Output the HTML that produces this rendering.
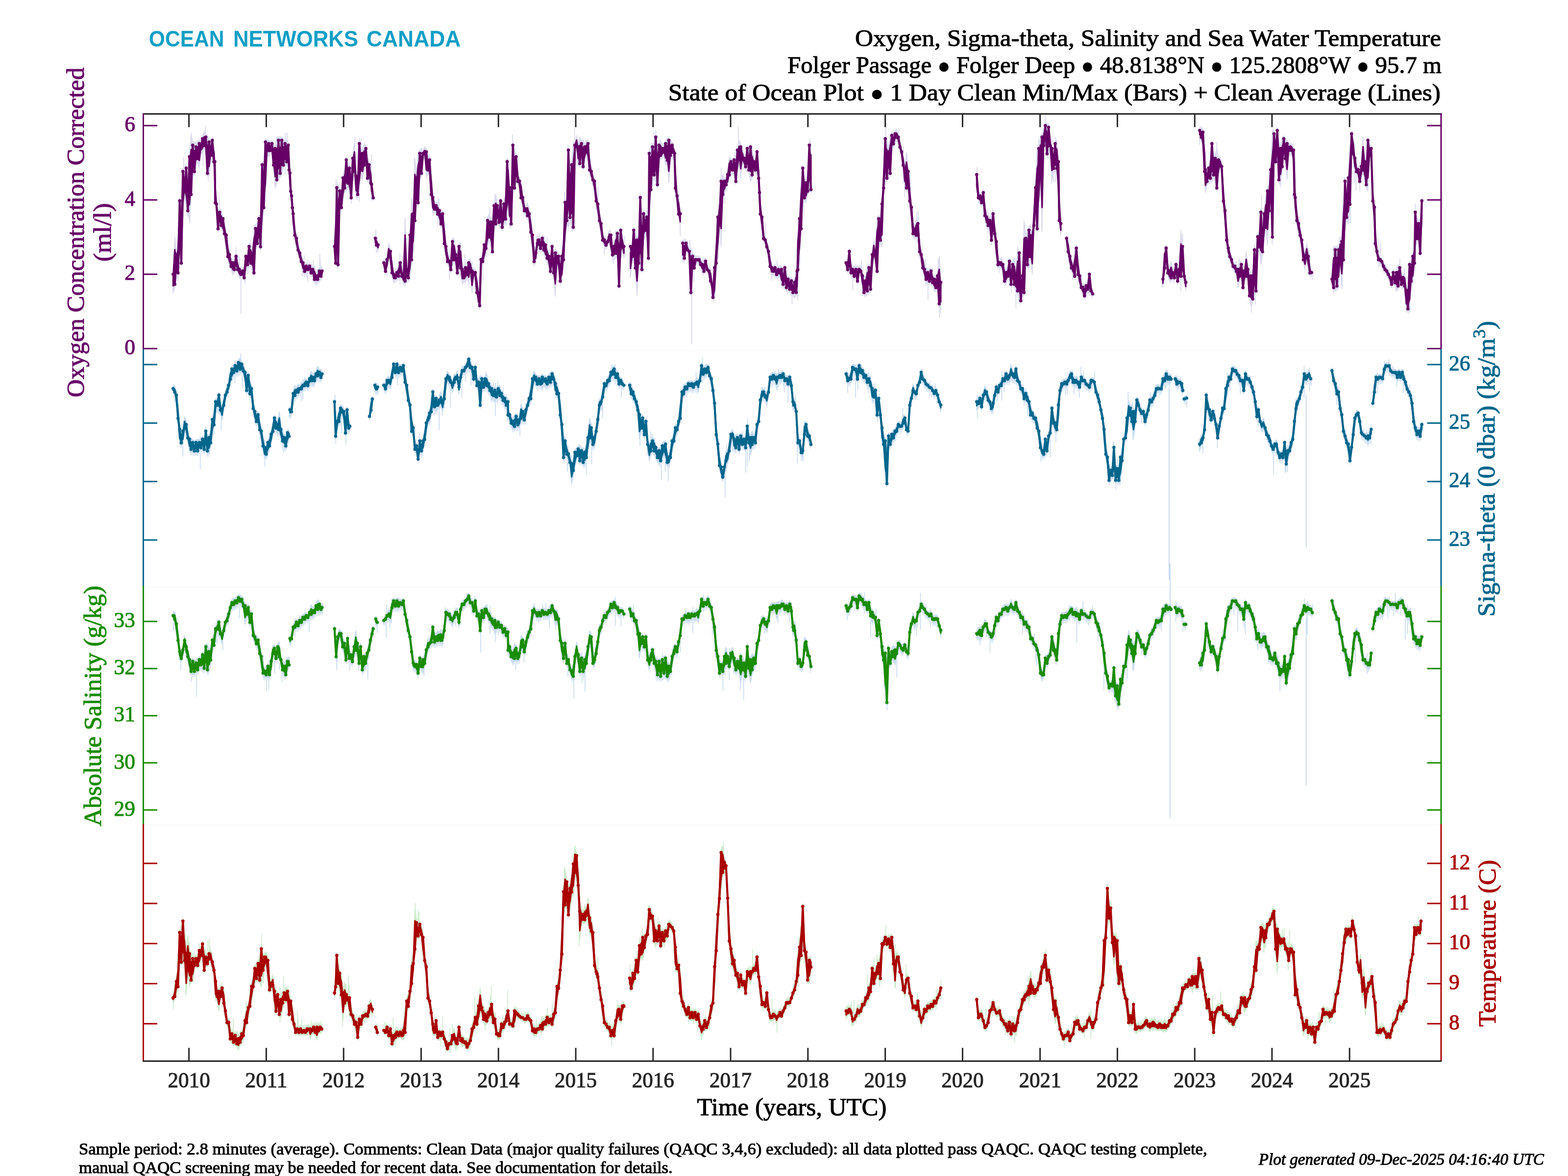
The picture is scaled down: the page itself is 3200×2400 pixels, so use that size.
<!DOCTYPE html>
<html><head><meta charset="utf-8"><title>Ocean Networks Canada - State of Ocean Plot</title><style>html,body{margin:0;padding:0;background:#fff;}svg{display:block;}</style></head><body>
<svg width="3200" height="2400" viewBox="0 0 3200 2400">
<rect width="3200" height="2400" fill="#fff"/>
<rect x="295" y="714.2" width="2644" height="3" fill="#fafafa"/>
<rect x="295" y="1196.2" width="2644" height="3" fill="#fafafa"/>
<rect x="295" y="1682.2" width="2644" height="3" fill="#fafafa"/>
<line x1="2386" y1="790" x2="2386" y2="1183" stroke="#c8dcef" stroke-width="2"/>
<line x1="2388" y1="1150" x2="2388" y2="1670" stroke="#c8dcef" stroke-width="2"/>
<line x1="2665.7" y1="807" x2="2665.7" y2="1117" stroke="#c8dcef" stroke-width="2"/>
<line x1="2665.7" y1="1267" x2="2665.7" y2="1603" stroke="#c8dcef" stroke-width="2"/>
<line x1="1411.7" y1="600" x2="1411.7" y2="703" stroke="#dcdcee" stroke-width="2"/>
<line x1="491.7" y1="567" x2="491.7" y2="640" stroke="#dcdcee" stroke-width="2"/>
<defs><clipPath id="pc"><rect x="294" y="234" width="2645" height="1930"/></clipPath></defs><g clip-path="url(#pc)">
<path d="M353.5 536V599M363.4 485.4V574.2M366.1 405.9V548.3M374.8 319.9V442.9M378.5 334V417.2M382.6 386.4V438.9M387.7 310.8V455.9M390.5 271.8V402.9M405.9 287.3V340.7M414.4 276.1V338.5M419.1 257.4V315.7M425.4 278.7V370.2M428.8 290.1V349.9M435.9 302.5V333.9M439.5 368.6V418.6M445.4 432.3V474.9M447.6 401.7V468M452.8 431.4V467.8M463.1 474.7V509.4M467.7 516.1V540.8M475.3 529.6V562.1M481.9 503.9V548.5M486.2 519.7V555.9M489.1 524.1V565.3M500.5 519.7V579.6M505.6 524.3V559M510.7 489.8V540.6M515.2 501.4V558.6M519.6 464.8V560.2M521.5 462.8V505.1M525.2 455.5V504M543.6 289.9V331.7M555.4 284.7V318.5M559.8 296V347.1M582.2 271.5V355.1M585.9 270.7V341M590.2 309.2V350.8M599 426.4V465.2M605.8 483.1V511.6M607.5 490.4V519.5M616.9 530.5V563.5M620.7 521.1V566.4M626.2 536.8V566.5M628.1 530.2V575.4M635.2 540.3V561.3M639.3 531.6V567.8M644 555.2V579.6M648.1 548.8V579.5M652.7 518V575.4M653.6 530.2V567M685.9 439.8V541.3M685.9 365.8V522.4M688.6 372.1V548.7M709.9 331.8V376.8M714 338.4V396.2M717.3 354.1V415.2M724.2 277.7V350.8M733.2 282.1V411.7M736.9 283.1V364.3M743.8 294.8V351.5M757.9 315.2V410.8M767.2 467.8V503.9M768.2 480.3V516.5M770.3 483.4V510.6M786.2 527.6V558M790 516.4V563.2M801.3 532.6V562.3M807.4 548.5V576.7M816.3 518.4V580.8M821.1 522.4V573.4M826.8 444.4V585M831.4 540.9V574.6M840.6 406.1V540.3M844.7 412.8V512.8M845.5 322.1V468.6M852.8 311.6V425.3M860.8 306.5V358.6M863.9 306.9V327.3M870.7 305.6V366.4M872.4 314V355.2M876.4 317.3V361.6M880.4 348.5V406.8M894.1 403.4V461M896.1 406.2V452.2M905.9 449.6V502.7M911 495.6V537.4M913 507.4V536.8M917.2 510.6V571.1M920 518.6V559.6M925.4 489.1V533.7M939.1 498.2V566.5M948.7 519.1V578.9M956.6 527.5V581.7M963.9 535.1V595.1M967.4 545.8V565.3M970 553.2V586.8M985.3 514.4V572.7M992.9 482.4V523.5M999.5 423V497.3M1009 416.1V470.4M1010.2 396.5V469.2M1019.7 417.9V460.4M1033.2 391.8V460.9M1040.3 369.3V462.7M1042 398.3V464.2M1045.9 274.4V393.9M1070.3 405.3V433.7M1076.6 415.2V449.5M1084.7 445.6V483.4M1089.4 498.2V544.1M1094 510.5V533.5M1095.3 482V512.6M1101.2 475.6V507.1M1111.2 482.2V519.2M1116.7 484.5V541.5M1121.4 506.4V548.3M1123.7 525.1V558.7M1126.8 498.9V555.3M1132.6 506.4V604.9M1152.2 392.1V507.1M1159.3 294.1V467.5M1172.6 262.1V332.3M1178.7 294.1V338.3M1186.8 289.4V320.8M1199.9 288.1V330.5M1208.9 346.7V378.8M1216.4 390.9V428.3M1220.5 381.3V436.9M1232.9 485.9V518.7M1235.4 483.4V509.3M1244.2 472.7V488.8M1249.4 496.3V534M1252.3 496.5V538.3M1255.5 470.1V527.6M1270.9 480.4V510.1M1274.6 482V525.9M1286.3 496.4V567.9M1289.1 506.7V541M1304.1 473V543M1306.7 393.7V547.5M1320.1 427.6V477.5M1324 425V530.8M1329.1 291.6V392.5M1332.5 290.8V379.7M1334.5 269.1V370M1338.4 266.5V377.8M1346 284.5V350.6M1374.8 298.7V325.5M1377.3 338.2V391.6M1383.1 396.2V410M1385.4 394.7V441.8M1388.2 426.3V481.6M1392.2 491.7V532.2M1397.3 486.1V532.3M1399.3 491.8V519.4M1403.5 489.7V519.2M1407.8 490.3V523.8M1415.8 522.9V576.5M1423.4 520.9V536.2M1431.9 531.5V557.5M1445.6 546.9V562.7M1461.8 492V553.2M1466 425V528.9M1467.6 403.2V460.9M1471.6 341.8V504.6M1479.2 362.4V415.7M1482.6 364.8V387.1M1489.3 320.3V363.3M1491.1 321.6V364.6M1495.6 329.1V354.5M1499.7 309.2V362.9M1501.3 316.8V375.8M1506.9 258V337.8M1512 293.9V364.2M1517.8 316V346.6M1520.8 316.1V346.9M1536 305.9V361.4M1538.9 316.8V348.5M1542.7 322.8V350.8M1544 305.6V358M1549.6 345.5V373.1M1557.8 472.4V490.1M1562.3 454.7V507.4M1571.2 523.3V556.1M1574.6 537.6V574M1585.8 531.3V570.5M1588.3 545.4V574.6M1606.3 552.1V592M1607.6 559.8V600.7M1613 566.4V598.9M1616.4 568.8V621.1M1627.9 518V612M1632.6 440.6V540.5M1635.2 359.1V471.8M1640.3 365.1V442.7M1652.2 282.6V384.3M1729.1 528.3V554.7M1733.5 508.5V556.6M1736.9 536.8V569.2M1740.5 545.4V592.2M1746.4 538.8V570.5M1758.2 532.1V574M1759.8 553.3V604.5M1771.2 540.2V597.2M1790.3 446.1V557.9M1793.3 439.3V500.5M1802.8 346V389.1M1807.9 252.8V376.5M1814.2 304.7V365.7M1824.2 275.6V303.6M1829.2 263.8V286.9M1834.5 263.1V294.6M1836.9 289.6V303.6M1843.3 298.3V374.1M1845.8 340.5V403M1854.3 343.2V392.4M1857.8 351.3V415.4M1864.5 452.9V481M1871.2 433.7V494.6M1873.9 431.1V482M1875.8 490.4V527.8M1879 514.5V536.5M1887.2 529.4V571.4M1889.4 529.1V583.2M1893.8 552.6V612.7M1896.8 547.3V577.1M1902.6 547V580.8M1907.4 564.4V592.9M1914.5 528V583.6M1917.4 522.8V647.2M1919 566.8V639.3M1993.8 341.1V396.5M2014.2 438.6V468.4M2016.5 428.1V477.2M2023.3 441.3V501.1M2025.3 426.1V491.3M2035.6 526.5V549.5M2039.8 530.9V557.8M2044.6 523.3V550.4M2048.9 543.7V577.1M2053.7 547.4V579.4M2061 528.5V569.3M2063.9 532.4V597.2M2066.4 533V578.9M2073.3 551.9V629.3M2076.5 502.4V597M2081.2 512.1V617.8M2083.1 572.7V617M2095.9 466.9V545.8M2101.3 463V547M2109.7 421.6V463.9M2113.9 364V444.7M2119.7 285.2V434.3M2126.2 275V473.8M2129.1 264.7V305.7M2133.2 221.3V293.6M2139.6 256.1V323.9M2142.7 289.9V301.8M2146.3 279.4V374.6M2149.6 328.7V371.5M2154.1 279.7V371.4M2156.1 286.1V347.4M2162.5 394.1V453.8M2164.2 453V478.1M2179.4 488.9V523.7M2184 517.6V551.6M2189.1 540.7V571.2M2193 503.9V569M2196.2 501.4V527M2200.4 523.3V578.2M2207.2 559.9V592.2M2223.7 555.9V601.7M2225.3 579.5V600.2M2229.3 595.3V608M2372.3 557.9V585.8M2376.2 502.3V551.5M2393 549.7V567.3M2395.3 547.9V577.9M2399.5 534.3V553.5M2404.5 540V579.4M2409.9 469V594.5M2413.6 477.2V576.6M2448.1 260.7V295.9M2456.2 266.4V301.3M2459.6 313.2V391.5M2462.5 344.2V375.7M2466.8 336V372.5M2470.5 320.3V375.5M2482.9 289.3V390.1M2503.7 461.3V500.8M2506 492.3V526.9M2509.2 510.2V528.4M2515.4 536.1V547.6M2523.2 531.5V562.6M2527.8 530.4V583.8M2530 527.3V571.1M2537.3 540.2V593.7M2554 552.2V639.3M2559.6 497.8V602.4M2561.9 503V622.1M2570.6 475.7V515.7M2574.6 398V537.1M2578.6 430.6V495.2M2586.2 386.5V500.4M2589.6 377V447.8M2596.3 262.3V499.7M2603.9 277V347.8M2605.7 262.4V331.1M2610 292.3V373.5M2613.5 298.8V382.2M2615.8 281.4V347.4M2618.7 279.5V330.1M2622.1 285.1V332.6M2631.1 291.4V314.8M2635.3 290.3V319.6M2643 320.7V436M2644.3 389.7V431.7M2645.7 429V454M2650.8 450.4V479.8M2652.5 441.1V483.4M2670.9 505.9V559.8M2678 549.2V571M2719.6 566.5V587.7M2721.3 503V599.6M2728.7 503.2V589.6M2733.8 483.4V545.5M2739.1 483.7V590.3M2740.5 412.1V537.2M2743.5 361.1V478M2748.4 382.3V448.7M2755.8 302.4V456M2759.7 268V304.7M2764.3 311V373.2M2767.4 336.5V389.3M2772.1 339.5V369.3M2775.3 329.2V390.8M2789.3 317.3V385.4M2794.7 294.6V328.3M2805.4 415.3V468.1M2813.2 488V545.4M2817.4 494.7V541.3M2824.8 534.6V552.4M2851.1 543.4V592.6M2856.8 527.3V575.3M2860.4 562.7V590.6M2865.9 547.1V604M2882.9 519.2V577M2887.8 485.6V541.1M2888 414.9V508.6M2896.5 451.5V502.3" stroke="#d6d6ec" stroke-width="1.6" fill="none"/>
<path d="M353.3 550.7 L356.7 480.7 L360 510.7 L363.3 487.3 L366.7 400.7 L370 410.7 L373.3 340.7 L376.7 354 L380 334 L383.3 380.7 L386.7 310.7 L390 270.7 L393.3 287.3 L396.7 287.3 L400 290.7 L403.3 284 L406.7 284 L410 284 L413.3 274 L416.7 265.7 L420 270.7 L423.3 274 L426.7 280.7 L430 287.3 L433.3 277.3 L436.7 297.3 L438.3 320.7 L439.3 367.3 L441.7 407.3 L445 427.3 L448.3 424 L451.7 427.3 L455 437.3 L458.3 454 L461.7 470.7 L465 494 L468.3 510.7 L471.7 524 L475 527.3 L478.3 530.7 L481.7 514 L485 527.3 L488.3 540.7 L491.7 544 L495 544 L498.3 544 L501.7 514 L505 520.7 L508.3 494 L511.7 494 L515 510.7 L518.3 460.7 L521.7 457.3 L525 450.7 L528.3 437.3 L531.7 437.3 L535 327.3 L538.3 327.3 L541.7 280.7 L545 284 L548.3 284 L551.7 287.3 L555 284 L558.3 290.7 L561.7 294 L565 277.3 L568.3 277.3 L571.7 277.3 L575 277.3 L578.3 280.7 L581.7 284 L585 280.7 L588.3 287.3 L590 310.7 L591.7 344 L593.3 377.3 L595 390.7 L596.7 407.3 L598.3 427.3 L601.7 460.7 L605 477.3 L608.3 494 L611.7 507.3 L615 517.3 L618.3 527.3 L621.7 534 L625 534 L628.3 537.3 L631.7 534 L635 537.3 L638.3 540.7 L641.7 540.7 L645 554 L648.3 550.7 L651.7 544 L655 540.7 L657.3 544 L657.3 570.3 L655 573.7 L651.7 577 L648.3 580.3 L645 583.7 L641.7 580.3 L638.3 563.7 L635 567 L631.7 560.3 L628.3 560.3 L625 563.7 L621.7 563.7 L618.3 560.3 L615 543.7 L611.7 537 L608.3 520.3 L605 510.3 L601.7 490.3 L598.3 467 L596.7 433.7 L595 420.3 L593.3 400.3 L591.7 390.3 L590 357 L588.3 343.7 L585 340.3 L581.7 343.7 L578.3 347 L575 360.3 L571.7 363.7 L568.3 367 L565 377 L561.7 387 L558.3 347 L555 313.7 L551.7 317 L548.3 323.7 L545 317 L541.7 407 L538.3 433.7 L535 473.7 L531.7 513.7 L528.3 500.3 L525 507 L521.7 510.3 L518.3 567 L515 557 L511.7 547 L508.3 550.3 L505 550.3 L501.7 557 L498.3 577 L495 567 L491.7 570.3 L488.3 570.3 L485 560.3 L481.7 553.7 L478.3 560.3 L475 563.7 L471.7 553.7 L468.3 547 L465 533.7 L461.7 513.7 L458.3 487 L455 480.3 L451.7 470.3 L448.3 460.3 L445 477 L441.7 430.3 L439.3 423.7 L438.3 380.3 L436.7 340.3 L433.3 333.7 L430 327 L426.7 363.7 L423.3 363.7 L420 317 L416.7 307 L413.3 317 L410 313.7 L406.7 347 L403.3 333.7 L400 340.3 L396.7 360.3 L393.3 360.3 L390 407 L386.7 453.7 L383.3 440.3 L380 423.7 L376.7 400.3 L373.3 440.3 L370 547 L366.7 540.3 L363.3 567 L360 573.7 L356.7 590.3 L353.3 600.3 Z M682.7 494 L685 434 L687.3 374 L690 374 L693.3 380.7 L696.7 387.3 L700 354 L703.3 344 L706.7 317.3 L710 327.3 L713.3 334 L716.7 354 L720 314 L723.3 290.7 L726.7 350.7 L730 360.7 L733.3 284 L736.7 294 L740 304 L743.3 290.7 L746.7 294 L750 314 L753.3 327.3 L756.7 340.7 L758.3 367.3 L761.7 394 L761.7 413.7 L758.3 403.7 L756.7 383.7 L753.3 373.7 L750 373.7 L746.7 337 L743.3 347 L740 370.3 L736.7 357 L733.3 397 L730 407 L726.7 407 L723.3 357 L720 373.7 L716.7 413.7 L713.3 400.3 L710 383.7 L706.7 393.7 L703.3 393.7 L700 413.7 L696.7 433.7 L693.3 420.3 L690 550.3 L687.3 527 L685 547 L682.7 523.7 Z M766 477.3 L768.3 480.7 L771.7 490.7 L771.7 517 L768.3 510.3 L766 507 Z M783.3 527.3 L786.7 534 L790 520.7 L793.3 494 L796.7 504 L800 527.3 L803.3 550.7 L806.7 550.7 L810 547.3 L813.3 537.3 L816.7 527.3 L820 544 L823.3 554 L826.7 444 L830 540.7 L833.3 544 L836.7 470.7 L840 400.7 L843.3 427.3 L846.7 320.7 L850 354 L853.3 307.3 L856.7 304 L860 300.7 L863.3 304 L866.7 297.3 L870 300.7 L873.3 314 L876.7 317.3 L880 350.7 L883.3 394 L886.7 407.3 L890 410.7 L893.3 410.7 L896.7 420.7 L900 427.3 L903.3 427.3 L906.7 454 L910 494 L913.3 510.7 L916.7 524 L920 524 L923.3 484 L926.7 484 L930 510.7 L933.3 514 L936.7 494 L940 494 L943.3 540.7 L946.7 540.7 L950 537.3 L953.3 534 L956.7 527.3 L960 527.3 L963.3 544 L966.7 544 L970 547.3 L973.3 560.7 L976.7 594 L979 577.3 L981.7 520.7 L985 514 L988.3 490.7 L991.7 487.3 L995 440.7 L998.3 434 L1001.7 444 L1005 437.3 L1008.3 410.7 L1011.7 394 L1015 410.7 L1018.3 420.7 L1021.7 400.7 L1025 427.3 L1028.3 407.3 L1031.7 394 L1035 320.7 L1036.7 320.7 L1040 374 L1043.3 394 L1046.7 287.3 L1050 300.7 L1053.3 310.7 L1056.7 347.3 L1060 360.7 L1063.3 364 L1066.7 394 L1070 410.7 L1073.3 417.3 L1076.7 410.7 L1080 427.3 L1083.3 444 L1086.7 470.7 L1090 500.7 L1093.3 507.3 L1096.7 477.3 L1100 480.7 L1103.3 484 L1106.7 477.3 L1110 480.7 L1113.3 490.7 L1116.7 500.7 L1120 514 L1123.3 524 L1126.7 494 L1130 524 L1133.3 507.3 L1136.7 510.7 L1140 514 L1143.3 527.3 L1146.7 514 L1150 480.7 L1153.3 404 L1156.7 410.7 L1160 297.3 L1163.3 327.3 L1166.7 327.3 L1170 287.3 L1173.3 287.3 L1176.7 274 L1180 290.7 L1183.3 277.3 L1186.7 284 L1190 284 L1193.3 290.7 L1196.7 284 L1200 284 L1203.3 317.3 L1206.7 340.7 L1210 354 L1213.3 360.7 L1216.7 387.3 L1220 407.3 L1223.3 427.3 L1226.7 447.3 L1230 470.7 L1233.3 480.7 L1236.7 484 L1240 484 L1243.3 467.3 L1246.7 470.7 L1250 500.7 L1253.3 494 L1256.7 474 L1260 467.3 L1263.3 480.7 L1266.7 460.7 L1270 477.3 L1273.3 494 L1273.3 530.3 L1270 513.7 L1266.7 533.7 L1263.3 593.7 L1260 527 L1256.7 527 L1253.3 533.7 L1250 530.3 L1246.7 520.3 L1243.3 493.7 L1240 507 L1236.7 510.3 L1233.3 507 L1230 500.3 L1226.7 483.7 L1223.3 460.3 L1220 440.3 L1216.7 420.3 L1213.3 397 L1210 377 L1206.7 370.3 L1203.3 357 L1200 333.7 L1196.7 320.3 L1193.3 333.7 L1190 350.3 L1186.7 327 L1183.3 343.7 L1180 340.3 L1176.7 307 L1173.3 317 L1170 473.7 L1166.7 473.7 L1163.3 453.7 L1160 467 L1156.7 460.3 L1153.3 500.3 L1150 540.3 L1146.7 580.3 L1143.3 583.7 L1140 557 L1136.7 540.3 L1133.3 607 L1130 567 L1126.7 557 L1123.3 563.7 L1120 547 L1116.7 537 L1113.3 533.7 L1110 520.3 L1106.7 513.7 L1103.3 517 L1100 513.7 L1096.7 507 L1093.3 540.3 L1090 543.7 L1086.7 513.7 L1083.3 483.7 L1080 453.7 L1076.7 450.3 L1073.3 443.7 L1070 440.3 L1066.7 427 L1063.3 413.7 L1060 387 L1056.7 380.3 L1053.3 373.7 L1050 393.7 L1046.7 393.7 L1043.3 467 L1040 467 L1036.7 413.7 L1035 453.7 L1031.7 457 L1028.3 467 L1025 473.7 L1021.7 470.3 L1018.3 463.7 L1015 457 L1011.7 467 L1008.3 473.7 L1005 523.7 L1001.7 507 L998.3 493.7 L995 507 L991.7 517 L988.3 537 L985 543.7 L981.7 547 L979 633.7 L976.7 630.3 L973.3 607 L970 573.7 L966.7 570.3 L963.3 600.3 L960 557 L956.7 583.7 L953.3 570.3 L950 580.3 L946.7 577 L943.3 583.7 L940 557 L936.7 560.3 L933.3 567 L930 543.7 L926.7 540.3 L923.3 543.7 L920 560.3 L916.7 547 L913.3 543.7 L910 530.3 L906.7 507 L903.3 470.3 L900 467 L896.7 457 L893.3 447 L890 440.3 L886.7 437 L883.3 440.3 L880 407 L876.7 367 L873.3 357 L870 367 L866.7 320.3 L863.3 330.3 L860 363.7 L856.7 373.7 L853.3 423.7 L850 423.7 L846.7 460.3 L843.3 517 L840 540.3 L836.7 573.7 L833.3 577 L830 577 L826.7 583.7 L823.3 583.7 L820 573.7 L816.7 567 L813.3 573.7 L810 573.7 L806.7 577 L803.3 580.3 L800 567 L796.7 543.7 L793.3 533.7 L790 553.7 L786.7 563.7 L783.3 550.3 Z M1286.7 494 L1290 507.3 L1293.3 460.7 L1296.7 470.7 L1300 480.7 L1303.3 484 L1306.7 394 L1310 447.3 L1313.3 427.3 L1316.7 434 L1320 434 L1323.3 437.3 L1325 304 L1328.3 294 L1331.7 290.7 L1335 290.7 L1338.3 270.7 L1341.7 297.3 L1345 287.3 L1348.3 284 L1351.7 294 L1355 290.7 L1358.3 284 L1361.7 280.7 L1365 277.3 L1368.3 284 L1371.7 287.3 L1375 294 L1376.7 304 L1378.3 334 L1381.7 390.7 L1385 400.7 L1388.3 427.3 L1388.3 467 L1385 447 L1381.7 413.7 L1378.3 393.7 L1376.7 347 L1375 320.3 L1371.7 327 L1368.3 327 L1365 377 L1361.7 337 L1358.3 340.3 L1355 320.3 L1351.7 327 L1348.3 327 L1345 340.3 L1341.7 387 L1338.3 373.7 L1335 367 L1331.7 373.7 L1328.3 397 L1325 460.3 L1323.3 537 L1320 483.7 L1316.7 480.3 L1313.3 500.3 L1310 560.3 L1306.7 547 L1303.3 547 L1300 607 L1296.7 557 L1293.3 540.3 L1290 533.7 L1286.7 570.3 Z M1393.3 487.3 L1396.7 487.3 L1400 487.3 L1403.3 497.3 L1406.7 504 L1410 504 L1413.3 514 L1416.7 517.3 L1420 520.7 L1423.3 520.7 L1426.7 520.7 L1430 524 L1433.3 530.7 L1436.7 527.3 L1440 524 L1443.3 537.3 L1446.7 544 L1450 544 L1453.3 570.7 L1455 594 L1458.3 537.3 L1461.7 487.3 L1465 434 L1468.3 407.3 L1471.7 360.7 L1475 354 L1478.3 360.7 L1481.7 360.7 L1485 347.3 L1488.3 317.3 L1491.7 320.7 L1495 324 L1498.3 317.3 L1501.7 320.7 L1505 297.3 L1508.3 284 L1511.7 290.7 L1515 300.7 L1518.3 314 L1521.7 320.7 L1525 294 L1528.3 304 L1531.7 290.7 L1535 300.7 L1538.3 320.7 L1541.7 324 L1545 300.7 L1548.3 344 L1550 384 L1551.7 407.3 L1555 434 L1558.3 470.7 L1561.7 480.7 L1565 487.3 L1568.3 504 L1571.7 520.7 L1575 537.3 L1578.3 540.7 L1581.7 537.3 L1585 544 L1588.3 540.7 L1591.7 540.7 L1595 540.7 L1598.3 550.7 L1601.7 537.3 L1605 554 L1608.3 560.7 L1611.7 564 L1615 564 L1618.3 570.7 L1621.7 567.3 L1625 547.3 L1626.7 544 L1628.3 467.3 L1631.7 437.3 L1635 367.3 L1638.3 334 L1641.7 360.7 L1645 364 L1648.3 354 L1651.7 287.3 L1655 287.3 L1655 397 L1651.7 387 L1648.3 400.3 L1645 417 L1641.7 413.7 L1638.3 420.3 L1635 477 L1631.7 527 L1628.3 560.3 L1626.7 603.7 L1625 607 L1621.7 610.3 L1618.3 607 L1615 607 L1611.7 600.3 L1608.3 597 L1605 597 L1601.7 590.3 L1598.3 590.3 L1595 587 L1591.7 567 L1588.3 570.3 L1585 570.3 L1581.7 567 L1578.3 563.7 L1575 567 L1571.7 553.7 L1568.3 530.3 L1565 513.7 L1561.7 500.3 L1558.3 497 L1555 473.7 L1551.7 447 L1550 420.3 L1548.3 373.7 L1545 360.3 L1541.7 357 L1538.3 353.7 L1535 367 L1531.7 373.7 L1528.3 357 L1525 350.3 L1521.7 350.3 L1518.3 343.7 L1515 333.7 L1511.7 367 L1508.3 330.3 L1505 360.3 L1501.7 380.3 L1498.3 360.3 L1495 357 L1491.7 360.3 L1488.3 367 L1485 383.7 L1481.7 387 L1478.3 400.3 L1475 407 L1471.7 503.7 L1468.3 467 L1465 520.3 L1461.7 547 L1458.3 613.7 L1455 617 L1453.3 600.3 L1450 583.7 L1446.7 567 L1443.3 560.3 L1440 550.3 L1436.7 563.7 L1433.3 560.3 L1430 550.3 L1426.7 543.7 L1423.3 540.3 L1420 540.3 L1416.7 557 L1413.3 537 L1410 607 L1406.7 527 L1403.3 520.3 L1400 513.7 L1396.7 537 L1393.3 537 Z M1726.7 527.3 L1730 527.3 L1733.3 504 L1736.7 534 L1740 540.7 L1743.3 540.7 L1746.7 540.7 L1750 540.7 L1753.3 540.7 L1756.7 540.7 L1760 554 L1763.3 560.7 L1766.7 564 L1770 537.3 L1773.3 537.3 L1776.7 540.7 L1780 510.7 L1783.3 487.3 L1786.7 514 L1790 440.7 L1793.3 437.3 L1796.7 440.7 L1800 407.3 L1803.3 344 L1806.7 274 L1810 280.7 L1813.3 300.7 L1816.7 274 L1820 267.3 L1823.3 270.7 L1826.7 264 L1830 260.7 L1833.3 270.7 L1836.7 284 L1840 300.7 L1843.3 314 L1846.7 337.3 L1850 307.3 L1853.3 340.7 L1856.7 377.3 L1860 414 L1863.3 447.3 L1866.7 460.7 L1870 444 L1873.3 447.3 L1876.7 487.3 L1880 510.7 L1883.3 517.3 L1886.7 540.7 L1890 544 L1893.3 547.3 L1896.7 547.3 L1900 544 L1903.3 554 L1906.7 560.7 L1910 564 L1913.3 554 L1916.7 520.7 L1920 567.3 L1920 637 L1916.7 630.3 L1913.3 590.3 L1910 597 L1906.7 597 L1903.3 587 L1900 583.7 L1896.7 583.7 L1893.3 583.7 L1890 580.3 L1886.7 570.3 L1883.3 557 L1880 533.7 L1876.7 523.7 L1873.3 483.7 L1870 490.3 L1866.7 490.3 L1863.3 487 L1860 453.7 L1856.7 420.3 L1853.3 393.7 L1850 393.7 L1846.7 387 L1843.3 347 L1840 323.7 L1836.7 310.3 L1833.3 297 L1830 290.3 L1826.7 293.7 L1823.3 303.7 L1820 303.7 L1816.7 363.7 L1813.3 360.3 L1810 373.7 L1806.7 373.7 L1803.3 393.7 L1800 507 L1796.7 500.3 L1793.3 507 L1790 563.7 L1786.7 540.3 L1783.3 527 L1780 557 L1776.7 600.3 L1773.3 600.3 L1770 603.7 L1766.7 607 L1763.3 607 L1760 590.3 L1756.7 563.7 L1753.3 567 L1750 583.7 L1746.7 567 L1743.3 573.7 L1740 570.3 L1736.7 567 L1733.3 557 L1730 560.3 L1726.7 550.3 Z M1993.3 347.3 L1996.7 387.3 L2000 390.7 L2003.3 394 L2006.7 384 L2010 410.7 L2013.3 434 L2016.7 434 L2020 440.7 L2023.3 437.3 L2026.7 427.3 L2030 454 L2033.3 484 L2036.7 520.7 L2040 527.3 L2043.3 524 L2046.7 530.7 L2050 540.7 L2053.3 547.3 L2056.7 540.7 L2060 524 L2063.3 540.7 L2066.7 530.7 L2070 524 L2073.3 557.3 L2076.7 507.3 L2080 507.3 L2083.3 567.3 L2086.7 554 L2090 447.3 L2093.3 477.3 L2096.7 467.3 L2100 460.7 L2103.3 457.3 L2106.7 474 L2110 424 L2113.3 374 L2116.7 300.7 L2120 294 L2123.3 274 L2126.7 270.7 L2130 260.7 L2133.3 247.3 L2136.7 250.7 L2140 250.7 L2143.3 284 L2146.7 294 L2150 324 L2153.3 284 L2156.7 284 L2160 320.7 L2161.7 394 L2165 447.3 L2165 483.7 L2161.7 460.3 L2160 407 L2156.7 353.7 L2153.3 357 L2150 353.7 L2146.7 370.3 L2143.3 307 L2140 320.3 L2136.7 323.7 L2133.3 290.3 L2130 307 L2126.7 473.7 L2123.3 353.7 L2120 437 L2116.7 477 L2113.3 443.7 L2110 470.3 L2106.7 563.7 L2103.3 533.7 L2100 550.3 L2096.7 550.3 L2093.3 527 L2090 607 L2086.7 607 L2083.3 623.7 L2080 620.3 L2076.7 603.7 L2073.3 600.3 L2070 590.3 L2066.7 583.7 L2063.3 590.3 L2060 573.7 L2056.7 573.7 L2053.3 583.7 L2050 583.7 L2046.7 560.3 L2043.3 550.3 L2040 550.3 L2036.7 550.3 L2033.3 530.3 L2030 487 L2026.7 487 L2023.3 500.3 L2020 473.7 L2016.7 470.3 L2013.3 467 L2010 450.3 L2006.7 420.3 L2003.3 423.7 L2000 420.3 L1996.7 413.7 L1993.3 397 Z M2176.7 477.3 L2180 487.3 L2183.3 514 L2186.7 524 L2190 537.3 L2193.3 514 L2196.7 497.3 L2200 524 L2203.3 554 L2206.7 574 L2210 577.3 L2213.3 577.3 L2216.7 574 L2220 570.7 L2223.3 550.7 L2226.7 577.3 L2230 590.7 L2230 610.3 L2226.7 603.7 L2223.3 603.7 L2220 600.3 L2216.7 607 L2213.3 613.7 L2210 607 L2206.7 597 L2203.3 587 L2200 570.3 L2196.7 533.7 L2193.3 573.7 L2190 567 L2186.7 557 L2183.3 547 L2180 523.7 L2176.7 500.3 Z M2373.3 560.7 L2376.7 500.7 L2380 497.3 L2383.3 534 L2386.7 544 L2390 530.7 L2393.3 547.3 L2396.7 547.3 L2400 530.7 L2403.3 540.7 L2406.7 540.7 L2410 470.7 L2413.3 494 L2416.7 554 L2420 567.3 L2420 597 L2416.7 573.7 L2413.3 570.3 L2410 573.7 L2406.7 573.7 L2403.3 583.7 L2400 560.3 L2396.7 577 L2393.3 573.7 L2390 577 L2386.7 577 L2383.3 567 L2380 543.7 L2376.7 557 L2373.3 590.3 Z M2448.3 257.3 L2451.7 257.3 L2455 260.7 L2458.3 294 L2460 337.3 L2463.3 347.3 L2466.7 334 L2470 320.7 L2473.3 284 L2476.7 310.7 L2480 314 L2483.3 300.7 L2486.7 317.3 L2490 317.3 L2493.3 330.7 L2496.7 377.3 L2500 420.7 L2503.3 460.7 L2506.7 497.3 L2510 507.3 L2513.3 520.7 L2516.7 530.7 L2520 534 L2523.3 537.3 L2526.7 540.7 L2530 534 L2533.3 530.7 L2536.7 537.3 L2540 544 L2543.3 510.7 L2546.7 540.7 L2550 550.7 L2553.3 554 L2556.7 547.3 L2560 500.7 L2563.3 504 L2566.7 474 L2570 474 L2573.3 424 L2576.7 460.7 L2580 427.3 L2583.3 397.3 L2586.7 380.7 L2590 374 L2593.3 337.3 L2596.7 264 L2600 264 L2603.3 277.3 L2606.7 257.3 L2610 287.3 L2613.3 294 L2616.7 280.7 L2620 274 L2623.3 280.7 L2626.7 284 L2630 290.7 L2633.3 290.7 L2636.7 290.7 L2640 297.3 L2641.7 330.7 L2643.3 394 L2646.7 424 L2650 447.3 L2653.3 460.7 L2656.7 480.7 L2660 500.7 L2663.3 514 L2666.7 494 L2670 514 L2673.3 540.7 L2676.7 547.3 L2676.7 567 L2673.3 567 L2670 553.7 L2666.7 533.7 L2663.3 553.7 L2660 540.3 L2656.7 513.7 L2653.3 490.3 L2650 480.3 L2646.7 460.3 L2643.3 437 L2641.7 407 L2640 343.7 L2636.7 317 L2633.3 320.3 L2630 317 L2626.7 370.3 L2623.3 333.7 L2620 317 L2616.7 350.3 L2613.3 380.3 L2610 377 L2606.7 313.7 L2603.3 340.3 L2600 327 L2596.7 493.7 L2593.3 393.7 L2590 440.3 L2586.7 500.3 L2583.3 473.7 L2580 490.3 L2576.7 523.7 L2573.3 543.7 L2570 513.7 L2566.7 520.3 L2563.3 603.7 L2560 607 L2556.7 620.3 L2553.3 630.3 L2550 613.7 L2546.7 573.7 L2543.3 573.7 L2540 580.3 L2536.7 597 L2533.3 567 L2530 573.7 L2526.7 590.3 L2523.3 563.7 L2520 560.3 L2516.7 553.7 L2513.3 547 L2510 533.7 L2506.7 527 L2503.3 500.3 L2500 460.3 L2496.7 420.3 L2493.3 357 L2490 347 L2486.7 363.7 L2483.3 393.7 L2480 373.7 L2476.7 367 L2473.3 373.7 L2470 373.7 L2466.7 377 L2463.3 380.3 L2460 397 L2458.3 360.3 L2455 307 L2451.7 290.3 L2448.3 287 Z M2718.3 560.7 L2721.7 500.7 L2725 500.7 L2728.3 500.7 L2731.7 500.7 L2735 480.7 L2738.3 484 L2741.7 407.3 L2745 360.7 L2748.3 400.7 L2751.7 354 L2755 297.3 L2758.3 264 L2761.7 277.3 L2765 314 L2768.3 334 L2771.7 337.3 L2775 340.7 L2778.3 330.7 L2781.7 277.3 L2785 320.7 L2788.3 320.7 L2791.7 277.3 L2795 290.7 L2798.3 294 L2801.7 384 L2805 414 L2806.7 460.7 L2810 504 L2813.3 514 L2816.7 520.7 L2820 524 L2823.3 534 L2826.7 537.3 L2830 544 L2833.3 547.3 L2836.7 557.3 L2840 567.3 L2843.3 547.3 L2846.7 554 L2850 547.3 L2853.3 537.3 L2856.7 537.3 L2860 557.3 L2863.3 557.3 L2866.7 554 L2870 584 L2873.3 584 L2876.7 530.7 L2880 530.7 L2883.3 514 L2886.7 494 L2888.3 424 L2891.7 444 L2895 447.3 L2898.3 450.7 L2901.7 400.7 L2901.7 463.7 L2898.3 527 L2895 500.3 L2891.7 497 L2888.3 507 L2886.7 547 L2883.3 583.7 L2880 583.7 L2876.7 640.3 L2873.3 640.3 L2870 637 L2866.7 593.7 L2863.3 590.3 L2860 590.3 L2856.7 580.3 L2853.3 593.7 L2850 597 L2846.7 587 L2843.3 577 L2840 590.3 L2836.7 580.3 L2833.3 570.3 L2830 567 L2826.7 560.3 L2823.3 557 L2820 543.7 L2816.7 543.7 L2813.3 540.3 L2810 527 L2806.7 507 L2805 467 L2801.7 420.3 L2798.3 333.7 L2795 327 L2791.7 393.7 L2788.3 387 L2785 373.7 L2781.7 357 L2778.3 367 L2775 380.3 L2771.7 367 L2768.3 360.3 L2765 353.7 L2761.7 323.7 L2758.3 307 L2755 427 L2751.7 460.3 L2748.3 453.7 L2745 480.3 L2741.7 540.3 L2738.3 587 L2735 540.3 L2731.7 590.3 L2728.3 593.7 L2725 597 L2721.7 597 L2718.3 587 Z" fill="#ebebf5" stroke="none"/>
<path d="M353.3 554.2 L356.7 484.2 L360 514.2 L363.3 490.8 L366.7 404.2 L370 414.2 L373.3 344.2 L376.7 357.5 L380 337.5 L383.3 384.2 L386.7 314.2 L390 274.2 L393.3 290.8 L396.7 290.8 L400 294.2 L403.3 287.5 L406.7 287.5 L410 287.5 L413.3 277.5 L416.7 269.2 L420 274.2 L423.3 277.5 L426.7 284.2 L430 290.8 L433.3 280.8 L436.7 300.8 L438.3 324.2 L439.3 370.8 L441.7 410.8 L445 430.8 L448.3 427.5 L451.7 430.8 L455 440.8 L458.3 457.5 L461.7 474.2 L465 497.5 L468.3 514.2 L471.7 527.5 L475 530.8 L478.3 534.2 L481.7 517.5 L485 530.8 L488.3 544.2 L491.7 547.5 L495 547.5 L498.3 547.5 L501.7 517.5 L505 524.2 L508.3 497.5 L511.7 497.5 L515 514.2 L518.3 464.2 L521.7 460.8 L525 454.2 L528.3 440.8 L531.7 440.8 L535 330.8 L538.3 330.8 L541.7 284.2 L545 287.5 L548.3 287.5 L551.7 290.8 L555 287.5 L558.3 294.2 L561.7 297.5 L565 280.8 L568.3 280.8 L571.7 280.8 L575 280.8 L578.3 284.2 L581.7 287.5 L585 284.2 L588.3 290.8 L590 314.2 L591.7 347.5 L593.3 380.8 L595 394.2 L596.7 410.8 L598.3 430.8 L601.7 464.2 L605 480.8 L608.3 497.5 L611.7 510.8 L615 520.8 L618.3 530.8 L621.7 537.5 L625 537.5 L628.3 540.8 L631.7 537.5 L635 540.8 L638.3 544.2 L641.7 544.2 L645 557.5 L648.3 554.2 L651.7 547.5 L655 544.2 L657.3 547.5 L657.3 565.8 L655 569.2 L651.7 572.5 L648.3 575.8 L645 579.2 L641.7 575.8 L638.3 559.2 L635 562.5 L631.7 555.8 L628.3 555.8 L625 559.2 L621.7 559.2 L618.3 555.8 L615 539.2 L611.7 532.5 L608.3 515.8 L605 505.8 L601.7 485.8 L598.3 462.5 L596.7 429.2 L595 415.8 L593.3 395.8 L591.7 385.8 L590 352.5 L588.3 339.2 L585 335.8 L581.7 339.2 L578.3 342.5 L575 355.8 L571.7 359.2 L568.3 362.5 L565 372.5 L561.7 382.5 L558.3 342.5 L555 309.2 L551.7 312.5 L548.3 319.2 L545 312.5 L541.7 402.5 L538.3 429.2 L535 469.2 L531.7 509.2 L528.3 495.8 L525 502.5 L521.7 505.8 L518.3 562.5 L515 552.5 L511.7 542.5 L508.3 545.8 L505 545.8 L501.7 552.5 L498.3 572.5 L495 562.5 L491.7 565.8 L488.3 565.8 L485 555.8 L481.7 549.2 L478.3 555.8 L475 559.2 L471.7 549.2 L468.3 542.5 L465 529.2 L461.7 509.2 L458.3 482.5 L455 475.8 L451.7 465.8 L448.3 455.8 L445 472.5 L441.7 425.8 L439.3 419.2 L438.3 375.8 L436.7 335.8 L433.3 329.2 L430 322.5 L426.7 359.2 L423.3 359.2 L420 312.5 L416.7 302.5 L413.3 312.5 L410 309.2 L406.7 342.5 L403.3 329.2 L400 335.8 L396.7 355.8 L393.3 355.8 L390 402.5 L386.7 449.2 L383.3 435.8 L380 419.2 L376.7 395.8 L373.3 435.8 L370 542.5 L366.7 535.8 L363.3 562.5 L360 569.2 L356.7 585.8 L353.3 595.8 Z M682.7 497.5 L685 437.5 L687.3 377.5 L690 377.5 L693.3 384.2 L696.7 390.8 L700 357.5 L703.3 347.5 L706.7 320.8 L710 330.8 L713.3 337.5 L716.7 357.5 L720 317.5 L723.3 294.2 L726.7 354.2 L730 364.2 L733.3 287.5 L736.7 297.5 L740 307.5 L743.3 294.2 L746.7 297.5 L750 317.5 L753.3 330.8 L756.7 344.2 L758.3 370.8 L761.7 397.5 L761.7 409.2 L758.3 399.2 L756.7 379.2 L753.3 369.2 L750 369.2 L746.7 332.5 L743.3 342.5 L740 365.8 L736.7 352.5 L733.3 392.5 L730 402.5 L726.7 402.5 L723.3 352.5 L720 369.2 L716.7 409.2 L713.3 395.8 L710 379.2 L706.7 389.2 L703.3 389.2 L700 409.2 L696.7 429.2 L693.3 415.8 L690 545.8 L687.3 522.5 L685 542.5 L682.7 519.2 Z M766 480.8 L768.3 484.2 L771.7 494.2 L771.7 512.5 L768.3 505.8 L766 502.5 Z M783.3 530.8 L786.7 537.5 L790 524.2 L793.3 497.5 L796.7 507.5 L800 530.8 L803.3 554.2 L806.7 554.2 L810 550.8 L813.3 540.8 L816.7 530.8 L820 547.5 L823.3 557.5 L826.7 447.5 L830 544.2 L833.3 547.5 L836.7 474.2 L840 404.2 L843.3 430.8 L846.7 324.2 L850 357.5 L853.3 310.8 L856.7 307.5 L860 304.2 L863.3 307.5 L866.7 300.8 L870 304.2 L873.3 317.5 L876.7 320.8 L880 354.2 L883.3 397.5 L886.7 410.8 L890 414.2 L893.3 414.2 L896.7 424.2 L900 430.8 L903.3 430.8 L906.7 457.5 L910 497.5 L913.3 514.2 L916.7 527.5 L920 527.5 L923.3 487.5 L926.7 487.5 L930 514.2 L933.3 517.5 L936.7 497.5 L940 497.5 L943.3 544.2 L946.7 544.2 L950 540.8 L953.3 537.5 L956.7 530.8 L960 530.8 L963.3 547.5 L966.7 547.5 L970 550.8 L973.3 564.2 L976.7 597.5 L979 580.8 L981.7 524.2 L985 517.5 L988.3 494.2 L991.7 490.8 L995 444.2 L998.3 437.5 L1001.7 447.5 L1005 440.8 L1008.3 414.2 L1011.7 397.5 L1015 414.2 L1018.3 424.2 L1021.7 404.2 L1025 430.8 L1028.3 410.8 L1031.7 397.5 L1035 324.2 L1036.7 324.2 L1040 377.5 L1043.3 397.5 L1046.7 290.8 L1050 304.2 L1053.3 314.2 L1056.7 350.8 L1060 364.2 L1063.3 367.5 L1066.7 397.5 L1070 414.2 L1073.3 420.8 L1076.7 414.2 L1080 430.8 L1083.3 447.5 L1086.7 474.2 L1090 504.2 L1093.3 510.8 L1096.7 480.8 L1100 484.2 L1103.3 487.5 L1106.7 480.8 L1110 484.2 L1113.3 494.2 L1116.7 504.2 L1120 517.5 L1123.3 527.5 L1126.7 497.5 L1130 527.5 L1133.3 510.8 L1136.7 514.2 L1140 517.5 L1143.3 530.8 L1146.7 517.5 L1150 484.2 L1153.3 407.5 L1156.7 414.2 L1160 300.8 L1163.3 330.8 L1166.7 330.8 L1170 290.8 L1173.3 290.8 L1176.7 277.5 L1180 294.2 L1183.3 280.8 L1186.7 287.5 L1190 287.5 L1193.3 294.2 L1196.7 287.5 L1200 287.5 L1203.3 320.8 L1206.7 344.2 L1210 357.5 L1213.3 364.2 L1216.7 390.8 L1220 410.8 L1223.3 430.8 L1226.7 450.8 L1230 474.2 L1233.3 484.2 L1236.7 487.5 L1240 487.5 L1243.3 470.8 L1246.7 474.2 L1250 504.2 L1253.3 497.5 L1256.7 477.5 L1260 470.8 L1263.3 484.2 L1266.7 464.2 L1270 480.8 L1273.3 497.5 L1273.3 525.8 L1270 509.2 L1266.7 529.2 L1263.3 589.2 L1260 522.5 L1256.7 522.5 L1253.3 529.2 L1250 525.8 L1246.7 515.8 L1243.3 489.2 L1240 502.5 L1236.7 505.8 L1233.3 502.5 L1230 495.8 L1226.7 479.2 L1223.3 455.8 L1220 435.8 L1216.7 415.8 L1213.3 392.5 L1210 372.5 L1206.7 365.8 L1203.3 352.5 L1200 329.2 L1196.7 315.8 L1193.3 329.2 L1190 345.8 L1186.7 322.5 L1183.3 339.2 L1180 335.8 L1176.7 302.5 L1173.3 312.5 L1170 469.2 L1166.7 469.2 L1163.3 449.2 L1160 462.5 L1156.7 455.8 L1153.3 495.8 L1150 535.8 L1146.7 575.8 L1143.3 579.2 L1140 552.5 L1136.7 535.8 L1133.3 602.5 L1130 562.5 L1126.7 552.5 L1123.3 559.2 L1120 542.5 L1116.7 532.5 L1113.3 529.2 L1110 515.8 L1106.7 509.2 L1103.3 512.5 L1100 509.2 L1096.7 502.5 L1093.3 535.8 L1090 539.2 L1086.7 509.2 L1083.3 479.2 L1080 449.2 L1076.7 445.8 L1073.3 439.2 L1070 435.8 L1066.7 422.5 L1063.3 409.2 L1060 382.5 L1056.7 375.8 L1053.3 369.2 L1050 389.2 L1046.7 389.2 L1043.3 462.5 L1040 462.5 L1036.7 409.2 L1035 449.2 L1031.7 452.5 L1028.3 462.5 L1025 469.2 L1021.7 465.8 L1018.3 459.2 L1015 452.5 L1011.7 462.5 L1008.3 469.2 L1005 519.2 L1001.7 502.5 L998.3 489.2 L995 502.5 L991.7 512.5 L988.3 532.5 L985 539.2 L981.7 542.5 L979 629.2 L976.7 625.8 L973.3 602.5 L970 569.2 L966.7 565.8 L963.3 595.8 L960 552.5 L956.7 579.2 L953.3 565.8 L950 575.8 L946.7 572.5 L943.3 579.2 L940 552.5 L936.7 555.8 L933.3 562.5 L930 539.2 L926.7 535.8 L923.3 539.2 L920 555.8 L916.7 542.5 L913.3 539.2 L910 525.8 L906.7 502.5 L903.3 465.8 L900 462.5 L896.7 452.5 L893.3 442.5 L890 435.8 L886.7 432.5 L883.3 435.8 L880 402.5 L876.7 362.5 L873.3 352.5 L870 362.5 L866.7 315.8 L863.3 325.8 L860 359.2 L856.7 369.2 L853.3 419.2 L850 419.2 L846.7 455.8 L843.3 512.5 L840 535.8 L836.7 569.2 L833.3 572.5 L830 572.5 L826.7 579.2 L823.3 579.2 L820 569.2 L816.7 562.5 L813.3 569.2 L810 569.2 L806.7 572.5 L803.3 575.8 L800 562.5 L796.7 539.2 L793.3 529.2 L790 549.2 L786.7 559.2 L783.3 545.8 Z M1286.7 497.5 L1290 510.8 L1293.3 464.2 L1296.7 474.2 L1300 484.2 L1303.3 487.5 L1306.7 397.5 L1310 450.8 L1313.3 430.8 L1316.7 437.5 L1320 437.5 L1323.3 440.8 L1325 307.5 L1328.3 297.5 L1331.7 294.2 L1335 294.2 L1338.3 274.2 L1341.7 300.8 L1345 290.8 L1348.3 287.5 L1351.7 297.5 L1355 294.2 L1358.3 287.5 L1361.7 284.2 L1365 280.8 L1368.3 287.5 L1371.7 290.8 L1375 297.5 L1376.7 307.5 L1378.3 337.5 L1381.7 394.2 L1385 404.2 L1388.3 430.8 L1388.3 462.5 L1385 442.5 L1381.7 409.2 L1378.3 389.2 L1376.7 342.5 L1375 315.8 L1371.7 322.5 L1368.3 322.5 L1365 372.5 L1361.7 332.5 L1358.3 335.8 L1355 315.8 L1351.7 322.5 L1348.3 322.5 L1345 335.8 L1341.7 382.5 L1338.3 369.2 L1335 362.5 L1331.7 369.2 L1328.3 392.5 L1325 455.8 L1323.3 532.5 L1320 479.2 L1316.7 475.8 L1313.3 495.8 L1310 555.8 L1306.7 542.5 L1303.3 542.5 L1300 602.5 L1296.7 552.5 L1293.3 535.8 L1290 529.2 L1286.7 565.8 Z M1393.3 490.8 L1396.7 490.8 L1400 490.8 L1403.3 500.8 L1406.7 507.5 L1410 507.5 L1413.3 517.5 L1416.7 520.8 L1420 524.2 L1423.3 524.2 L1426.7 524.2 L1430 527.5 L1433.3 534.2 L1436.7 530.8 L1440 527.5 L1443.3 540.8 L1446.7 547.5 L1450 547.5 L1453.3 574.2 L1455 597.5 L1458.3 540.8 L1461.7 490.8 L1465 437.5 L1468.3 410.8 L1471.7 364.2 L1475 357.5 L1478.3 364.2 L1481.7 364.2 L1485 350.8 L1488.3 320.8 L1491.7 324.2 L1495 327.5 L1498.3 320.8 L1501.7 324.2 L1505 300.8 L1508.3 287.5 L1511.7 294.2 L1515 304.2 L1518.3 317.5 L1521.7 324.2 L1525 297.5 L1528.3 307.5 L1531.7 294.2 L1535 304.2 L1538.3 324.2 L1541.7 327.5 L1545 304.2 L1548.3 347.5 L1550 387.5 L1551.7 410.8 L1555 437.5 L1558.3 474.2 L1561.7 484.2 L1565 490.8 L1568.3 507.5 L1571.7 524.2 L1575 540.8 L1578.3 544.2 L1581.7 540.8 L1585 547.5 L1588.3 544.2 L1591.7 544.2 L1595 544.2 L1598.3 554.2 L1601.7 540.8 L1605 557.5 L1608.3 564.2 L1611.7 567.5 L1615 567.5 L1618.3 574.2 L1621.7 570.8 L1625 550.8 L1626.7 547.5 L1628.3 470.8 L1631.7 440.8 L1635 370.8 L1638.3 337.5 L1641.7 364.2 L1645 367.5 L1648.3 357.5 L1651.7 290.8 L1655 290.8 L1655 392.5 L1651.7 382.5 L1648.3 395.8 L1645 412.5 L1641.7 409.2 L1638.3 415.8 L1635 472.5 L1631.7 522.5 L1628.3 555.8 L1626.7 599.2 L1625 602.5 L1621.7 605.8 L1618.3 602.5 L1615 602.5 L1611.7 595.8 L1608.3 592.5 L1605 592.5 L1601.7 585.8 L1598.3 585.8 L1595 582.5 L1591.7 562.5 L1588.3 565.8 L1585 565.8 L1581.7 562.5 L1578.3 559.2 L1575 562.5 L1571.7 549.2 L1568.3 525.8 L1565 509.2 L1561.7 495.8 L1558.3 492.5 L1555 469.2 L1551.7 442.5 L1550 415.8 L1548.3 369.2 L1545 355.8 L1541.7 352.5 L1538.3 349.2 L1535 362.5 L1531.7 369.2 L1528.3 352.5 L1525 345.8 L1521.7 345.8 L1518.3 339.2 L1515 329.2 L1511.7 362.5 L1508.3 325.8 L1505 355.8 L1501.7 375.8 L1498.3 355.8 L1495 352.5 L1491.7 355.8 L1488.3 362.5 L1485 379.2 L1481.7 382.5 L1478.3 395.8 L1475 402.5 L1471.7 499.2 L1468.3 462.5 L1465 515.8 L1461.7 542.5 L1458.3 609.2 L1455 612.5 L1453.3 595.8 L1450 579.2 L1446.7 562.5 L1443.3 555.8 L1440 545.8 L1436.7 559.2 L1433.3 555.8 L1430 545.8 L1426.7 539.2 L1423.3 535.8 L1420 535.8 L1416.7 552.5 L1413.3 532.5 L1410 602.5 L1406.7 522.5 L1403.3 515.8 L1400 509.2 L1396.7 532.5 L1393.3 532.5 Z M1726.7 530.8 L1730 530.8 L1733.3 507.5 L1736.7 537.5 L1740 544.2 L1743.3 544.2 L1746.7 544.2 L1750 544.2 L1753.3 544.2 L1756.7 544.2 L1760 557.5 L1763.3 564.2 L1766.7 567.5 L1770 540.8 L1773.3 540.8 L1776.7 544.2 L1780 514.2 L1783.3 490.8 L1786.7 517.5 L1790 444.2 L1793.3 440.8 L1796.7 444.2 L1800 410.8 L1803.3 347.5 L1806.7 277.5 L1810 284.2 L1813.3 304.2 L1816.7 277.5 L1820 270.8 L1823.3 274.2 L1826.7 267.5 L1830 264.2 L1833.3 274.2 L1836.7 287.5 L1840 304.2 L1843.3 317.5 L1846.7 340.8 L1850 310.8 L1853.3 344.2 L1856.7 380.8 L1860 417.5 L1863.3 450.8 L1866.7 464.2 L1870 447.5 L1873.3 450.8 L1876.7 490.8 L1880 514.2 L1883.3 520.8 L1886.7 544.2 L1890 547.5 L1893.3 550.8 L1896.7 550.8 L1900 547.5 L1903.3 557.5 L1906.7 564.2 L1910 567.5 L1913.3 557.5 L1916.7 524.2 L1920 570.8 L1920 632.5 L1916.7 625.8 L1913.3 585.8 L1910 592.5 L1906.7 592.5 L1903.3 582.5 L1900 579.2 L1896.7 579.2 L1893.3 579.2 L1890 575.8 L1886.7 565.8 L1883.3 552.5 L1880 529.2 L1876.7 519.2 L1873.3 479.2 L1870 485.8 L1866.7 485.8 L1863.3 482.5 L1860 449.2 L1856.7 415.8 L1853.3 389.2 L1850 389.2 L1846.7 382.5 L1843.3 342.5 L1840 319.2 L1836.7 305.8 L1833.3 292.5 L1830 285.8 L1826.7 289.2 L1823.3 299.2 L1820 299.2 L1816.7 359.2 L1813.3 355.8 L1810 369.2 L1806.7 369.2 L1803.3 389.2 L1800 502.5 L1796.7 495.8 L1793.3 502.5 L1790 559.2 L1786.7 535.8 L1783.3 522.5 L1780 552.5 L1776.7 595.8 L1773.3 595.8 L1770 599.2 L1766.7 602.5 L1763.3 602.5 L1760 585.8 L1756.7 559.2 L1753.3 562.5 L1750 579.2 L1746.7 562.5 L1743.3 569.2 L1740 565.8 L1736.7 562.5 L1733.3 552.5 L1730 555.8 L1726.7 545.8 Z M1993.3 350.8 L1996.7 390.8 L2000 394.2 L2003.3 397.5 L2006.7 387.5 L2010 414.2 L2013.3 437.5 L2016.7 437.5 L2020 444.2 L2023.3 440.8 L2026.7 430.8 L2030 457.5 L2033.3 487.5 L2036.7 524.2 L2040 530.8 L2043.3 527.5 L2046.7 534.2 L2050 544.2 L2053.3 550.8 L2056.7 544.2 L2060 527.5 L2063.3 544.2 L2066.7 534.2 L2070 527.5 L2073.3 560.8 L2076.7 510.8 L2080 510.8 L2083.3 570.8 L2086.7 557.5 L2090 450.8 L2093.3 480.8 L2096.7 470.8 L2100 464.2 L2103.3 460.8 L2106.7 477.5 L2110 427.5 L2113.3 377.5 L2116.7 304.2 L2120 297.5 L2123.3 277.5 L2126.7 274.2 L2130 264.2 L2133.3 250.8 L2136.7 254.2 L2140 254.2 L2143.3 287.5 L2146.7 297.5 L2150 327.5 L2153.3 287.5 L2156.7 287.5 L2160 324.2 L2161.7 397.5 L2165 450.8 L2165 479.2 L2161.7 455.8 L2160 402.5 L2156.7 349.2 L2153.3 352.5 L2150 349.2 L2146.7 365.8 L2143.3 302.5 L2140 315.8 L2136.7 319.2 L2133.3 285.8 L2130 302.5 L2126.7 469.2 L2123.3 349.2 L2120 432.5 L2116.7 472.5 L2113.3 439.2 L2110 465.8 L2106.7 559.2 L2103.3 529.2 L2100 545.8 L2096.7 545.8 L2093.3 522.5 L2090 602.5 L2086.7 602.5 L2083.3 619.2 L2080 615.8 L2076.7 599.2 L2073.3 595.8 L2070 585.8 L2066.7 579.2 L2063.3 585.8 L2060 569.2 L2056.7 569.2 L2053.3 579.2 L2050 579.2 L2046.7 555.8 L2043.3 545.8 L2040 545.8 L2036.7 545.8 L2033.3 525.8 L2030 482.5 L2026.7 482.5 L2023.3 495.8 L2020 469.2 L2016.7 465.8 L2013.3 462.5 L2010 445.8 L2006.7 415.8 L2003.3 419.2 L2000 415.8 L1996.7 409.2 L1993.3 392.5 Z M2176.7 480.8 L2180 490.8 L2183.3 517.5 L2186.7 527.5 L2190 540.8 L2193.3 517.5 L2196.7 500.8 L2200 527.5 L2203.3 557.5 L2206.7 577.5 L2210 580.8 L2213.3 580.8 L2216.7 577.5 L2220 574.2 L2223.3 554.2 L2226.7 580.8 L2230 594.2 L2230 605.8 L2226.7 599.2 L2223.3 599.2 L2220 595.8 L2216.7 602.5 L2213.3 609.2 L2210 602.5 L2206.7 592.5 L2203.3 582.5 L2200 565.8 L2196.7 529.2 L2193.3 569.2 L2190 562.5 L2186.7 552.5 L2183.3 542.5 L2180 519.2 L2176.7 495.8 Z M2373.3 564.2 L2376.7 504.2 L2380 500.8 L2383.3 537.5 L2386.7 547.5 L2390 534.2 L2393.3 550.8 L2396.7 550.8 L2400 534.2 L2403.3 544.2 L2406.7 544.2 L2410 474.2 L2413.3 497.5 L2416.7 557.5 L2420 570.8 L2420 592.5 L2416.7 569.2 L2413.3 565.8 L2410 569.2 L2406.7 569.2 L2403.3 579.2 L2400 555.8 L2396.7 572.5 L2393.3 569.2 L2390 572.5 L2386.7 572.5 L2383.3 562.5 L2380 539.2 L2376.7 552.5 L2373.3 585.8 Z M2448.3 260.8 L2451.7 260.8 L2455 264.2 L2458.3 297.5 L2460 340.8 L2463.3 350.8 L2466.7 337.5 L2470 324.2 L2473.3 287.5 L2476.7 314.2 L2480 317.5 L2483.3 304.2 L2486.7 320.8 L2490 320.8 L2493.3 334.2 L2496.7 380.8 L2500 424.2 L2503.3 464.2 L2506.7 500.8 L2510 510.8 L2513.3 524.2 L2516.7 534.2 L2520 537.5 L2523.3 540.8 L2526.7 544.2 L2530 537.5 L2533.3 534.2 L2536.7 540.8 L2540 547.5 L2543.3 514.2 L2546.7 544.2 L2550 554.2 L2553.3 557.5 L2556.7 550.8 L2560 504.2 L2563.3 507.5 L2566.7 477.5 L2570 477.5 L2573.3 427.5 L2576.7 464.2 L2580 430.8 L2583.3 400.8 L2586.7 384.2 L2590 377.5 L2593.3 340.8 L2596.7 267.5 L2600 267.5 L2603.3 280.8 L2606.7 260.8 L2610 290.8 L2613.3 297.5 L2616.7 284.2 L2620 277.5 L2623.3 284.2 L2626.7 287.5 L2630 294.2 L2633.3 294.2 L2636.7 294.2 L2640 300.8 L2641.7 334.2 L2643.3 397.5 L2646.7 427.5 L2650 450.8 L2653.3 464.2 L2656.7 484.2 L2660 504.2 L2663.3 517.5 L2666.7 497.5 L2670 517.5 L2673.3 544.2 L2676.7 550.8 L2676.7 562.5 L2673.3 562.5 L2670 549.2 L2666.7 529.2 L2663.3 549.2 L2660 535.8 L2656.7 509.2 L2653.3 485.8 L2650 475.8 L2646.7 455.8 L2643.3 432.5 L2641.7 402.5 L2640 339.2 L2636.7 312.5 L2633.3 315.8 L2630 312.5 L2626.7 365.8 L2623.3 329.2 L2620 312.5 L2616.7 345.8 L2613.3 375.8 L2610 372.5 L2606.7 309.2 L2603.3 335.8 L2600 322.5 L2596.7 489.2 L2593.3 389.2 L2590 435.8 L2586.7 495.8 L2583.3 469.2 L2580 485.8 L2576.7 519.2 L2573.3 539.2 L2570 509.2 L2566.7 515.8 L2563.3 599.2 L2560 602.5 L2556.7 615.8 L2553.3 625.8 L2550 609.2 L2546.7 569.2 L2543.3 569.2 L2540 575.8 L2536.7 592.5 L2533.3 562.5 L2530 569.2 L2526.7 585.8 L2523.3 559.2 L2520 555.8 L2516.7 549.2 L2513.3 542.5 L2510 529.2 L2506.7 522.5 L2503.3 495.8 L2500 455.8 L2496.7 415.8 L2493.3 352.5 L2490 342.5 L2486.7 359.2 L2483.3 389.2 L2480 369.2 L2476.7 362.5 L2473.3 369.2 L2470 369.2 L2466.7 372.5 L2463.3 375.8 L2460 392.5 L2458.3 355.8 L2455 302.5 L2451.7 285.8 L2448.3 282.5 Z M2718.3 564.2 L2721.7 504.2 L2725 504.2 L2728.3 504.2 L2731.7 504.2 L2735 484.2 L2738.3 487.5 L2741.7 410.8 L2745 364.2 L2748.3 404.2 L2751.7 357.5 L2755 300.8 L2758.3 267.5 L2761.7 280.8 L2765 317.5 L2768.3 337.5 L2771.7 340.8 L2775 344.2 L2778.3 334.2 L2781.7 280.8 L2785 324.2 L2788.3 324.2 L2791.7 280.8 L2795 294.2 L2798.3 297.5 L2801.7 387.5 L2805 417.5 L2806.7 464.2 L2810 507.5 L2813.3 517.5 L2816.7 524.2 L2820 527.5 L2823.3 537.5 L2826.7 540.8 L2830 547.5 L2833.3 550.8 L2836.7 560.8 L2840 570.8 L2843.3 550.8 L2846.7 557.5 L2850 550.8 L2853.3 540.8 L2856.7 540.8 L2860 560.8 L2863.3 560.8 L2866.7 557.5 L2870 587.5 L2873.3 587.5 L2876.7 534.2 L2880 534.2 L2883.3 517.5 L2886.7 497.5 L2888.3 427.5 L2891.7 447.5 L2895 450.8 L2898.3 454.2 L2901.7 404.2 L2901.7 459.2 L2898.3 522.5 L2895 495.8 L2891.7 492.5 L2888.3 502.5 L2886.7 542.5 L2883.3 579.2 L2880 579.2 L2876.7 635.8 L2873.3 635.8 L2870 632.5 L2866.7 589.2 L2863.3 585.8 L2860 585.8 L2856.7 575.8 L2853.3 589.2 L2850 592.5 L2846.7 582.5 L2843.3 572.5 L2840 585.8 L2836.7 575.8 L2833.3 565.8 L2830 562.5 L2826.7 555.8 L2823.3 552.5 L2820 539.2 L2816.7 539.2 L2813.3 535.8 L2810 522.5 L2806.7 502.5 L2805 462.5 L2801.7 415.8 L2798.3 329.2 L2795 322.5 L2791.7 389.2 L2788.3 382.5 L2785 369.2 L2781.7 352.5 L2778.3 362.5 L2775 375.8 L2771.7 362.5 L2768.3 355.8 L2765 349.2 L2761.7 319.2 L2758.3 302.5 L2755 422.5 L2751.7 455.8 L2748.3 449.2 L2745 475.8 L2741.7 535.8 L2738.3 582.5 L2735 535.8 L2731.7 585.8 L2728.3 589.2 L2725 592.5 L2721.7 592.5 L2718.3 582.5 Z" fill="#dcdcee" stroke="#dcdcee" stroke-width="2" stroke-linejoin="round"/>
<path d="M353.3 566.2 L356.7 509.4 L360 529.2 L363.3 509.5 L366.7 436 L370 445.3 L373.3 367.2 L376.7 368.8 L380 358.4 L383.3 398.4 L386.7 346.8 L390 305.3 L393.3 308 L396.7 308 L400 306.2 L403.3 299.6 L406.7 302.5 L410 295.2 L413.3 288.1 L416.7 279.4 L420 285.5 L423.3 298.4 L426.7 303.6 L430 300.7 L433.3 294.4 L436.7 311.4 L438.3 338.4 L439.3 384.4 L441.7 417 L445 442.9 L448.3 436.6 L451.7 441.4 L455 451.4 L458.3 465.9 L461.7 484.8 L465 507.4 L468.3 523.3 L471.7 535.2 L475 540 L478.3 541.8 L481.7 527.4 L485 539.2 L488.3 551.8 L491.7 554.4 L495 553.7 L498.3 555.9 L501.7 528.1 L505 531.8 L508.3 511 L511.7 510.3 L515 525.5 L518.3 488.7 L521.7 473.6 L525 467.7 L528.3 455.8 L531.7 458.8 L535 364.2 L538.3 355.4 L541.7 313.1 L545 295.9 L548.3 297.4 L551.7 298.5 L555 295.2 L558.3 307.7 L561.7 319.1 L565 303.9 L568.3 301.7 L571.7 301 L575 300.2 L578.3 299.9 L581.7 301.8 L585 298.4 L588.3 304.4 L590 325.5 L591.7 358.8 L593.3 387 L595 401.8 L596.7 417.8 L598.3 440.7 L601.7 471.8 L605 489.2 L608.3 504.4 L611.7 518.5 L615 527.8 L618.3 539.2 L621.7 545.2 L625 545.2 L628.3 547 L631.7 544.4 L635 548.5 L638.3 550.4 L641.7 554 L645 565.2 L648.3 561.8 L651.7 555.9 L655 552.6 L657.3 554.4 L657.3 558.9 L655 560.8 L651.7 564.1 L648.3 568.2 L645 571.5 L641.7 566 L638.3 553 L635 554.8 L631.7 548.9 L628.3 549.6 L625 551.5 L621.7 551.5 L618.3 547.4 L615 532.2 L611.7 524.8 L608.3 508.9 L605 497.4 L601.7 478.2 L598.3 452.6 L596.7 422.2 L595 408.2 L593.3 389.6 L591.7 374.5 L590 341.2 L588.3 325.6 L585 321.6 L581.7 324.9 L578.3 326.8 L575 336.4 L571.7 339 L568.3 341.6 L565 349.4 L561.7 360.9 L558.3 329 L555 301.5 L551.7 304.8 L548.3 309.3 L545 304.1 L541.7 373.6 L538.3 404.6 L535 435.8 L531.7 491.2 L528.3 480.8 L525 489 L521.7 493 L518.3 538 L515 541.2 L511.7 529.7 L508.3 532.3 L505 538.2 L501.7 541.9 L498.3 564.1 L495 556.3 L491.7 558.9 L488.3 558.2 L485 547.4 L481.7 539.3 L478.3 548.2 L475 550 L471.7 541.5 L468.3 533.4 L465 519.3 L461.7 498.6 L458.3 474.1 L455 465.2 L451.7 455.2 L448.3 446.7 L445 460.4 L441.7 419.6 L439.3 405.6 L438.3 361.6 L436.7 325.2 L433.3 315.6 L430 312.6 L426.7 339.8 L423.3 338.3 L420 301.2 L416.7 292.3 L413.3 301.9 L410 301.5 L406.7 327.5 L403.3 317.1 L400 323.8 L396.7 338.6 L393.3 338.6 L390 371.4 L386.7 416.6 L383.3 421.6 L380 398.3 L376.7 384.5 L373.3 412.8 L370 511.4 L366.7 504 L363.3 543.8 L360 554.2 L356.7 560.6 L353.3 583.8 Z M682.7 505.2 L685 463.5 L687.3 412.3 L690 417.4 L693.3 394 L696.7 402.2 L700 371.8 L703.3 359.6 L706.7 338.8 L710 344.4 L713.3 353.2 L716.7 371.8 L720 331.8 L723.3 309.9 L726.7 367.7 L730 375.5 L733.3 313.5 L736.7 312.5 L740 323.2 L743.3 307.7 L746.7 308.1 L750 331.8 L753.3 342.2 L756.7 354.8 L758.3 380 L761.7 403 L761.7 403.7 L758.3 390 L756.7 368.6 L753.3 357.8 L750 354.9 L746.7 321.9 L743.3 329 L740 350.1 L736.7 337.5 L733.3 366.5 L730 391.2 L726.7 389 L723.3 336.8 L720 354.9 L716.7 394.9 L713.3 380.1 L710 365.6 L706.7 371.2 L703.3 377.1 L700 394.9 L696.7 417.8 L693.3 406 L690 505.9 L687.3 487.7 L685 516.5 L682.7 511.5 Z M766 488.5 L768.3 491.8 L771.7 501.1 L771.7 505.6 L768.3 498.2 L766 494.8 Z M783.3 537 L786.7 545.2 L790 532.6 L793.3 507.4 L796.7 517.4 L800 540.7 L803.3 561.8 L806.7 561.1 L810 557.8 L813.3 550 L816.7 540.7 L820 555.2 L823.3 565.2 L826.7 479.4 L830 553.3 L833.3 555.9 L836.7 498 L840 436 L843.3 451.7 L846.7 356 L850 374 L853.3 337.6 L856.7 324 L860 319.2 L863.3 314.4 L866.7 307 L870 319.9 L873.3 328.1 L876.7 332.9 L880 367.7 L883.3 408.8 L886.7 418.5 L890 421.8 L893.3 423.3 L896.7 433.3 L900 440.7 L903.3 441.4 L906.7 470.3 L910 506.6 L913.3 522.6 L916.7 533.7 L920 536.6 L923.3 501.8 L926.7 501 L930 522.6 L933.3 530.3 L936.7 513.2 L940 512.5 L943.3 554.8 L946.7 553.3 L950 551.4 L953.3 546.6 L956.7 544.4 L960 538.5 L963.3 561 L966.7 554.4 L970 557.8 L973.3 575.5 L976.7 606.6 L979 594.4 L981.7 531.1 L985 525.2 L988.3 505.5 L991.7 498.5 L995 459.9 L998.3 451.8 L1001.7 462.5 L1005 461 L1008.3 429.2 L1011.7 414.7 L1015 425.5 L1018.3 434.8 L1021.7 420.6 L1025 442.2 L1028.3 425.1 L1031.7 412.5 L1035 354.6 L1036.7 345.8 L1040 399.1 L1043.3 414.7 L1046.7 315.4 L1050 325.8 L1053.3 329.2 L1056.7 359.2 L1060 371.1 L1063.3 379.6 L1066.7 405.9 L1070 421.8 L1073.3 427.8 L1076.7 424 L1080 437.8 L1083.3 457.4 L1086.7 484.8 L1090 514.8 L1093.3 519.2 L1096.7 488.5 L1100 492.6 L1103.3 495.9 L1106.7 490 L1110 494 L1113.3 504.8 L1116.7 513.3 L1120 525.9 L1123.3 537.4 L1126.7 512.5 L1130 538.1 L1133.3 533.9 L1136.7 521.8 L1140 528.1 L1143.3 544.4 L1146.7 533.2 L1150 498.4 L1153.3 429.8 L1156.7 426.2 L1160 339.3 L1163.3 359.8 L1166.7 364.2 L1170 333 L1173.3 298.5 L1176.7 285.9 L1180 306.2 L1183.3 296.6 L1186.7 298.1 L1190 303.2 L1193.3 304.8 L1196.7 296.6 L1200 299.6 L1203.3 330.7 L1206.7 351.8 L1210 363.7 L1213.3 373.3 L1216.7 399.2 L1220 419.2 L1223.3 439.2 L1226.7 460 L1230 481.8 L1233.3 491.1 L1236.7 494.4 L1240 493.7 L1243.3 477.8 L1246.7 486.2 L1250 511.8 L1253.3 507.4 L1256.7 490.3 L1260 485.1 L1263.3 510.2 L1266.7 481.4 L1270 490 L1273.3 506.6 L1273.3 516.7 L1270 500 L1266.7 512 L1263.3 563.2 L1260 508.2 L1256.7 509.7 L1253.3 519.3 L1250 518.2 L1246.7 503.8 L1243.3 482.2 L1240 496.3 L1236.7 498.9 L1233.3 495.6 L1230 488.2 L1226.7 470 L1223.3 447.4 L1220 427.4 L1216.7 407.4 L1213.3 383.4 L1210 366.3 L1206.7 358.2 L1203.3 342.6 L1200 317.1 L1196.7 306.7 L1193.3 318.6 L1190 330.1 L1186.7 311.9 L1183.3 323.4 L1180 323.8 L1176.7 294.1 L1173.3 304.8 L1170 427 L1166.7 435.8 L1163.3 420.2 L1160 424 L1156.7 443.8 L1153.3 473.5 L1150 521.6 L1146.7 560.1 L1143.3 565.6 L1140 541.9 L1136.7 528.2 L1133.3 579.4 L1130 551.9 L1126.7 537.5 L1123.3 549.3 L1120 534.1 L1116.7 523.4 L1113.3 518.6 L1110 506 L1106.7 500 L1103.3 504.1 L1100 500.8 L1096.7 494.8 L1093.3 527.4 L1090 528.6 L1086.7 498.6 L1083.3 469.3 L1080 442.2 L1076.7 436 L1073.3 432.2 L1070 428.2 L1066.7 414.1 L1063.3 397.1 L1060 375.6 L1056.7 367.4 L1053.3 354.2 L1050 367.6 L1046.7 364.6 L1043.3 445.3 L1040 440.9 L1036.7 387.6 L1035 418.8 L1031.7 437.5 L1028.3 448.2 L1025 457.8 L1021.7 449.4 L1018.3 448.6 L1015 441.2 L1011.7 445.3 L1008.3 454.2 L1005 499 L1001.7 487.5 L998.3 474.9 L995 486.8 L991.7 504.8 L988.3 521.2 L985 531.5 L981.7 535.6 L979 615.6 L976.7 616.7 L973.3 591.2 L970 562.2 L966.7 558.9 L963.3 582.3 L960 544.8 L956.7 565.6 L953.3 556.7 L950 565.2 L946.7 563.4 L943.3 568.6 L940 537.5 L936.7 540.1 L933.3 549.7 L930 530.8 L926.7 522.3 L923.3 524.9 L920 546.7 L916.7 536.3 L913.3 530.8 L910 516.7 L906.7 489.7 L903.3 455.2 L900 452.6 L896.7 443.4 L893.3 433.4 L890 428.2 L886.7 424.8 L883.3 424.5 L880 389 L876.7 350.4 L873.3 341.9 L870 346.8 L866.7 309.6 L863.3 318.9 L860 344.2 L856.7 352.7 L853.3 392.4 L850 402.7 L846.7 424 L843.3 491.6 L840 504 L836.7 545.4 L833.3 564.1 L830 563.4 L826.7 547.3 L823.3 571.5 L820 561.5 L816.7 552.6 L813.3 560 L810 562.2 L806.7 565.6 L803.3 568.2 L800 552.6 L796.7 529.3 L793.3 519.3 L790 540.8 L786.7 551.5 L783.3 539.6 Z M1286.7 515.4 L1290 517.8 L1293.3 482.8 L1296.7 494.3 L1300 513.1 L1303.3 502.5 L1306.7 432.3 L1310 476.8 L1313.3 448 L1316.7 448.8 L1320 449.6 L1323.3 463.9 L1325 343 L1328.3 321.3 L1331.7 313.6 L1335 312.1 L1338.3 298 L1341.7 321.7 L1345 303.6 L1348.3 298.1 L1351.7 305.9 L1355 301.8 L1358.3 301 L1361.7 297.7 L1365 303.9 L1368.3 298.1 L1371.7 300.7 L1375 304.4 L1376.7 318.1 L1378.3 351.8 L1381.7 400.4 L1385 415.5 L1388.3 440.7 L1388.3 452.6 L1385 431.2 L1381.7 403 L1378.3 374.9 L1376.7 331.9 L1375 308.9 L1371.7 312.6 L1368.3 311.9 L1365 349.4 L1361.7 319 L1358.3 322.3 L1355 308.2 L1351.7 314.1 L1348.3 311.9 L1345 323 L1341.7 361.6 L1338.3 345.4 L1335 344.6 L1331.7 349.8 L1328.3 368.7 L1325 420.3 L1323.3 509.4 L1320 467.1 L1316.7 464.5 L1313.3 478.6 L1310 529.8 L1306.7 507.7 L1303.3 527.5 L1300 573.6 L1296.7 532.4 L1293.3 517.2 L1290 522.2 L1286.7 547.9 Z M1393.3 502.9 L1396.7 502.9 L1400 497.8 L1403.3 507 L1406.7 513.7 L1410 531.3 L1413.3 523.7 L1416.7 530.7 L1420 529.6 L1423.3 529.6 L1426.7 530.4 L1430 534.4 L1433.3 541.8 L1436.7 540 L1440 534.4 L1443.3 547 L1446.7 553.7 L1450 557.4 L1453.3 581.8 L1455 603.7 L1458.3 558.8 L1461.7 505.1 L1465 457.6 L1468.3 425.1 L1471.7 396.8 L1475 370.3 L1478.3 374 L1481.7 371.1 L1485 360 L1488.3 332.9 L1491.7 334 L1495 335.9 L1498.3 331.4 L1501.7 338.4 L1505 315.8 L1508.3 298.8 L1511.7 312.1 L1515 312.6 L1518.3 325.2 L1521.7 331.8 L1525 311 L1528.3 320.3 L1531.7 313.6 L1535 319.9 L1538.3 332.6 L1541.7 335.9 L1545 318.4 L1548.3 355.2 L1550 396.6 L1551.7 420.7 L1555 447.4 L1558.3 481.1 L1561.7 489.6 L1565 497.8 L1568.3 514.4 L1571.7 532.6 L1575 548.5 L1578.3 550.4 L1581.7 548.5 L1585 554.4 L1588.3 551.8 L1591.7 551.1 L1595 555.5 L1598.3 564 L1601.7 553.6 L1605 568.1 L1608.3 573.3 L1611.7 576.6 L1615 578.1 L1618.3 583.3 L1621.7 581.4 L1625 565.1 L1626.7 561.8 L1628.3 492.4 L1631.7 461.7 L1635 396.1 L1638.3 357.6 L1641.7 377 L1645 380.3 L1648.3 368.8 L1651.7 313.9 L1655 316.1 L1655 367.2 L1651.7 359.4 L1648.3 384.5 L1645 399.7 L1641.7 396.4 L1638.3 395.7 L1635 447.2 L1631.7 501.6 L1628.3 534.2 L1626.7 584.9 L1625 588.2 L1621.7 595.2 L1618.3 593.4 L1615 591.9 L1611.7 586.7 L1608.3 583.4 L1605 581.9 L1601.7 573 L1598.3 576 L1595 571.2 L1591.7 555.6 L1588.3 558.2 L1585 558.9 L1581.7 554.8 L1578.3 553 L1575 554.8 L1571.7 540.8 L1568.3 518.9 L1565 502.2 L1561.7 490.4 L1558.3 485.6 L1555 459.3 L1551.7 432.6 L1550 406.7 L1548.3 361.5 L1545 341.6 L1541.7 344.1 L1538.3 340.8 L1535 346.8 L1531.7 349.8 L1528.3 339.7 L1525 332.3 L1521.7 338.2 L1518.3 331.5 L1515 320.8 L1511.7 344.6 L1508.3 314.5 L1505 340.8 L1501.7 361.6 L1498.3 345.2 L1495 344.1 L1491.7 346 L1488.3 350.4 L1485 370 L1481.7 375.6 L1478.3 386 L1475 389.7 L1471.7 466.6 L1468.3 448.2 L1465 495.7 L1461.7 528.2 L1458.3 591.2 L1455 606.3 L1453.3 588.2 L1450 569.3 L1446.7 556.3 L1443.3 549.6 L1440 538.9 L1436.7 550 L1433.3 548.2 L1430 538.9 L1426.7 533 L1423.3 530.4 L1420 530.4 L1416.7 542.6 L1413.3 526.3 L1410 578.7 L1406.7 516.3 L1403.3 509.6 L1400 502.2 L1396.7 520.4 L1393.3 520.4 Z M1726.7 537 L1730 539.2 L1733.3 520.3 L1736.7 545.9 L1740 551.8 L1743.3 552.6 L1746.7 551.1 L1750 554.8 L1753.3 551.1 L1756.7 550.4 L1760 566.6 L1763.3 575.5 L1766.7 578.1 L1770 556.6 L1773.3 555.8 L1776.7 558.4 L1780 525.5 L1783.3 500.7 L1786.7 524.4 L1790 472.4 L1793.3 457.3 L1796.7 458.4 L1800 433.9 L1803.3 359.6 L1806.7 300.6 L1810 305.8 L1813.3 318.4 L1816.7 298.4 L1820 280 L1823.3 282.6 L1826.7 275.2 L1830 271.8 L1833.3 281.1 L1836.7 294.4 L1840 310.4 L1843.3 325.9 L1846.7 352.9 L1850 331 L1853.3 357 L1856.7 391.4 L1860 427.4 L1863.3 460.7 L1866.7 471.8 L1870 458.8 L1873.3 460 L1876.7 500 L1880 520.4 L1883.3 530.7 L1886.7 551.8 L1890 556.6 L1893.3 560 L1896.7 560 L1900 557.4 L1903.3 565.9 L1906.7 573.3 L1910 575.9 L1913.3 566.6 L1916.7 549.4 L1920 587.3 L1920 616 L1916.7 600.6 L1913.3 576.7 L1910 584.1 L1906.7 583.4 L1903.3 574.1 L1900 569.3 L1896.7 570 L1893.3 570 L1890 566.7 L1886.7 558.2 L1883.3 542.6 L1880 523 L1876.7 510 L1873.3 470 L1870 474.5 L1866.7 478.2 L1863.3 472.6 L1860 439.3 L1856.7 405.2 L1853.3 376.4 L1850 369 L1846.7 370.4 L1843.3 334.1 L1840 313 L1836.7 298.9 L1833.3 285.6 L1830 278.2 L1826.7 281.5 L1823.3 290.8 L1820 290 L1816.7 338.3 L1813.3 341.6 L1810 347.6 L1806.7 346.1 L1803.3 377.1 L1800 479.4 L1796.7 481.6 L1793.3 486 L1790 531 L1786.7 528.9 L1783.3 512.6 L1780 541.2 L1776.7 581.6 L1773.3 580.8 L1770 583.4 L1766.7 591.9 L1763.3 591.2 L1760 576.7 L1756.7 553 L1753.3 555.6 L1750 568.6 L1746.7 555.6 L1743.3 560.8 L1740 558.2 L1736.7 554.1 L1733.3 539.7 L1730 547.4 L1726.7 539.6 Z M1993.3 362.9 L1996.7 397.8 L2000 401.8 L2003.3 405.2 L2006.7 396.6 L2010 424 L2013.3 445.9 L2016.7 446.6 L2020 452.6 L2023.3 455.8 L2026.7 445.1 L2030 465.9 L2033.3 498.8 L2036.7 531.8 L2040 537 L2043.3 534.4 L2046.7 541.8 L2050 554.8 L2053.3 560 L2056.7 552.6 L2060 539.6 L2063.3 556.2 L2066.7 547 L2070 543.2 L2073.3 571.4 L2076.7 533.2 L2080 536.8 L2083.3 584.4 L2086.7 570.3 L2090 487.1 L2093.3 492.9 L2096.7 490.2 L2100 485 L2103.3 478.8 L2106.7 498.4 L2110 438.8 L2113.3 394 L2116.7 344.1 L2120 330.1 L2123.3 296.2 L2126.7 320 L2130 275.5 L2133.3 261.4 L2136.7 271.4 L2140 270.6 L2143.3 293.7 L2146.7 315.4 L2150 335.2 L2153.3 304.7 L2156.7 304 L2160 344.3 L2161.7 413.2 L2165 460 L2165 470 L2161.7 440.1 L2160 382.4 L2156.7 332.7 L2153.3 335.3 L2150 341.5 L2146.7 347.9 L2143.3 296.3 L2140 299.4 L2136.7 302 L2133.3 275.2 L2130 291.2 L2126.7 423.4 L2123.3 330.5 L2120 399.9 L2116.7 432.6 L2113.3 422.7 L2110 454.5 L2106.7 538.3 L2103.3 511.2 L2100 525 L2096.7 526.4 L2093.3 510.4 L2090 566.2 L2086.7 589.7 L2083.3 605.6 L2080 589.8 L2076.7 576.8 L2073.3 585.2 L2070 570.1 L2066.7 566.4 L2063.3 573.8 L2060 557.1 L2056.7 560.8 L2053.3 570 L2050 568.6 L2046.7 548.2 L2043.3 538.9 L2040 539.6 L2036.7 538.2 L2033.3 514.5 L2030 474.1 L2026.7 468.2 L2023.3 480.8 L2020 460.8 L2016.7 456.7 L2013.3 454.1 L2010 436 L2006.7 406.7 L2003.3 411.5 L2000 408.2 L1996.7 402.2 L1993.3 380.4 Z M2176.7 487 L2180 500 L2183.3 525.9 L2186.7 535.9 L2190 548.5 L2193.3 531.8 L2196.7 510 L2200 538.8 L2203.3 565.9 L2206.7 583.7 L2210 588.5 L2213.3 590 L2216.7 585.9 L2220 581.8 L2223.3 567 L2226.7 587.8 L2230 599.6 L2230 600.4 L2226.7 592.2 L2223.3 586.4 L2220 588.2 L2216.7 594.1 L2213.3 600 L2210 594.8 L2206.7 586.3 L2203.3 574.1 L2200 554.5 L2196.7 520 L2193.3 554.9 L2190 554.8 L2186.7 544.1 L2183.3 534.1 L2180 510 L2176.7 489.6 Z M2373.3 571.8 L2376.7 517.7 L2380 512.2 L2383.3 545.9 L2386.7 555.9 L2390 545.5 L2393.3 557.8 L2396.7 558.5 L2400 541.8 L2403.3 554.8 L2406.7 552.6 L2410 498 L2413.3 515.4 L2416.7 563 L2420 578.5 L2420 584.8 L2416.7 563.7 L2413.3 547.9 L2410 545.4 L2406.7 560.8 L2403.3 568.6 L2400 548.2 L2396.7 564.8 L2393.3 562.2 L2390 561.2 L2386.7 564.1 L2383.3 554.1 L2380 527.8 L2376.7 539 L2373.3 578.2 Z M2448.3 268.5 L2451.7 269.2 L2455 275.5 L2458.3 313.2 L2460 355.1 L2463.3 359.2 L2466.7 348.1 L2470 337 L2473.3 308.4 L2476.7 327.7 L2480 331.8 L2483.3 325.8 L2486.7 332.2 L2490 328.5 L2493.3 341.1 L2496.7 391.4 L2500 434 L2503.3 474 L2506.7 508.5 L2510 517.8 L2513.3 531.1 L2516.7 540.4 L2520 544.4 L2523.3 547.8 L2526.7 556.2 L2530 547.4 L2533.3 543.3 L2536.7 555.1 L2540 556.6 L2543.3 529.2 L2546.7 552.6 L2550 569.2 L2553.3 575.4 L2556.7 568 L2560 528.7 L2563.3 530.6 L2566.7 488.8 L2570 487.4 L2573.3 455 L2576.7 479.2 L2580 445.8 L2583.3 418.8 L2586.7 411.6 L2590 393.2 L2593.3 354.4 L2596.7 319.2 L2600 282.5 L2603.3 295.8 L2606.7 274.4 L2610 311.7 L2613.3 317.6 L2616.7 300.6 L2620 288.1 L2623.3 297 L2626.7 307.6 L2630 301.1 L2633.3 301.8 L2636.7 301.1 L2640 312.2 L2641.7 352.1 L2643.3 408.1 L2646.7 436.6 L2650 459.2 L2653.3 471.8 L2656.7 492.6 L2660 514 L2663.3 527.4 L2666.7 507.4 L2670 527.4 L2673.3 551.1 L2676.7 556.3 L2676.7 557 L2673.3 555.6 L2670 539.3 L2666.7 519.3 L2663.3 539.3 L2660 526 L2656.7 500.8 L2653.3 478.2 L2650 467.4 L2646.7 446.7 L2643.3 421.9 L2641.7 384.6 L2640 327.8 L2636.7 305.6 L2633.3 308.2 L2630 305.6 L2626.7 345.7 L2623.3 316.4 L2620 301.9 L2616.7 329.4 L2613.3 355.7 L2610 351.6 L2606.7 295.6 L2603.3 320.8 L2600 307.5 L2596.7 437.5 L2593.3 375.6 L2590 420.1 L2586.7 468.4 L2583.3 451.2 L2580 470.8 L2576.7 504.2 L2573.3 511.7 L2570 499.3 L2566.7 504.5 L2563.3 576.1 L2560 578 L2556.7 598.6 L2553.3 607.9 L2550 594.2 L2546.7 560.8 L2543.3 554.2 L2540 566.7 L2536.7 578.2 L2533.3 553.4 L2530 559.3 L2526.7 573.8 L2523.3 552.2 L2520 548.9 L2516.7 543 L2513.3 535.6 L2510 522.2 L2506.7 514.8 L2503.3 486 L2500 446 L2496.7 405.2 L2493.3 345.6 L2490 334.8 L2486.7 347.8 L2483.3 367.6 L2480 354.9 L2476.7 349 L2473.3 348.3 L2470 356.4 L2466.7 361.9 L2463.3 367.4 L2460 378.2 L2458.3 340.1 L2455 291.2 L2451.7 277.4 L2448.3 274.8 Z M2718.3 571.1 L2721.7 526.5 L2725 526.5 L2728.3 525.8 L2731.7 525 L2735 498.4 L2738.3 511.3 L2741.7 441.2 L2745 391.6 L2748.3 417 L2751.7 382 L2755 330.5 L2758.3 278.1 L2761.7 292.2 L2765 327.4 L2768.3 344.4 L2771.7 348.5 L2775 354 L2778.3 343.3 L2781.7 299.5 L2785 337 L2788.3 339.9 L2791.7 307.6 L2795 303.3 L2798.3 307.4 L2801.7 396.6 L2805 430.3 L2806.7 475.5 L2810 513.7 L2813.3 524.4 L2816.7 530.4 L2820 533 L2823.3 543.7 L2826.7 547 L2830 553.7 L2833.3 557 L2836.7 567 L2840 577 L2843.3 558.5 L2846.7 565.9 L2850 562.9 L2853.3 554.4 L2856.7 551.4 L2860 569.2 L2863.3 569.2 L2866.7 567.4 L2870 600.3 L2873.3 601 L2876.7 559.4 L2880 547 L2883.3 534 L2886.7 510.3 L2888.3 446.9 L2891.7 460.3 L2895 463.6 L2898.3 472.1 L2901.7 419.2 L2901.7 444.2 L2898.3 504.6 L2895 483 L2891.7 479.7 L2888.3 483.1 L2886.7 529.7 L2883.3 562.7 L2880 566.4 L2876.7 610.6 L2873.3 622.3 L2870 619.7 L2866.7 579.3 L2863.3 577.4 L2860 577.4 L2856.7 565.2 L2853.3 575.6 L2850 580.4 L2846.7 574.1 L2843.3 564.8 L2840 579.6 L2836.7 569.6 L2833.3 559.6 L2830 556.3 L2826.7 549.6 L2823.3 546.3 L2820 533.7 L2816.7 533 L2813.3 528.9 L2810 516.3 L2806.7 491.2 L2805 449.7 L2801.7 406.7 L2798.3 319.3 L2795 313.4 L2791.7 362.4 L2788.3 366.8 L2785 356.4 L2781.7 333.8 L2778.3 353.4 L2775 366 L2771.7 354.8 L2768.3 348.9 L2765 339.3 L2761.7 307.8 L2758.3 291.9 L2755 392.8 L2751.7 431.3 L2748.3 436.4 L2745 448.4 L2741.7 505.4 L2738.3 558.7 L2735 521.6 L2731.7 565 L2728.3 567.6 L2725 570.2 L2721.7 570.2 L2718.3 575.6 Z" fill="#660066" stroke="#660066" stroke-width="3" stroke-linejoin="round"/>
<marker id="m660066" markerUnits="userSpaceOnUse" markerWidth="6.6" markerHeight="6.6" refX="3.3" refY="3.3" overflow="visible"><circle cx="3.3" cy="3.3" r="3.3" fill="#660066"/></marker>
<path d="M353.3 559.7 L356.7 580.3 L360 519.7 L363.3 557 L366.7 409.7 L370 537 L373.3 349.7 L376.7 390.3 L380 343 L383.3 430.3 L386.7 319.7 L390 397 L393.3 296.3 L396.7 350.3 L400 299.7 L403.3 323.7 L406.7 293 L410 303.7 L413.3 283 L416.7 297 L420 279.7 L423.3 353.7 L426.7 289.7 L430 317 L433.3 286.3 L436.7 330.3 L438.3 329.7 L439.3 413.7 L441.7 416.3 L445 467 L448.3 433 L451.7 460.3 L455 446.3 L458.3 477 L461.7 479.7 L465 523.7 L468.3 519.7 L471.7 543.7 L475 536.3 L478.3 550.3 L481.7 523 L485 550.3 L488.3 549.7 L491.7 560.3 L495 553 L498.3 567 L501.7 523 L505 540.3 L508.3 503 L511.7 537 L515 519.7 L518.3 557 L521.7 466.3 L525 497 L528.3 446.3 L531.7 503.7 L535 336.3 L538.3 423.7 L541.7 289.7 L545 307 L548.3 293 L551.7 307 L555 293 L558.3 337 L561.7 303 L565 367 L568.3 286.3 L571.7 353.7 L575 286.3 L578.3 337 L581.7 293 L585 330.3 L588.3 296.3 L590 347 L591.7 353 L593.3 390.3 L595 399.7 L596.7 423.7 L598.3 436.3 L601.7 480.3 L605 486.3 L608.3 510.3 L611.7 516.3 L615 533.7 L618.3 536.3 L621.7 553.7 L625 543 L628.3 550.3 L631.7 543 L635 557 L638.3 549.7 L641.7 570.3 L645 563 L648.3 570.3 L651.7 553 L655 563.7 L657.3 553 M682.7 503 L685 537 L687.3 383 L690 540.3 L693.3 389.7 L696.7 423.7 L700 363 L703.3 383.7 L706.7 326.3 L710 373.7 L713.3 343 L716.7 403.7 L720 323 L723.3 347 L726.7 359.7 L730 397 L733.3 293 L736.7 347 L740 313 L743.3 337 L746.7 303 L750 363.7 L753.3 336.3 L756.7 373.7 L758.3 376.3 L761.7 403.7 M766 486.3 L768.3 500.3 L771.7 499.7 M783.3 536.3 L786.7 553.7 L790 529.7 L793.3 523.7 L796.7 513 L800 557 L803.3 559.7 L806.7 567 L810 556.3 L813.3 563.7 L816.7 536.3 L820 563.7 L823.3 563 L826.7 573.7 L830 549.7 L833.3 567 L836.7 479.7 L840 530.3 L843.3 436.3 L846.7 450.3 L850 363 L853.3 413.7 L856.7 313 L860 353.7 L863.3 313 L866.7 310.3 L870 309.7 L873.3 347 L876.7 326.3 L880 397 L883.3 403 L886.7 427 L890 419.7 L893.3 437 L896.7 429.7 L900 457 L903.3 436.3 L906.7 497 L910 503 L913.3 533.7 L916.7 533 L920 550.3 L923.3 493 L926.7 530.3 L930 519.7 L933.3 557 L936.7 503 L940 547 L943.3 549.7 L946.7 567 L950 546.3 L953.3 560.3 L956.7 536.3 L960 547 L963.3 553 L966.7 560.3 L970 556.3 L973.3 597 L976.7 603 L979 623.7 L981.7 529.7 L985 533.7 L988.3 499.7 L991.7 507 L995 449.7 L998.3 483.7 L1001.7 453 L1005 513.7 L1008.3 419.7 L1011.7 457 L1015 419.7 L1018.3 453.7 L1021.7 409.7 L1025 463.7 L1028.3 416.3 L1031.7 447 L1035 329.7 L1036.7 403.7 L1040 383 L1043.3 457 L1046.7 296.3 L1050 383.7 L1053.3 319.7 L1056.7 370.3 L1060 369.7 L1063.3 403.7 L1066.7 403 L1070 430.3 L1073.3 426.3 L1076.7 440.3 L1080 436.3 L1083.3 473.7 L1086.7 479.7 L1090 533.7 L1093.3 516.3 L1096.7 497 L1100 489.7 L1103.3 507 L1106.7 486.3 L1110 510.3 L1113.3 499.7 L1116.7 527 L1120 523 L1123.3 553.7 L1126.7 503 L1130 557 L1133.3 516.3 L1136.7 530.3 L1140 523 L1143.3 573.7 L1146.7 523 L1150 530.3 L1153.3 413 L1156.7 450.3 L1160 306.3 L1163.3 443.7 L1166.7 336.3 L1170 463.7 L1173.3 296.3 L1176.7 297 L1180 299.7 L1183.3 333.7 L1186.7 293 L1190 340.3 L1193.3 299.7 L1196.7 310.3 L1200 293 L1203.3 347 L1206.7 349.7 L1210 367 L1213.3 369.7 L1216.7 410.3 L1220 416.3 L1223.3 450.3 L1226.7 456.3 L1230 490.3 L1233.3 489.7 L1236.7 500.3 L1240 493 L1243.3 483.7 L1246.7 479.7 L1250 520.3 L1253.3 503 L1256.7 517 L1260 476.3 L1263.3 583.7 L1266.7 469.7 L1270 503.7 L1273.3 503 M1286.7 503 L1290 523.7 L1293.3 469.7 L1296.7 547 L1300 489.7 L1303.3 537 L1306.7 403 L1310 550.3 L1313.3 436.3 L1316.7 470.3 L1320 443 L1323.3 527 L1325 313 L1328.3 387 L1331.7 299.7 L1335 357 L1338.3 279.7 L1341.7 377 L1345 296.3 L1348.3 317 L1351.7 303 L1355 310.3 L1358.3 293 L1361.7 327 L1365 286.3 L1368.3 317 L1371.7 296.3 L1375 310.3 L1376.7 313 L1378.3 383.7 L1381.7 399.7 L1385 437 L1388.3 436.3 M1393.3 496.3 L1396.7 527 L1400 496.3 L1403.3 510.3 L1406.7 513 L1410 597 L1413.3 523 L1416.7 547 L1420 529.7 L1423.3 530.3 L1426.7 529.7 L1430 540.3 L1433.3 539.7 L1436.7 553.7 L1440 533 L1443.3 550.3 L1446.7 553 L1450 573.7 L1453.3 579.7 L1455 607 L1458.3 546.3 L1461.7 537 L1465 443 L1468.3 457 L1471.7 369.7 L1475 397 L1478.3 369.7 L1481.7 377 L1485 356.3 L1488.3 357 L1491.7 329.7 L1495 347 L1498.3 326.3 L1501.7 370.3 L1505 306.3 L1508.3 320.3 L1511.7 299.7 L1515 323.7 L1518.3 323 L1521.7 340.3 L1525 303 L1528.3 347 L1531.7 299.7 L1535 357 L1538.3 329.7 L1541.7 347 L1545 309.7 L1548.3 363.7 L1550 393 L1551.7 437 L1555 443 L1558.3 487 L1561.7 489.7 L1565 503.7 L1568.3 513 L1571.7 543.7 L1575 546.3 L1578.3 553.7 L1581.7 546.3 L1585 560.3 L1588.3 549.7 L1591.7 557 L1595 549.7 L1598.3 580.3 L1601.7 546.3 L1605 587 L1608.3 569.7 L1611.7 590.3 L1615 573 L1618.3 597 L1621.7 576.3 L1625 597 L1626.7 553 L1628.3 550.3 L1631.7 446.3 L1635 467 L1638.3 343 L1641.7 403.7 L1645 373 L1648.3 390.3 L1651.7 296.3 L1655 387 M1726.7 536.3 L1730 550.3 L1733.3 513 L1736.7 557 L1740 549.7 L1743.3 563.7 L1746.7 549.7 L1750 573.7 L1753.3 549.7 L1756.7 553.7 L1760 563 L1763.3 597 L1766.7 573 L1770 593.7 L1773.3 546.3 L1776.7 590.3 L1780 519.7 L1783.3 517 L1786.7 523 L1790 553.7 L1793.3 446.3 L1796.7 490.3 L1800 416.3 L1803.3 383.7 L1806.7 283 L1810 363.7 L1813.3 309.7 L1816.7 353.7 L1820 276.3 L1823.3 293.7 L1826.7 273 L1830 280.3 L1833.3 279.7 L1836.7 300.3 L1840 309.7 L1843.3 337 L1846.7 346.3 L1850 383.7 L1853.3 349.7 L1856.7 410.3 L1860 423 L1863.3 477 L1866.7 469.7 L1870 480.3 L1873.3 456.3 L1876.7 513.7 L1880 519.7 L1883.3 547 L1886.7 549.7 L1890 570.3 L1893.3 556.3 L1896.7 573.7 L1900 553 L1903.3 577 L1906.7 569.7 L1910 587 L1913.3 563 L1916.7 620.3 L1920 576.3 M1993.3 356.3 L1996.7 403.7 L2000 399.7 L2003.3 413.7 L2006.7 393 L2010 440.3 L2013.3 443 L2016.7 460.3 L2020 449.7 L2023.3 490.3 L2026.7 436.3 L2030 477 L2033.3 493 L2036.7 540.3 L2040 536.3 L2043.3 540.3 L2046.7 539.7 L2050 573.7 L2053.3 556.3 L2056.7 563.7 L2060 533 L2063.3 580.3 L2066.7 539.7 L2070 580.3 L2073.3 566.3 L2076.7 593.7 L2080 516.3 L2083.3 613.7 L2086.7 563 L2090 597 L2093.3 486.3 L2096.7 540.3 L2100 469.7 L2103.3 523.7 L2106.7 483 L2110 460.3 L2113.3 383 L2116.7 467 L2120 303 L2123.3 343.7 L2126.7 279.7 L2130 297 L2133.3 256.3 L2136.7 313.7 L2140 259.7 L2143.3 297 L2146.7 303 L2150 343.7 L2153.3 293 L2156.7 343.7 L2160 329.7 L2161.7 450.3 L2165 456.3 M2176.7 486.3 L2180 513.7 L2183.3 523 L2186.7 547 L2190 546.3 L2193.3 563.7 L2196.7 506.3 L2200 560.3 L2203.3 563 L2206.7 587 L2210 586.3 L2213.3 603.7 L2216.7 583 L2220 590.3 L2223.3 559.7 L2226.7 593.7 L2230 599.7 M2373.3 569.7 L2376.7 547 L2380 506.3 L2383.3 557 L2386.7 553 L2390 567 L2393.3 556.3 L2396.7 567 L2400 539.7 L2403.3 573.7 L2406.7 549.7 L2410 563.7 L2413.3 503 L2416.7 563.7 L2420 576.3 M2448.3 266.3 L2451.7 280.3 L2455 269.7 L2458.3 350.3 L2460 346.3 L2463.3 370.3 L2466.7 343 L2470 363.7 L2473.3 293 L2476.7 357 L2480 323 L2483.3 383.7 L2486.7 326.3 L2490 337 L2493.3 339.7 L2496.7 410.3 L2500 429.7 L2503.3 490.3 L2506.7 506.3 L2510 523.7 L2513.3 529.7 L2516.7 543.7 L2520 543 L2523.3 553.7 L2526.7 549.7 L2530 563.7 L2533.3 539.7 L2536.7 587 L2540 553 L2543.3 563.7 L2546.7 549.7 L2550 603.7 L2553.3 563 L2556.7 610.3 L2560 509.7 L2563.3 593.7 L2566.7 483 L2570 503.7 L2573.3 433 L2576.7 513.7 L2580 436.3 L2583.3 463.7 L2586.7 389.7 L2590 430.3 L2593.3 346.3 L2596.7 483.7 L2600 273 L2603.3 330.3 L2606.7 266.3 L2610 367 L2613.3 303 L2616.7 340.3 L2620 283 L2623.3 323.7 L2626.7 293 L2630 307 L2633.3 299.7 L2636.7 307 L2640 306.3 L2641.7 397 L2643.3 403 L2646.7 450.3 L2650 456.3 L2653.3 480.3 L2656.7 489.7 L2660 530.3 L2663.3 523 L2666.7 523.7 L2670 523 L2673.3 557 L2676.7 556.3 M2718.3 569.7 L2721.7 587 L2725 509.7 L2728.3 583.7 L2731.7 509.7 L2735 530.3 L2738.3 493 L2741.7 530.3 L2745 369.7 L2748.3 443.7 L2751.7 363 L2755 417 L2758.3 273 L2761.7 313.7 L2765 323 L2768.3 350.3 L2771.7 346.3 L2775 370.3 L2778.3 339.7 L2781.7 347 L2785 329.7 L2788.3 377 L2791.7 286.3 L2795 317 L2798.3 303 L2801.7 410.3 L2805 423 L2806.7 497 L2810 513 L2813.3 530.3 L2816.7 529.7 L2820 533.7 L2823.3 543 L2826.7 550.3 L2830 553 L2833.3 560.3 L2836.7 566.3 L2840 580.3 L2843.3 556.3 L2846.7 577 L2850 556.3 L2853.3 583.7 L2856.7 546.3 L2860 580.3 L2863.3 566.3 L2866.7 583.7 L2870 593 L2873.3 630.3 L2876.7 539.7 L2880 573.7 L2883.3 523 L2886.7 537 L2888.3 433 L2891.7 487 L2895 456.3 L2898.3 517 L2901.7 409.7" fill="none" stroke="#660066" stroke-width="4.2" stroke-linejoin="round" stroke-linecap="round" marker-start="url(#m660066)" marker-mid="url(#m660066)" marker-end="url(#m660066)"/>
<path d="M353.8 784.5V801.8M356.3 788.4V823.3M373.2 875.8V931.7M377.6 852.9V890.6M379.7 854.1V883.6M384.6 879.8V897.8M393.1 899.3V924.5M400.6 899.7V922.3M406.4 895.5V924.4M408.6 890.2V957.8M419.6 870.8V923.4M422.5 887.7V931.9M434.3 850.5V892.1M436.4 840.9V887.7M440.1 815.7V851M442.7 814.6V842.2M446.5 802.2V840.6M451.4 820.1V877.5M454.6 831.1V855.9M462.6 782.6V808.4M465.2 783.1V808.2M479.5 735.6V781.4M486.7 733.4V768.5M491.3 722.1V758.8M494.5 738.4V791.2M506 761.9V803.8M514.5 787.3V813.3M518.1 815.9V848.4M530.3 848.4V898.7M536.3 886.7V923.3M540.6 898.3V952.5M555.5 864.5V887.8M573.4 867.3V899.3M576.4 881.4V917.2M578.8 888.1V924.3M590.3 830V853.7M595.5 827.9V846.6M599.7 800V822M600.8 787.2V813M614.9 778.7V818.9M618.2 773.7V814.7M621.8 769.5V796M642.4 761.4V788.3M644.4 759.3V776.4M650.3 748.5V774M683.8 805.3V834.6M685.4 840.8V904.6M692 835.1V869.6M694.7 827.4V869.8M697.4 828.5V885.8M706 836.3V907.3M709 831.5V878.4M755.1 846.5V857.8M756.3 815.8V855.1M759.1 810.6V821.2M771.2 782.8V805.5M800.4 750.9V779.8M811.3 736.6V786.5M823.1 738.7V773.5M828.7 782.8V804.4M831.9 801.9V821.4M855.9 883.6V931.1M860.8 903.9V932.7M862.6 896.2V931.2M879.4 810.5V854.3M885.9 813.4V849.1M896.3 803.4V878M899.1 798.4V832.5M902.5 817.6V848M906.8 778.1V833.1M909.8 769.5V806M916.8 762.1V793.7M919.4 767.8V831.3M923.3 780.3V798.9M925.8 764.7V788.8M931.3 764.9V784.8M936.7 781.5V800.9M942.6 745V811.3M949.8 745V778.7M952.4 731.6V762.2M961.4 736.9V786.5M963.2 744.4V775.1M970.1 740.2V771.7M982.8 769.9V816.5M991.4 758.4V792M996.1 778.5V803.1M998.7 782.7V804.4M1002.2 781.1V819.1M1007 779.8V811.9M1011.1 781.3V848.9M1015.7 777.9V824.1M1026.8 791.5V821.4M1034.3 804.2V842.4M1035.2 813.3V842M1035.4 820.7V858.9M1061.2 853.2V889.1M1073.1 825.3V866.5M1092.7 766.2V784.9M1098.1 769.2V797.7M1101.4 766.2V785.7M1113 764.6V790.7M1134.1 777.2V805.6M1137 781.1V807.9M1139.7 798V820M1157.8 908.1V963.2M1159.5 909.9V949.7M1165.5 927.3V984.2M1169.8 934.8V977M1181.2 911.4V930.6M1192.4 918.8V947.5M1196.6 895.3V969M1207.5 863.9V948M1219.9 850.4V872M1223.1 815.7V841.7M1228.1 810.9V838.7M1229.7 795.5V852.9M1243.5 765.8V784.7M1249.2 743.4V774.6M1255.4 742.7V784.6M1268.1 769.9V812.1M1269.3 772.7V790.1M1283.7 782.4V800.5M1297 807.8V831.6M1301.5 813.4V842.4M1306.2 843.3V909.2M1307.7 848.8V883.6M1320.7 894.9V929M1327.8 880.6V925.3M1331 885.7V920.3M1338.8 909.1V940.8M1349.8 914.1V979.2M1357.7 897.4V962.7M1362.5 920.1V946.7M1363.5 928.7V982.4M1378.9 864.7V904.1M1382.8 869.1V887.1M1394.4 783.5V807.2M1401.3 781.5V811.7M1403.9 779.7V795M1414.9 777.8V797.8M1417.2 777.2V793.7M1420.6 760.2V801.9M1433.8 730V780.5M1442.5 742.8V764.4M1446.4 741.8V761.1M1449.1 754.5V777.8M1450.7 766.6V790M1454 787.1V801.4M1458.3 819.7V855.9M1471.4 947.3V970.9M1479.8 944.4V1014.7M1482.8 906.7V961.4M1492.7 879V912.8M1495.4 875.6V923.8M1502.3 888.7V924.5M1510.6 885.7V918.3M1515.2 879.3V916.7M1518.6 890.7V916.9M1522.2 894.6V964.7M1525.5 853.7V951.3M1529.6 886.1V942.3M1535.6 879.2V917.2M1542.1 877.4V906.7M1560.8 788.7V814.1M1568 791.8V803.7M1572.6 764.2V779M1576.3 762.8V790M1581.8 757.5V779.5M1586.3 765.5V798M1589.2 753.6V790.6M1598.6 757.2V786.9M1600.5 764.2V801.3M1605.5 769.7V783M1608.3 769.4V821.6M1610.2 765.3V785M1623.1 807V838.7M1627.3 889.9V945.7M1635.3 906.8V940.7M1639.1 915.7V940.7M1652.6 884.3V909.9M1729.9 761.4V802.5M1734.6 762.1V786.5M1742.7 745.9V778.1M1746.1 743.7V811.3M1750.6 752V795.5M1764.4 756.1V783.7M1769.9 761V795.8M1773.1 758.7V801.8M1777.2 763.8V801M1782.7 783.3V816.9M1785.6 782.6V830.8M1790.7 815.6V861.7M1793.6 803.1V845.1M1799.9 862.3V905.6M1817.6 888.2V916.7M1823.6 878V904.1M1827.8 871.9V901.4M1832.4 858.1V880.4M1836.7 862.6V885.9M1842.3 832.8V878.3M1845.4 845.7V866.3M1856.4 816.2V833.1M1868.1 795.2V808M1872.7 780.4V801.4M1875.5 768.8V796.2M1884.4 763.9V786M1890 777.2V798.9M1892.6 782V799.8M1897.9 776.4V808.9M1901 785.7V811.6M1907.5 788.3V812.9M1908.6 782V802.8M1912.1 799.7V823.8M1994.6 806.4V853.1M2011.5 790V813.3M2020 814.8V839.7M2022.9 821.4V844M2026.5 806.9V845.5M2034.8 782.9V820M2044.6 756.7V817.4M2049.5 755.5V801M2060.2 763V785.6M2063.7 745.8V771.4M2074.8 749.9V783.1M2090 798.6V827.6M2093.7 791.9V821.7M2096.8 802.4V849.3M2100 807.5V851.5M2114.2 845.2V863.5M2124.3 889.9V942.7M2127.2 912.5V935M2128.8 907.6V933.9M2132.6 889.3V931.5M2139.5 877.6V918.9M2143.2 856.7V933.3M2147.4 828V860.8M2154.8 857V903M2157.9 856.5V882.3M2159 818.7V858.1M2163 789.7V804.4M2170.9 775.2V792.1M2174.4 776.4V806.7M2178.1 769.3V803.3M2189.1 754.7V786.3M2192 767.1V805.3M2197.8 769.4V791.6M2202.8 776.6V811.7M2205.9 747.9V780.4M2211.3 757V782.9M2219.5 783.3V791.7M2227.8 770.4V790.5M2228.9 770.1V794.1M2233.6 756.7V797.6M2237.1 789.4V804.7M2254.3 869.7V920.9M2260.9 927.8V961.5M2272.3 901.1V967.7M2276.9 950.6V999.5M2280 937.7V982.3M2283 956V985.2M2286.8 929.3V988.7M2289.4 913.8V959.6M2292.6 889.8V915.9M2302.3 800V859.5M2310.9 821.2V867.8M2312.1 834.8V898.6M2315.2 839.5V866.6M2329.6 828.7V863.6M2347.4 800V829.7M2350.8 805.3V824M2355.5 796.4V817.4M2359.1 783.8V802.5M2368.6 786.3V805.9M2374.2 767.4V790.2M2378.1 759.4V793.7M2379.8 752.9V789.2M2382.9 755V777.3M2409.1 770.3V799.4M2412.2 777.6V798.3M2416.6 809.8V818.1M2422 804.9V831.5M2447.7 894.5V922.3M2454.8 889.8V925.4M2465.4 811V840.6M2469.5 831.8V864.7M2470.2 846.4V864.4M2480.6 859.3V878.3M2484.5 868.5V915M2494.7 829.4V850.7M2505.4 761.2V810M2510.3 763V797.3M2525.2 756.6V767.1M2531.4 767.8V804.5M2534.1 767.6V785.3M2550.8 767.1V790.3M2558.5 783.7V807.4M2565.5 833.1V856.7M2567.4 829.6V870M2579.6 853.9V883.2M2584.3 873.8V895M2599.2 902.7V968M2603 900.8V926.4M2604.3 897.3V919.9M2608.5 917.2V933M2613.6 922V943.2M2622.8 899.6V965.1M2624.4 921.3V963.4M2627.5 908V963.4M2630.5 907.9V928.7M2644.2 816.3V837.5M2654.2 786.7V809.8M2659.5 783.2V798.6M2661.5 746.3V811.5M2672.4 750.1V798.2M2676 768.9V787.2M2728 785.9V826.3M2731.8 789.8V827.3M2733.8 821.1V839.2M2746.3 874.4V899.3M2749.7 893.2V908.8M2752.7 903V932.4M2762.1 863.8V897.9M2765.4 841.8V864.6M2770.7 838V850.9M2782.8 874.5V896M2785.3 885.3V904.5M2789.2 877.1V899.1M2793.9 879.2V899.9M2797.9 866.2V907.9M2804.3 774.4V809.5M2808.3 765.3V792M2810.7 759.7V803.3M2814.1 763.2V778.8M2820.4 768.9V779.6M2825.3 736.1V762.7M2834.6 733.1V766.9M2839.3 751.9V761.3M2841.2 747V766.8M2843.8 748.6V771.7M2850.6 759V790.1M2863.8 753.9V802.3M2876.9 784.3V817.6M2882.8 808.2V843.6M2902.3 862.2V884.7" stroke="#c6daee" stroke-width="1.6" fill="none"/>
<path d="M353.3 786 L356.7 786 L360 799.3 L363.3 826 L366.7 869.3 L370 879.3 L373.3 872.7 L376.7 849.3 L380 859.3 L383.3 879.3 L386.7 889.3 L390 892.7 L393.3 896 L396.7 899.3 L400 896 L403.3 896 L406.7 896 L410 892.7 L413.3 889.3 L416.7 896 L420 872.7 L423.3 886 L426.7 886 L430 876 L433.3 849.3 L436.7 839.3 L440 812.7 L443.3 812.7 L446.7 799.3 L450 819.3 L453.3 829.3 L456.7 809.3 L460 799.3 L463.3 786 L466.7 779.3 L470 752.7 L473.3 746 L476.7 742.7 L480 739.3 L483.3 739.3 L486.7 732.7 L490 729.3 L493.3 736 L496.7 742.7 L500 752.7 L503.3 759.3 L506.7 759.3 L510 772.7 L513.3 786 L516.7 816 L520 832.7 L523.3 839.3 L526.7 839.3 L530 856 L533.3 872.7 L536.7 889.3 L540 906 L543.3 909.3 L546.7 896 L550 889.3 L553.3 879.3 L556.7 862.7 L560 846 L563.3 849.3 L566.7 859.3 L570 839.3 L573.3 869.3 L576.7 879.3 L580 886 L583.3 886 L586.7 876 L590 876 L590 902.3 L586.7 912.3 L583.3 922.3 L580 919 L576.7 912.3 L573.3 902.3 L570 889 L566.7 892.3 L563.3 885.7 L560 885.7 L556.7 892.3 L553.3 912.3 L550 922.3 L546.7 932.3 L543.3 939 L540 942.3 L536.7 922.3 L533.3 902.3 L530 889 L526.7 872.3 L523.3 872.3 L520 865.7 L516.7 845.7 L513.3 819 L510 815.7 L506.7 799 L503.3 809 L500 785.7 L496.7 769 L493.3 765.7 L490 765.7 L486.7 765.7 L483.3 769 L480 769 L476.7 772.3 L473.3 782.3 L470 785.7 L466.7 805.7 L463.3 812.3 L460 822.3 L456.7 839 L453.3 862.3 L450 849 L446.7 845.7 L443.3 839 L440 845.7 L436.7 879 L433.3 892.3 L430 915.7 L426.7 932.3 L423.3 932.3 L420 919 L416.7 929 L413.3 922.3 L410 925.7 L406.7 925.7 L403.3 932.3 L400 929 L396.7 932.3 L393.3 929 L390 929 L386.7 925.7 L383.3 905.7 L380 892.3 L376.7 885.7 L373.3 912.3 L370 915.7 L366.7 912.3 L363.3 865.7 L360 832.3 L356.7 812.3 L353.3 809 Z M591.7 829.3 L595 826 L598.3 796 L601.7 786 L605 789.3 L608.3 782.7 L611.7 786 L615 779.3 L618.3 779.3 L621.7 772.7 L625 772.7 L628.3 776 L631.7 766 L635 756 L638.3 762.7 L641.7 759.3 L645 756 L648.3 746 L651.7 752.7 L655 752.7 L657.3 756 L657.3 779 L655 782.3 L651.7 779 L648.3 779 L645 782.3 L641.7 789 L638.3 792.3 L635 789 L631.7 792.3 L628.3 799 L625 795.7 L621.7 799 L618.3 802.3 L615 805.7 L611.7 809 L608.3 812.3 L605 815.7 L601.7 819 L598.3 825.7 L595 852.3 L591.7 855.7 Z M682.7 812.7 L685 846 L688.3 852.7 L691.7 832.7 L695 826 L698.3 826 L701.7 832.7 L705 842.7 L708.3 829.3 L711.7 856 L714 862.7 L714 885.7 L711.7 885.7 L708.3 885.7 L705 895.7 L701.7 865.7 L698.3 852.3 L695 859 L691.7 872.3 L688.3 879 L685 902.3 L682.7 839 Z M754 842.7 L757.3 812.7 L760 807.7 L760 825.7 L757.3 849 L754 862.3 Z M765 779.3 L768.3 781 L770.7 782.7 L770.7 807.3 L768.3 805.7 L765 805.7 Z M783.3 779.3 L786.7 779.3 L790 769.3 L793.3 766 L796.7 769.3 L800 749.3 L803.3 736 L806.7 746 L810 736 L813.3 742.7 L816.7 742.7 L820 742.7 L823.3 739.3 L826.7 756 L830 779.3 L833.3 799.3 L836.7 819.3 L840 846 L843.3 866 L846.7 899.3 L850 902.7 L853.3 916 L856.7 892.7 L860 902.7 L863.3 892.7 L866.7 876 L870 856 L873.3 842.7 L876.7 836 L880 819.3 L883.3 792.7 L886.7 812.7 L890 806 L893.3 812.7 L896.7 809.3 L900 799.3 L903.3 816 L906.7 789.3 L910 766 L913.3 756 L916.7 762.7 L920 766 L923.3 779.3 L926.7 762.7 L930 762.7 L933.3 756 L936.7 782.7 L940 756 L943.3 749.3 L946.7 746 L950 742.7 L953.3 732.7 L956.7 726 L960 736 L963.3 742.7 L966.7 749.3 L970 742.7 L973.3 769.3 L976.7 772.7 L980 766 L983.3 766 L986.7 772.7 L990 766 L993.3 762.7 L996.7 776 L1000 779.3 L1003.3 786 L1006.7 789.3 L1010 789.3 L1013.3 796 L1016.7 786 L1020 786 L1023.3 796 L1026.7 799.3 L1030 806 L1033.3 809.3 L1036.7 812.7 L1036.7 829.3 L1040 839.3 L1043.3 846 L1046.7 852.7 L1050 846 L1053.3 842.7 L1056.7 846 L1060 849.3 L1063.3 822.7 L1066.7 832.7 L1070 836 L1073.3 829.3 L1076.7 816 L1080 806 L1083.3 786 L1086.7 766 L1090 756 L1093.3 762.7 L1096.7 766 L1100 766 L1103.3 766 L1106.7 762.7 L1110 766 L1113.3 766 L1116.7 769.3 L1120 762.7 L1123.3 759.3 L1126.7 756 L1130 759.3 L1133.3 776 L1136.7 779.3 L1140 796 L1143.3 816 L1146.7 859.3 L1150 886 L1153.3 892.7 L1156.7 906 L1160 919.3 L1163.3 929.3 L1166.7 939.3 L1170 939.3 L1173.3 916 L1176.7 912.7 L1180 909.3 L1183.3 906 L1186.7 912.7 L1190 912.7 L1193.3 916 L1196.7 902.7 L1200 886 L1203.3 852.7 L1206.7 866 L1210 889.3 L1213.3 886 L1216.7 866 L1220 849.3 L1223.3 812.7 L1226.7 812.7 L1230 792.7 L1233.3 776 L1236.7 779.3 L1240 769.3 L1243.3 762.7 L1246.7 752.7 L1250 746 L1253.3 746 L1256.7 752.7 L1260 756 L1263.3 762.7 L1266.7 769.3 L1270 772.7 L1273.3 779.3 L1273.3 799 L1270 795.7 L1266.7 792.3 L1263.3 795.7 L1260 785.7 L1256.7 782.3 L1253.3 779 L1250 775.7 L1246.7 782.3 L1243.3 789 L1240 795.7 L1236.7 799 L1233.3 805.7 L1230 822.3 L1226.7 839 L1223.3 839 L1220 879 L1216.7 892.3 L1213.3 919 L1210 919 L1206.7 909 L1203.3 905.7 L1200 925.7 L1196.7 945.7 L1193.3 955.7 L1190 955.7 L1186.7 945.7 L1183.3 952.3 L1180 939 L1176.7 942.3 L1173.3 959 L1170 972.3 L1166.7 992.3 L1163.3 955.7 L1160 945.7 L1156.7 939 L1153.3 939 L1150 945.7 L1146.7 899 L1143.3 859 L1140 819 L1136.7 815.7 L1133.3 812.3 L1130 785.7 L1126.7 789 L1123.3 792.3 L1120 792.3 L1116.7 795.7 L1113.3 795.7 L1110 789 L1106.7 799 L1103.3 795.7 L1100 792.3 L1096.7 795.7 L1093.3 792.3 L1090 785.7 L1086.7 805.7 L1083.3 825.7 L1080 832.3 L1076.7 839 L1073.3 859 L1070 869 L1066.7 865.7 L1063.3 865.7 L1060 879 L1056.7 879 L1053.3 879 L1050 882.3 L1046.7 882.3 L1043.3 875.7 L1040 865.7 L1036.7 859 L1036.7 845.7 L1033.3 839 L1030 835.7 L1026.7 829 L1023.3 825.7 L1020 819 L1016.7 815.7 L1013.3 822.3 L1010 825.7 L1006.7 819 L1003.3 822.3 L1000 809 L996.7 805.7 L993.3 799 L990 799 L986.7 802.3 L983.3 799 L980 839 L976.7 799 L973.3 799 L970 772.3 L966.7 785.7 L963.3 769 L960 762.3 L956.7 759 L953.3 759 L950 765.7 L946.7 769 L943.3 772.3 L940 782.3 L936.7 809 L933.3 782.3 L930 789 L926.7 792.3 L923.3 805.7 L920 792.3 L916.7 792.3 L913.3 782.3 L910 799 L906.7 825.7 L903.3 845.7 L900 832.3 L896.7 839 L893.3 839 L890 845.7 L886.7 842.3 L883.3 842.3 L880 852.3 L876.7 869 L873.3 869 L870 889 L866.7 909 L863.3 929 L860 932.3 L856.7 932.3 L853.3 949 L850 932.3 L846.7 929 L843.3 892.3 L840 892.3 L836.7 845.7 L833.3 829 L830 812.3 L826.7 792.3 L823.3 765.7 L820 769 L816.7 769 L813.3 772.3 L810 772.3 L806.7 772.3 L803.3 765.7 L800 782.3 L796.7 799 L793.3 792.3 L790 799 L786.7 805.7 L783.3 799 Z M1285 779.3 L1288.3 782.7 L1291.7 792.7 L1295 799.3 L1298.3 812.7 L1301.7 819.3 L1305 839.3 L1308.3 846 L1311.7 846 L1315 859.3 L1318.3 852.7 L1321.7 892.7 L1325 906 L1328.3 892.7 L1331.7 892.7 L1335 892.7 L1338.3 906 L1341.7 912.7 L1345 912.7 L1348.3 912.7 L1351.7 902.7 L1355 899.3 L1358.3 899.3 L1361.7 919.3 L1365 926 L1368.3 912.7 L1371.7 892.7 L1375 882.7 L1378.3 866 L1381.7 866 L1385 852.7 L1388.3 819.3 L1391.7 792.7 L1395 786 L1398.3 782.7 L1401.7 779.3 L1405 776 L1408.3 776 L1411.7 776 L1415 776 L1418.3 776 L1421.7 769.3 L1425 772.7 L1428.3 766 L1431.7 739.3 L1435 746 L1438.3 746 L1441.7 742.7 L1445 742.7 L1448.3 752.7 L1451.7 766 L1455 786 L1458.3 816 L1461.7 866 L1465 899.3 L1468.3 926 L1471.7 946 L1475 962.7 L1478.3 946 L1481.7 919.3 L1485 919.3 L1488.3 899.3 L1491.7 879.3 L1495 876 L1498.3 889.3 L1501.7 886 L1505 886 L1508.3 886 L1511.7 882.7 L1515 886 L1518.3 889.3 L1521.7 892.7 L1525 862.7 L1528.3 882.7 L1531.7 886 L1535 879.3 L1538.3 886 L1541.7 879.3 L1545 859.3 L1548.3 846 L1551.7 809.3 L1555 789.3 L1558.3 792.7 L1561.7 796 L1565 802.7 L1568.3 792.7 L1571.7 762.7 L1575 759.3 L1578.3 759.3 L1581.7 759.3 L1585 762.7 L1588.3 759.3 L1591.7 759.3 L1595 756 L1598.3 756 L1601.7 762.7 L1605 766 L1608.3 766 L1611.7 762.7 L1615 772.7 L1618.3 812.7 L1621.7 812.7 L1625 832.7 L1628.3 886 L1631.7 892.7 L1635 906 L1638.3 912.7 L1641.7 859.3 L1645 859.3 L1648.3 872.7 L1651.7 882.7 L1655 892.7 L1655 919 L1651.7 909 L1648.3 902.3 L1645 885.7 L1641.7 899 L1638.3 939 L1635 935.7 L1631.7 919 L1628.3 915.7 L1625 852.3 L1621.7 839 L1618.3 842.3 L1615 799 L1611.7 785.7 L1608.3 795.7 L1605 789 L1601.7 789 L1598.3 779 L1595 782.3 L1591.7 785.7 L1588.3 782.3 L1585 799 L1581.7 785.7 L1578.3 785.7 L1575 785.7 L1571.7 785.7 L1568.3 812.3 L1565 832.3 L1561.7 822.3 L1558.3 819 L1555 819 L1551.7 839 L1548.3 872.3 L1545 885.7 L1541.7 915.7 L1538.3 915.7 L1535 919 L1531.7 932.3 L1528.3 915.7 L1525 912.3 L1521.7 925.7 L1518.3 919 L1515 919 L1511.7 915.7 L1508.3 929 L1505 915.7 L1501.7 925.7 L1498.3 925.7 L1495 899 L1491.7 912.3 L1488.3 932.3 L1485 952.3 L1481.7 952.3 L1478.3 975.7 L1475 985.7 L1471.7 979 L1468.3 962.3 L1465 932.3 L1461.7 899 L1458.3 849 L1455 809 L1451.7 792.3 L1448.3 779 L1445 769 L1441.7 772.3 L1438.3 775.7 L1435 775.7 L1431.7 775.7 L1428.3 789 L1425 805.7 L1421.7 795.7 L1418.3 799 L1415 802.3 L1411.7 802.3 L1408.3 799 L1405 802.3 L1401.7 805.7 L1398.3 809 L1395 815.7 L1391.7 825.7 L1388.3 865.7 L1385 879 L1381.7 889 L1378.3 899 L1375 912.3 L1371.7 925.7 L1368.3 945.7 L1365 959 L1361.7 955.7 L1358.3 945.7 L1355 932.3 L1351.7 945.7 L1348.3 952.3 L1345 952.3 L1341.7 945.7 L1338.3 939 L1335 932.3 L1331.7 925.7 L1328.3 932.3 L1325 945.7 L1321.7 919 L1318.3 892.3 L1315 899 L1311.7 889 L1308.3 885.7 L1305 902.3 L1301.7 849 L1298.3 839 L1295 825.7 L1291.7 822.3 L1288.3 815.7 L1285 805.7 Z M1726.7 756 L1730 759.3 L1733.3 766 L1736.7 752.7 L1740 742.7 L1743.3 742.7 L1746.7 746 L1750 749.3 L1753.3 739.3 L1756.7 742.7 L1760 749.3 L1763.3 752.7 L1766.7 759.3 L1770 762.7 L1773.3 766 L1776.7 769.3 L1780 786 L1783.3 789.3 L1786.7 789.3 L1790 812.7 L1793.3 806 L1796.7 829.3 L1800 866 L1803.3 886 L1806.7 892.7 L1810 919.3 L1813.3 882.7 L1816.7 892.7 L1820 879.3 L1823.3 876 L1826.7 872.7 L1830 866 L1833.3 859.3 L1836.7 859.3 L1840 862.7 L1843.3 846 L1846.7 846 L1850 866 L1853.3 872.7 L1856.7 812.7 L1860 806 L1863.3 782.7 L1866.7 792.7 L1870 796 L1873.3 779.3 L1876.7 769.3 L1880 752.7 L1883.3 762.7 L1886.7 769.3 L1890 776 L1893.3 779.3 L1896.7 782.7 L1900 786 L1903.3 786 L1906.7 796 L1910 789.3 L1913.3 799.3 L1916.7 809.3 L1920 819.3 L1920 845.7 L1916.7 832.3 L1913.3 819 L1910 809 L1906.7 815.7 L1903.3 809 L1900 802.3 L1896.7 802.3 L1893.3 799 L1890 795.7 L1886.7 792.3 L1883.3 785.7 L1880 779 L1876.7 792.3 L1873.3 799 L1870 815.7 L1866.7 815.7 L1863.3 809 L1860 825.7 L1856.7 839 L1853.3 892.3 L1850 889 L1846.7 872.3 L1843.3 875.7 L1840 882.3 L1836.7 882.3 L1833.3 882.3 L1830 892.3 L1826.7 899 L1823.3 905.7 L1820 912.3 L1816.7 919 L1813.3 912.3 L1810 999 L1806.7 982.3 L1803.3 919 L1800 909 L1796.7 859 L1793.3 845.7 L1790 859 L1786.7 819 L1783.3 822.3 L1780 825.7 L1776.7 799 L1773.3 795.7 L1770 792.3 L1766.7 785.7 L1763.3 782.3 L1760 779 L1756.7 772.3 L1753.3 765.7 L1750 785.7 L1746.7 772.3 L1743.3 765.7 L1740 769 L1736.7 785.7 L1733.3 789 L1730 789 L1726.7 779 Z M1993.3 812.7 L1996.7 809.3 L2000 806 L2003.3 812.7 L2006.7 799.3 L2010 786 L2013.3 792.7 L2016.7 802.7 L2020 812.7 L2023.3 822.7 L2026.7 816 L2030 799.3 L2033.3 782.7 L2036.7 792.7 L2040 779.3 L2043.3 772.7 L2046.7 766 L2050 762.7 L2053.3 756 L2056.7 762.7 L2060 759.3 L2063.3 742.7 L2066.7 756 L2070 756 L2073.3 746 L2076.7 762.7 L2080 772.7 L2083.3 782.7 L2086.7 786 L2090 796 L2093.3 796 L2096.7 799.3 L2100 812.7 L2103.3 826 L2106.7 836 L2110 842.7 L2113.3 846 L2116.7 852.7 L2120 872.7 L2123.3 892.7 L2126.7 912.7 L2130 912.7 L2133.3 889.3 L2136.7 899.3 L2140 882.7 L2143.3 872.7 L2146.7 826 L2150 846 L2153.3 856 L2156.7 859.3 L2160 819.3 L2163.3 786 L2166.7 776 L2170 772.7 L2173.3 772.7 L2176.7 769.3 L2180 769.3 L2183.3 756 L2186.7 756 L2190 762.7 L2193.3 769.3 L2196.7 766 L2200 772.7 L2203.3 776 L2206.7 762.7 L2210 766 L2213.3 769.3 L2216.7 776 L2220 779.3 L2223.3 779.3 L2226.7 769.3 L2230 769.3 L2233.3 772.7 L2236.7 786 L2240 799.3 L2243.3 806 L2246.7 829.3 L2250 839.3 L2253.3 869.3 L2256.7 906 L2260 926 L2263.3 946 L2266.7 952.7 L2270 949.3 L2273.3 906 L2276.7 949.3 L2280 949.3 L2283.3 952.7 L2286.7 926 L2290 919.3 L2293.3 889.3 L2296.7 882.7 L2300 846 L2303.3 816 L2306.7 826 L2310 826 L2313.3 832.7 L2316.7 836 L2320 809.3 L2323.3 812.7 L2326.7 829.3 L2330 836 L2333.3 832.7 L2336.7 842.7 L2340 839.3 L2343.3 822.7 L2346.7 809.3 L2350 809.3 L2353.3 806 L2356.7 792.7 L2360 786 L2363.3 782.7 L2366.7 786 L2370 782.7 L2373.3 766 L2376.7 762.7 L2380 756 L2383.3 759.3 L2386.7 762.7 L2390 762.7 L2390 785.7 L2386.7 789 L2383.3 785.7 L2380 785.7 L2376.7 789 L2373.3 795.7 L2370 805.7 L2366.7 805.7 L2363.3 805.7 L2360 809 L2356.7 819 L2353.3 829 L2350 832.3 L2346.7 835.7 L2343.3 849 L2340 865.7 L2336.7 872.3 L2333.3 855.7 L2330 855.7 L2326.7 852.3 L2323.3 839 L2320 832.3 L2316.7 872.3 L2313.3 899 L2310 872.3 L2306.7 865.7 L2303.3 859 L2300 899 L2296.7 905.7 L2293.3 912.3 L2290 952.3 L2286.7 985.7 L2283.3 992.3 L2280 989 L2276.7 992.3 L2273.3 972.3 L2270 982.3 L2266.7 985.7 L2263.3 992.3 L2260 959 L2256.7 939 L2253.3 909 L2250 865.7 L2246.7 852.3 L2243.3 832.3 L2240 825.7 L2236.7 812.3 L2233.3 792.3 L2230 789 L2226.7 795.7 L2223.3 802.3 L2220 799 L2216.7 795.7 L2213.3 792.3 L2210 789 L2206.7 785.7 L2203.3 802.3 L2200 799 L2196.7 792.3 L2193.3 795.7 L2190 792.3 L2186.7 785.7 L2183.3 782.3 L2180 792.3 L2176.7 795.7 L2173.3 795.7 L2170 795.7 L2166.7 805.7 L2163.3 809 L2160 865.7 L2156.7 889 L2153.3 889 L2150 875.7 L2146.7 869 L2143.3 895.7 L2140 909 L2136.7 932.3 L2133.3 932.3 L2130 939 L2126.7 939 L2123.3 925.7 L2120 902.3 L2116.7 885.7 L2113.3 872.3 L2110 865.7 L2106.7 862.3 L2103.3 859 L2100 839 L2096.7 829 L2093.3 822.3 L2090 825.7 L2086.7 812.3 L2083.3 805.7 L2080 795.7 L2076.7 789 L2073.3 785.7 L2070 782.3 L2066.7 782.3 L2063.3 775.7 L2060 785.7 L2056.7 785.7 L2053.3 785.7 L2050 789 L2046.7 792.3 L2043.3 799 L2040 802.3 L2036.7 812.3 L2033.3 809 L2030 819 L2026.7 845.7 L2023.3 845.7 L2020 835.7 L2016.7 829 L2013.3 819 L2010 815.7 L2006.7 825.7 L2003.3 842.3 L2000 832.3 L1996.7 835.7 L1993.3 842.3 Z M2398.3 766 L2401.7 766 L2405 772.7 L2408.3 772.7 L2411.7 776 L2414 789.3 L2414 809 L2411.7 805.7 L2408.3 792.3 L2405 795.7 L2401.7 795.7 L2398.3 789 Z M2416.7 807.7 L2421.7 806 L2421.7 824 L2416.7 825.7 Z M2448.3 899.3 L2451.7 886 L2455 886 L2458.3 859.3 L2461.7 799.3 L2465 812.7 L2468.3 829.3 L2471.7 842.7 L2475 832.7 L2478.3 836 L2481.7 859.3 L2485 866 L2488.3 862.7 L2491.7 846 L2495 826 L2498.3 819.3 L2501.7 786 L2505 769.3 L2508.3 762.7 L2511.7 759.3 L2515 746 L2518.3 746 L2521.7 749.3 L2525 752.7 L2528.3 759.3 L2531.7 766 L2535 769.3 L2538.3 772.7 L2541.7 756 L2545 762.7 L2548.3 766 L2551.7 769.3 L2555 782.7 L2558.3 789.3 L2561.7 812.7 L2565 829.3 L2568.3 829.3 L2571.7 849.3 L2575 859.3 L2578.3 852.7 L2581.7 866 L2585 872.7 L2588.3 882.7 L2591.7 886 L2595 902.7 L2598.3 906 L2601.7 899.3 L2605 896 L2608.3 916 L2611.7 922.7 L2615 919.3 L2618.3 919.3 L2621.7 896 L2625 919.3 L2628.3 912.7 L2631.7 906 L2635 896 L2638.3 882.7 L2641.7 852.7 L2645 812.7 L2648.3 812.7 L2651.7 802.7 L2655 792.7 L2658.3 779.3 L2661.7 756 L2665 759.3 L2668.3 759.3 L2671.7 752.7 L2675 766 L2675 785.7 L2671.7 779 L2668.3 785.7 L2665 785.7 L2661.7 782.3 L2658.3 802.3 L2655 815.7 L2651.7 825.7 L2648.3 839 L2645 845.7 L2641.7 885.7 L2638.3 909 L2635 925.7 L2631.7 932.3 L2628.3 942.3 L2625 959 L2621.7 939 L2618.3 945.7 L2615 945.7 L2611.7 945.7 L2608.3 939 L2605 919 L2601.7 925.7 L2598.3 929 L2595 925.7 L2591.7 912.3 L2588.3 909 L2585 899 L2581.7 889 L2578.3 879 L2575 885.7 L2571.7 872.3 L2568.3 859 L2565 862.3 L2561.7 839 L2558.3 812.3 L2555 805.7 L2551.7 792.3 L2548.3 789 L2545 785.7 L2541.7 782.3 L2538.3 809 L2535 792.3 L2531.7 789 L2528.3 785.7 L2525 775.7 L2521.7 772.3 L2518.3 769 L2515 765.7 L2511.7 785.7 L2508.3 792.3 L2505 799 L2501.7 825.7 L2498.3 845.7 L2495 855.7 L2491.7 865.7 L2488.3 889 L2485 905.7 L2481.7 885.7 L2478.3 865.7 L2475 859 L2471.7 869 L2468.3 862.3 L2465 845.7 L2461.7 845.7 L2458.3 889 L2455 912.3 L2451.7 915.7 L2448.3 922.3 Z M2718.3 749.3 L2721.7 762.7 L2725 776 L2728.3 786 L2731.7 792.7 L2735 819.3 L2738.3 839.3 L2741.7 866 L2745 882.7 L2748.3 889.3 L2751.7 899.3 L2755 912.7 L2758.3 906 L2761.7 866 L2765 846 L2768.3 836 L2771.7 836 L2775 846 L2778.3 876 L2781.7 879.3 L2785 882.7 L2788.3 882.7 L2791.7 882.7 L2795 879.3 L2798.3 869.3 L2798.3 899 L2795 905.7 L2791.7 912.3 L2788.3 905.7 L2785 902.3 L2781.7 899 L2778.3 899 L2775 872.3 L2771.7 859 L2768.3 859 L2765 872.3 L2761.7 899 L2758.3 932.3 L2755 952.3 L2751.7 932.3 L2748.3 915.7 L2745 905.7 L2741.7 892.3 L2738.3 865.7 L2735 845.7 L2731.7 822.3 L2728.3 815.7 L2725 802.3 L2721.7 789 L2718.3 772.3 Z M2801.7 816 L2805 779.3 L2808.3 762.7 L2811.7 762.7 L2815 762.7 L2818.3 762.7 L2821.7 766 L2825 742.7 L2828.3 739.3 L2831.7 739.3 L2835 739.3 L2838.3 749.3 L2841.7 752.7 L2845 752.7 L2848.3 752.7 L2851.7 756 L2855 752.7 L2858.3 756 L2861.7 752.7 L2865 759.3 L2868.3 772.7 L2871.7 782.7 L2875 792.7 L2878.3 796 L2881.7 816 L2885 842.7 L2888.3 866 L2891.7 869.3 L2895 872.7 L2898.3 869.3 L2901.7 859.3 L2901.7 889 L2898.3 902.3 L2895 899 L2891.7 899 L2888.3 892.3 L2885 872.3 L2881.7 845.7 L2878.3 819 L2875 812.3 L2871.7 805.7 L2868.3 799 L2865 785.7 L2861.7 775.7 L2858.3 782.3 L2855 775.7 L2851.7 782.3 L2848.3 775.7 L2845 772.3 L2841.7 772.3 L2838.3 769 L2835 762.3 L2831.7 759 L2828.3 762.3 L2825 765.7 L2821.7 785.7 L2818.3 782.3 L2815 785.7 L2811.7 785.7 L2808.3 789 L2805 812.3 L2801.7 835.7 Z" fill="#e2ecf7" stroke="none"/>
<path d="M353.3 787.5 L356.7 787.5 L360 800.8 L363.3 827.5 L366.7 870.8 L370 880.8 L373.3 874.2 L376.7 850.8 L380 860.8 L383.3 880.8 L386.7 890.8 L390 894.2 L393.3 897.5 L396.7 900.8 L400 897.5 L403.3 897.5 L406.7 897.5 L410 894.2 L413.3 890.8 L416.7 897.5 L420 874.2 L423.3 887.5 L426.7 887.5 L430 877.5 L433.3 850.8 L436.7 840.8 L440 814.2 L443.3 814.2 L446.7 800.8 L450 820.8 L453.3 830.8 L456.7 810.8 L460 800.8 L463.3 787.5 L466.7 780.8 L470 754.2 L473.3 747.5 L476.7 744.2 L480 740.8 L483.3 740.8 L486.7 734.2 L490 730.8 L493.3 737.5 L496.7 744.2 L500 754.2 L503.3 760.8 L506.7 760.8 L510 774.2 L513.3 787.5 L516.7 817.5 L520 834.2 L523.3 840.8 L526.7 840.8 L530 857.5 L533.3 874.2 L536.7 890.8 L540 907.5 L543.3 910.8 L546.7 897.5 L550 890.8 L553.3 880.8 L556.7 864.2 L560 847.5 L563.3 850.8 L566.7 860.8 L570 840.8 L573.3 870.8 L576.7 880.8 L580 887.5 L583.3 887.5 L586.7 877.5 L590 877.5 L590 895.8 L586.7 905.8 L583.3 915.8 L580 912.5 L576.7 905.8 L573.3 895.8 L570 882.5 L566.7 885.8 L563.3 879.2 L560 879.2 L556.7 885.8 L553.3 905.8 L550 915.8 L546.7 925.8 L543.3 932.5 L540 935.8 L536.7 915.8 L533.3 895.8 L530 882.5 L526.7 865.8 L523.3 865.8 L520 859.2 L516.7 839.2 L513.3 812.5 L510 809.2 L506.7 792.5 L503.3 802.5 L500 779.2 L496.7 762.5 L493.3 759.2 L490 759.2 L486.7 759.2 L483.3 762.5 L480 762.5 L476.7 765.8 L473.3 775.8 L470 779.2 L466.7 799.2 L463.3 805.8 L460 815.8 L456.7 832.5 L453.3 855.8 L450 842.5 L446.7 839.2 L443.3 832.5 L440 839.2 L436.7 872.5 L433.3 885.8 L430 909.2 L426.7 925.8 L423.3 925.8 L420 912.5 L416.7 922.5 L413.3 915.8 L410 919.2 L406.7 919.2 L403.3 925.8 L400 922.5 L396.7 925.8 L393.3 922.5 L390 922.5 L386.7 919.2 L383.3 899.2 L380 885.8 L376.7 879.2 L373.3 905.8 L370 909.2 L366.7 905.8 L363.3 859.2 L360 825.8 L356.7 805.8 L353.3 802.5 Z M591.7 830.8 L595 827.5 L598.3 797.5 L601.7 787.5 L605 790.8 L608.3 784.2 L611.7 787.5 L615 780.8 L618.3 780.8 L621.7 774.2 L625 774.2 L628.3 777.5 L631.7 767.5 L635 757.5 L638.3 764.2 L641.7 760.8 L645 757.5 L648.3 747.5 L651.7 754.2 L655 754.2 L657.3 757.5 L657.3 772.5 L655 775.8 L651.7 772.5 L648.3 772.5 L645 775.8 L641.7 782.5 L638.3 785.8 L635 782.5 L631.7 785.8 L628.3 792.5 L625 789.2 L621.7 792.5 L618.3 795.8 L615 799.2 L611.7 802.5 L608.3 805.8 L605 809.2 L601.7 812.5 L598.3 819.2 L595 845.8 L591.7 849.2 Z M682.7 814.2 L685 847.5 L688.3 854.2 L691.7 834.2 L695 827.5 L698.3 827.5 L701.7 834.2 L705 844.2 L708.3 830.8 L711.7 857.5 L714 864.2 L714 879.2 L711.7 879.2 L708.3 879.2 L705 889.2 L701.7 859.2 L698.3 845.8 L695 852.5 L691.7 865.8 L688.3 872.5 L685 895.8 L682.7 832.5 Z M754 844.2 L757.3 814.2 L760 809.2 L760 819.2 L757.3 842.5 L754 855.8 Z M765 780.8 L768.3 782.5 L770.7 784.2 L770.7 800.8 L768.3 799.2 L765 799.2 Z M783.3 780.8 L786.7 780.8 L790 770.8 L793.3 767.5 L796.7 770.8 L800 750.8 L803.3 737.5 L806.7 747.5 L810 737.5 L813.3 744.2 L816.7 744.2 L820 744.2 L823.3 740.8 L826.7 757.5 L830 780.8 L833.3 800.8 L836.7 820.8 L840 847.5 L843.3 867.5 L846.7 900.8 L850 904.2 L853.3 917.5 L856.7 894.2 L860 904.2 L863.3 894.2 L866.7 877.5 L870 857.5 L873.3 844.2 L876.7 837.5 L880 820.8 L883.3 794.2 L886.7 814.2 L890 807.5 L893.3 814.2 L896.7 810.8 L900 800.8 L903.3 817.5 L906.7 790.8 L910 767.5 L913.3 757.5 L916.7 764.2 L920 767.5 L923.3 780.8 L926.7 764.2 L930 764.2 L933.3 757.5 L936.7 784.2 L940 757.5 L943.3 750.8 L946.7 747.5 L950 744.2 L953.3 734.2 L956.7 727.5 L960 737.5 L963.3 744.2 L966.7 750.8 L970 744.2 L973.3 770.8 L976.7 774.2 L980 767.5 L983.3 767.5 L986.7 774.2 L990 767.5 L993.3 764.2 L996.7 777.5 L1000 780.8 L1003.3 787.5 L1006.7 790.8 L1010 790.8 L1013.3 797.5 L1016.7 787.5 L1020 787.5 L1023.3 797.5 L1026.7 800.8 L1030 807.5 L1033.3 810.8 L1036.7 814.2 L1036.7 830.8 L1040 840.8 L1043.3 847.5 L1046.7 854.2 L1050 847.5 L1053.3 844.2 L1056.7 847.5 L1060 850.8 L1063.3 824.2 L1066.7 834.2 L1070 837.5 L1073.3 830.8 L1076.7 817.5 L1080 807.5 L1083.3 787.5 L1086.7 767.5 L1090 757.5 L1093.3 764.2 L1096.7 767.5 L1100 767.5 L1103.3 767.5 L1106.7 764.2 L1110 767.5 L1113.3 767.5 L1116.7 770.8 L1120 764.2 L1123.3 760.8 L1126.7 757.5 L1130 760.8 L1133.3 777.5 L1136.7 780.8 L1140 797.5 L1143.3 817.5 L1146.7 860.8 L1150 887.5 L1153.3 894.2 L1156.7 907.5 L1160 920.8 L1163.3 930.8 L1166.7 940.8 L1170 940.8 L1173.3 917.5 L1176.7 914.2 L1180 910.8 L1183.3 907.5 L1186.7 914.2 L1190 914.2 L1193.3 917.5 L1196.7 904.2 L1200 887.5 L1203.3 854.2 L1206.7 867.5 L1210 890.8 L1213.3 887.5 L1216.7 867.5 L1220 850.8 L1223.3 814.2 L1226.7 814.2 L1230 794.2 L1233.3 777.5 L1236.7 780.8 L1240 770.8 L1243.3 764.2 L1246.7 754.2 L1250 747.5 L1253.3 747.5 L1256.7 754.2 L1260 757.5 L1263.3 764.2 L1266.7 770.8 L1270 774.2 L1273.3 780.8 L1273.3 792.5 L1270 789.2 L1266.7 785.8 L1263.3 789.2 L1260 779.2 L1256.7 775.8 L1253.3 772.5 L1250 769.2 L1246.7 775.8 L1243.3 782.5 L1240 789.2 L1236.7 792.5 L1233.3 799.2 L1230 815.8 L1226.7 832.5 L1223.3 832.5 L1220 872.5 L1216.7 885.8 L1213.3 912.5 L1210 912.5 L1206.7 902.5 L1203.3 899.2 L1200 919.2 L1196.7 939.2 L1193.3 949.2 L1190 949.2 L1186.7 939.2 L1183.3 945.8 L1180 932.5 L1176.7 935.8 L1173.3 952.5 L1170 965.8 L1166.7 985.8 L1163.3 949.2 L1160 939.2 L1156.7 932.5 L1153.3 932.5 L1150 939.2 L1146.7 892.5 L1143.3 852.5 L1140 812.5 L1136.7 809.2 L1133.3 805.8 L1130 779.2 L1126.7 782.5 L1123.3 785.8 L1120 785.8 L1116.7 789.2 L1113.3 789.2 L1110 782.5 L1106.7 792.5 L1103.3 789.2 L1100 785.8 L1096.7 789.2 L1093.3 785.8 L1090 779.2 L1086.7 799.2 L1083.3 819.2 L1080 825.8 L1076.7 832.5 L1073.3 852.5 L1070 862.5 L1066.7 859.2 L1063.3 859.2 L1060 872.5 L1056.7 872.5 L1053.3 872.5 L1050 875.8 L1046.7 875.8 L1043.3 869.2 L1040 859.2 L1036.7 852.5 L1036.7 839.2 L1033.3 832.5 L1030 829.2 L1026.7 822.5 L1023.3 819.2 L1020 812.5 L1016.7 809.2 L1013.3 815.8 L1010 819.2 L1006.7 812.5 L1003.3 815.8 L1000 802.5 L996.7 799.2 L993.3 792.5 L990 792.5 L986.7 795.8 L983.3 792.5 L980 832.5 L976.7 792.5 L973.3 792.5 L970 765.8 L966.7 779.2 L963.3 762.5 L960 755.8 L956.7 752.5 L953.3 752.5 L950 759.2 L946.7 762.5 L943.3 765.8 L940 775.8 L936.7 802.5 L933.3 775.8 L930 782.5 L926.7 785.8 L923.3 799.2 L920 785.8 L916.7 785.8 L913.3 775.8 L910 792.5 L906.7 819.2 L903.3 839.2 L900 825.8 L896.7 832.5 L893.3 832.5 L890 839.2 L886.7 835.8 L883.3 835.8 L880 845.8 L876.7 862.5 L873.3 862.5 L870 882.5 L866.7 902.5 L863.3 922.5 L860 925.8 L856.7 925.8 L853.3 942.5 L850 925.8 L846.7 922.5 L843.3 885.8 L840 885.8 L836.7 839.2 L833.3 822.5 L830 805.8 L826.7 785.8 L823.3 759.2 L820 762.5 L816.7 762.5 L813.3 765.8 L810 765.8 L806.7 765.8 L803.3 759.2 L800 775.8 L796.7 792.5 L793.3 785.8 L790 792.5 L786.7 799.2 L783.3 792.5 Z M1285 780.8 L1288.3 784.2 L1291.7 794.2 L1295 800.8 L1298.3 814.2 L1301.7 820.8 L1305 840.8 L1308.3 847.5 L1311.7 847.5 L1315 860.8 L1318.3 854.2 L1321.7 894.2 L1325 907.5 L1328.3 894.2 L1331.7 894.2 L1335 894.2 L1338.3 907.5 L1341.7 914.2 L1345 914.2 L1348.3 914.2 L1351.7 904.2 L1355 900.8 L1358.3 900.8 L1361.7 920.8 L1365 927.5 L1368.3 914.2 L1371.7 894.2 L1375 884.2 L1378.3 867.5 L1381.7 867.5 L1385 854.2 L1388.3 820.8 L1391.7 794.2 L1395 787.5 L1398.3 784.2 L1401.7 780.8 L1405 777.5 L1408.3 777.5 L1411.7 777.5 L1415 777.5 L1418.3 777.5 L1421.7 770.8 L1425 774.2 L1428.3 767.5 L1431.7 740.8 L1435 747.5 L1438.3 747.5 L1441.7 744.2 L1445 744.2 L1448.3 754.2 L1451.7 767.5 L1455 787.5 L1458.3 817.5 L1461.7 867.5 L1465 900.8 L1468.3 927.5 L1471.7 947.5 L1475 964.2 L1478.3 947.5 L1481.7 920.8 L1485 920.8 L1488.3 900.8 L1491.7 880.8 L1495 877.5 L1498.3 890.8 L1501.7 887.5 L1505 887.5 L1508.3 887.5 L1511.7 884.2 L1515 887.5 L1518.3 890.8 L1521.7 894.2 L1525 864.2 L1528.3 884.2 L1531.7 887.5 L1535 880.8 L1538.3 887.5 L1541.7 880.8 L1545 860.8 L1548.3 847.5 L1551.7 810.8 L1555 790.8 L1558.3 794.2 L1561.7 797.5 L1565 804.2 L1568.3 794.2 L1571.7 764.2 L1575 760.8 L1578.3 760.8 L1581.7 760.8 L1585 764.2 L1588.3 760.8 L1591.7 760.8 L1595 757.5 L1598.3 757.5 L1601.7 764.2 L1605 767.5 L1608.3 767.5 L1611.7 764.2 L1615 774.2 L1618.3 814.2 L1621.7 814.2 L1625 834.2 L1628.3 887.5 L1631.7 894.2 L1635 907.5 L1638.3 914.2 L1641.7 860.8 L1645 860.8 L1648.3 874.2 L1651.7 884.2 L1655 894.2 L1655 912.5 L1651.7 902.5 L1648.3 895.8 L1645 879.2 L1641.7 892.5 L1638.3 932.5 L1635 929.2 L1631.7 912.5 L1628.3 909.2 L1625 845.8 L1621.7 832.5 L1618.3 835.8 L1615 792.5 L1611.7 779.2 L1608.3 789.2 L1605 782.5 L1601.7 782.5 L1598.3 772.5 L1595 775.8 L1591.7 779.2 L1588.3 775.8 L1585 792.5 L1581.7 779.2 L1578.3 779.2 L1575 779.2 L1571.7 779.2 L1568.3 805.8 L1565 825.8 L1561.7 815.8 L1558.3 812.5 L1555 812.5 L1551.7 832.5 L1548.3 865.8 L1545 879.2 L1541.7 909.2 L1538.3 909.2 L1535 912.5 L1531.7 925.8 L1528.3 909.2 L1525 905.8 L1521.7 919.2 L1518.3 912.5 L1515 912.5 L1511.7 909.2 L1508.3 922.5 L1505 909.2 L1501.7 919.2 L1498.3 919.2 L1495 892.5 L1491.7 905.8 L1488.3 925.8 L1485 945.8 L1481.7 945.8 L1478.3 969.2 L1475 979.2 L1471.7 972.5 L1468.3 955.8 L1465 925.8 L1461.7 892.5 L1458.3 842.5 L1455 802.5 L1451.7 785.8 L1448.3 772.5 L1445 762.5 L1441.7 765.8 L1438.3 769.2 L1435 769.2 L1431.7 769.2 L1428.3 782.5 L1425 799.2 L1421.7 789.2 L1418.3 792.5 L1415 795.8 L1411.7 795.8 L1408.3 792.5 L1405 795.8 L1401.7 799.2 L1398.3 802.5 L1395 809.2 L1391.7 819.2 L1388.3 859.2 L1385 872.5 L1381.7 882.5 L1378.3 892.5 L1375 905.8 L1371.7 919.2 L1368.3 939.2 L1365 952.5 L1361.7 949.2 L1358.3 939.2 L1355 925.8 L1351.7 939.2 L1348.3 945.8 L1345 945.8 L1341.7 939.2 L1338.3 932.5 L1335 925.8 L1331.7 919.2 L1328.3 925.8 L1325 939.2 L1321.7 912.5 L1318.3 885.8 L1315 892.5 L1311.7 882.5 L1308.3 879.2 L1305 895.8 L1301.7 842.5 L1298.3 832.5 L1295 819.2 L1291.7 815.8 L1288.3 809.2 L1285 799.2 Z M1726.7 757.5 L1730 760.8 L1733.3 767.5 L1736.7 754.2 L1740 744.2 L1743.3 744.2 L1746.7 747.5 L1750 750.8 L1753.3 740.8 L1756.7 744.2 L1760 750.8 L1763.3 754.2 L1766.7 760.8 L1770 764.2 L1773.3 767.5 L1776.7 770.8 L1780 787.5 L1783.3 790.8 L1786.7 790.8 L1790 814.2 L1793.3 807.5 L1796.7 830.8 L1800 867.5 L1803.3 887.5 L1806.7 894.2 L1810 920.8 L1813.3 884.2 L1816.7 894.2 L1820 880.8 L1823.3 877.5 L1826.7 874.2 L1830 867.5 L1833.3 860.8 L1836.7 860.8 L1840 864.2 L1843.3 847.5 L1846.7 847.5 L1850 867.5 L1853.3 874.2 L1856.7 814.2 L1860 807.5 L1863.3 784.2 L1866.7 794.2 L1870 797.5 L1873.3 780.8 L1876.7 770.8 L1880 754.2 L1883.3 764.2 L1886.7 770.8 L1890 777.5 L1893.3 780.8 L1896.7 784.2 L1900 787.5 L1903.3 787.5 L1906.7 797.5 L1910 790.8 L1913.3 800.8 L1916.7 810.8 L1920 820.8 L1920 839.2 L1916.7 825.8 L1913.3 812.5 L1910 802.5 L1906.7 809.2 L1903.3 802.5 L1900 795.8 L1896.7 795.8 L1893.3 792.5 L1890 789.2 L1886.7 785.8 L1883.3 779.2 L1880 772.5 L1876.7 785.8 L1873.3 792.5 L1870 809.2 L1866.7 809.2 L1863.3 802.5 L1860 819.2 L1856.7 832.5 L1853.3 885.8 L1850 882.5 L1846.7 865.8 L1843.3 869.2 L1840 875.8 L1836.7 875.8 L1833.3 875.8 L1830 885.8 L1826.7 892.5 L1823.3 899.2 L1820 905.8 L1816.7 912.5 L1813.3 905.8 L1810 992.5 L1806.7 975.8 L1803.3 912.5 L1800 902.5 L1796.7 852.5 L1793.3 839.2 L1790 852.5 L1786.7 812.5 L1783.3 815.8 L1780 819.2 L1776.7 792.5 L1773.3 789.2 L1770 785.8 L1766.7 779.2 L1763.3 775.8 L1760 772.5 L1756.7 765.8 L1753.3 759.2 L1750 779.2 L1746.7 765.8 L1743.3 759.2 L1740 762.5 L1736.7 779.2 L1733.3 782.5 L1730 782.5 L1726.7 772.5 Z M1993.3 814.2 L1996.7 810.8 L2000 807.5 L2003.3 814.2 L2006.7 800.8 L2010 787.5 L2013.3 794.2 L2016.7 804.2 L2020 814.2 L2023.3 824.2 L2026.7 817.5 L2030 800.8 L2033.3 784.2 L2036.7 794.2 L2040 780.8 L2043.3 774.2 L2046.7 767.5 L2050 764.2 L2053.3 757.5 L2056.7 764.2 L2060 760.8 L2063.3 744.2 L2066.7 757.5 L2070 757.5 L2073.3 747.5 L2076.7 764.2 L2080 774.2 L2083.3 784.2 L2086.7 787.5 L2090 797.5 L2093.3 797.5 L2096.7 800.8 L2100 814.2 L2103.3 827.5 L2106.7 837.5 L2110 844.2 L2113.3 847.5 L2116.7 854.2 L2120 874.2 L2123.3 894.2 L2126.7 914.2 L2130 914.2 L2133.3 890.8 L2136.7 900.8 L2140 884.2 L2143.3 874.2 L2146.7 827.5 L2150 847.5 L2153.3 857.5 L2156.7 860.8 L2160 820.8 L2163.3 787.5 L2166.7 777.5 L2170 774.2 L2173.3 774.2 L2176.7 770.8 L2180 770.8 L2183.3 757.5 L2186.7 757.5 L2190 764.2 L2193.3 770.8 L2196.7 767.5 L2200 774.2 L2203.3 777.5 L2206.7 764.2 L2210 767.5 L2213.3 770.8 L2216.7 777.5 L2220 780.8 L2223.3 780.8 L2226.7 770.8 L2230 770.8 L2233.3 774.2 L2236.7 787.5 L2240 800.8 L2243.3 807.5 L2246.7 830.8 L2250 840.8 L2253.3 870.8 L2256.7 907.5 L2260 927.5 L2263.3 947.5 L2266.7 954.2 L2270 950.8 L2273.3 907.5 L2276.7 950.8 L2280 950.8 L2283.3 954.2 L2286.7 927.5 L2290 920.8 L2293.3 890.8 L2296.7 884.2 L2300 847.5 L2303.3 817.5 L2306.7 827.5 L2310 827.5 L2313.3 834.2 L2316.7 837.5 L2320 810.8 L2323.3 814.2 L2326.7 830.8 L2330 837.5 L2333.3 834.2 L2336.7 844.2 L2340 840.8 L2343.3 824.2 L2346.7 810.8 L2350 810.8 L2353.3 807.5 L2356.7 794.2 L2360 787.5 L2363.3 784.2 L2366.7 787.5 L2370 784.2 L2373.3 767.5 L2376.7 764.2 L2380 757.5 L2383.3 760.8 L2386.7 764.2 L2390 764.2 L2390 779.2 L2386.7 782.5 L2383.3 779.2 L2380 779.2 L2376.7 782.5 L2373.3 789.2 L2370 799.2 L2366.7 799.2 L2363.3 799.2 L2360 802.5 L2356.7 812.5 L2353.3 822.5 L2350 825.8 L2346.7 829.2 L2343.3 842.5 L2340 859.2 L2336.7 865.8 L2333.3 849.2 L2330 849.2 L2326.7 845.8 L2323.3 832.5 L2320 825.8 L2316.7 865.8 L2313.3 892.5 L2310 865.8 L2306.7 859.2 L2303.3 852.5 L2300 892.5 L2296.7 899.2 L2293.3 905.8 L2290 945.8 L2286.7 979.2 L2283.3 985.8 L2280 982.5 L2276.7 985.8 L2273.3 965.8 L2270 975.8 L2266.7 979.2 L2263.3 985.8 L2260 952.5 L2256.7 932.5 L2253.3 902.5 L2250 859.2 L2246.7 845.8 L2243.3 825.8 L2240 819.2 L2236.7 805.8 L2233.3 785.8 L2230 782.5 L2226.7 789.2 L2223.3 795.8 L2220 792.5 L2216.7 789.2 L2213.3 785.8 L2210 782.5 L2206.7 779.2 L2203.3 795.8 L2200 792.5 L2196.7 785.8 L2193.3 789.2 L2190 785.8 L2186.7 779.2 L2183.3 775.8 L2180 785.8 L2176.7 789.2 L2173.3 789.2 L2170 789.2 L2166.7 799.2 L2163.3 802.5 L2160 859.2 L2156.7 882.5 L2153.3 882.5 L2150 869.2 L2146.7 862.5 L2143.3 889.2 L2140 902.5 L2136.7 925.8 L2133.3 925.8 L2130 932.5 L2126.7 932.5 L2123.3 919.2 L2120 895.8 L2116.7 879.2 L2113.3 865.8 L2110 859.2 L2106.7 855.8 L2103.3 852.5 L2100 832.5 L2096.7 822.5 L2093.3 815.8 L2090 819.2 L2086.7 805.8 L2083.3 799.2 L2080 789.2 L2076.7 782.5 L2073.3 779.2 L2070 775.8 L2066.7 775.8 L2063.3 769.2 L2060 779.2 L2056.7 779.2 L2053.3 779.2 L2050 782.5 L2046.7 785.8 L2043.3 792.5 L2040 795.8 L2036.7 805.8 L2033.3 802.5 L2030 812.5 L2026.7 839.2 L2023.3 839.2 L2020 829.2 L2016.7 822.5 L2013.3 812.5 L2010 809.2 L2006.7 819.2 L2003.3 835.8 L2000 825.8 L1996.7 829.2 L1993.3 835.8 Z M2398.3 767.5 L2401.7 767.5 L2405 774.2 L2408.3 774.2 L2411.7 777.5 L2414 790.8 L2414 802.5 L2411.7 799.2 L2408.3 785.8 L2405 789.2 L2401.7 789.2 L2398.3 782.5 Z M2416.7 809.2 L2421.7 807.5 L2421.7 817.5 L2416.7 819.2 Z M2448.3 900.8 L2451.7 887.5 L2455 887.5 L2458.3 860.8 L2461.7 800.8 L2465 814.2 L2468.3 830.8 L2471.7 844.2 L2475 834.2 L2478.3 837.5 L2481.7 860.8 L2485 867.5 L2488.3 864.2 L2491.7 847.5 L2495 827.5 L2498.3 820.8 L2501.7 787.5 L2505 770.8 L2508.3 764.2 L2511.7 760.8 L2515 747.5 L2518.3 747.5 L2521.7 750.8 L2525 754.2 L2528.3 760.8 L2531.7 767.5 L2535 770.8 L2538.3 774.2 L2541.7 757.5 L2545 764.2 L2548.3 767.5 L2551.7 770.8 L2555 784.2 L2558.3 790.8 L2561.7 814.2 L2565 830.8 L2568.3 830.8 L2571.7 850.8 L2575 860.8 L2578.3 854.2 L2581.7 867.5 L2585 874.2 L2588.3 884.2 L2591.7 887.5 L2595 904.2 L2598.3 907.5 L2601.7 900.8 L2605 897.5 L2608.3 917.5 L2611.7 924.2 L2615 920.8 L2618.3 920.8 L2621.7 897.5 L2625 920.8 L2628.3 914.2 L2631.7 907.5 L2635 897.5 L2638.3 884.2 L2641.7 854.2 L2645 814.2 L2648.3 814.2 L2651.7 804.2 L2655 794.2 L2658.3 780.8 L2661.7 757.5 L2665 760.8 L2668.3 760.8 L2671.7 754.2 L2675 767.5 L2675 779.2 L2671.7 772.5 L2668.3 779.2 L2665 779.2 L2661.7 775.8 L2658.3 795.8 L2655 809.2 L2651.7 819.2 L2648.3 832.5 L2645 839.2 L2641.7 879.2 L2638.3 902.5 L2635 919.2 L2631.7 925.8 L2628.3 935.8 L2625 952.5 L2621.7 932.5 L2618.3 939.2 L2615 939.2 L2611.7 939.2 L2608.3 932.5 L2605 912.5 L2601.7 919.2 L2598.3 922.5 L2595 919.2 L2591.7 905.8 L2588.3 902.5 L2585 892.5 L2581.7 882.5 L2578.3 872.5 L2575 879.2 L2571.7 865.8 L2568.3 852.5 L2565 855.8 L2561.7 832.5 L2558.3 805.8 L2555 799.2 L2551.7 785.8 L2548.3 782.5 L2545 779.2 L2541.7 775.8 L2538.3 802.5 L2535 785.8 L2531.7 782.5 L2528.3 779.2 L2525 769.2 L2521.7 765.8 L2518.3 762.5 L2515 759.2 L2511.7 779.2 L2508.3 785.8 L2505 792.5 L2501.7 819.2 L2498.3 839.2 L2495 849.2 L2491.7 859.2 L2488.3 882.5 L2485 899.2 L2481.7 879.2 L2478.3 859.2 L2475 852.5 L2471.7 862.5 L2468.3 855.8 L2465 839.2 L2461.7 839.2 L2458.3 882.5 L2455 905.8 L2451.7 909.2 L2448.3 915.8 Z M2718.3 750.8 L2721.7 764.2 L2725 777.5 L2728.3 787.5 L2731.7 794.2 L2735 820.8 L2738.3 840.8 L2741.7 867.5 L2745 884.2 L2748.3 890.8 L2751.7 900.8 L2755 914.2 L2758.3 907.5 L2761.7 867.5 L2765 847.5 L2768.3 837.5 L2771.7 837.5 L2775 847.5 L2778.3 877.5 L2781.7 880.8 L2785 884.2 L2788.3 884.2 L2791.7 884.2 L2795 880.8 L2798.3 870.8 L2798.3 892.5 L2795 899.2 L2791.7 905.8 L2788.3 899.2 L2785 895.8 L2781.7 892.5 L2778.3 892.5 L2775 865.8 L2771.7 852.5 L2768.3 852.5 L2765 865.8 L2761.7 892.5 L2758.3 925.8 L2755 945.8 L2751.7 925.8 L2748.3 909.2 L2745 899.2 L2741.7 885.8 L2738.3 859.2 L2735 839.2 L2731.7 815.8 L2728.3 809.2 L2725 795.8 L2721.7 782.5 L2718.3 765.8 Z M2801.7 817.5 L2805 780.8 L2808.3 764.2 L2811.7 764.2 L2815 764.2 L2818.3 764.2 L2821.7 767.5 L2825 744.2 L2828.3 740.8 L2831.7 740.8 L2835 740.8 L2838.3 750.8 L2841.7 754.2 L2845 754.2 L2848.3 754.2 L2851.7 757.5 L2855 754.2 L2858.3 757.5 L2861.7 754.2 L2865 760.8 L2868.3 774.2 L2871.7 784.2 L2875 794.2 L2878.3 797.5 L2881.7 817.5 L2885 844.2 L2888.3 867.5 L2891.7 870.8 L2895 874.2 L2898.3 870.8 L2901.7 860.8 L2901.7 882.5 L2898.3 895.8 L2895 892.5 L2891.7 892.5 L2888.3 885.8 L2885 865.8 L2881.7 839.2 L2878.3 812.5 L2875 805.8 L2871.7 799.2 L2868.3 792.5 L2865 779.2 L2861.7 769.2 L2858.3 775.8 L2855 769.2 L2851.7 775.8 L2848.3 769.2 L2845 765.8 L2841.7 765.8 L2838.3 762.5 L2835 755.8 L2831.7 752.5 L2828.3 755.8 L2825 759.2 L2821.7 779.2 L2818.3 775.8 L2815 779.2 L2811.7 779.2 L2808.3 782.5 L2805 805.8 L2801.7 829.2 Z" fill="#cadcf0" stroke="#cadcf0" stroke-width="2" stroke-linejoin="round"/>
<path d="M353.3 793.7 L356.7 794.4 L360 809.2 L363.3 837.4 L366.7 881.4 L370 890 L373.3 884 L376.7 860 L380 869.2 L383.3 887.8 L386.7 900 L390 903.3 L393.3 905.9 L396.7 909.2 L400 905.9 L403.3 906.6 L406.7 905.2 L410 902.6 L413.3 899.2 L416.7 905.9 L420 885.5 L423.3 898.8 L426.7 898.8 L430 887.4 L433.3 861.4 L436.7 850.7 L440 822.6 L443.3 821.1 L446.7 812.2 L450 828.5 L453.3 839.2 L456.7 818.5 L460 807 L463.3 794.4 L466.7 787.8 L470 762.6 L473.3 756.6 L476.7 751.8 L480 748.5 L483.3 748.5 L486.7 742.6 L490 740 L493.3 745.2 L496.7 751.1 L500 762.6 L503.3 772.9 L506.7 770.7 L510 784.8 L513.3 795.9 L516.7 825.2 L520 842.6 L523.3 849.2 L526.7 849.2 L530 865.9 L533.3 881.8 L536.7 899.2 L540 916.6 L543.3 918.5 L546.7 906.6 L550 899.2 L553.3 889.2 L556.7 871.8 L560 857.4 L563.3 860 L566.7 869.2 L570 852.9 L573.3 879.2 L576.7 889.2 L580 895.9 L583.3 896.6 L586.7 886.6 L590 884.4 L590 888.9 L586.7 896.7 L583.3 906.7 L580 904.1 L576.7 897.4 L573.3 887.4 L570 870.4 L566.7 877.4 L563.3 870 L560 869.3 L556.7 878.2 L553.3 897.4 L550 907.4 L546.7 916.7 L543.3 924.8 L540 926.7 L536.7 907.4 L533.3 888.2 L530 874.1 L526.7 857.4 L523.3 857.4 L520 850.8 L516.7 831.5 L513.3 804.1 L510 798.6 L506.7 782.6 L503.3 790.4 L500 770.8 L496.7 755.6 L493.3 751.5 L490 750 L486.7 750.8 L483.3 754.8 L480 754.8 L476.7 758.2 L473.3 766.7 L470 770.8 L466.7 792.2 L463.3 798.9 L460 809.6 L456.7 824.8 L453.3 847.4 L450 834.8 L446.7 827.8 L443.3 825.6 L440 830.8 L436.7 862.6 L433.3 875.2 L430 899.3 L426.7 914.5 L423.3 914.5 L420 901.2 L416.7 914.1 L413.3 907.4 L410 910.8 L406.7 911.5 L403.3 916.7 L400 914.1 L396.7 917.4 L393.3 914.1 L390 913.4 L386.7 910 L383.3 892.2 L380 877.4 L376.7 870 L373.3 896 L370 900 L366.7 895.2 L363.3 849.3 L360 817.4 L356.7 798.9 L353.3 796.3 Z M591.7 837.8 L595 834.4 L598.3 805.2 L601.7 795.9 L605 797.8 L608.3 791.8 L611.7 793.7 L615 787.8 L618.3 787 L621.7 781.1 L625 780.4 L628.3 783.7 L631.7 774.4 L635 765.9 L638.3 771.8 L641.7 768.5 L645 764.4 L648.3 755.9 L651.7 761.1 L655 761.8 L657.3 763.7 L657.3 766.3 L655 768.2 L651.7 765.6 L648.3 764.1 L645 768.9 L641.7 774.8 L638.3 778.2 L635 774.1 L631.7 778.9 L628.3 786.3 L625 783 L621.7 785.6 L618.3 789.6 L615 792.2 L611.7 796.3 L608.3 798.2 L605 802.2 L601.7 804.1 L598.3 811.5 L595 838.9 L591.7 842.2 Z M682.7 821.1 L685 861 L688.3 861.1 L691.7 844 L695 835.9 L698.3 834.4 L701.7 842.6 L705 857 L708.3 844.4 L711.7 865.2 L714 870.4 L714 873 L711.7 871.5 L708.3 865.6 L705 876.4 L701.7 850.8 L698.3 838.9 L695 844.1 L691.7 856 L688.3 865.6 L685 882.3 L682.7 825.6 Z M754 849.6 L757.3 823.3 L760 814.2 L760 814.2 L757.3 833.4 L754 850.4 Z M765 787.8 L768.3 789.1 L770.7 790.7 L770.7 794.3 L768.3 792.6 L765 792.2 Z M783.3 786.3 L786.7 787.8 L790 778.5 L793.3 774.4 L796.7 778.5 L800 759.2 L803.3 745.2 L806.7 754.4 L810 746.6 L813.3 751.8 L816.7 751.1 L820 751.1 L823.3 747.8 L826.7 766.6 L830 789.2 L833.3 808.5 L836.7 827.8 L840 858.8 L843.3 874.4 L846.7 908.5 L850 911.8 L853.3 925.9 L856.7 904 L860 911.8 L863.3 903.3 L866.7 885.9 L870 865.9 L873.3 851.1 L876.7 845.9 L880 829.2 L883.3 806.2 L886.7 821.8 L890 817.4 L893.3 821.1 L896.7 818.5 L900 809.2 L903.3 825.2 L906.7 800 L910 775.9 L913.3 764.4 L916.7 771.8 L920 774.4 L923.3 787.8 L926.7 771.8 L930 771.1 L933.3 764.4 L936.7 791.1 L940 764.4 L943.3 757 L946.7 753.7 L950 750.4 L953.3 741.1 L956.7 735.9 L960 744.4 L963.3 751.1 L966.7 760 L970 751.8 L973.3 778.5 L976.7 781.1 L980 784.7 L983.3 775.9 L986.7 781.8 L990 775.9 L993.3 773.3 L996.7 785.2 L1000 788.5 L1003.3 796.6 L1006.7 798.5 L1010 800 L1013.3 804.4 L1016.7 795.2 L1020 795.9 L1023.3 805.2 L1026.7 808.5 L1030 815.2 L1033.3 818.5 L1036.7 822.6 L1036.7 838.5 L1040 847.8 L1043.3 855.2 L1046.7 861.8 L1050 856.6 L1053.3 853.3 L1056.7 855.9 L1060 858.5 L1063.3 834.8 L1066.7 842.6 L1070 845.9 L1073.3 838.5 L1076.7 823.7 L1080 814.4 L1083.3 797.4 L1086.7 777.4 L1090 765.2 L1093.3 771.8 L1096.7 775.2 L1100 774.4 L1103.3 775.2 L1106.7 773.3 L1110 773.7 L1113.3 775.2 L1116.7 777.8 L1120 771.8 L1123.3 769.2 L1126.7 765.9 L1130 767.8 L1133.3 786.6 L1136.7 790 L1140 803.7 L1143.3 828.1 L1146.7 870.7 L1150 901.8 L1153.3 905.5 L1156.7 915.9 L1160 927.8 L1163.3 937.8 L1166.7 953.6 L1170 949.2 L1173.3 928.1 L1176.7 921.8 L1180 918.5 L1183.3 918.8 L1186.7 922.6 L1190 924.8 L1193.3 927.4 L1196.7 914.8 L1200 897.4 L1203.3 867 L1206.7 878.1 L1210 898.5 L1213.3 895.9 L1216.7 874.4 L1220 858.5 L1223.3 821.1 L1226.7 821.1 L1230 801.8 L1233.3 785.2 L1236.7 786.3 L1240 777.8 L1243.3 771.1 L1246.7 761.8 L1250 755.2 L1253.3 755.9 L1256.7 761.8 L1260 765.2 L1263.3 772.6 L1266.7 777 L1270 780.4 L1273.3 786.3 L1273.3 787 L1270 783 L1266.7 779.6 L1263.3 780.8 L1260 771.5 L1256.7 768.2 L1253.3 764.1 L1250 761.5 L1246.7 768.2 L1243.3 775.6 L1240 782.2 L1236.7 787 L1233.3 791.5 L1230 808.2 L1226.7 825.6 L1223.3 825.6 L1220 864.8 L1216.7 878.9 L1213.3 904.1 L1210 904.8 L1206.7 891.9 L1203.3 886.4 L1200 909.3 L1196.7 928.6 L1193.3 939.3 L1190 938.6 L1186.7 930.8 L1183.3 934.5 L1180 924.8 L1176.7 928.2 L1173.3 941.9 L1170 957.4 L1166.7 973 L1163.3 942.2 L1160 932.2 L1156.7 924.1 L1153.3 921.2 L1150 924.9 L1146.7 882.6 L1143.3 841.9 L1140 806.3 L1136.7 800 L1133.3 796.7 L1130 772.2 L1126.7 774.1 L1123.3 777.4 L1120 778.2 L1116.7 782.2 L1113.3 781.5 L1110 776.3 L1106.7 783.4 L1103.3 781.5 L1100 778.9 L1096.7 781.5 L1093.3 778.2 L1090 771.5 L1086.7 789.3 L1083.3 809.3 L1080 818.9 L1076.7 826.3 L1073.3 844.8 L1070 854.1 L1066.7 850.8 L1063.3 848.6 L1060 864.8 L1056.7 864.1 L1053.3 863.4 L1050 866.7 L1046.7 868.2 L1043.3 861.5 L1040 852.2 L1036.7 844.8 L1036.7 830.8 L1033.3 824.8 L1030 821.5 L1026.7 814.8 L1023.3 811.5 L1020 804.1 L1016.7 801.5 L1013.3 808.9 L1010 810 L1006.7 804.8 L1003.3 806.7 L1000 794.8 L996.7 791.5 L993.3 783.4 L990 784.1 L986.7 788.2 L983.3 784.1 L980 815.3 L976.7 785.6 L973.3 784.8 L970 758.2 L966.7 770 L963.3 755.6 L960 748.9 L956.7 744.1 L953.3 745.6 L950 753 L946.7 756.3 L943.3 759.6 L940 768.9 L936.7 795.6 L933.3 768.9 L930 775.6 L926.7 778.2 L923.3 792.2 L920 778.9 L916.7 778.2 L913.3 768.9 L910 784.1 L906.7 810 L903.3 831.5 L900 817.4 L896.7 824.8 L893.3 825.6 L890 829.3 L886.7 828.2 L883.3 823.8 L880 837.4 L876.7 854.1 L873.3 855.6 L870 874.1 L866.7 894.1 L863.3 913.4 L860 918.2 L856.7 916 L853.3 934.1 L850 918.2 L846.7 914.8 L843.3 878.9 L840 874.5 L836.7 832.2 L833.3 814.8 L830 797.4 L826.7 776.7 L823.3 752.2 L820 755.6 L816.7 755.6 L813.3 758.2 L810 756.7 L806.7 758.9 L803.3 751.5 L800 767.4 L796.7 784.8 L793.3 778.9 L790 784.8 L786.7 792.2 L783.3 787 Z M1285 787.8 L1288.3 792.6 L1291.7 801.8 L1295 807.8 L1298.3 821.1 L1301.7 828.5 L1305 855.8 L1308.3 857.4 L1311.7 858.1 L1315 870.7 L1318.3 864 L1321.7 901.1 L1325 917.4 L1328.3 904 L1331.7 902.6 L1335 904 L1338.3 915.9 L1341.7 922.6 L1345 924 L1348.3 924 L1351.7 914.8 L1355 909.2 L1358.3 912.2 L1361.7 930 L1365 935.9 L1368.3 922.6 L1371.7 902.6 L1375 891.8 L1378.3 875.9 L1381.7 873.7 L1385 861.1 L1388.3 832.2 L1391.7 802.6 L1395 795.2 L1398.3 791.1 L1401.7 787.8 L1405 784.4 L1408.3 783.7 L1411.7 784.4 L1415 784.4 L1418.3 783.7 L1421.7 777.8 L1425 782.6 L1428.3 773.7 L1431.7 750 L1435 755.2 L1438.3 755.2 L1441.7 751.8 L1445 751.1 L1448.3 761.1 L1451.7 774.4 L1455 793.7 L1458.3 825.9 L1461.7 875.9 L1465 909.2 L1468.3 936.6 L1471.7 955.9 L1475 970.4 L1478.3 955.2 L1481.7 929.2 L1485 929.2 L1488.3 909.2 L1491.7 889.2 L1495 883.7 L1498.3 900 L1501.7 897.4 L1505 895.2 L1508.3 898.1 L1511.7 892.6 L1515 895.9 L1518.3 898.5 L1521.7 902.6 L1525 876.2 L1528.3 892.6 L1531.7 898.8 L1535 890.7 L1538.3 895.2 L1541.7 890 L1545 867.8 L1548.3 854.4 L1551.7 818.5 L1555 798.5 L1558.3 801.1 L1561.7 804.4 L1565 811.8 L1568.3 799.6 L1571.7 770.4 L1575 767.8 L1578.3 767.8 L1581.7 767.8 L1585 773.3 L1588.3 767 L1591.7 767.8 L1595 764.4 L1598.3 763.7 L1601.7 771.1 L1605 773.7 L1608.3 775.2 L1611.7 770.4 L1615 781.1 L1618.3 821.8 L1621.7 821.1 L1625 839.6 L1628.3 895.2 L1631.7 901.1 L1635 915.2 L1638.3 921.1 L1641.7 870.7 L1645 867.8 L1648.3 881.8 L1651.7 891.1 L1655 901.1 L1655 905.6 L1651.7 895.6 L1648.3 888.2 L1645 872.2 L1641.7 882.6 L1638.3 925.6 L1635 921.5 L1631.7 905.6 L1628.3 901.5 L1625 840.4 L1621.7 825.6 L1618.3 828.2 L1615 785.6 L1611.7 773 L1608.3 781.5 L1605 776.3 L1601.7 775.6 L1598.3 766.3 L1595 768.9 L1591.7 772.2 L1588.3 769.6 L1585 783.4 L1581.7 772.2 L1578.3 772.2 L1575 772.2 L1571.7 773 L1568.3 800.4 L1565 818.2 L1561.7 808.9 L1558.3 805.6 L1555 804.8 L1551.7 824.8 L1548.3 858.9 L1545 872.2 L1541.7 900 L1538.3 901.5 L1535 902.6 L1531.7 914.5 L1528.3 900.8 L1525 893.8 L1521.7 910.8 L1518.3 904.8 L1515 904.1 L1511.7 900.8 L1508.3 911.9 L1505 901.5 L1501.7 909.3 L1498.3 910 L1495 886.3 L1491.7 897.4 L1488.3 917.4 L1485 937.4 L1481.7 937.4 L1478.3 961.5 L1475 973 L1471.7 964.1 L1468.3 946.7 L1465 917.4 L1461.7 884.1 L1458.3 834.1 L1455 796.3 L1451.7 778.9 L1448.3 765.6 L1445 755.6 L1441.7 758.2 L1438.3 761.5 L1435 761.5 L1431.7 760 L1428.3 776.3 L1425 790.8 L1421.7 782.2 L1418.3 786.3 L1415 788.9 L1411.7 788.9 L1408.3 786.3 L1405 788.9 L1401.7 792.2 L1398.3 795.6 L1395 801.5 L1391.7 810.8 L1388.3 847.8 L1385 865.6 L1381.7 876.3 L1378.3 884.1 L1375 898.2 L1371.7 910.8 L1368.3 930.8 L1365 944.1 L1361.7 940 L1358.3 927.8 L1355 917.4 L1351.7 928.6 L1348.3 936 L1345 936 L1341.7 930.8 L1338.3 924.1 L1335 916 L1331.7 910.8 L1328.3 916 L1325 929.3 L1321.7 905.6 L1318.3 876 L1315 882.6 L1311.7 871.9 L1308.3 869.3 L1305 880.8 L1301.7 834.8 L1298.3 825.6 L1295 812.2 L1291.7 808.2 L1288.3 800.8 L1285 792.2 Z M1726.7 763.7 L1730 768.5 L1733.3 773.7 L1736.7 762.6 L1740 751.1 L1743.3 750.4 L1746.7 754.4 L1750 760 L1753.3 747.8 L1756.7 751.8 L1760 758.5 L1763.3 761.8 L1766.7 767.8 L1770 771.8 L1773.3 775.2 L1776.7 778.5 L1780 797.4 L1783.3 799.2 L1786.7 798.5 L1790 825.5 L1793.3 817.4 L1796.7 838.5 L1800 878.1 L1803.3 895.9 L1806.7 915 L1810 939.5 L1813.3 891.8 L1816.7 901.1 L1820 889.2 L1823.3 885.2 L1826.7 881.1 L1830 874.4 L1833.3 867 L1836.7 867 L1840 869.6 L1843.3 855.2 L1846.7 854.4 L1850 873.7 L1853.3 879.6 L1856.7 821.1 L1860 813 L1863.3 791.1 L1866.7 800.4 L1870 803 L1873.3 786.3 L1876.7 777 L1880 761.1 L1883.3 770.4 L1886.7 777 L1890 783 L1893.3 786.3 L1896.7 789.6 L1900 791.7 L1903.3 793.7 L1906.7 803 L1910 796.3 L1913.3 806.3 L1916.7 817 L1920 827.8 L1920 832.2 L1916.7 819.6 L1913.3 807 L1910 797 L1906.7 803.7 L1903.3 796.3 L1900 791.7 L1896.7 790.4 L1893.3 787 L1890 783.7 L1886.7 779.6 L1883.3 773 L1880 765.6 L1876.7 779.6 L1873.3 787 L1870 803.7 L1866.7 803 L1863.3 795.6 L1860 813.7 L1856.7 825.6 L1853.3 880.4 L1850 876.3 L1846.7 858.9 L1843.3 861.5 L1840 870.4 L1836.7 869.6 L1833.3 869.6 L1830 878.9 L1826.7 885.6 L1823.3 891.5 L1820 897.4 L1816.7 905.6 L1813.3 898.2 L1810 973.8 L1806.7 955 L1803.3 904.1 L1800 891.9 L1796.7 844.8 L1793.3 829.3 L1790 841.2 L1786.7 804.8 L1783.3 807.4 L1780 809.3 L1776.7 784.8 L1773.3 781.5 L1770 778.2 L1766.7 772.2 L1763.3 768.2 L1760 764.8 L1756.7 758.2 L1753.3 752.2 L1750 770 L1746.7 758.9 L1743.3 753 L1740 755.6 L1736.7 770.8 L1733.3 776.3 L1730 774.8 L1726.7 766.3 Z M1993.3 821.8 L1996.7 817.8 L2000 814.4 L2003.3 821.8 L2006.7 807.8 L2010 795.2 L2013.3 801.1 L2016.7 811.1 L2020 820.4 L2023.3 830.4 L2026.7 825.2 L2030 806.3 L2033.3 791.1 L2036.7 799.6 L2040 787 L2043.3 781.1 L2046.7 774.4 L2050 771.1 L2053.3 765.2 L2056.7 770.4 L2060 767.8 L2063.3 752.6 L2066.7 764.4 L2070 764.4 L2073.3 757.4 L2076.7 771.1 L2080 780.4 L2083.3 790.4 L2086.7 794.4 L2090 805.2 L2093.3 804.4 L2096.7 808.5 L2100 821.1 L2103.3 835.9 L2106.7 844.4 L2110 850.4 L2113.3 854.4 L2116.7 862.6 L2120 881.8 L2123.3 902.6 L2126.7 921.1 L2130 921.1 L2133.3 901.4 L2136.7 909.2 L2140 891.1 L2143.3 880.4 L2146.7 838.1 L2150 855.2 L2153.3 865.9 L2156.7 868.5 L2160 832.2 L2163.3 793.7 L2166.7 785.2 L2170 780.4 L2173.3 780.4 L2176.7 777.8 L2180 777 L2183.3 764.4 L2186.7 765.2 L2190 771.8 L2193.3 777.8 L2196.7 774.4 L2200 781.1 L2203.3 784.4 L2206.7 770.4 L2210 773.7 L2213.3 777 L2216.7 783 L2220 786.3 L2223.3 787 L2226.7 777.8 L2230 776.3 L2233.3 779.6 L2236.7 794.4 L2240 807.8 L2243.3 814.4 L2246.7 837 L2250 847.8 L2253.3 880.7 L2256.7 915.9 L2260 935.9 L2263.3 958.8 L2266.7 962.6 L2270 959.2 L2273.3 923.2 L2276.7 961.4 L2280 960.7 L2283.3 964 L2286.7 941.8 L2290 929.2 L2293.3 897 L2296.7 890.4 L2300 860.3 L2303.3 828.1 L2306.7 837.4 L2310 838.8 L2313.3 849.9 L2316.7 846.6 L2320 817 L2323.3 821.1 L2326.7 837 L2330 843 L2333.3 840.4 L2336.7 851.8 L2340 847.8 L2343.3 831.1 L2346.7 817.8 L2350 817 L2353.3 813.7 L2356.7 801.1 L2360 793.7 L2363.3 790.4 L2366.7 793 L2370 790.4 L2373.3 775.2 L2376.7 771.1 L2380 765.2 L2383.3 767.8 L2386.7 771.1 L2390 770.4 L2390 773 L2386.7 775.6 L2383.3 772.2 L2380 771.5 L2376.7 775.6 L2373.3 781.5 L2370 793 L2366.7 793.7 L2363.3 793 L2360 796.3 L2356.7 805.6 L2353.3 816.3 L2350 819.6 L2346.7 822.2 L2343.3 835.6 L2340 852.2 L2336.7 858.2 L2333.3 843 L2330 843.7 L2326.7 839.6 L2323.3 825.6 L2320 819.6 L2316.7 856.7 L2313.3 876.8 L2310 854.5 L2306.7 849.3 L2303.3 841.9 L2300 879.7 L2296.7 893 L2293.3 899.6 L2290 937.4 L2286.7 964.9 L2283.3 976 L2280 972.6 L2276.7 975.2 L2273.3 950.1 L2270 967.4 L2266.7 970.8 L2263.3 974.5 L2260 944.1 L2256.7 924.1 L2253.3 892.6 L2250 852.2 L2246.7 839.6 L2243.3 818.9 L2240 812.2 L2236.7 798.9 L2233.3 780.4 L2230 777 L2226.7 782.2 L2223.3 789.6 L2220 787 L2216.7 783.7 L2213.3 779.6 L2210 776.3 L2206.7 773 L2203.3 788.9 L2200 785.6 L2196.7 778.9 L2193.3 782.2 L2190 778.2 L2186.7 771.5 L2183.3 768.9 L2180 779.6 L2176.7 782.2 L2173.3 783 L2170 783 L2166.7 791.5 L2163.3 796.3 L2160 847.8 L2156.7 874.8 L2153.3 874.1 L2150 861.5 L2146.7 851.9 L2143.3 883 L2140 895.6 L2136.7 917.4 L2133.3 915.2 L2130 925.6 L2126.7 925.6 L2123.3 910.8 L2120 888.2 L2116.7 870.8 L2113.3 858.9 L2110 853 L2106.7 848.9 L2103.3 844.1 L2100 825.6 L2096.7 814.8 L2093.3 808.9 L2090 811.5 L2086.7 798.9 L2083.3 793 L2080 783 L2076.7 775.6 L2073.3 769.3 L2070 768.9 L2066.7 768.9 L2063.3 760.8 L2060 772.2 L2056.7 773 L2053.3 771.5 L2050 775.6 L2046.7 778.9 L2043.3 785.6 L2040 789.6 L2036.7 800.4 L2033.3 795.6 L2030 807 L2026.7 831.5 L2023.3 833 L2020 823 L2016.7 815.6 L2013.3 805.6 L2010 801.5 L2006.7 812.2 L2003.3 828.2 L2000 818.9 L1996.7 822.2 L1993.3 828.2 Z M2398.3 773.7 L2401.7 775.2 L2405 780.4 L2408.3 779.6 L2411.7 785.2 L2414 796.3 L2414 797 L2411.7 791.5 L2408.3 780.4 L2405 783 L2401.7 781.5 L2398.3 776.3 Z M2416.7 814.2 L2421.7 812.5 L2421.7 812.5 L2416.7 814.2 Z M2448.3 907 L2451.7 895.2 L2455 894.4 L2458.3 868.5 L2461.7 812.2 L2465 822.6 L2468.3 839.2 L2471.7 851.1 L2475 841.1 L2478.3 845.2 L2481.7 867.8 L2485 877.4 L2488.3 871.1 L2491.7 853 L2495 835.2 L2498.3 827.8 L2501.7 797.4 L2505 778.5 L2508.3 771.8 L2511.7 767.8 L2515 753 L2518.3 753.7 L2521.7 757 L2525 760.4 L2528.3 767.8 L2531.7 773.7 L2535 777 L2538.3 783.3 L2541.7 764.4 L2545 770.4 L2548.3 773.7 L2551.7 777 L2555 790.4 L2558.3 797 L2561.7 821.1 L2565 839.2 L2568.3 838.5 L2571.7 857 L2575 867.8 L2578.3 861.1 L2581.7 873.7 L2585 881.1 L2588.3 891.1 L2591.7 894.4 L2595 910.4 L2598.3 913.7 L2601.7 907.8 L2605 903.7 L2608.3 923.7 L2611.7 930.4 L2615 927.8 L2618.3 927.8 L2621.7 908.1 L2625 930.7 L2628.3 921.8 L2631.7 914.4 L2635 905.2 L2638.3 891.1 L2641.7 862.6 L2645 822.6 L2648.3 821.1 L2651.7 810.4 L2655 800.4 L2658.3 787 L2661.7 764.4 L2665 767.8 L2668.3 767.8 L2671.7 761.1 L2675 773 L2675 773.7 L2671.7 765.6 L2668.3 772.2 L2665 772.2 L2661.7 768.9 L2658.3 789.6 L2655 803 L2651.7 813 L2648.3 825.6 L2645 830.8 L2641.7 870.8 L2638.3 895.6 L2635 911.5 L2631.7 918.9 L2628.3 928.2 L2625 942.6 L2621.7 921.9 L2618.3 932.2 L2615 932.2 L2611.7 933 L2608.3 926.3 L2605 906.3 L2601.7 912.2 L2598.3 916.3 L2595 913 L2591.7 898.9 L2588.3 895.6 L2585 885.6 L2581.7 876.3 L2578.3 865.6 L2575 872.2 L2571.7 859.6 L2568.3 844.8 L2565 847.4 L2561.7 825.6 L2558.3 799.6 L2555 793 L2551.7 779.6 L2548.3 776.3 L2545 773 L2541.7 768.9 L2538.3 793.4 L2535 779.6 L2531.7 776.3 L2528.3 772.2 L2525 763 L2521.7 759.6 L2518.3 756.3 L2515 753.7 L2511.7 772.2 L2508.3 778.2 L2505 784.8 L2501.7 809.3 L2498.3 832.2 L2495 841.5 L2491.7 853.7 L2488.3 875.6 L2485 889.3 L2481.7 872.2 L2478.3 851.5 L2475 845.6 L2471.7 855.6 L2468.3 847.4 L2465 830.8 L2461.7 827.8 L2458.3 874.8 L2455 898.9 L2451.7 901.5 L2448.3 909.6 Z M2718.3 757 L2721.7 771.1 L2725 784.4 L2728.3 795.2 L2731.7 801.8 L2735 827.8 L2738.3 847.8 L2741.7 874.4 L2745 890.4 L2748.3 897.8 L2751.7 909.2 L2755 924 L2758.3 914.4 L2761.7 875.9 L2765 854.4 L2768.3 843.7 L2771.7 843.7 L2775 854.4 L2778.3 883.7 L2781.7 886.3 L2785 889.6 L2788.3 890.4 L2791.7 891.8 L2795 887.8 L2798.3 878.5 L2798.3 884.8 L2795 892.2 L2791.7 898.2 L2788.3 893 L2785 890.4 L2781.7 887 L2778.3 886.3 L2775 858.9 L2771.7 846.3 L2768.3 846.3 L2765 858.9 L2761.7 884.1 L2758.3 918.9 L2755 936 L2751.7 917.4 L2748.3 902.2 L2745 893 L2741.7 878.9 L2738.3 852.2 L2735 832.2 L2731.7 808.2 L2728.3 801.5 L2725 788.9 L2721.7 775.6 L2718.3 759.6 Z M2801.7 823 L2805 789.2 L2808.3 771.1 L2811.7 770.4 L2815 770.4 L2818.3 769.6 L2821.7 773 L2825 750.4 L2828.3 747 L2831.7 746.3 L2835 747 L2838.3 756.3 L2841.7 759.6 L2845 759.6 L2848.3 760.4 L2851.7 764.4 L2855 760.4 L2858.3 764.4 L2861.7 760.4 L2865 767.8 L2868.3 781.1 L2871.7 790.4 L2875 799.6 L2878.3 803.7 L2881.7 825.2 L2885 851.8 L2888.3 874.4 L2891.7 878.5 L2895 881.1 L2898.3 879.2 L2901.7 868.5 L2901.7 874.8 L2898.3 887.4 L2895 885.6 L2891.7 884.8 L2888.3 878.9 L2885 858.2 L2881.7 831.5 L2878.3 806.3 L2875 800.4 L2871.7 793 L2868.3 785.6 L2865 772.2 L2861.7 763 L2858.3 768.9 L2855 763 L2851.7 768.9 L2848.3 763 L2845 760.4 L2841.7 760.4 L2838.3 757 L2835 749.6 L2831.7 747 L2828.3 749.6 L2825 753 L2821.7 773.7 L2818.3 770.4 L2815 773 L2811.7 773 L2808.3 775.6 L2805 797.4 L2801.7 823.7 Z" fill="#00668c" stroke="#00668c" stroke-width="3" stroke-linejoin="round"/>
<marker id="m00668c" markerUnits="userSpaceOnUse" markerWidth="6.6" markerHeight="6.6" refX="3.3" refY="3.3" overflow="visible"><circle cx="3.3" cy="3.3" r="3.3" fill="#00668c"/></marker>
<path d="M353.3 793 L356.7 800.3 L360 806.3 L363.3 853.7 L366.7 876.3 L370 903.7 L373.3 879.7 L376.7 873.7 L380 866.3 L383.3 893.7 L386.7 896.3 L390 917 L393.3 903 L396.7 920.3 L400 903 L403.3 920.3 L406.7 903 L410 913.7 L413.3 896.3 L416.7 917 L420 879.7 L423.3 920.3 L426.7 893 L430 903.7 L433.3 856.3 L436.7 867 L440 819.7 L443.3 827 L446.7 806.3 L450 837 L453.3 836.3 L456.7 827 L460 806.3 L463.3 800.3 L466.7 786.3 L470 773.7 L473.3 753 L476.7 760.3 L480 746.3 L483.3 757 L486.7 739.7 L490 753.7 L493.3 743 L496.7 757 L500 759.7 L503.3 797 L506.7 766.3 L510 803.7 L513.3 793 L516.7 833.7 L520 839.7 L523.3 860.3 L526.7 846.3 L530 877 L533.3 879.7 L536.7 910.3 L540 913 L543.3 927 L546.7 903 L550 910.3 L553.3 886.3 L556.7 880.3 L560 853 L563.3 873.7 L566.7 866.3 L570 877 L573.3 876.3 L576.7 900.3 L580 893 L583.3 910.3 L586.7 883 L590 890.3 M591.7 836.3 L595 840.3 L598.3 803 L601.7 807 L605 796.3 L608.3 800.3 L611.7 793 L615 793.7 L618.3 786.3 L621.7 787 L625 779.7 L628.3 787 L631.7 773 L635 777 L638.3 769.7 L641.7 777 L645 763 L648.3 767 L651.7 759.7 L655 770.3 L657.3 763 M682.7 819.7 L685 890.3 L688.3 859.7 L691.7 860.3 L695 833 L698.3 840.3 L701.7 839.7 L705 883.7 L708.3 836.3 L711.7 873.7 L714 869.7 M754 849.7 L757.3 837 L760 814.2 M765 786.3 L768.3 793.7 L770.7 789.7 M783.3 786.3 L786.7 793.7 L790 776.3 L793.3 780.3 L796.7 776.3 L800 770.3 L803.3 743 L806.7 760.3 L810 743 L813.3 760.3 L816.7 749.7 L820 757 L823.3 746.3 L826.7 780.3 L830 786.3 L833.3 817 L836.7 826.3 L840 880.3 L843.3 873 L846.7 917 L850 909.7 L853.3 937 L856.7 899.7 L860 920.3 L863.3 899.7 L866.7 897 L870 863 L873.3 857 L876.7 843 L880 840.3 L883.3 799.7 L886.7 830.3 L890 813 L893.3 827 L896.7 816.3 L900 820.3 L903.3 823 L906.7 813.7 L910 773 L913.3 770.3 L916.7 769.7 L920 780.3 L923.3 786.3 L926.7 780.3 L930 769.7 L933.3 770.3 L936.7 789.7 L940 770.3 L943.3 756.3 L946.7 757 L950 749.7 L953.3 747 L956.7 733 L960 750.3 L963.3 749.7 L966.7 773.7 L970 749.7 L973.3 787 L976.7 779.7 L980 827 L983.3 773 L986.7 790.3 L990 773 L993.3 787 L996.7 783 L1000 797 L1003.3 793 L1006.7 807 L1010 796.3 L1013.3 810.3 L1016.7 793 L1020 807 L1023.3 803 L1026.7 817 L1030 813 L1033.3 827 L1036.7 819.7 L1036.7 847 L1040 846.3 L1043.3 863.7 L1046.7 859.7 L1050 870.3 L1053.3 849.7 L1056.7 867 L1060 856.3 L1063.3 853.7 L1066.7 839.7 L1070 857 L1073.3 836.3 L1076.7 827 L1080 813 L1083.3 813.7 L1086.7 773 L1090 773.7 L1093.3 769.7 L1096.7 783.7 L1100 773 L1103.3 783.7 L1106.7 769.7 L1110 777 L1113.3 773 L1116.7 783.7 L1120 769.7 L1123.3 780.3 L1126.7 763 L1130 773.7 L1133.3 783 L1136.7 803.7 L1140 803 L1143.3 847 L1146.7 866.3 L1150 933.7 L1153.3 899.7 L1156.7 927 L1160 926.3 L1163.3 943.7 L1166.7 946.3 L1170 960.3 L1173.3 923 L1176.7 930.3 L1180 916.3 L1183.3 940.3 L1186.7 919.7 L1190 943.7 L1193.3 923 L1196.7 933.7 L1200 893 L1203.3 893.7 L1206.7 873 L1210 907 L1213.3 893 L1216.7 880.3 L1220 856.3 L1223.3 827 L1226.7 819.7 L1230 810.3 L1233.3 783 L1236.7 787 L1240 776.3 L1243.3 777 L1246.7 759.7 L1250 763.7 L1253.3 753 L1256.7 770.3 L1260 763 L1263.3 783.7 L1266.7 776.3 L1270 783.7 L1273.3 786.3 M1285 786.3 L1288.3 803.7 L1291.7 799.7 L1295 813.7 L1298.3 819.7 L1301.7 837 L1305 846.3 L1308.3 873.7 L1311.7 853 L1315 887 L1318.3 859.7 L1321.7 907 L1325 913 L1328.3 920.3 L1331.7 899.7 L1335 920.3 L1338.3 913 L1341.7 933.7 L1345 919.7 L1348.3 940.3 L1351.7 909.7 L1355 920.3 L1358.3 906.3 L1361.7 943.7 L1365 933 L1368.3 933.7 L1371.7 899.7 L1375 900.3 L1378.3 873 L1381.7 877 L1385 859.7 L1388.3 853.7 L1391.7 799.7 L1395 803.7 L1398.3 789.7 L1401.7 793.7 L1405 783 L1408.3 787 L1411.7 783 L1415 790.3 L1418.3 783 L1421.7 783.7 L1425 779.7 L1428.3 777 L1431.7 746.3 L1435 763.7 L1438.3 753 L1441.7 760.3 L1445 749.7 L1448.3 767 L1451.7 773 L1455 797 L1458.3 823 L1461.7 887 L1465 906.3 L1468.3 950.3 L1471.7 953 L1475 973.7 L1478.3 953 L1481.7 940.3 L1485 926.3 L1488.3 920.3 L1491.7 886.3 L1495 887 L1498.3 896.3 L1501.7 913.7 L1505 893 L1508.3 917 L1511.7 889.7 L1515 907 L1518.3 896.3 L1521.7 913.7 L1525 869.7 L1528.3 903.7 L1531.7 893 L1535 907 L1538.3 893 L1541.7 903.7 L1545 866.3 L1548.3 860.3 L1551.7 816.3 L1555 807 L1558.3 799.7 L1561.7 810.3 L1565 809.7 L1568.3 800.3 L1571.7 769.7 L1575 773.7 L1578.3 766.3 L1581.7 773.7 L1585 769.7 L1588.3 770.3 L1591.7 766.3 L1595 770.3 L1598.3 763 L1601.7 777 L1605 773 L1608.3 783.7 L1611.7 769.7 L1615 787 L1618.3 819.7 L1621.7 827 L1625 839.7 L1628.3 903.7 L1631.7 899.7 L1635 923.7 L1638.3 919.7 L1641.7 887 L1645 866.3 L1648.3 890.3 L1651.7 889.7 L1655 907 M1726.7 763 L1730 777 L1733.3 773 L1736.7 773.7 L1740 749.7 L1743.3 753.7 L1746.7 753 L1750 773.7 L1753.3 746.3 L1756.7 760.3 L1760 756.3 L1763.3 770.3 L1766.7 766.3 L1770 780.3 L1773.3 773 L1776.7 787 L1780 793 L1783.3 810.3 L1786.7 796.3 L1790 847 L1793.3 813 L1796.7 847 L1800 873 L1803.3 907 L1806.7 899.7 L1810 987 L1813.3 889.7 L1816.7 907 L1820 886.3 L1823.3 893.7 L1826.7 879.7 L1830 880.3 L1833.3 866.3 L1836.7 870.3 L1840 869.7 L1843.3 863.7 L1846.7 853 L1850 877 L1853.3 879.7 L1856.7 827 L1860 813 L1863.3 797 L1866.7 799.7 L1870 803.7 L1873.3 786.3 L1876.7 780.3 L1880 759.7 L1883.3 773.7 L1886.7 776.3 L1890 783.7 L1893.3 786.3 L1896.7 790.3 L1900 791.7 L1903.3 797 L1906.7 803 L1910 797 L1913.3 806.3 L1916.7 820.3 L1920 826.3 M1993.3 819.7 L1996.7 823.7 L2000 813 L2003.3 830.3 L2006.7 806.3 L2010 803.7 L2013.3 799.7 L2016.7 817 L2020 819.7 L2023.3 833.7 L2026.7 823 L2030 807 L2033.3 789.7 L2036.7 800.3 L2040 786.3 L2043.3 787 L2046.7 773 L2050 777 L2053.3 763 L2056.7 773.7 L2060 766.3 L2063.3 763.7 L2066.7 763 L2070 770.3 L2073.3 753 L2076.7 777 L2080 779.7 L2083.3 793.7 L2086.7 793 L2090 813.7 L2093.3 803 L2096.7 817 L2100 819.7 L2103.3 847 L2106.7 843 L2110 853.7 L2113.3 853 L2116.7 873.7 L2120 879.7 L2123.3 913.7 L2126.7 919.7 L2130 927 L2133.3 896.3 L2136.7 920.3 L2140 889.7 L2143.3 883.7 L2146.7 833 L2150 863.7 L2153.3 863 L2156.7 877 L2160 826.3 L2163.3 797 L2166.7 783 L2170 783.7 L2173.3 779.7 L2176.7 783.7 L2180 776.3 L2183.3 770.3 L2186.7 763 L2190 780.3 L2193.3 776.3 L2196.7 780.3 L2200 779.7 L2203.3 790.3 L2206.7 769.7 L2210 777 L2213.3 776.3 L2216.7 783.7 L2220 786.3 L2223.3 790.3 L2226.7 776.3 L2230 777 L2233.3 779.7 L2236.7 800.3 L2240 806.3 L2243.3 820.3 L2246.7 836.3 L2250 853.7 L2253.3 876.3 L2256.7 927 L2260 933 L2263.3 980.3 L2266.7 959.7 L2270 970.3 L2273.3 913 L2276.7 980.3 L2280 956.3 L2283.3 980.3 L2286.7 933 L2290 940.3 L2293.3 896.3 L2296.7 893.7 L2300 853 L2303.3 847 L2306.7 833 L2310 860.3 L2313.3 839.7 L2316.7 860.3 L2320 816.3 L2323.3 827 L2326.7 836.3 L2330 843.7 L2333.3 839.7 L2336.7 860.3 L2340 846.3 L2343.3 837 L2346.7 816.3 L2350 820.3 L2353.3 813 L2356.7 807 L2360 793 L2363.3 793.7 L2366.7 793 L2370 793.7 L2373.3 773 L2376.7 777 L2380 763 L2383.3 773.7 L2386.7 769.7 L2390 773.7 M2398.3 773 L2401.7 783.7 L2405 779.7 L2408.3 780.3 L2411.7 783 L2414 797 M2416.7 814.2 L2421.7 812.5 M2448.3 906.3 L2451.7 903.7 L2455 893 L2458.3 877 L2461.7 806.3 L2465 833.7 L2468.3 836.3 L2471.7 857 L2475 839.7 L2478.3 853.7 L2481.7 866.3 L2485 893.7 L2488.3 869.7 L2491.7 853.7 L2495 833 L2498.3 833.7 L2501.7 793 L2505 787 L2508.3 769.7 L2511.7 773.7 L2515 753 L2518.3 757 L2521.7 756.3 L2525 763.7 L2528.3 766.3 L2531.7 777 L2535 776.3 L2538.3 797 L2541.7 763 L2545 773.7 L2548.3 773 L2551.7 780.3 L2555 789.7 L2558.3 800.3 L2561.7 819.7 L2565 850.3 L2568.3 836.3 L2571.7 860.3 L2575 866.3 L2578.3 867 L2581.7 873 L2585 887 L2588.3 889.7 L2591.7 900.3 L2595 909.7 L2598.3 917 L2601.7 906.3 L2605 907 L2608.3 923 L2611.7 933.7 L2615 926.3 L2618.3 933.7 L2621.7 903 L2625 947 L2628.3 919.7 L2631.7 920.3 L2635 903 L2638.3 897 L2641.7 859.7 L2645 833.7 L2648.3 819.7 L2651.7 813.7 L2655 799.7 L2658.3 790.3 L2661.7 763 L2665 773.7 L2668.3 766.3 L2671.7 767 L2675 773 M2718.3 756.3 L2721.7 777 L2725 783 L2728.3 803.7 L2731.7 799.7 L2735 833.7 L2738.3 846.3 L2741.7 880.3 L2745 889.7 L2748.3 903.7 L2751.7 906.3 L2755 940.3 L2758.3 913 L2761.7 887 L2765 853 L2768.3 847 L2771.7 843 L2775 860.3 L2778.3 883 L2781.7 887 L2785 889.7 L2788.3 893.7 L2791.7 889.7 L2795 893.7 L2798.3 876.3 M2801.7 823 L2805 800.3 L2808.3 769.7 L2811.7 773.7 L2815 769.7 L2818.3 770.3 L2821.7 773 L2825 753.7 L2828.3 746.3 L2831.7 747 L2835 746.3 L2838.3 757 L2841.7 759.7 L2845 760.3 L2848.3 759.7 L2851.7 770.3 L2855 759.7 L2858.3 770.3 L2861.7 759.7 L2865 773.7 L2868.3 779.7 L2871.7 793.7 L2875 799.7 L2878.3 807 L2881.7 823 L2885 860.3 L2888.3 873 L2891.7 887 L2895 879.7 L2898.3 890.3 L2901.7 866.3" fill="none" stroke="#00668c" stroke-width="4.2" stroke-linejoin="round" stroke-linecap="round" marker-start="url(#m00668c)" marker-mid="url(#m00668c)" marker-end="url(#m00668c)"/>
<path d="M353.9 1247.6V1287.9M355.9 1249.2V1270M363.4 1288.8V1314.5M367.7 1322V1343.5M368.9 1326.4V1368.2M391 1346.7V1391.6M396.3 1347.2V1378.2M401 1342V1422M413.9 1330.4V1365.9M416.7 1335.2V1374.7M422.2 1313.3V1373.5M425.8 1324.4V1367.7M437.3 1283.2V1320.6M440.9 1270.9V1309.9M443.1 1263.2V1314.9M451.1 1281V1313.1M454.7 1288.7V1326.7M457 1272.3V1301.6M460.7 1264.6V1281.2M463.9 1256.1V1273.3M467.1 1245.9V1273.5M469.8 1231.2V1244.6M474.8 1226V1244.7M477 1222.9V1244.9M481 1223.3V1242M484.7 1216.4V1241.7M488.6 1213.2V1261.4M497.2 1217.2V1243.9M502.6 1235V1259.6M505.3 1234.1V1257.8M517.5 1278.9V1308.5M522.7 1297.1V1318.6M531 1315.4V1341.4M531.9 1336V1362.5M537.8 1336.7V1377.2M544.2 1361.4V1409M548.5 1358.6V1406.3M553.3 1344.3V1375.5M560.7 1314.5V1375.6M570.2 1308.5V1367.1M575.6 1346.2V1391.8M584.7 1348.2V1381.2M585.3 1340.2V1364.8M602 1261V1299.7M605.8 1266.1V1284.8M611 1255.7V1284.4M613.6 1258.5V1278.6M622.7 1243.7V1273.7M631 1243.6V1290.2M638 1240.1V1259.4M646 1232.3V1251.4M652.8 1226.6V1256.2M658.1 1231.4V1253.9M687.1 1312.6V1367.1M688 1293.2V1350.5M692.6 1282V1300.3M699.2 1296.2V1328.7M701.3 1304V1337.2M713.9 1316.6V1368.7M731.6 1316.9V1368.5M736.4 1312V1352.6M746.9 1336.5V1367.7M750.6 1327.1V1386.3M753.2 1304.5V1345M754.7 1300.1V1323.6M769.7 1262.5V1291.3M782.5 1262.5V1275.1M788.1 1255.5V1301.9M789.1 1235V1264.5M792.2 1246.3V1266.4M795.6 1249.9V1282.2M799.2 1222.5V1271.3M818.7 1221.8V1246.2M830.6 1260.6V1287.1M832.7 1272.3V1300.5M840.6 1316.2V1347.1M844.4 1333.2V1367.1M849.4 1352.8V1377.6M853.9 1352.4V1383.8M859.5 1344.4V1363.4M865.5 1332V1378.8M869.8 1322.6V1340M875.6 1298.2V1320.3M880.8 1289.8V1314.8M906.8 1264.8V1302.6M908.6 1238.9V1268.7M912.7 1242.6V1263.3M930.1 1239.7V1276.7M945.9 1223.8V1245.6M952.9 1209.9V1234.7M960.8 1220.5V1244.2M963 1218.5V1253.9M968.6 1217.3V1244.4M981.1 1249.3V1331.5M984.7 1238.9V1267.7M997.6 1244.9V1266.9M999.8 1236.3V1293.2M1001.9 1251.2V1279.6M1011.4 1262.5V1310.5M1016.9 1264.9V1295.5M1027 1278.6V1301.5M1030.7 1279.7V1303.1M1033.5 1283V1300.4M1050.4 1311.6V1349.2M1052.6 1316.3V1366.8M1064 1296.4V1325.7M1069.4 1313.7V1351.4M1073.2 1305.3V1337.8M1080.7 1283.5V1299.9M1083.4 1258.4V1298.6M1087.5 1239V1273.8M1089.8 1230.8V1254.1M1094.5 1243.7V1257.6M1099.6 1241.8V1270.9M1106.9 1232.8V1261.5M1114 1230.8V1262.1M1121.2 1236.1V1282M1133.6 1246.3V1284.7M1140.9 1257.3V1279.5M1143.6 1287.6V1310.6M1148.1 1306.8V1351.6M1148.7 1311.9V1349.7M1153.7 1304.4V1330.1M1159 1341.3V1380.8M1171.2 1355.9V1425.5M1172.3 1329.7V1375.8M1181.1 1329.7V1359.7M1184.8 1336.4V1376.6M1187.8 1331.1V1394M1194 1342.3V1411.6M1200.7 1315.3V1338.1M1206.1 1292.6V1324.2M1210.4 1320V1358.4M1215.8 1314.6V1339.1M1220.5 1304.1V1322.7M1227.2 1260V1294.8M1229.7 1257.7V1276.9M1232.7 1247.5V1271.8M1235.6 1244.1V1269M1250.2 1227.3V1252.8M1255.8 1218.3V1277.4M1267.3 1242.7V1277.8M1270 1239.7V1253M1288.1 1241V1262.7M1292.7 1233.2V1269.4M1294.5 1246.7V1274M1297.8 1262.9V1282.1M1302.1 1263.4V1300.6M1305.3 1289.8V1341.2M1311.2 1294V1320.3M1314 1302V1324.3M1321.4 1329.1V1353M1335.1 1330.5V1357.8M1338.7 1344.1V1386.6M1341 1338.7V1391M1346.2 1343.4V1388.7M1349.4 1343.4V1390.9M1352.5 1334.3V1388.7M1361.1 1348.4V1385.5M1370.8 1333.9V1378M1381.4 1305.3V1339.7M1388.3 1279.8V1331.2M1399.5 1241V1264.4M1401.8 1251.5V1266.9M1408.5 1253.2V1271.4M1413.8 1238.5V1292M1421.1 1240.1V1268M1425.6 1246.1V1273.1M1435.8 1212.5V1249.6M1437.1 1221.1V1242.1M1446.3 1218.4V1243.1M1450.8 1232.5V1255.1M1454 1253.1V1296.3M1459.6 1271.8V1340.8M1460.9 1309.6V1342.6M1475.4 1350.6V1410.2M1479.6 1336.5V1378.2M1481.7 1322.4V1363M1484.9 1334.1V1359.9M1488.2 1323.3V1387.9M1492.1 1329.2V1358.5M1497.1 1335.9V1374.8M1510.8 1332.3V1407.7M1517.6 1340.7V1428.7M1527.3 1343V1379.1M1544.8 1308.5V1353.1M1560.8 1260.2V1293M1564.8 1261.2V1291.2M1571.4 1231.6V1272.6M1587.8 1229.3V1271.7M1600.7 1229.5V1254.9M1611.3 1223.9V1267.9M1629.8 1346.2V1367.1M1633.1 1342V1357.3M1638.2 1347.2V1367.6M1641.8 1302.1V1339M1651.2 1336V1358.8M1653.9 1337.7V1374M1729 1232.4V1265.3M1733.3 1232.5V1255.7M1736.5 1222.7V1241.3M1741 1215.2V1241.3M1744.5 1216.5V1248M1755.3 1211.9V1227.3M1763.9 1208.8V1252.4M1774.8 1225.4V1250.5M1776.8 1238.2V1301.9M1788 1241.9V1274M1792.1 1261.9V1296M1798 1282.5V1310.2M1804.8 1317.6V1355.5M1810.5 1336.8V1449.9M1812 1316.9V1367.9M1816.9 1339.9V1360.5M1819.9 1320.5V1350.1M1824 1318.3V1345.5M1830.3 1305.9V1382.6M1844.6 1316V1333M1850.3 1319.4V1336.4M1856.6 1275.1V1329.4M1859.6 1263.8V1281.4M1865.4 1263.3V1287.2M1870.1 1260.1V1297.3M1872.3 1245.2V1279.9M1878.5 1210V1285M1883.4 1233.1V1252.6M1887.2 1239.2V1260.8M1889.9 1231.7V1263M1899.3 1241.5V1279.5M1904.3 1254.9V1277.6M1912.3 1258.4V1282.1M1999.6 1275.3V1315.9M2009.5 1266V1291.4M2012.8 1266.5V1300.3M2020.5 1285.1V1331.9M2031.1 1270V1301.9M2033.7 1255.1V1272.3M2040.5 1249.6V1263M2043.5 1241.3V1262.5M2049.1 1234.2V1259M2060.4 1230.8V1248.9M2063.2 1222.1V1249.8M2065.8 1234.7V1247.8M2080.3 1246.5V1259.8M2083.6 1245.6V1273.5M2086.7 1249.8V1293.5M2089.8 1253.1V1277.3M2097.6 1264.4V1284.3M2101.3 1274.8V1301.3M2105.5 1293.6V1315.3M2110.9 1292.7V1321.1M2114.2 1310.3V1352.4M2115.3 1315V1359.7M2133.1 1339.9V1362M2138 1339.2V1362.2M2139 1330.7V1353.4M2154.1 1317.6V1354.9M2167.7 1247.9V1270.7M2181 1249.6V1260.7M2183.4 1234.9V1267.3M2190.7 1239.2V1259.7M2197.5 1237.3V1312M2210.2 1226.7V1258.3M2213.1 1243.7V1259.4M2221.4 1256.2V1276.8M2229.6 1235.5V1261.3M2240.9 1265.4V1309.7M2245.8 1291.7V1306.6M2252.9 1329.9V1408.7M2255.8 1351.2V1377.9M2261.3 1371.2V1402.4M2264 1392V1411.8M2267.1 1391.9V1404.1M2275.4 1384.5V1432.6M2285.5 1382.2V1432.3M2290.2 1368.8V1403.3M2296.6 1351V1377.9M2300.5 1301.9V1385M2311.9 1308.5V1369.1M2318 1307.4V1338.5M2322 1284V1305.8M2329.4 1310.8V1336.1M2341.1 1319.7V1337.5M2344.1 1300.1V1324.2M2350.5 1280.7V1297.6M2357.4 1263V1288.6M2359.7 1262.8V1284.2M2370.1 1251.6V1288.7M2386.8 1235.7V1256M2399.6 1226.1V1269M2401.9 1230.3V1259.8M2409.7 1235.8V1257.8M2414.1 1250.7V1289.6M2451.9 1333.3V1362.2M2463.9 1278V1323.7M2469.1 1303.4V1329.7M2489.1 1336.1V1365.6M2495.2 1283.6V1328.3M2499.7 1282.4V1308M2501.2 1257.1V1307M2506.3 1238.2V1265.7M2509.2 1236.1V1252.2M2518.1 1223V1254.2M2525.9 1225.2V1288.7M2529.7 1231.6V1253.9M2539.2 1235.3V1280.6M2541.5 1225.4V1295.3M2546.1 1230.6V1247.2M2549 1232.8V1255M2561.2 1273.9V1309.4M2565.6 1288.3V1318.8M2567.3 1280.4V1327.1M2571.3 1298.8V1318.9M2573.9 1290.8V1324.3M2577.6 1292.5V1318.4M2582.5 1294.7V1319.8M2585.6 1309.1V1325.5M2588.5 1314.7V1354.4M2592.7 1321.9V1352.9M2608.1 1336.9V1372M2612.2 1352.7V1410.9M2616 1356.5V1381.9M2646.2 1279.1V1305.9M2648.2 1268.3V1288.1M2655 1252.5V1265.6M2661.9 1221.3V1244.5M2666 1230.9V1271.2M2668.1 1227.1V1295M2678.8 1233.2V1255.6M2721.7 1222.7V1254.1M2725 1242.3V1260.9M2731.6 1255.9V1273.7M2742.9 1309.4V1341.8M2745.6 1322.1V1344.6M2747 1328.8V1359.8M2765.7 1289V1352.2M2772.2 1287.1V1304.7M2789.7 1333.5V1375.2M2792.9 1345.8V1371.4M2809.6 1245.4V1269.4M2810.4 1239.9V1263.4M2816 1235.9V1265.3M2817.9 1233.3V1262.3M2821.2 1231.6V1265.2M2825.5 1218.2V1252.7M2828.2 1221.2V1230.6M2832.1 1219.9V1260.5M2835.6 1218.1V1250.2M2839.7 1229V1237.1M2844.5 1229.2V1258M2847.8 1210V1241.8M2858.7 1222.4V1256.4M2867.8 1239.1V1305.9M2872.5 1232.1V1294.2M2876.1 1246V1270.7M2880.9 1265.3V1296.4M2892.6 1298.8V1319.8" stroke="#c6daee" stroke-width="1.6" fill="none"/>
<path d="M353.3 1249.3 L356.7 1246 L360 1266 L363.3 1286 L366.7 1322.7 L370 1332.7 L373.3 1319.3 L376.7 1296 L380 1312.7 L383.3 1319.3 L386.7 1339.3 L390 1346 L393.3 1342.7 L396.7 1346 L400 1346 L403.3 1342.7 L406.7 1339.3 L410 1339.3 L413.3 1329.3 L416.7 1332.7 L420 1312.7 L423.3 1312.7 L426.7 1322.7 L430 1319.3 L433.3 1299.3 L436.7 1292.7 L440 1276 L443.3 1269.3 L446.7 1262.7 L450 1279.3 L453.3 1289.3 L456.7 1272.7 L460 1262.7 L463.3 1252.7 L466.7 1246 L470 1229.3 L473.3 1222.7 L476.7 1219.3 L480 1219.3 L483.3 1216 L486.7 1212.7 L490 1212.7 L493.3 1216 L496.7 1222.7 L500 1229.3 L503.3 1232.7 L506.7 1232.7 L510 1242.7 L513.3 1246 L516.7 1276 L520 1292.7 L523.3 1296 L526.7 1299.3 L530 1312.7 L533.3 1332.7 L536.7 1352.7 L540 1362.7 L543.3 1359.3 L546.7 1352.7 L550 1356 L553.3 1342.7 L556.7 1316 L560 1316 L563.3 1322.7 L566.7 1312.7 L570 1309.3 L573.3 1339.3 L576.7 1346 L580 1352.7 L583.3 1346 L586.7 1342.7 L590 1339.3 L590 1369 L586.7 1372.3 L583.3 1389 L580 1385.7 L576.7 1379 L573.3 1362.3 L570 1352.3 L566.7 1349 L563.3 1355.7 L560 1349 L556.7 1345.7 L553.3 1379 L550 1389 L546.7 1389 L543.3 1389 L540 1389 L536.7 1385.7 L533.3 1365.7 L530 1345.7 L526.7 1329 L523.3 1325.7 L520 1319 L516.7 1309 L513.3 1282.3 L510 1282.3 L506.7 1265.7 L503.3 1265.7 L500 1279 L496.7 1249 L493.3 1242.3 L490 1239 L486.7 1239 L483.3 1242.3 L480 1245.7 L476.7 1245.7 L473.3 1249 L470 1252.3 L466.7 1272.3 L463.3 1279 L460 1285.7 L456.7 1299 L453.3 1319 L450 1305.7 L446.7 1302.3 L443.3 1295.7 L440 1305.7 L436.7 1329 L433.3 1332.3 L430 1359 L426.7 1375.7 L423.3 1379 L420 1365.7 L416.7 1375.7 L413.3 1372.3 L410 1369 L406.7 1372.3 L403.3 1379 L400 1379 L396.7 1382.3 L393.3 1382.3 L390 1382.3 L386.7 1372.3 L383.3 1352.3 L380 1345.7 L376.7 1319 L373.3 1345.7 L370 1355.7 L366.7 1352.3 L363.3 1319 L360 1299 L356.7 1275.7 L353.3 1272.3 Z M591.7 1296 L595 1292.7 L598.3 1272.7 L601.7 1266 L605 1262.7 L608.3 1262.7 L611.7 1259.3 L615 1256 L618.3 1252.7 L621.7 1249.3 L625 1249.3 L628.3 1252.7 L631.7 1242.7 L635 1232.7 L638.3 1239.3 L641.7 1236 L645 1229.3 L648.3 1222.7 L651.7 1226 L655 1229.3 L657.3 1232.7 L657.3 1255.7 L655 1255.7 L651.7 1255.7 L648.3 1255.7 L645 1259 L641.7 1262.3 L638.3 1265.7 L635 1265.7 L631.7 1269 L628.3 1272.3 L625 1272.3 L621.7 1275.7 L618.3 1279 L615 1282.3 L611.7 1285.7 L608.3 1289 L605 1289 L601.7 1292.3 L598.3 1299 L595 1315.7 L591.7 1322.3 Z M682.7 1276 L686 1309.3 L689.3 1292.7 L692.7 1282.7 L696 1286 L699.3 1299.3 L702.7 1306 L706 1322.7 L709.3 1296 L712.7 1326 L716 1329.3 L719.3 1339.3 L722.7 1312.7 L726 1286 L729.3 1306 L732.7 1319.3 L736 1312.7 L739.3 1346 L742.7 1332.7 L746 1336 L749.3 1326 L752.7 1312.7 L756 1299.3 L759.3 1279.3 L761.7 1276 L761.7 1295.7 L759.3 1305.7 L756 1325.7 L752.7 1339 L749.3 1355.7 L746 1365.7 L742.7 1375.7 L739.3 1379 L736 1352.3 L732.7 1365.7 L729.3 1345.7 L726 1339 L722.7 1345.7 L719.3 1362.3 L716 1359 L712.7 1355.7 L709.3 1345.7 L706 1359 L702.7 1339 L699.3 1332.3 L696 1315.7 L692.7 1305.7 L689.3 1325.7 L686 1352.3 L682.7 1302.3 Z M766.7 1256 L770 1262.7 L770 1282.3 L766.7 1282.3 Z M783.3 1259.3 L786.7 1252.7 L790 1249.3 L793.3 1242.7 L796.7 1246 L800 1222.7 L803.3 1219.3 L806.7 1222.7 L810 1219.3 L813.3 1219.3 L816.7 1222.7 L820 1222.7 L823.3 1219.3 L826.7 1239.3 L830 1259.3 L833.3 1272.7 L836.7 1292.7 L840 1312.7 L843.3 1346 L846.7 1346 L850 1349.3 L853.3 1352.7 L856.7 1336 L860 1342.7 L863.3 1339.3 L866.7 1336 L870 1319.3 L873.3 1302.7 L876.7 1306 L880 1292.7 L883.3 1272.7 L886.7 1289.3 L890 1292.7 L893.3 1286 L896.7 1289.3 L900 1282.7 L903.3 1292.7 L906.7 1269.3 L910 1242.7 L913.3 1242.7 L916.7 1246 L920 1249.3 L923.3 1256 L926.7 1246 L930 1242.7 L933.3 1239.3 L936.7 1262.7 L940 1232.7 L943.3 1226 L946.7 1222.7 L950 1219.3 L953.3 1212.7 L956.7 1209.3 L960 1219.3 L963.3 1222.7 L966.7 1229.3 L970 1219.3 L973.3 1239.3 L976.7 1246 L980 1246 L983.3 1239.3 L986.7 1242.7 L990 1236 L993.3 1232.7 L996.7 1246 L1000 1246 L1003.3 1256 L1006.7 1259.3 L1010 1259.3 L1013.3 1266 L1016.7 1262.7 L1020 1266 L1023.3 1269.3 L1026.7 1276 L1030 1276 L1033.3 1279.3 L1036.7 1282.7 L1036.7 1299.3 L1040 1312.7 L1043.3 1319.3 L1046.7 1326 L1050 1312.7 L1053.3 1316 L1056.7 1326 L1060 1326 L1063.3 1296 L1066.7 1299.3 L1070 1312.7 L1073.3 1302.7 L1076.7 1286 L1080 1282.7 L1083.3 1262.7 L1086.7 1239.3 L1090 1232.7 L1093.3 1242.7 L1096.7 1242.7 L1100 1242.7 L1103.3 1242.7 L1106.7 1239.3 L1110 1239.3 L1113.3 1242.7 L1116.7 1242.7 L1120 1239.3 L1123.3 1236 L1126.7 1229.3 L1130 1236 L1133.3 1242.7 L1136.7 1242.7 L1140 1256 L1143.3 1286 L1146.7 1306 L1150 1312.7 L1153.3 1306 L1156.7 1332.7 L1160 1339.3 L1163.3 1352.7 L1166.7 1362.7 L1170 1352.7 L1173.3 1332.7 L1176.7 1309.3 L1180 1329.3 L1183.3 1332.7 L1186.7 1336 L1190 1339.3 L1193.3 1339.3 L1196.7 1326 L1200 1312.7 L1203.3 1286 L1206.7 1292.7 L1210 1326 L1213.3 1339.3 L1216.7 1312.7 L1220 1302.7 L1223.3 1272.7 L1226.7 1272.7 L1230 1256 L1233.3 1249.3 L1236.7 1249.3 L1240 1242.7 L1243.3 1236 L1246.7 1226 L1250 1226 L1253.3 1222.7 L1256.7 1226 L1260 1232.7 L1263.3 1236 L1266.7 1239.3 L1270 1239.3 L1273.3 1246 L1273.3 1265.7 L1270 1259 L1266.7 1262.3 L1263.3 1262.3 L1260 1259 L1256.7 1252.3 L1253.3 1249 L1250 1252.3 L1246.7 1252.3 L1243.3 1259 L1240 1265.7 L1236.7 1272.3 L1233.3 1272.3 L1230 1279 L1226.7 1295.7 L1223.3 1299 L1220 1329 L1216.7 1345.7 L1213.3 1365.7 L1210 1365.7 L1206.7 1332.3 L1203.3 1319 L1200 1345.7 L1196.7 1365.7 L1193.3 1382.3 L1190 1382.3 L1186.7 1379 L1183.3 1382.3 L1180 1365.7 L1176.7 1339 L1173.3 1365.7 L1170 1392.3 L1166.7 1392.3 L1163.3 1379 L1160 1369 L1156.7 1365.7 L1153.3 1339 L1150 1355.7 L1146.7 1345.7 L1143.3 1319 L1140 1285.7 L1136.7 1275.7 L1133.3 1282.3 L1130 1259 L1126.7 1259 L1123.3 1262.3 L1120 1265.7 L1116.7 1265.7 L1113.3 1265.7 L1110 1265.7 L1106.7 1262.3 L1103.3 1269 L1100 1265.7 L1096.7 1269 L1093.3 1265.7 L1090 1259 L1086.7 1275.7 L1083.3 1295.7 L1080 1305.7 L1076.7 1312.3 L1073.3 1332.3 L1070 1342.3 L1066.7 1335.7 L1063.3 1332.3 L1060 1355.7 L1056.7 1355.7 L1053.3 1355.7 L1050 1355.7 L1046.7 1359 L1043.3 1352.3 L1040 1345.7 L1036.7 1339 L1036.7 1312.3 L1033.3 1309 L1030 1302.3 L1026.7 1302.3 L1023.3 1295.7 L1020 1292.3 L1016.7 1289 L1013.3 1292.3 L1010 1299 L1006.7 1285.7 L1003.3 1285.7 L1000 1275.7 L996.7 1272.3 L993.3 1262.3 L990 1265.7 L986.7 1272.3 L983.3 1269 L980 1299 L976.7 1272.3 L973.3 1269 L970 1245.7 L966.7 1259 L963.3 1245.7 L960 1242.3 L956.7 1235.7 L953.3 1235.7 L950 1242.3 L946.7 1245.7 L943.3 1249 L940 1255.7 L936.7 1285.7 L933.3 1265.7 L930 1269 L926.7 1272.3 L923.3 1282.3 L920 1275.7 L916.7 1272.3 L913.3 1265.7 L910 1272.3 L906.7 1299 L903.3 1322.3 L900 1319 L896.7 1319 L893.3 1319 L890 1322.3 L886.7 1322.3 L883.3 1319 L880 1322.3 L876.7 1329 L873.3 1332.3 L870 1349 L866.7 1365.7 L863.3 1379 L860 1372.3 L856.7 1372.3 L853.3 1385.7 L850 1379 L846.7 1372.3 L843.3 1372.3 L840 1342.3 L836.7 1315.7 L833.3 1299 L830 1289 L826.7 1265.7 L823.3 1245.7 L820 1245.7 L816.7 1245.7 L813.3 1249 L810 1249 L806.7 1249 L803.3 1249 L800 1252.3 L796.7 1275.7 L793.3 1269 L790 1272.3 L786.7 1275.7 L783.3 1279 Z M1285 1236 L1288.3 1239.3 L1291.7 1246 L1295 1252.7 L1298.3 1259.3 L1301.7 1272.7 L1305 1286 L1308.3 1292.7 L1311.7 1292.7 L1315 1299.3 L1318.3 1292.7 L1321.7 1326 L1325 1339.3 L1328.3 1322.7 L1331.7 1319.3 L1335 1329.3 L1338.3 1342.7 L1341.7 1346 L1345 1342.7 L1348.3 1346 L1351.7 1339.3 L1355 1339.3 L1358.3 1336 L1361.7 1346 L1365 1352.7 L1368.3 1352.7 L1371.7 1332.7 L1375 1316 L1378.3 1312.7 L1381.7 1316 L1385 1302.7 L1388.3 1279.3 L1391.7 1256 L1395 1252.7 L1398.3 1249.3 L1401.7 1249.3 L1405 1246 L1408.3 1249.3 L1411.7 1246 L1415 1246 L1418.3 1246 L1421.7 1242.7 L1425 1242.7 L1428.3 1236 L1431.7 1216 L1435 1219.3 L1438.3 1222.7 L1441.7 1219.3 L1445 1216 L1448.3 1222.7 L1451.7 1232.7 L1455 1249.3 L1458.3 1272.7 L1461.7 1306 L1465 1332.7 L1468.3 1346 L1471.7 1349.3 L1475 1352.7 L1478.3 1332.7 L1481.7 1319.3 L1485 1332.7 L1488.3 1339.3 L1491.7 1326 L1495 1319.3 L1498.3 1336 L1501.7 1346 L1505 1342.7 L1508.3 1342.7 L1511.7 1332.7 L1515 1342.7 L1518.3 1346 L1521.7 1346 L1525 1312.7 L1528.3 1339.3 L1531.7 1339.3 L1535 1332.7 L1538.3 1336 L1541.7 1332.7 L1545 1306 L1548.3 1296 L1551.7 1269.3 L1555 1256 L1558.3 1256 L1561.7 1259.3 L1565 1262.7 L1568.3 1256 L1571.7 1232.7 L1575 1229.3 L1578.3 1229.3 L1581.7 1229.3 L1585 1229.3 L1588.3 1226 L1591.7 1229.3 L1595 1222.7 L1598.3 1226 L1601.7 1229.3 L1605 1229.3 L1608.3 1229.3 L1611.7 1226 L1615 1229.3 L1618.3 1272.7 L1621.7 1266 L1625 1299.3 L1628.3 1342.7 L1631.7 1339.3 L1635 1346 L1638.3 1346 L1641.7 1299.3 L1645 1302.7 L1648.3 1316 L1651.7 1332.7 L1655 1346 L1655 1372.3 L1651.7 1355.7 L1648.3 1349 L1645 1329 L1641.7 1339 L1638.3 1372.3 L1635 1372.3 L1631.7 1365.7 L1628.3 1365.7 L1625 1325.7 L1621.7 1299 L1618.3 1302.3 L1615 1259 L1611.7 1249 L1608.3 1259 L1605 1252.3 L1601.7 1255.7 L1598.3 1249 L1595 1249 L1591.7 1255.7 L1588.3 1252.3 L1585 1269 L1581.7 1252.3 L1578.3 1255.7 L1575 1255.7 L1571.7 1255.7 L1568.3 1279 L1565 1295.7 L1561.7 1285.7 L1558.3 1282.3 L1555 1282.3 L1551.7 1295.7 L1548.3 1319 L1545 1339 L1541.7 1365.7 L1538.3 1372.3 L1535 1379 L1531.7 1399 L1528.3 1375.7 L1525 1379 L1521.7 1392.3 L1518.3 1385.7 L1515 1379 L1511.7 1399 L1508.3 1375.7 L1505 1375.7 L1501.7 1379 L1498.3 1372.3 L1495 1352.3 L1491.7 1362.3 L1488.3 1372.3 L1485 1365.7 L1481.7 1365.7 L1478.3 1375.7 L1475 1382.3 L1471.7 1379 L1468.3 1385.7 L1465 1365.7 L1461.7 1339 L1458.3 1309 L1455 1275.7 L1451.7 1259 L1448.3 1249 L1445 1239 L1441.7 1245.7 L1438.3 1245.7 L1435 1249 L1431.7 1242.3 L1428.3 1259 L1425 1275.7 L1421.7 1265.7 L1418.3 1272.3 L1415 1269 L1411.7 1272.3 L1408.3 1272.3 L1405 1275.7 L1401.7 1272.3 L1398.3 1272.3 L1395 1275.7 L1391.7 1282.3 L1388.3 1309 L1385 1329 L1381.7 1342.3 L1378.3 1342.3 L1375 1345.7 L1371.7 1365.7 L1368.3 1382.3 L1365 1392.3 L1361.7 1392.3 L1358.3 1385.7 L1355 1385.7 L1351.7 1385.7 L1348.3 1392.3 L1345 1385.7 L1341.7 1389 L1338.3 1375.7 L1335 1365.7 L1331.7 1352.3 L1328.3 1359 L1325 1372.3 L1321.7 1359 L1318.3 1325.7 L1315 1332.3 L1311.7 1329 L1308.3 1325.7 L1305 1349 L1301.7 1305.7 L1298.3 1289 L1295 1279 L1291.7 1272.3 L1288.3 1269 L1285 1259 Z M1726.7 1229.3 L1730 1232.7 L1733.3 1232.7 L1736.7 1219.3 L1740 1212.7 L1743.3 1212.7 L1746.7 1216 L1750 1216 L1753.3 1209.3 L1756.7 1209.3 L1760 1216 L1763.3 1219.3 L1766.7 1222.7 L1770 1226 L1773.3 1222.7 L1776.7 1236 L1780 1242.7 L1783.3 1246 L1786.7 1252.7 L1790 1272.7 L1793.3 1259.3 L1796.7 1279.3 L1800 1312.7 L1803.3 1326 L1806.7 1326 L1810 1346 L1813.3 1316 L1816.7 1336 L1820 1322.7 L1823.3 1316 L1826.7 1319.3 L1830 1319.3 L1833.3 1306 L1836.7 1306 L1840 1316 L1843.3 1312.7 L1846.7 1309.3 L1850 1319.3 L1853.3 1326 L1856.7 1272.7 L1860 1266 L1863.3 1249.3 L1866.7 1259.3 L1870 1259.3 L1873.3 1242.7 L1876.7 1236 L1880 1226 L1883.3 1229.3 L1886.7 1236 L1890 1242.7 L1893.3 1246 L1896.7 1246 L1900 1246 L1903.3 1252.7 L1906.7 1256 L1910 1252.7 L1913.3 1256 L1916.7 1266 L1920 1279.3 L1920 1305.7 L1916.7 1289 L1913.3 1279 L1910 1275.7 L1906.7 1279 L1903.3 1275.7 L1900 1269 L1896.7 1269 L1893.3 1265.7 L1890 1262.3 L1886.7 1259 L1883.3 1252.3 L1880 1249 L1876.7 1259 L1873.3 1265.7 L1870 1279 L1866.7 1285.7 L1863.3 1279 L1860 1285.7 L1856.7 1302.3 L1853.3 1349 L1850 1342.3 L1846.7 1329 L1843.3 1339 L1840 1339 L1836.7 1329 L1833.3 1332.3 L1830 1345.7 L1826.7 1362.3 L1823.3 1352.3 L1820 1355.7 L1816.7 1365.7 L1813.3 1365.7 L1810 1445.7 L1806.7 1425.7 L1803.3 1359 L1800 1352.3 L1796.7 1305.7 L1793.3 1299 L1790 1309 L1786.7 1282.3 L1783.3 1272.3 L1780 1275.7 L1776.7 1269 L1773.3 1249 L1770 1255.7 L1766.7 1249 L1763.3 1245.7 L1760 1242.3 L1756.7 1235.7 L1753.3 1232.3 L1750 1252.3 L1746.7 1239 L1743.3 1235.7 L1740 1235.7 L1736.7 1249 L1733.3 1255.7 L1730 1259 L1726.7 1255.7 Z M1993.3 1286 L1996.7 1279.3 L2000 1279.3 L2003.3 1276 L2006.7 1272.7 L2010 1262.7 L2013.3 1266 L2016.7 1282.7 L2020 1286 L2023.3 1289.3 L2026.7 1286 L2030 1266 L2033.3 1252.7 L2036.7 1259.3 L2040 1246 L2043.3 1242.7 L2046.7 1236 L2050 1232.7 L2053.3 1232.7 L2056.7 1232.7 L2060 1232.7 L2063.3 1222.7 L2066.7 1232.7 L2070 1232.7 L2073.3 1222.7 L2076.7 1232.7 L2080 1242.7 L2083.3 1246 L2086.7 1252.7 L2090 1259.3 L2093.3 1262.7 L2096.7 1266 L2100 1272.7 L2103.3 1289.3 L2106.7 1296 L2110 1302.7 L2113.3 1309.3 L2116.7 1312.7 L2120 1329.3 L2123.3 1352.7 L2126.7 1369.3 L2130 1359.3 L2133.3 1336 L2136.7 1336 L2140 1332.7 L2143.3 1322.7 L2146.7 1292.7 L2150 1302.7 L2153.3 1319.3 L2156.7 1326 L2160 1286 L2163.3 1259.3 L2166.7 1249.3 L2170 1249.3 L2173.3 1249.3 L2176.7 1246 L2180 1246 L2183.3 1236 L2186.7 1236 L2190 1239.3 L2193.3 1242.7 L2196.7 1239.3 L2200 1246 L2203.3 1249.3 L2206.7 1239.3 L2210 1242.7 L2213.3 1246 L2216.7 1249.3 L2220 1252.7 L2223.3 1252.7 L2226.7 1242.7 L2230 1242.7 L2233.3 1246 L2236.7 1256 L2240 1266 L2243.3 1269.3 L2246.7 1289.3 L2250 1299.3 L2253.3 1326 L2256.7 1352.7 L2260 1372.7 L2263.3 1389.3 L2266.7 1389.3 L2270 1386 L2273.3 1356 L2276.7 1392.7 L2280 1392.7 L2283.3 1402.7 L2286.7 1379.3 L2290 1372.7 L2293.3 1352.7 L2296.7 1349.3 L2300 1309.3 L2303.3 1286 L2306.7 1299.3 L2310 1302.7 L2313.3 1312.7 L2316.7 1306 L2320 1286 L2323.3 1286 L2326.7 1299.3 L2330 1309.3 L2333.3 1309.3 L2336.7 1319.3 L2340 1316 L2343.3 1299.3 L2346.7 1289.3 L2350 1282.7 L2353.3 1279.3 L2356.7 1266 L2360 1259.3 L2363.3 1259.3 L2366.7 1259.3 L2370 1252.7 L2373.3 1236 L2376.7 1232.7 L2380 1229.3 L2383.3 1232.7 L2386.7 1232.7 L2390 1232.7 L2390 1255.7 L2386.7 1255.7 L2383.3 1255.7 L2380 1255.7 L2376.7 1259 L2373.3 1269 L2370 1279 L2366.7 1282.3 L2363.3 1282.3 L2360 1282.3 L2356.7 1292.3 L2353.3 1302.3 L2350 1305.7 L2346.7 1312.3 L2343.3 1325.7 L2340 1339 L2336.7 1345.7 L2333.3 1332.3 L2330 1332.3 L2326.7 1325.7 L2323.3 1312.3 L2320 1312.3 L2316.7 1345.7 L2313.3 1372.3 L2310 1345.7 L2306.7 1339 L2303.3 1325.7 L2300 1359 L2296.7 1372.3 L2293.3 1379 L2290 1405.7 L2286.7 1425.7 L2283.3 1449 L2280 1449 L2276.7 1432.3 L2273.3 1422.3 L2270 1412.3 L2266.7 1412.3 L2263.3 1415.7 L2260 1405.7 L2256.7 1385.7 L2253.3 1365.7 L2250 1329 L2246.7 1312.3 L2243.3 1299 L2240 1295.7 L2236.7 1282.3 L2233.3 1265.7 L2230 1262.3 L2226.7 1265.7 L2223.3 1272.3 L2220 1272.3 L2216.7 1269 L2213.3 1265.7 L2210 1265.7 L2206.7 1262.3 L2203.3 1275.7 L2200 1272.3 L2196.7 1269 L2193.3 1269 L2190 1265.7 L2186.7 1262.3 L2183.3 1262.3 L2180 1269 L2176.7 1272.3 L2173.3 1272.3 L2170 1272.3 L2166.7 1275.7 L2163.3 1285.7 L2160 1332.3 L2156.7 1359 L2153.3 1352.3 L2150 1339 L2146.7 1332.3 L2143.3 1349 L2140 1355.7 L2136.7 1365.7 L2133.3 1365.7 L2130 1389 L2126.7 1392.3 L2123.3 1385.7 L2120 1359 L2116.7 1339 L2113.3 1332.3 L2110 1325.7 L2106.7 1319 L2103.3 1315.7 L2100 1299 L2096.7 1292.3 L2093.3 1285.7 L2090 1285.7 L2086.7 1275.7 L2083.3 1272.3 L2080 1265.7 L2076.7 1259 L2073.3 1252.3 L2070 1255.7 L2066.7 1255.7 L2063.3 1249 L2060 1255.7 L2056.7 1259 L2053.3 1255.7 L2050 1255.7 L2046.7 1259 L2043.3 1265.7 L2040 1269 L2036.7 1279 L2033.3 1279 L2030 1289 L2026.7 1312.3 L2023.3 1312.3 L2020 1309 L2016.7 1302.3 L2013.3 1292.3 L2010 1289 L2006.7 1295.7 L2003.3 1309 L2000 1312.3 L1996.7 1305.7 L1993.3 1309 Z M2398.3 1232.7 L2401.7 1236 L2405 1236 L2408.3 1236 L2411.7 1239.3 L2414 1249.3 L2414 1269 L2411.7 1269 L2408.3 1259 L2405 1259 L2401.7 1262.3 L2398.3 1255.7 Z M2416.7 1267.7 L2420 1267.7 L2420 1285.7 L2416.7 1285.7 Z M2448.3 1346 L2451.7 1332.7 L2455 1326 L2458.3 1302.7 L2461.7 1266 L2465 1279.3 L2468.3 1302.7 L2471.7 1316 L2475 1312.7 L2478.3 1316 L2481.7 1332.7 L2485 1332.7 L2488.3 1332.7 L2491.7 1309.3 L2495 1296 L2498.3 1286 L2501.7 1256 L2505 1236 L2508.3 1232.7 L2511.7 1226 L2515 1219.3 L2518.3 1219.3 L2521.7 1219.3 L2525 1222.7 L2528.3 1229.3 L2531.7 1232.7 L2535 1236 L2538.3 1239.3 L2541.7 1222.7 L2545 1229.3 L2548.3 1229.3 L2551.7 1232.7 L2555 1246 L2558.3 1249.3 L2561.7 1272.7 L2565 1286 L2568.3 1286 L2571.7 1296 L2575 1299.3 L2578.3 1289.3 L2581.7 1292.7 L2585 1306 L2588.3 1312.7 L2591.7 1319.3 L2595 1336 L2598.3 1332.7 L2601.7 1326 L2605 1336 L2608.3 1346 L2611.7 1352.7 L2615 1359.3 L2618.3 1356 L2621.7 1332.7 L2625 1359.3 L2628.3 1349.3 L2631.7 1339.3 L2635 1329.3 L2638.3 1306 L2641.7 1276 L2645 1276 L2648.3 1266 L2651.7 1256 L2655 1249.3 L2658.3 1236 L2661.7 1229.3 L2665 1232.7 L2668.3 1232.7 L2671.7 1232.7 L2675 1236 L2678.3 1242.7 L2678.3 1262.3 L2675 1259 L2671.7 1255.7 L2668.3 1259 L2665 1259 L2661.7 1252.3 L2658.3 1265.7 L2655 1272.3 L2651.7 1282.3 L2648.3 1292.3 L2645 1305.7 L2641.7 1312.3 L2638.3 1345.7 L2635 1359 L2631.7 1375.7 L2628.3 1392.3 L2625 1405.7 L2621.7 1385.7 L2618.3 1382.3 L2615 1389 L2611.7 1389 L2608.3 1375.7 L2605 1365.7 L2601.7 1355.7 L2598.3 1359 L2595 1359 L2591.7 1355.7 L2588.3 1345.7 L2585 1332.3 L2581.7 1325.7 L2578.3 1319 L2575 1325.7 L2571.7 1322.3 L2568.3 1312.3 L2565 1315.7 L2561.7 1299 L2558.3 1275.7 L2555 1272.3 L2551.7 1259 L2548.3 1255.7 L2545 1252.3 L2541.7 1252.3 L2538.3 1275.7 L2535 1259 L2531.7 1255.7 L2528.3 1252.3 L2525 1245.7 L2521.7 1242.3 L2518.3 1239 L2515 1239 L2511.7 1252.3 L2508.3 1259 L2505 1269 L2501.7 1292.3 L2498.3 1312.3 L2495 1322.3 L2491.7 1335.7 L2488.3 1355.7 L2485 1379 L2481.7 1362.3 L2478.3 1345.7 L2475 1339 L2471.7 1342.3 L2468.3 1332.3 L2465 1309 L2461.7 1302.3 L2458.3 1339 L2455 1365.7 L2451.7 1369 L2448.3 1372.3 Z M2718.3 1219.3 L2721.7 1229.3 L2725 1242.7 L2728.3 1249.3 L2731.7 1256 L2735 1276 L2738.3 1292.7 L2741.7 1312.7 L2745 1319.3 L2748.3 1329.3 L2751.7 1339.3 L2755 1359.3 L2758.3 1342.7 L2761.7 1299.3 L2765 1286 L2768.3 1279.3 L2771.7 1286 L2775 1292.7 L2778.3 1309.3 L2781.7 1336 L2785 1339.3 L2788.3 1342.7 L2791.7 1346 L2795 1342.7 L2798.3 1326 L2798.3 1362.3 L2795 1369 L2791.7 1372.3 L2788.3 1365.7 L2785 1362.3 L2781.7 1359 L2778.3 1345.7 L2775 1319 L2771.7 1309 L2768.3 1305.7 L2765 1315.7 L2761.7 1335.7 L2758.3 1372.3 L2755 1389 L2751.7 1385.7 L2748.3 1359 L2745 1345.7 L2741.7 1339 L2738.3 1319 L2735 1305.7 L2731.7 1282.3 L2728.3 1275.7 L2725 1265.7 L2721.7 1255.7 L2718.3 1242.3 Z M2801.7 1276 L2805 1249.3 L2808.3 1242.7 L2811.7 1239.3 L2815 1236 L2818.3 1236 L2821.7 1239.3 L2825 1219.3 L2828.3 1219.3 L2831.7 1219.3 L2835 1222.7 L2838.3 1226 L2841.7 1226 L2845 1226 L2848.3 1226 L2851.7 1226 L2855 1222.7 L2858.3 1219.3 L2861.7 1219.3 L2865 1226 L2868.3 1236 L2871.7 1242.7 L2875 1242.7 L2878.3 1239.3 L2881.7 1266 L2885 1286 L2888.3 1292.7 L2891.7 1296 L2895 1299.3 L2898.3 1296 L2901.7 1292.7 L2901.7 1315.7 L2898.3 1329 L2895 1329 L2891.7 1325.7 L2888.3 1322.3 L2885 1315.7 L2881.7 1299 L2878.3 1269 L2875 1272.3 L2871.7 1269 L2868.3 1265.7 L2865 1252.3 L2861.7 1242.3 L2858.3 1242.3 L2855 1245.7 L2851.7 1252.3 L2848.3 1249 L2845 1245.7 L2841.7 1245.7 L2838.3 1245.7 L2835 1242.3 L2831.7 1239 L2828.3 1239 L2825 1245.7 L2821.7 1265.7 L2818.3 1259 L2815 1262.3 L2811.7 1265.7 L2808.3 1269 L2805 1279 L2801.7 1295.7 Z" fill="#e2ecf7" stroke="none"/>
<path d="M353.3 1250.8 L356.7 1247.5 L360 1267.5 L363.3 1287.5 L366.7 1324.2 L370 1334.2 L373.3 1320.8 L376.7 1297.5 L380 1314.2 L383.3 1320.8 L386.7 1340.8 L390 1347.5 L393.3 1344.2 L396.7 1347.5 L400 1347.5 L403.3 1344.2 L406.7 1340.8 L410 1340.8 L413.3 1330.8 L416.7 1334.2 L420 1314.2 L423.3 1314.2 L426.7 1324.2 L430 1320.8 L433.3 1300.8 L436.7 1294.2 L440 1277.5 L443.3 1270.8 L446.7 1264.2 L450 1280.8 L453.3 1290.8 L456.7 1274.2 L460 1264.2 L463.3 1254.2 L466.7 1247.5 L470 1230.8 L473.3 1224.2 L476.7 1220.8 L480 1220.8 L483.3 1217.5 L486.7 1214.2 L490 1214.2 L493.3 1217.5 L496.7 1224.2 L500 1230.8 L503.3 1234.2 L506.7 1234.2 L510 1244.2 L513.3 1247.5 L516.7 1277.5 L520 1294.2 L523.3 1297.5 L526.7 1300.8 L530 1314.2 L533.3 1334.2 L536.7 1354.2 L540 1364.2 L543.3 1360.8 L546.7 1354.2 L550 1357.5 L553.3 1344.2 L556.7 1317.5 L560 1317.5 L563.3 1324.2 L566.7 1314.2 L570 1310.8 L573.3 1340.8 L576.7 1347.5 L580 1354.2 L583.3 1347.5 L586.7 1344.2 L590 1340.8 L590 1362.5 L586.7 1365.8 L583.3 1382.5 L580 1379.2 L576.7 1372.5 L573.3 1355.8 L570 1345.8 L566.7 1342.5 L563.3 1349.2 L560 1342.5 L556.7 1339.2 L553.3 1372.5 L550 1382.5 L546.7 1382.5 L543.3 1382.5 L540 1382.5 L536.7 1379.2 L533.3 1359.2 L530 1339.2 L526.7 1322.5 L523.3 1319.2 L520 1312.5 L516.7 1302.5 L513.3 1275.8 L510 1275.8 L506.7 1259.2 L503.3 1259.2 L500 1272.5 L496.7 1242.5 L493.3 1235.8 L490 1232.5 L486.7 1232.5 L483.3 1235.8 L480 1239.2 L476.7 1239.2 L473.3 1242.5 L470 1245.8 L466.7 1265.8 L463.3 1272.5 L460 1279.2 L456.7 1292.5 L453.3 1312.5 L450 1299.2 L446.7 1295.8 L443.3 1289.2 L440 1299.2 L436.7 1322.5 L433.3 1325.8 L430 1352.5 L426.7 1369.2 L423.3 1372.5 L420 1359.2 L416.7 1369.2 L413.3 1365.8 L410 1362.5 L406.7 1365.8 L403.3 1372.5 L400 1372.5 L396.7 1375.8 L393.3 1375.8 L390 1375.8 L386.7 1365.8 L383.3 1345.8 L380 1339.2 L376.7 1312.5 L373.3 1339.2 L370 1349.2 L366.7 1345.8 L363.3 1312.5 L360 1292.5 L356.7 1269.2 L353.3 1265.8 Z M591.7 1297.5 L595 1294.2 L598.3 1274.2 L601.7 1267.5 L605 1264.2 L608.3 1264.2 L611.7 1260.8 L615 1257.5 L618.3 1254.2 L621.7 1250.8 L625 1250.8 L628.3 1254.2 L631.7 1244.2 L635 1234.2 L638.3 1240.8 L641.7 1237.5 L645 1230.8 L648.3 1224.2 L651.7 1227.5 L655 1230.8 L657.3 1234.2 L657.3 1249.2 L655 1249.2 L651.7 1249.2 L648.3 1249.2 L645 1252.5 L641.7 1255.8 L638.3 1259.2 L635 1259.2 L631.7 1262.5 L628.3 1265.8 L625 1265.8 L621.7 1269.2 L618.3 1272.5 L615 1275.8 L611.7 1279.2 L608.3 1282.5 L605 1282.5 L601.7 1285.8 L598.3 1292.5 L595 1309.2 L591.7 1315.8 Z M682.7 1277.5 L686 1310.8 L689.3 1294.2 L692.7 1284.2 L696 1287.5 L699.3 1300.8 L702.7 1307.5 L706 1324.2 L709.3 1297.5 L712.7 1327.5 L716 1330.8 L719.3 1340.8 L722.7 1314.2 L726 1287.5 L729.3 1307.5 L732.7 1320.8 L736 1314.2 L739.3 1347.5 L742.7 1334.2 L746 1337.5 L749.3 1327.5 L752.7 1314.2 L756 1300.8 L759.3 1280.8 L761.7 1277.5 L761.7 1289.2 L759.3 1299.2 L756 1319.2 L752.7 1332.5 L749.3 1349.2 L746 1359.2 L742.7 1369.2 L739.3 1372.5 L736 1345.8 L732.7 1359.2 L729.3 1339.2 L726 1332.5 L722.7 1339.2 L719.3 1355.8 L716 1352.5 L712.7 1349.2 L709.3 1339.2 L706 1352.5 L702.7 1332.5 L699.3 1325.8 L696 1309.2 L692.7 1299.2 L689.3 1319.2 L686 1345.8 L682.7 1295.8 Z M766.7 1257.5 L770 1264.2 L770 1275.8 L766.7 1275.8 Z M783.3 1260.8 L786.7 1254.2 L790 1250.8 L793.3 1244.2 L796.7 1247.5 L800 1224.2 L803.3 1220.8 L806.7 1224.2 L810 1220.8 L813.3 1220.8 L816.7 1224.2 L820 1224.2 L823.3 1220.8 L826.7 1240.8 L830 1260.8 L833.3 1274.2 L836.7 1294.2 L840 1314.2 L843.3 1347.5 L846.7 1347.5 L850 1350.8 L853.3 1354.2 L856.7 1337.5 L860 1344.2 L863.3 1340.8 L866.7 1337.5 L870 1320.8 L873.3 1304.2 L876.7 1307.5 L880 1294.2 L883.3 1274.2 L886.7 1290.8 L890 1294.2 L893.3 1287.5 L896.7 1290.8 L900 1284.2 L903.3 1294.2 L906.7 1270.8 L910 1244.2 L913.3 1244.2 L916.7 1247.5 L920 1250.8 L923.3 1257.5 L926.7 1247.5 L930 1244.2 L933.3 1240.8 L936.7 1264.2 L940 1234.2 L943.3 1227.5 L946.7 1224.2 L950 1220.8 L953.3 1214.2 L956.7 1210.8 L960 1220.8 L963.3 1224.2 L966.7 1230.8 L970 1220.8 L973.3 1240.8 L976.7 1247.5 L980 1247.5 L983.3 1240.8 L986.7 1244.2 L990 1237.5 L993.3 1234.2 L996.7 1247.5 L1000 1247.5 L1003.3 1257.5 L1006.7 1260.8 L1010 1260.8 L1013.3 1267.5 L1016.7 1264.2 L1020 1267.5 L1023.3 1270.8 L1026.7 1277.5 L1030 1277.5 L1033.3 1280.8 L1036.7 1284.2 L1036.7 1300.8 L1040 1314.2 L1043.3 1320.8 L1046.7 1327.5 L1050 1314.2 L1053.3 1317.5 L1056.7 1327.5 L1060 1327.5 L1063.3 1297.5 L1066.7 1300.8 L1070 1314.2 L1073.3 1304.2 L1076.7 1287.5 L1080 1284.2 L1083.3 1264.2 L1086.7 1240.8 L1090 1234.2 L1093.3 1244.2 L1096.7 1244.2 L1100 1244.2 L1103.3 1244.2 L1106.7 1240.8 L1110 1240.8 L1113.3 1244.2 L1116.7 1244.2 L1120 1240.8 L1123.3 1237.5 L1126.7 1230.8 L1130 1237.5 L1133.3 1244.2 L1136.7 1244.2 L1140 1257.5 L1143.3 1287.5 L1146.7 1307.5 L1150 1314.2 L1153.3 1307.5 L1156.7 1334.2 L1160 1340.8 L1163.3 1354.2 L1166.7 1364.2 L1170 1354.2 L1173.3 1334.2 L1176.7 1310.8 L1180 1330.8 L1183.3 1334.2 L1186.7 1337.5 L1190 1340.8 L1193.3 1340.8 L1196.7 1327.5 L1200 1314.2 L1203.3 1287.5 L1206.7 1294.2 L1210 1327.5 L1213.3 1340.8 L1216.7 1314.2 L1220 1304.2 L1223.3 1274.2 L1226.7 1274.2 L1230 1257.5 L1233.3 1250.8 L1236.7 1250.8 L1240 1244.2 L1243.3 1237.5 L1246.7 1227.5 L1250 1227.5 L1253.3 1224.2 L1256.7 1227.5 L1260 1234.2 L1263.3 1237.5 L1266.7 1240.8 L1270 1240.8 L1273.3 1247.5 L1273.3 1259.2 L1270 1252.5 L1266.7 1255.8 L1263.3 1255.8 L1260 1252.5 L1256.7 1245.8 L1253.3 1242.5 L1250 1245.8 L1246.7 1245.8 L1243.3 1252.5 L1240 1259.2 L1236.7 1265.8 L1233.3 1265.8 L1230 1272.5 L1226.7 1289.2 L1223.3 1292.5 L1220 1322.5 L1216.7 1339.2 L1213.3 1359.2 L1210 1359.2 L1206.7 1325.8 L1203.3 1312.5 L1200 1339.2 L1196.7 1359.2 L1193.3 1375.8 L1190 1375.8 L1186.7 1372.5 L1183.3 1375.8 L1180 1359.2 L1176.7 1332.5 L1173.3 1359.2 L1170 1385.8 L1166.7 1385.8 L1163.3 1372.5 L1160 1362.5 L1156.7 1359.2 L1153.3 1332.5 L1150 1349.2 L1146.7 1339.2 L1143.3 1312.5 L1140 1279.2 L1136.7 1269.2 L1133.3 1275.8 L1130 1252.5 L1126.7 1252.5 L1123.3 1255.8 L1120 1259.2 L1116.7 1259.2 L1113.3 1259.2 L1110 1259.2 L1106.7 1255.8 L1103.3 1262.5 L1100 1259.2 L1096.7 1262.5 L1093.3 1259.2 L1090 1252.5 L1086.7 1269.2 L1083.3 1289.2 L1080 1299.2 L1076.7 1305.8 L1073.3 1325.8 L1070 1335.8 L1066.7 1329.2 L1063.3 1325.8 L1060 1349.2 L1056.7 1349.2 L1053.3 1349.2 L1050 1349.2 L1046.7 1352.5 L1043.3 1345.8 L1040 1339.2 L1036.7 1332.5 L1036.7 1305.8 L1033.3 1302.5 L1030 1295.8 L1026.7 1295.8 L1023.3 1289.2 L1020 1285.8 L1016.7 1282.5 L1013.3 1285.8 L1010 1292.5 L1006.7 1279.2 L1003.3 1279.2 L1000 1269.2 L996.7 1265.8 L993.3 1255.8 L990 1259.2 L986.7 1265.8 L983.3 1262.5 L980 1292.5 L976.7 1265.8 L973.3 1262.5 L970 1239.2 L966.7 1252.5 L963.3 1239.2 L960 1235.8 L956.7 1229.2 L953.3 1229.2 L950 1235.8 L946.7 1239.2 L943.3 1242.5 L940 1249.2 L936.7 1279.2 L933.3 1259.2 L930 1262.5 L926.7 1265.8 L923.3 1275.8 L920 1269.2 L916.7 1265.8 L913.3 1259.2 L910 1265.8 L906.7 1292.5 L903.3 1315.8 L900 1312.5 L896.7 1312.5 L893.3 1312.5 L890 1315.8 L886.7 1315.8 L883.3 1312.5 L880 1315.8 L876.7 1322.5 L873.3 1325.8 L870 1342.5 L866.7 1359.2 L863.3 1372.5 L860 1365.8 L856.7 1365.8 L853.3 1379.2 L850 1372.5 L846.7 1365.8 L843.3 1365.8 L840 1335.8 L836.7 1309.2 L833.3 1292.5 L830 1282.5 L826.7 1259.2 L823.3 1239.2 L820 1239.2 L816.7 1239.2 L813.3 1242.5 L810 1242.5 L806.7 1242.5 L803.3 1242.5 L800 1245.8 L796.7 1269.2 L793.3 1262.5 L790 1265.8 L786.7 1269.2 L783.3 1272.5 Z M1285 1237.5 L1288.3 1240.8 L1291.7 1247.5 L1295 1254.2 L1298.3 1260.8 L1301.7 1274.2 L1305 1287.5 L1308.3 1294.2 L1311.7 1294.2 L1315 1300.8 L1318.3 1294.2 L1321.7 1327.5 L1325 1340.8 L1328.3 1324.2 L1331.7 1320.8 L1335 1330.8 L1338.3 1344.2 L1341.7 1347.5 L1345 1344.2 L1348.3 1347.5 L1351.7 1340.8 L1355 1340.8 L1358.3 1337.5 L1361.7 1347.5 L1365 1354.2 L1368.3 1354.2 L1371.7 1334.2 L1375 1317.5 L1378.3 1314.2 L1381.7 1317.5 L1385 1304.2 L1388.3 1280.8 L1391.7 1257.5 L1395 1254.2 L1398.3 1250.8 L1401.7 1250.8 L1405 1247.5 L1408.3 1250.8 L1411.7 1247.5 L1415 1247.5 L1418.3 1247.5 L1421.7 1244.2 L1425 1244.2 L1428.3 1237.5 L1431.7 1217.5 L1435 1220.8 L1438.3 1224.2 L1441.7 1220.8 L1445 1217.5 L1448.3 1224.2 L1451.7 1234.2 L1455 1250.8 L1458.3 1274.2 L1461.7 1307.5 L1465 1334.2 L1468.3 1347.5 L1471.7 1350.8 L1475 1354.2 L1478.3 1334.2 L1481.7 1320.8 L1485 1334.2 L1488.3 1340.8 L1491.7 1327.5 L1495 1320.8 L1498.3 1337.5 L1501.7 1347.5 L1505 1344.2 L1508.3 1344.2 L1511.7 1334.2 L1515 1344.2 L1518.3 1347.5 L1521.7 1347.5 L1525 1314.2 L1528.3 1340.8 L1531.7 1340.8 L1535 1334.2 L1538.3 1337.5 L1541.7 1334.2 L1545 1307.5 L1548.3 1297.5 L1551.7 1270.8 L1555 1257.5 L1558.3 1257.5 L1561.7 1260.8 L1565 1264.2 L1568.3 1257.5 L1571.7 1234.2 L1575 1230.8 L1578.3 1230.8 L1581.7 1230.8 L1585 1230.8 L1588.3 1227.5 L1591.7 1230.8 L1595 1224.2 L1598.3 1227.5 L1601.7 1230.8 L1605 1230.8 L1608.3 1230.8 L1611.7 1227.5 L1615 1230.8 L1618.3 1274.2 L1621.7 1267.5 L1625 1300.8 L1628.3 1344.2 L1631.7 1340.8 L1635 1347.5 L1638.3 1347.5 L1641.7 1300.8 L1645 1304.2 L1648.3 1317.5 L1651.7 1334.2 L1655 1347.5 L1655 1365.8 L1651.7 1349.2 L1648.3 1342.5 L1645 1322.5 L1641.7 1332.5 L1638.3 1365.8 L1635 1365.8 L1631.7 1359.2 L1628.3 1359.2 L1625 1319.2 L1621.7 1292.5 L1618.3 1295.8 L1615 1252.5 L1611.7 1242.5 L1608.3 1252.5 L1605 1245.8 L1601.7 1249.2 L1598.3 1242.5 L1595 1242.5 L1591.7 1249.2 L1588.3 1245.8 L1585 1262.5 L1581.7 1245.8 L1578.3 1249.2 L1575 1249.2 L1571.7 1249.2 L1568.3 1272.5 L1565 1289.2 L1561.7 1279.2 L1558.3 1275.8 L1555 1275.8 L1551.7 1289.2 L1548.3 1312.5 L1545 1332.5 L1541.7 1359.2 L1538.3 1365.8 L1535 1372.5 L1531.7 1392.5 L1528.3 1369.2 L1525 1372.5 L1521.7 1385.8 L1518.3 1379.2 L1515 1372.5 L1511.7 1392.5 L1508.3 1369.2 L1505 1369.2 L1501.7 1372.5 L1498.3 1365.8 L1495 1345.8 L1491.7 1355.8 L1488.3 1365.8 L1485 1359.2 L1481.7 1359.2 L1478.3 1369.2 L1475 1375.8 L1471.7 1372.5 L1468.3 1379.2 L1465 1359.2 L1461.7 1332.5 L1458.3 1302.5 L1455 1269.2 L1451.7 1252.5 L1448.3 1242.5 L1445 1232.5 L1441.7 1239.2 L1438.3 1239.2 L1435 1242.5 L1431.7 1235.8 L1428.3 1252.5 L1425 1269.2 L1421.7 1259.2 L1418.3 1265.8 L1415 1262.5 L1411.7 1265.8 L1408.3 1265.8 L1405 1269.2 L1401.7 1265.8 L1398.3 1265.8 L1395 1269.2 L1391.7 1275.8 L1388.3 1302.5 L1385 1322.5 L1381.7 1335.8 L1378.3 1335.8 L1375 1339.2 L1371.7 1359.2 L1368.3 1375.8 L1365 1385.8 L1361.7 1385.8 L1358.3 1379.2 L1355 1379.2 L1351.7 1379.2 L1348.3 1385.8 L1345 1379.2 L1341.7 1382.5 L1338.3 1369.2 L1335 1359.2 L1331.7 1345.8 L1328.3 1352.5 L1325 1365.8 L1321.7 1352.5 L1318.3 1319.2 L1315 1325.8 L1311.7 1322.5 L1308.3 1319.2 L1305 1342.5 L1301.7 1299.2 L1298.3 1282.5 L1295 1272.5 L1291.7 1265.8 L1288.3 1262.5 L1285 1252.5 Z M1726.7 1230.8 L1730 1234.2 L1733.3 1234.2 L1736.7 1220.8 L1740 1214.2 L1743.3 1214.2 L1746.7 1217.5 L1750 1217.5 L1753.3 1210.8 L1756.7 1210.8 L1760 1217.5 L1763.3 1220.8 L1766.7 1224.2 L1770 1227.5 L1773.3 1224.2 L1776.7 1237.5 L1780 1244.2 L1783.3 1247.5 L1786.7 1254.2 L1790 1274.2 L1793.3 1260.8 L1796.7 1280.8 L1800 1314.2 L1803.3 1327.5 L1806.7 1327.5 L1810 1347.5 L1813.3 1317.5 L1816.7 1337.5 L1820 1324.2 L1823.3 1317.5 L1826.7 1320.8 L1830 1320.8 L1833.3 1307.5 L1836.7 1307.5 L1840 1317.5 L1843.3 1314.2 L1846.7 1310.8 L1850 1320.8 L1853.3 1327.5 L1856.7 1274.2 L1860 1267.5 L1863.3 1250.8 L1866.7 1260.8 L1870 1260.8 L1873.3 1244.2 L1876.7 1237.5 L1880 1227.5 L1883.3 1230.8 L1886.7 1237.5 L1890 1244.2 L1893.3 1247.5 L1896.7 1247.5 L1900 1247.5 L1903.3 1254.2 L1906.7 1257.5 L1910 1254.2 L1913.3 1257.5 L1916.7 1267.5 L1920 1280.8 L1920 1299.2 L1916.7 1282.5 L1913.3 1272.5 L1910 1269.2 L1906.7 1272.5 L1903.3 1269.2 L1900 1262.5 L1896.7 1262.5 L1893.3 1259.2 L1890 1255.8 L1886.7 1252.5 L1883.3 1245.8 L1880 1242.5 L1876.7 1252.5 L1873.3 1259.2 L1870 1272.5 L1866.7 1279.2 L1863.3 1272.5 L1860 1279.2 L1856.7 1295.8 L1853.3 1342.5 L1850 1335.8 L1846.7 1322.5 L1843.3 1332.5 L1840 1332.5 L1836.7 1322.5 L1833.3 1325.8 L1830 1339.2 L1826.7 1355.8 L1823.3 1345.8 L1820 1349.2 L1816.7 1359.2 L1813.3 1359.2 L1810 1439.2 L1806.7 1419.2 L1803.3 1352.5 L1800 1345.8 L1796.7 1299.2 L1793.3 1292.5 L1790 1302.5 L1786.7 1275.8 L1783.3 1265.8 L1780 1269.2 L1776.7 1262.5 L1773.3 1242.5 L1770 1249.2 L1766.7 1242.5 L1763.3 1239.2 L1760 1235.8 L1756.7 1229.2 L1753.3 1225.8 L1750 1245.8 L1746.7 1232.5 L1743.3 1229.2 L1740 1229.2 L1736.7 1242.5 L1733.3 1249.2 L1730 1252.5 L1726.7 1249.2 Z M1993.3 1287.5 L1996.7 1280.8 L2000 1280.8 L2003.3 1277.5 L2006.7 1274.2 L2010 1264.2 L2013.3 1267.5 L2016.7 1284.2 L2020 1287.5 L2023.3 1290.8 L2026.7 1287.5 L2030 1267.5 L2033.3 1254.2 L2036.7 1260.8 L2040 1247.5 L2043.3 1244.2 L2046.7 1237.5 L2050 1234.2 L2053.3 1234.2 L2056.7 1234.2 L2060 1234.2 L2063.3 1224.2 L2066.7 1234.2 L2070 1234.2 L2073.3 1224.2 L2076.7 1234.2 L2080 1244.2 L2083.3 1247.5 L2086.7 1254.2 L2090 1260.8 L2093.3 1264.2 L2096.7 1267.5 L2100 1274.2 L2103.3 1290.8 L2106.7 1297.5 L2110 1304.2 L2113.3 1310.8 L2116.7 1314.2 L2120 1330.8 L2123.3 1354.2 L2126.7 1370.8 L2130 1360.8 L2133.3 1337.5 L2136.7 1337.5 L2140 1334.2 L2143.3 1324.2 L2146.7 1294.2 L2150 1304.2 L2153.3 1320.8 L2156.7 1327.5 L2160 1287.5 L2163.3 1260.8 L2166.7 1250.8 L2170 1250.8 L2173.3 1250.8 L2176.7 1247.5 L2180 1247.5 L2183.3 1237.5 L2186.7 1237.5 L2190 1240.8 L2193.3 1244.2 L2196.7 1240.8 L2200 1247.5 L2203.3 1250.8 L2206.7 1240.8 L2210 1244.2 L2213.3 1247.5 L2216.7 1250.8 L2220 1254.2 L2223.3 1254.2 L2226.7 1244.2 L2230 1244.2 L2233.3 1247.5 L2236.7 1257.5 L2240 1267.5 L2243.3 1270.8 L2246.7 1290.8 L2250 1300.8 L2253.3 1327.5 L2256.7 1354.2 L2260 1374.2 L2263.3 1390.8 L2266.7 1390.8 L2270 1387.5 L2273.3 1357.5 L2276.7 1394.2 L2280 1394.2 L2283.3 1404.2 L2286.7 1380.8 L2290 1374.2 L2293.3 1354.2 L2296.7 1350.8 L2300 1310.8 L2303.3 1287.5 L2306.7 1300.8 L2310 1304.2 L2313.3 1314.2 L2316.7 1307.5 L2320 1287.5 L2323.3 1287.5 L2326.7 1300.8 L2330 1310.8 L2333.3 1310.8 L2336.7 1320.8 L2340 1317.5 L2343.3 1300.8 L2346.7 1290.8 L2350 1284.2 L2353.3 1280.8 L2356.7 1267.5 L2360 1260.8 L2363.3 1260.8 L2366.7 1260.8 L2370 1254.2 L2373.3 1237.5 L2376.7 1234.2 L2380 1230.8 L2383.3 1234.2 L2386.7 1234.2 L2390 1234.2 L2390 1249.2 L2386.7 1249.2 L2383.3 1249.2 L2380 1249.2 L2376.7 1252.5 L2373.3 1262.5 L2370 1272.5 L2366.7 1275.8 L2363.3 1275.8 L2360 1275.8 L2356.7 1285.8 L2353.3 1295.8 L2350 1299.2 L2346.7 1305.8 L2343.3 1319.2 L2340 1332.5 L2336.7 1339.2 L2333.3 1325.8 L2330 1325.8 L2326.7 1319.2 L2323.3 1305.8 L2320 1305.8 L2316.7 1339.2 L2313.3 1365.8 L2310 1339.2 L2306.7 1332.5 L2303.3 1319.2 L2300 1352.5 L2296.7 1365.8 L2293.3 1372.5 L2290 1399.2 L2286.7 1419.2 L2283.3 1442.5 L2280 1442.5 L2276.7 1425.8 L2273.3 1415.8 L2270 1405.8 L2266.7 1405.8 L2263.3 1409.2 L2260 1399.2 L2256.7 1379.2 L2253.3 1359.2 L2250 1322.5 L2246.7 1305.8 L2243.3 1292.5 L2240 1289.2 L2236.7 1275.8 L2233.3 1259.2 L2230 1255.8 L2226.7 1259.2 L2223.3 1265.8 L2220 1265.8 L2216.7 1262.5 L2213.3 1259.2 L2210 1259.2 L2206.7 1255.8 L2203.3 1269.2 L2200 1265.8 L2196.7 1262.5 L2193.3 1262.5 L2190 1259.2 L2186.7 1255.8 L2183.3 1255.8 L2180 1262.5 L2176.7 1265.8 L2173.3 1265.8 L2170 1265.8 L2166.7 1269.2 L2163.3 1279.2 L2160 1325.8 L2156.7 1352.5 L2153.3 1345.8 L2150 1332.5 L2146.7 1325.8 L2143.3 1342.5 L2140 1349.2 L2136.7 1359.2 L2133.3 1359.2 L2130 1382.5 L2126.7 1385.8 L2123.3 1379.2 L2120 1352.5 L2116.7 1332.5 L2113.3 1325.8 L2110 1319.2 L2106.7 1312.5 L2103.3 1309.2 L2100 1292.5 L2096.7 1285.8 L2093.3 1279.2 L2090 1279.2 L2086.7 1269.2 L2083.3 1265.8 L2080 1259.2 L2076.7 1252.5 L2073.3 1245.8 L2070 1249.2 L2066.7 1249.2 L2063.3 1242.5 L2060 1249.2 L2056.7 1252.5 L2053.3 1249.2 L2050 1249.2 L2046.7 1252.5 L2043.3 1259.2 L2040 1262.5 L2036.7 1272.5 L2033.3 1272.5 L2030 1282.5 L2026.7 1305.8 L2023.3 1305.8 L2020 1302.5 L2016.7 1295.8 L2013.3 1285.8 L2010 1282.5 L2006.7 1289.2 L2003.3 1302.5 L2000 1305.8 L1996.7 1299.2 L1993.3 1302.5 Z M2398.3 1234.2 L2401.7 1237.5 L2405 1237.5 L2408.3 1237.5 L2411.7 1240.8 L2414 1250.8 L2414 1262.5 L2411.7 1262.5 L2408.3 1252.5 L2405 1252.5 L2401.7 1255.8 L2398.3 1249.2 Z M2416.7 1269.2 L2420 1269.2 L2420 1279.2 L2416.7 1279.2 Z M2448.3 1347.5 L2451.7 1334.2 L2455 1327.5 L2458.3 1304.2 L2461.7 1267.5 L2465 1280.8 L2468.3 1304.2 L2471.7 1317.5 L2475 1314.2 L2478.3 1317.5 L2481.7 1334.2 L2485 1334.2 L2488.3 1334.2 L2491.7 1310.8 L2495 1297.5 L2498.3 1287.5 L2501.7 1257.5 L2505 1237.5 L2508.3 1234.2 L2511.7 1227.5 L2515 1220.8 L2518.3 1220.8 L2521.7 1220.8 L2525 1224.2 L2528.3 1230.8 L2531.7 1234.2 L2535 1237.5 L2538.3 1240.8 L2541.7 1224.2 L2545 1230.8 L2548.3 1230.8 L2551.7 1234.2 L2555 1247.5 L2558.3 1250.8 L2561.7 1274.2 L2565 1287.5 L2568.3 1287.5 L2571.7 1297.5 L2575 1300.8 L2578.3 1290.8 L2581.7 1294.2 L2585 1307.5 L2588.3 1314.2 L2591.7 1320.8 L2595 1337.5 L2598.3 1334.2 L2601.7 1327.5 L2605 1337.5 L2608.3 1347.5 L2611.7 1354.2 L2615 1360.8 L2618.3 1357.5 L2621.7 1334.2 L2625 1360.8 L2628.3 1350.8 L2631.7 1340.8 L2635 1330.8 L2638.3 1307.5 L2641.7 1277.5 L2645 1277.5 L2648.3 1267.5 L2651.7 1257.5 L2655 1250.8 L2658.3 1237.5 L2661.7 1230.8 L2665 1234.2 L2668.3 1234.2 L2671.7 1234.2 L2675 1237.5 L2678.3 1244.2 L2678.3 1255.8 L2675 1252.5 L2671.7 1249.2 L2668.3 1252.5 L2665 1252.5 L2661.7 1245.8 L2658.3 1259.2 L2655 1265.8 L2651.7 1275.8 L2648.3 1285.8 L2645 1299.2 L2641.7 1305.8 L2638.3 1339.2 L2635 1352.5 L2631.7 1369.2 L2628.3 1385.8 L2625 1399.2 L2621.7 1379.2 L2618.3 1375.8 L2615 1382.5 L2611.7 1382.5 L2608.3 1369.2 L2605 1359.2 L2601.7 1349.2 L2598.3 1352.5 L2595 1352.5 L2591.7 1349.2 L2588.3 1339.2 L2585 1325.8 L2581.7 1319.2 L2578.3 1312.5 L2575 1319.2 L2571.7 1315.8 L2568.3 1305.8 L2565 1309.2 L2561.7 1292.5 L2558.3 1269.2 L2555 1265.8 L2551.7 1252.5 L2548.3 1249.2 L2545 1245.8 L2541.7 1245.8 L2538.3 1269.2 L2535 1252.5 L2531.7 1249.2 L2528.3 1245.8 L2525 1239.2 L2521.7 1235.8 L2518.3 1232.5 L2515 1232.5 L2511.7 1245.8 L2508.3 1252.5 L2505 1262.5 L2501.7 1285.8 L2498.3 1305.8 L2495 1315.8 L2491.7 1329.2 L2488.3 1349.2 L2485 1372.5 L2481.7 1355.8 L2478.3 1339.2 L2475 1332.5 L2471.7 1335.8 L2468.3 1325.8 L2465 1302.5 L2461.7 1295.8 L2458.3 1332.5 L2455 1359.2 L2451.7 1362.5 L2448.3 1365.8 Z M2718.3 1220.8 L2721.7 1230.8 L2725 1244.2 L2728.3 1250.8 L2731.7 1257.5 L2735 1277.5 L2738.3 1294.2 L2741.7 1314.2 L2745 1320.8 L2748.3 1330.8 L2751.7 1340.8 L2755 1360.8 L2758.3 1344.2 L2761.7 1300.8 L2765 1287.5 L2768.3 1280.8 L2771.7 1287.5 L2775 1294.2 L2778.3 1310.8 L2781.7 1337.5 L2785 1340.8 L2788.3 1344.2 L2791.7 1347.5 L2795 1344.2 L2798.3 1327.5 L2798.3 1355.8 L2795 1362.5 L2791.7 1365.8 L2788.3 1359.2 L2785 1355.8 L2781.7 1352.5 L2778.3 1339.2 L2775 1312.5 L2771.7 1302.5 L2768.3 1299.2 L2765 1309.2 L2761.7 1329.2 L2758.3 1365.8 L2755 1382.5 L2751.7 1379.2 L2748.3 1352.5 L2745 1339.2 L2741.7 1332.5 L2738.3 1312.5 L2735 1299.2 L2731.7 1275.8 L2728.3 1269.2 L2725 1259.2 L2721.7 1249.2 L2718.3 1235.8 Z M2801.7 1277.5 L2805 1250.8 L2808.3 1244.2 L2811.7 1240.8 L2815 1237.5 L2818.3 1237.5 L2821.7 1240.8 L2825 1220.8 L2828.3 1220.8 L2831.7 1220.8 L2835 1224.2 L2838.3 1227.5 L2841.7 1227.5 L2845 1227.5 L2848.3 1227.5 L2851.7 1227.5 L2855 1224.2 L2858.3 1220.8 L2861.7 1220.8 L2865 1227.5 L2868.3 1237.5 L2871.7 1244.2 L2875 1244.2 L2878.3 1240.8 L2881.7 1267.5 L2885 1287.5 L2888.3 1294.2 L2891.7 1297.5 L2895 1300.8 L2898.3 1297.5 L2901.7 1294.2 L2901.7 1309.2 L2898.3 1322.5 L2895 1322.5 L2891.7 1319.2 L2888.3 1315.8 L2885 1309.2 L2881.7 1292.5 L2878.3 1262.5 L2875 1265.8 L2871.7 1262.5 L2868.3 1259.2 L2865 1245.8 L2861.7 1235.8 L2858.3 1235.8 L2855 1239.2 L2851.7 1245.8 L2848.3 1242.5 L2845 1239.2 L2841.7 1239.2 L2838.3 1239.2 L2835 1235.8 L2831.7 1232.5 L2828.3 1232.5 L2825 1239.2 L2821.7 1259.2 L2818.3 1252.5 L2815 1255.8 L2811.7 1259.2 L2808.3 1262.5 L2805 1272.5 L2801.7 1289.2 Z" fill="#cadcf0" stroke="#cadcf0" stroke-width="2" stroke-linejoin="round"/>
<path d="M353.3 1257 L356.7 1255.2 L360 1275.9 L363.3 1295.9 L366.7 1331.8 L370 1340.4 L373.3 1327.8 L376.7 1303.7 L380 1322.6 L383.3 1329.2 L386.7 1349.2 L390 1356.6 L393.3 1354 L396.7 1356.6 L400 1355.9 L403.3 1353.3 L406.7 1349.2 L410 1348.5 L413.3 1341.4 L416.7 1344.8 L420 1327 L423.3 1329.9 L426.7 1337 L430 1330.7 L433.3 1309.2 L436.7 1303.3 L440 1285.2 L443.3 1277.8 L446.7 1274 L450 1287.8 L453.3 1298.5 L456.7 1281.1 L460 1270.4 L463.3 1261.1 L466.7 1254.4 L470 1237 L473.3 1231.1 L476.7 1227.8 L480 1227.8 L483.3 1224.4 L486.7 1221.1 L490 1221.1 L493.3 1224.4 L496.7 1231.1 L500 1242.9 L503.3 1242.6 L506.7 1242.6 L510 1254 L513.3 1256.6 L516.7 1285.9 L520 1301.1 L523.3 1305.2 L526.7 1308.5 L530 1322.6 L533.3 1342.6 L536.7 1362.6 L540 1371.1 L543.3 1368.5 L546.7 1363.3 L550 1365.9 L553.3 1353.3 L556.7 1325.2 L560 1325.9 L563.3 1332.6 L566.7 1323.3 L570 1321.4 L573.3 1347 L576.7 1355.9 L580 1362.6 L583.3 1358.1 L586.7 1351.8 L590 1348.5 L590 1354.8 L586.7 1358.2 L583.3 1371.9 L580 1370.8 L576.7 1364.1 L573.3 1349.6 L570 1335.2 L566.7 1333.4 L563.3 1340.8 L560 1334.1 L556.7 1331.5 L553.3 1363.4 L550 1374.1 L546.7 1373.4 L543.3 1374.8 L540 1375.6 L536.7 1370.8 L533.3 1350.8 L530 1330.8 L526.7 1314.8 L523.3 1311.5 L520 1305.6 L516.7 1294.1 L513.3 1266.7 L510 1266 L506.7 1250.8 L503.3 1250.8 L500 1260.4 L496.7 1235.6 L493.3 1228.9 L490 1225.6 L486.7 1225.6 L483.3 1228.9 L480 1232.2 L476.7 1232.2 L473.3 1235.6 L470 1239.6 L466.7 1258.9 L463.3 1265.6 L460 1273 L456.7 1285.6 L453.3 1304.8 L450 1292.2 L446.7 1286 L443.3 1282.2 L440 1291.5 L436.7 1313.4 L433.3 1317.4 L430 1342.6 L426.7 1356.4 L423.3 1356.8 L420 1346.4 L416.7 1358.6 L413.3 1355.2 L410 1354.8 L406.7 1357.4 L403.3 1363.4 L400 1364.1 L396.7 1366.7 L393.3 1366 L390 1366.7 L386.7 1357.4 L383.3 1337.4 L380 1330.8 L376.7 1306.3 L373.3 1332.2 L370 1343 L366.7 1338.2 L363.3 1304.1 L360 1284.1 L356.7 1261.5 L353.3 1259.6 Z M591.7 1304.4 L595 1300.4 L598.3 1281.1 L601.7 1274.4 L605 1271.1 L608.3 1271.1 L611.7 1267.8 L615 1264.4 L618.3 1261.1 L621.7 1257.8 L625 1257 L628.3 1259.6 L631.7 1251.1 L635 1242.6 L638.3 1247.8 L641.7 1244.4 L645 1238.5 L648.3 1232.6 L651.7 1235.2 L655 1237.8 L657.3 1240.4 L657.3 1243 L655 1242.2 L651.7 1241.5 L648.3 1240.8 L645 1244.8 L641.7 1248.9 L638.3 1252.2 L635 1250.8 L631.7 1255.6 L628.3 1260.4 L625 1259.6 L621.7 1262.2 L618.3 1265.6 L615 1268.9 L611.7 1272.2 L608.3 1275.6 L605 1275.6 L601.7 1278.9 L598.3 1285.6 L595 1303 L591.7 1308.9 Z M682.7 1284.4 L686 1321.4 L689.3 1302.6 L692.7 1290.4 L696 1295.2 L699.3 1309.2 L702.7 1315.9 L706 1333.3 L709.3 1309.6 L712.7 1335.2 L716 1338.5 L719.3 1347 L722.7 1322.6 L726 1300.3 L729.3 1317.4 L732.7 1332.2 L736 1324 L739.3 1355.9 L742.7 1344.8 L746 1345.2 L749.3 1335.2 L752.7 1321.1 L756 1307.8 L759.3 1287.8 L761.7 1283 L761.7 1283.7 L759.3 1292.2 L756 1312.2 L752.7 1325.6 L749.3 1341.5 L746 1351.5 L742.7 1358.6 L739.3 1364.1 L736 1336 L732.7 1347.8 L729.3 1329.3 L726 1319.7 L722.7 1330.8 L719.3 1349.6 L716 1344.8 L712.7 1341.5 L709.3 1327.1 L706 1343.4 L702.7 1324.1 L699.3 1317.4 L696 1301.5 L692.7 1293 L689.3 1310.8 L686 1335.2 L682.7 1288.9 Z M766.7 1264.4 L770 1269.6 L770 1270.4 L766.7 1268.9 Z M783.3 1266.3 L786.7 1260.4 L790 1257 L793.3 1251.1 L796.7 1255.2 L800 1231.8 L803.3 1228.5 L806.7 1231.1 L810 1228.5 L813.3 1228.5 L816.7 1230.4 L820 1230.4 L823.3 1227.8 L826.7 1247.8 L830 1268.5 L833.3 1281.1 L836.7 1300.4 L840 1321.8 L843.3 1354.4 L846.7 1354.4 L850 1358.5 L853.3 1362.6 L856.7 1346.6 L860 1351.8 L863.3 1350.7 L866.7 1345.2 L870 1328.5 L873.3 1311.8 L876.7 1313.7 L880 1301.8 L883.3 1285.5 L886.7 1299.2 L890 1301.8 L893.3 1295.9 L896.7 1298.5 L900 1293.3 L903.3 1301.8 L906.7 1278.5 L910 1251.8 L913.3 1250.4 L916.7 1254.4 L920 1257.8 L923.3 1264.4 L926.7 1254.4 L930 1251.1 L933.3 1247.8 L936.7 1270.4 L940 1240.4 L943.3 1233.7 L946.7 1230.4 L950 1227 L953.3 1220.4 L956.7 1217.8 L960 1227 L963.3 1230.4 L966.7 1238.5 L970 1227.8 L973.3 1248.5 L976.7 1254.4 L980 1260.3 L983.3 1248.5 L986.7 1251.8 L990 1245.2 L993.3 1241.8 L996.7 1254.4 L1000 1255.2 L1003.3 1265.2 L1006.7 1267.8 L1010 1270.7 L1013.3 1274.4 L1016.7 1271.1 L1020 1274.4 L1023.3 1277.8 L1026.7 1284.4 L1030 1284.4 L1033.3 1288.5 L1036.7 1291.8 L1036.7 1310.7 L1040 1322.6 L1043.3 1329.2 L1046.7 1335.9 L1050 1324.8 L1053.3 1327.4 L1056.7 1335.2 L1060 1335.2 L1063.3 1306.6 L1066.7 1310 L1070 1321.8 L1073.3 1311.8 L1076.7 1294.4 L1080 1290.4 L1083.3 1272.6 L1086.7 1250 L1090 1241.1 L1093.3 1250.4 L1096.7 1251.1 L1100 1250.4 L1103.3 1251.1 L1106.7 1247 L1110 1247.8 L1113.3 1250.4 L1116.7 1250.4 L1120 1247.8 L1123.3 1244.4 L1126.7 1238.5 L1130 1243.7 L1133.3 1254 L1136.7 1252.6 L1140 1265.2 L1143.3 1295.9 L1146.7 1317.4 L1150 1324.8 L1153.3 1315.9 L1156.7 1342.6 L1160 1348.5 L1163.3 1361.1 L1166.7 1371.8 L1170 1364 L1173.3 1342.6 L1176.7 1318.5 L1180 1340 L1183.3 1346.2 L1186.7 1348.1 L1190 1351.4 L1193.3 1351.4 L1196.7 1337.4 L1200 1322.6 L1203.3 1295.9 L1206.7 1304 L1210 1337.4 L1213.3 1347.8 L1216.7 1322.6 L1220 1311.1 L1223.3 1281.1 L1226.7 1280.4 L1230 1263.7 L1233.3 1257 L1236.7 1257 L1240 1250.4 L1243.3 1243.7 L1246.7 1234.4 L1250 1234.4 L1253.3 1231.1 L1256.7 1234.4 L1260 1241.1 L1263.3 1244.4 L1266.7 1247 L1270 1246.3 L1273.3 1253 L1273.3 1253.7 L1270 1247 L1266.7 1249.6 L1263.3 1248.9 L1260 1245.6 L1256.7 1238.9 L1253.3 1235.6 L1250 1238.9 L1246.7 1238.9 L1243.3 1246.3 L1240 1253 L1236.7 1259.6 L1233.3 1259.6 L1230 1266.3 L1226.7 1283 L1223.3 1285.6 L1220 1315.6 L1216.7 1330.8 L1213.3 1352.2 L1210 1349.3 L1206.7 1316 L1203.3 1304.1 L1200 1330.8 L1196.7 1349.3 L1193.3 1365.2 L1190 1365.2 L1186.7 1361.9 L1183.3 1363.8 L1180 1350 L1176.7 1324.8 L1173.3 1350.8 L1170 1376 L1166.7 1378.2 L1163.3 1365.6 L1160 1354.8 L1156.7 1350.8 L1153.3 1324.1 L1150 1338.6 L1146.7 1329.3 L1143.3 1304.1 L1140 1271.5 L1136.7 1260.8 L1133.3 1266 L1130 1246.3 L1126.7 1244.8 L1123.3 1248.9 L1120 1252.2 L1116.7 1253 L1113.3 1253 L1110 1252.2 L1106.7 1249.6 L1103.3 1255.6 L1100 1253 L1096.7 1255.6 L1093.3 1253 L1090 1245.6 L1086.7 1260 L1083.3 1280.8 L1080 1293 L1076.7 1298.9 L1073.3 1318.2 L1070 1328.2 L1066.7 1320 L1063.3 1316.7 L1060 1341.5 L1056.7 1341.5 L1053.3 1339.3 L1050 1338.6 L1046.7 1344.1 L1043.3 1337.4 L1040 1330.8 L1036.7 1322.6 L1036.7 1298.2 L1033.3 1294.8 L1030 1288.9 L1026.7 1288.9 L1023.3 1282.2 L1020 1278.9 L1016.7 1275.6 L1013.3 1278.9 L1010 1282.6 L1006.7 1272.2 L1003.3 1271.5 L1000 1261.5 L996.7 1258.9 L993.3 1248.2 L990 1251.5 L986.7 1258.2 L983.3 1254.8 L980 1279.7 L976.7 1258.9 L973.3 1254.8 L970 1232.2 L966.7 1244.8 L963.3 1233 L960 1229.6 L956.7 1222.2 L953.3 1223 L950 1229.6 L946.7 1233 L943.3 1236.3 L940 1243 L936.7 1273 L933.3 1252.2 L930 1255.6 L926.7 1258.9 L923.3 1268.9 L920 1262.2 L916.7 1258.9 L913.3 1253 L910 1258.2 L906.7 1284.8 L903.3 1308.2 L900 1303.4 L896.7 1304.8 L893.3 1304.1 L890 1308.2 L886.7 1307.4 L883.3 1301.2 L880 1308.2 L876.7 1316.3 L873.3 1318.2 L870 1334.8 L866.7 1351.5 L863.3 1362.6 L860 1358.2 L856.7 1356.7 L853.3 1370.8 L850 1364.8 L846.7 1358.9 L843.3 1358.9 L840 1328.2 L836.7 1303 L833.3 1285.6 L830 1274.8 L826.7 1252.2 L823.3 1232.2 L820 1233 L816.7 1233 L813.3 1234.8 L810 1234.8 L806.7 1235.6 L803.3 1234.8 L800 1238.2 L796.7 1261.5 L793.3 1255.6 L790 1259.6 L786.7 1263 L783.3 1267 Z M1285 1243.7 L1288.3 1248.5 L1291.7 1254.4 L1295 1261.1 L1298.3 1268.5 L1301.7 1282.6 L1305 1302.5 L1308.3 1302.6 L1311.7 1303.3 L1315 1309.2 L1318.3 1302.6 L1321.7 1335.9 L1325 1349.2 L1328.3 1333.3 L1331.7 1329.2 L1335 1340 L1338.3 1352.6 L1341.7 1358.1 L1345 1354.8 L1348.3 1358.8 L1351.7 1352.2 L1355 1352.2 L1358.3 1349.6 L1361.7 1358.8 L1365 1364 L1368.3 1361.8 L1371.7 1342.6 L1375 1325.2 L1378.3 1321.8 L1381.7 1324.4 L1385 1311.1 L1388.3 1288.5 L1391.7 1264.4 L1395 1260.4 L1398.3 1257 L1401.7 1257 L1405 1255.2 L1408.3 1257 L1411.7 1254.4 L1415 1253.7 L1418.3 1254.4 L1421.7 1250.4 L1425 1252.6 L1428.3 1243.7 L1431.7 1224.4 L1435 1228.5 L1438.3 1230.4 L1441.7 1227.8 L1445 1223.7 L1448.3 1231.1 L1451.7 1241.1 L1455 1257.8 L1458.3 1283.3 L1461.7 1315.9 L1465 1342.6 L1468.3 1357.4 L1471.7 1358.5 L1475 1361.8 L1478.3 1344.8 L1481.7 1332.2 L1485 1342.6 L1488.3 1349.2 L1491.7 1336.6 L1495 1329.2 L1498.3 1346.6 L1501.7 1355.9 L1505 1352.6 L1508.3 1352.6 L1511.7 1349.9 L1515 1353.3 L1518.3 1357.4 L1521.7 1358.8 L1525 1329.9 L1528.3 1350 L1531.7 1355.1 L1535 1345.5 L1538.3 1346.6 L1541.7 1342.6 L1545 1315.9 L1548.3 1303.7 L1551.7 1277.8 L1555 1264.4 L1558.3 1264.4 L1561.7 1267.8 L1565 1272.6 L1568.3 1263.7 L1571.7 1240.4 L1575 1237.8 L1578.3 1237.8 L1581.7 1237 L1585 1240.7 L1588.3 1234.4 L1591.7 1237.8 L1595 1231.1 L1598.3 1233.7 L1601.7 1237.8 L1605 1237 L1608.3 1238.5 L1611.7 1233.7 L1615 1238.5 L1618.3 1281.8 L1621.7 1275.9 L1625 1307.8 L1628.3 1350.4 L1631.7 1347.8 L1635 1354.4 L1638.3 1354.4 L1641.7 1310.7 L1645 1311.1 L1648.3 1325.9 L1651.7 1340.4 L1655 1354.4 L1655 1358.9 L1651.7 1343 L1648.3 1334.1 L1645 1315.6 L1641.7 1322.6 L1638.3 1358.9 L1635 1358.9 L1631.7 1352.2 L1628.3 1353 L1625 1312.2 L1621.7 1284.1 L1618.3 1288.2 L1615 1244.8 L1611.7 1236.3 L1608.3 1244.8 L1605 1239.6 L1601.7 1242.2 L1598.3 1236.3 L1595 1235.6 L1591.7 1242.2 L1588.3 1238.9 L1585 1252.6 L1581.7 1239.6 L1578.3 1242.2 L1575 1242.2 L1571.7 1243 L1568.3 1266.3 L1565 1280.8 L1561.7 1272.2 L1558.3 1268.9 L1555 1268.9 L1551.7 1282.2 L1548.3 1306.3 L1545 1324.1 L1541.7 1350.8 L1538.3 1356.7 L1535 1361.2 L1531.7 1378.2 L1528.3 1360 L1525 1356.8 L1521.7 1374.5 L1518.3 1369.3 L1515 1363.4 L1511.7 1376.8 L1508.3 1360.8 L1505 1360.8 L1501.7 1364.1 L1498.3 1356.7 L1495 1337.4 L1491.7 1346.7 L1488.3 1357.4 L1485 1350.8 L1481.7 1347.8 L1478.3 1358.6 L1475 1368.2 L1471.7 1364.8 L1468.3 1369.3 L1465 1350.8 L1461.7 1324.1 L1458.3 1293.4 L1455 1262.2 L1451.7 1245.6 L1448.3 1235.6 L1445 1226.3 L1441.7 1232.2 L1438.3 1233 L1435 1234.8 L1431.7 1228.9 L1428.3 1246.3 L1425 1260.8 L1421.7 1253 L1418.3 1258.9 L1415 1256.3 L1411.7 1258.9 L1408.3 1259.6 L1405 1261.5 L1401.7 1259.6 L1398.3 1259.6 L1395 1263 L1391.7 1268.9 L1388.3 1294.8 L1385 1315.6 L1381.7 1328.9 L1378.3 1328.2 L1375 1331.5 L1371.7 1350.8 L1368.3 1368.2 L1365 1376 L1361.7 1374.5 L1358.3 1367.1 L1355 1367.8 L1351.7 1367.8 L1348.3 1374.5 L1345 1368.6 L1341.7 1371.9 L1338.3 1360.8 L1335 1350 L1331.7 1337.4 L1328.3 1343.4 L1325 1357.4 L1321.7 1344.1 L1318.3 1310.8 L1315 1317.4 L1311.7 1313.4 L1308.3 1310.8 L1305 1327.5 L1301.7 1290.8 L1298.3 1274.8 L1295 1265.6 L1291.7 1258.9 L1288.3 1254.8 L1285 1246.3 Z M1726.7 1237.8 L1730 1241.1 L1733.3 1240.4 L1736.7 1228.5 L1740 1220.4 L1743.3 1220.4 L1746.7 1223.7 L1750 1226.6 L1753.3 1217 L1756.7 1217.8 L1760 1224.4 L1763.3 1227.8 L1766.7 1231.1 L1770 1235.2 L1773.3 1231.1 L1776.7 1245.9 L1780 1252.6 L1783.3 1254.4 L1786.7 1261.8 L1790 1283.3 L1793.3 1270.7 L1796.7 1287.8 L1800 1324 L1803.3 1335.9 L1806.7 1350.6 L1810 1370.6 L1813.3 1329.6 L1816.7 1345.2 L1820 1332.6 L1823.3 1326.6 L1826.7 1331.4 L1830 1327.8 L1833.3 1314.4 L1836.7 1313.7 L1840 1323.7 L1843.3 1321.1 L1846.7 1316.3 L1850 1327 L1853.3 1333.7 L1856.7 1281.8 L1860 1273 L1863.3 1258.5 L1866.7 1267.8 L1870 1266.3 L1873.3 1250.4 L1876.7 1243.7 L1880 1233.7 L1883.3 1237 L1886.7 1243.7 L1890 1249.6 L1893.3 1253 L1896.7 1253.7 L1900 1253.7 L1903.3 1260.4 L1906.7 1263.7 L1910 1260.4 L1913.3 1263.7 L1916.7 1273.7 L1920 1287.8 L1920 1292.2 L1916.7 1276.3 L1913.3 1266.3 L1910 1263 L1906.7 1266.3 L1903.3 1263 L1900 1256.3 L1896.7 1256.3 L1893.3 1253.7 L1890 1250.4 L1886.7 1246.3 L1883.3 1239.6 L1880 1236.3 L1876.7 1246.3 L1873.3 1253 L1870 1267 L1866.7 1272.2 L1863.3 1264.8 L1860 1273.7 L1856.7 1288.2 L1853.3 1336.3 L1850 1329.6 L1846.7 1317 L1843.3 1325.6 L1840 1326.3 L1836.7 1316.3 L1833.3 1318.9 L1830 1332.2 L1826.7 1345.2 L1823.3 1336.7 L1820 1340.8 L1816.7 1351.5 L1813.3 1347.1 L1810 1416.1 L1806.7 1396.1 L1803.3 1344.1 L1800 1336 L1796.7 1292.2 L1793.3 1282.6 L1790 1293.4 L1786.7 1268.2 L1783.3 1258.9 L1780 1260.8 L1776.7 1254.1 L1773.3 1235.6 L1770 1241.5 L1766.7 1235.6 L1763.3 1232.2 L1760 1228.9 L1756.7 1222.2 L1753.3 1219.6 L1750 1236.7 L1746.7 1226.3 L1743.3 1223 L1740 1223 L1736.7 1234.8 L1733.3 1243 L1730 1245.6 L1726.7 1242.2 Z M1993.3 1293.7 L1996.7 1287.8 L2000 1289.2 L2003.3 1285.9 L2006.7 1280.4 L2010 1271.1 L2013.3 1274.4 L2016.7 1289.6 L2020 1293.7 L2023.3 1297 L2026.7 1294.4 L2030 1273.7 L2033.3 1261.1 L2036.7 1266.3 L2040 1253.7 L2043.3 1250.4 L2046.7 1243.7 L2050 1240.4 L2053.3 1240.4 L2056.7 1241.1 L2060 1240.4 L2063.3 1231.1 L2066.7 1240.4 L2070 1240.4 L2073.3 1231.8 L2076.7 1241.1 L2080 1250.4 L2083.3 1254.4 L2086.7 1260.4 L2090 1267.8 L2093.3 1270.4 L2096.7 1274.4 L2100 1281.1 L2103.3 1297.8 L2106.7 1303.7 L2110 1310.4 L2113.3 1317 L2116.7 1321.1 L2120 1338.5 L2123.3 1362.6 L2126.7 1377 L2130 1368.5 L2133.3 1345.2 L2136.7 1345.2 L2140 1340.4 L2143.3 1331.1 L2146.7 1304 L2150 1313.3 L2153.3 1329.2 L2156.7 1335.9 L2160 1298.8 L2163.3 1267.8 L2166.7 1257.8 L2170 1257 L2173.3 1257 L2176.7 1254.4 L2180 1253.7 L2183.3 1244.4 L2186.7 1244.4 L2190 1247.8 L2193.3 1251.1 L2196.7 1248.5 L2200 1254.4 L2203.3 1257.8 L2206.7 1247 L2210 1250.4 L2213.3 1253 L2216.7 1256.3 L2220 1259.6 L2223.3 1259.6 L2226.7 1250.4 L2230 1249.6 L2233.3 1253 L2236.7 1264.4 L2240 1275.2 L2243.3 1278.5 L2246.7 1297 L2250 1308.5 L2253.3 1337.4 L2256.7 1362.6 L2260 1382.6 L2263.3 1397.8 L2266.7 1397 L2270 1394.4 L2273.3 1373.2 L2276.7 1404 L2280 1407.7 L2283.3 1415.5 L2286.7 1392.2 L2290 1382.6 L2293.3 1361.1 L2296.7 1357 L2300 1322.9 L2303.3 1297.4 L2306.7 1310.7 L2310 1314.8 L2313.3 1328.4 L2316.7 1317.4 L2320 1294.4 L2323.3 1294.4 L2326.7 1307.8 L2330 1317 L2333.3 1317 L2336.7 1327.8 L2340 1323.7 L2343.3 1307.8 L2346.7 1297 L2350 1290.4 L2353.3 1287 L2356.7 1274.4 L2360 1267 L2363.3 1267 L2366.7 1267 L2370 1261.1 L2373.3 1245.9 L2376.7 1241.1 L2380 1237.8 L2383.3 1240.4 L2386.7 1240.4 L2390 1240.4 L2390 1243 L2386.7 1243 L2383.3 1243 L2380 1242.2 L2376.7 1245.6 L2373.3 1254.1 L2370 1265.6 L2366.7 1269.6 L2363.3 1269.6 L2360 1269.6 L2356.7 1278.9 L2353.3 1289.6 L2350 1293 L2346.7 1299.6 L2343.3 1312.2 L2340 1326.3 L2336.7 1332.2 L2333.3 1319.6 L2330 1319.6 L2326.7 1312.2 L2323.3 1298.9 L2320 1298.9 L2316.7 1329.3 L2313.3 1351.6 L2310 1328.6 L2306.7 1322.6 L2303.3 1309.3 L2300 1340.4 L2296.7 1359.6 L2293.3 1365.6 L2290 1390.8 L2286.7 1407.8 L2283.3 1431.2 L2280 1429 L2276.7 1416 L2273.3 1400.1 L2270 1398.9 L2266.7 1399.6 L2263.3 1402.2 L2260 1390.8 L2256.7 1370.8 L2253.3 1349.3 L2250 1314.8 L2246.7 1299.6 L2243.3 1284.8 L2240 1281.5 L2236.7 1268.9 L2233.3 1253.7 L2230 1250.4 L2226.7 1253 L2223.3 1260.4 L2220 1260.4 L2216.7 1257 L2213.3 1253.7 L2210 1253 L2206.7 1249.6 L2203.3 1262.2 L2200 1258.9 L2196.7 1254.8 L2193.3 1255.6 L2190 1252.2 L2186.7 1248.9 L2183.3 1248.9 L2180 1256.3 L2176.7 1258.9 L2173.3 1259.6 L2170 1259.6 L2166.7 1262.2 L2163.3 1272.2 L2160 1314.5 L2156.7 1344.1 L2153.3 1337.4 L2150 1323.4 L2146.7 1316 L2143.3 1335.6 L2140 1343 L2136.7 1351.5 L2133.3 1351.5 L2130 1374.8 L2126.7 1379.6 L2123.3 1370.8 L2120 1344.8 L2116.7 1325.6 L2113.3 1319.6 L2110 1313 L2106.7 1306.3 L2103.3 1302.2 L2100 1285.6 L2096.7 1278.9 L2093.3 1273 L2090 1272.2 L2086.7 1263 L2083.3 1258.9 L2080 1253 L2076.7 1245.6 L2073.3 1238.2 L2070 1243 L2066.7 1243 L2063.3 1235.6 L2060 1243 L2056.7 1245.6 L2053.3 1243 L2050 1243 L2046.7 1246.3 L2043.3 1253 L2040 1256.3 L2036.7 1267 L2033.3 1265.6 L2030 1276.3 L2026.7 1298.9 L2023.3 1299.6 L2020 1296.3 L2016.7 1290.4 L2013.3 1278.9 L2010 1275.6 L2006.7 1283 L2003.3 1294.1 L2000 1297.4 L1996.7 1292.2 L1993.3 1296.3 Z M2398.3 1240.4 L2401.7 1244.4 L2405 1243.7 L2408.3 1243.7 L2411.7 1248.5 L2414 1256.3 L2414 1257 L2411.7 1254.8 L2408.3 1246.3 L2405 1246.3 L2401.7 1248.9 L2398.3 1243 Z M2416.7 1274.2 L2420 1274.2 L2420 1274.2 L2416.7 1274.2 Z M2448.3 1354.4 L2451.7 1343.3 L2455 1337.4 L2458.3 1313.3 L2461.7 1276.6 L2465 1288.5 L2468.3 1311.8 L2471.7 1324.4 L2475 1321.1 L2478.3 1325.2 L2481.7 1341.8 L2485 1345.5 L2488.3 1340.4 L2491.7 1317.8 L2495 1304.4 L2498.3 1294.4 L2501.7 1266.6 L2505 1245.9 L2508.3 1241.1 L2511.7 1234.4 L2515 1226.3 L2518.3 1226.3 L2521.7 1227 L2525 1230.4 L2528.3 1237 L2531.7 1240.4 L2535 1243.7 L2538.3 1250 L2541.7 1231.8 L2545 1237 L2548.3 1237.8 L2551.7 1241.1 L2555 1254.4 L2558.3 1257.8 L2561.7 1281.1 L2565 1295.2 L2568.3 1294.4 L2571.7 1304.4 L2575 1307.8 L2578.3 1298.5 L2581.7 1302.6 L2585 1314.4 L2588.3 1322.6 L2591.7 1330 L2595 1343.7 L2598.3 1341.1 L2601.7 1335.2 L2605 1345.2 L2608.3 1355.2 L2611.7 1363.3 L2615 1368.5 L2618.3 1364.4 L2621.7 1347 L2625 1372.2 L2628.3 1361.4 L2631.7 1350 L2635 1338.5 L2638.3 1317.4 L2641.7 1286.6 L2645 1285.2 L2648.3 1274.4 L2651.7 1264.4 L2655 1257 L2658.3 1245.2 L2661.7 1237 L2665 1241.1 L2668.3 1241.1 L2671.7 1240.4 L2675 1243.7 L2678.3 1249.6 L2678.3 1250.4 L2675 1246.3 L2671.7 1243 L2668.3 1245.6 L2665 1245.6 L2661.7 1239.6 L2658.3 1251.5 L2655 1259.6 L2651.7 1268.9 L2648.3 1278.9 L2645 1291.5 L2641.7 1296.7 L2638.3 1329.3 L2635 1344.8 L2631.7 1360 L2628.3 1375.2 L2625 1387.8 L2621.7 1366.4 L2618.3 1368.9 L2615 1374.8 L2611.7 1373.4 L2608.3 1361.5 L2605 1351.5 L2601.7 1341.5 L2598.3 1345.6 L2595 1346.3 L2591.7 1340 L2588.3 1330.8 L2585 1318.9 L2581.7 1310.8 L2578.3 1304.8 L2575 1312.2 L2571.7 1308.9 L2568.3 1298.9 L2565 1301.5 L2561.7 1285.6 L2558.3 1262.2 L2555 1258.9 L2551.7 1245.6 L2548.3 1242.2 L2545 1239.6 L2541.7 1238.2 L2538.3 1260 L2535 1246.3 L2531.7 1243 L2528.3 1239.6 L2525 1233 L2521.7 1229.6 L2518.3 1227 L2515 1227 L2511.7 1238.9 L2508.3 1245.6 L2505 1254.1 L2501.7 1276.7 L2498.3 1298.9 L2495 1308.9 L2491.7 1322.2 L2488.3 1343 L2485 1361.2 L2481.7 1348.2 L2478.3 1331.5 L2475 1325.6 L2471.7 1328.9 L2468.3 1318.2 L2465 1294.8 L2461.7 1286.7 L2458.3 1323.4 L2455 1349.3 L2451.7 1353.4 L2448.3 1358.9 Z M2718.3 1227 L2721.7 1237.8 L2725 1250.4 L2728.3 1257.8 L2731.7 1264.4 L2735 1285.2 L2738.3 1301.1 L2741.7 1321.1 L2745 1327.8 L2748.3 1338.5 L2751.7 1352.2 L2755 1368.5 L2758.3 1351.8 L2761.7 1310 L2765 1295.2 L2768.3 1287.8 L2771.7 1293.7 L2775 1301.1 L2778.3 1320 L2781.7 1343.7 L2785 1347 L2788.3 1350.4 L2791.7 1354.4 L2795 1351.1 L2798.3 1336.6 L2798.3 1346.7 L2795 1355.6 L2791.7 1358.9 L2788.3 1353 L2785 1349.6 L2781.7 1346.3 L2778.3 1330 L2775 1305.6 L2771.7 1296.3 L2768.3 1292.2 L2765 1301.5 L2761.7 1320 L2758.3 1358.2 L2755 1374.8 L2751.7 1367.8 L2748.3 1344.8 L2745 1332.2 L2741.7 1325.6 L2738.3 1305.6 L2735 1291.5 L2731.7 1268.9 L2728.3 1262.2 L2725 1253 L2721.7 1242.2 L2718.3 1229.6 Z M2801.7 1283 L2805 1258.5 L2808.3 1251.1 L2811.7 1247.8 L2815 1244.4 L2818.3 1243.7 L2821.7 1247.8 L2825 1227.8 L2828.3 1226.3 L2831.7 1226.3 L2835 1229.6 L2838.3 1233 L2841.7 1233 L2845 1233 L2848.3 1233.7 L2851.7 1234.4 L2855 1230.4 L2858.3 1227 L2861.7 1227 L2865 1234.4 L2868.3 1245.2 L2871.7 1251.1 L2875 1251.8 L2878.3 1248.5 L2881.7 1275.9 L2885 1295.2 L2888.3 1301.8 L2891.7 1305.2 L2895 1308.5 L2898.3 1305.9 L2901.7 1300.4 L2901.7 1303 L2898.3 1314.1 L2895 1314.8 L2891.7 1311.5 L2888.3 1308.2 L2885 1301.5 L2881.7 1284.1 L2878.3 1254.8 L2875 1258.2 L2871.7 1255.6 L2868.3 1251.5 L2865 1238.9 L2861.7 1229.6 L2858.3 1229.6 L2855 1233 L2851.7 1238.9 L2848.3 1236.3 L2845 1233.7 L2841.7 1233.7 L2838.3 1233.7 L2835 1230.4 L2831.7 1227 L2828.3 1227 L2825 1232.2 L2821.7 1252.2 L2818.3 1246.3 L2815 1248.9 L2811.7 1252.2 L2808.3 1255.6 L2805 1264.8 L2801.7 1283.7 Z" fill="#1a8c00" stroke="#1a8c00" stroke-width="3" stroke-linejoin="round"/>
<marker id="m1a8c00" markerUnits="userSpaceOnUse" markerWidth="6.6" markerHeight="6.6" refX="3.3" refY="3.3" overflow="visible"><circle cx="3.3" cy="3.3" r="3.3" fill="#1a8c00"/></marker>
<path d="M353.3 1256.3 L356.7 1263.7 L360 1273 L363.3 1307 L366.7 1329.7 L370 1343.7 L373.3 1326.3 L376.7 1307 L380 1319.7 L383.3 1340.3 L386.7 1346.3 L390 1370.3 L393.3 1349.7 L396.7 1370.3 L400 1353 L403.3 1367 L406.7 1346.3 L410 1357 L413.3 1336.3 L416.7 1363.7 L420 1319.7 L423.3 1367 L426.7 1329.7 L430 1347 L433.3 1306.3 L436.7 1317 L440 1283 L443.3 1283.7 L446.7 1269.7 L450 1293.7 L453.3 1296.3 L456.7 1287 L460 1269.7 L463.3 1267 L466.7 1253 L470 1240.3 L473.3 1229.7 L476.7 1233.7 L480 1226.3 L483.3 1230.3 L486.7 1219.7 L490 1227 L493.3 1223 L496.7 1237 L500 1236.3 L503.3 1253.7 L506.7 1239.7 L510 1270.3 L513.3 1253 L516.7 1297 L520 1299.7 L523.3 1313.7 L526.7 1306.3 L530 1333.7 L533.3 1339.7 L536.7 1373.7 L540 1369.7 L543.3 1377 L546.7 1359.7 L550 1377 L553.3 1349.7 L556.7 1333.7 L560 1323 L563.3 1343.7 L566.7 1319.7 L570 1340.3 L573.3 1346.3 L576.7 1367 L580 1359.7 L583.3 1377 L586.7 1349.7 L590 1357 M591.7 1303 L595 1303.7 L598.3 1279.7 L601.7 1280.3 L605 1269.7 L608.3 1277 L611.7 1266.3 L615 1270.3 L618.3 1259.7 L621.7 1263.7 L625 1256.3 L628.3 1260.3 L631.7 1249.7 L635 1253.7 L638.3 1246.3 L641.7 1250.3 L645 1236.3 L648.3 1243.7 L651.7 1233 L655 1243.7 L657.3 1239.7 M682.7 1283 L686 1340.3 L689.3 1299.7 L692.7 1293.7 L696 1293 L699.3 1320.3 L702.7 1313 L706 1347 L709.3 1303 L712.7 1343.7 L716 1336.3 L719.3 1350.3 L722.7 1319.7 L726 1327 L729.3 1313 L732.7 1353.7 L736 1319.7 L739.3 1367 L742.7 1339.7 L746 1353.7 L749.3 1333 L752.7 1327 L756 1306.3 L759.3 1293.7 L761.7 1283 M766.7 1263 L770 1270.3 M783.3 1266.3 L786.7 1263.7 L790 1256.3 L793.3 1257 L796.7 1253 L800 1240.3 L803.3 1226.3 L806.7 1237 L810 1226.3 L813.3 1237 L816.7 1229.7 L820 1233.7 L823.3 1226.3 L826.7 1253.7 L830 1266.3 L833.3 1287 L836.7 1299.7 L840 1330.3 L843.3 1353 L846.7 1360.3 L850 1356.3 L853.3 1373.7 L856.7 1343 L860 1360.3 L863.3 1346.3 L866.7 1353.7 L870 1326.3 L873.3 1320.3 L876.7 1313 L880 1310.3 L883.3 1279.7 L886.7 1310.3 L890 1299.7 L893.3 1307 L896.7 1296.3 L900 1307 L903.3 1299.7 L906.7 1287 L910 1249.7 L913.3 1253.7 L916.7 1253 L920 1263.7 L923.3 1263 L926.7 1260.3 L930 1249.7 L933.3 1253.7 L936.7 1269.7 L940 1243.7 L943.3 1233 L946.7 1233.7 L950 1226.3 L953.3 1223.7 L956.7 1216.3 L960 1230.3 L963.3 1229.7 L966.7 1247 L970 1226.3 L973.3 1257 L976.7 1253 L980 1287 L983.3 1246.3 L986.7 1260.3 L990 1243 L993.3 1250.3 L996.7 1253 L1000 1263.7 L1003.3 1263 L1006.7 1273.7 L1010 1266.3 L1013.3 1280.3 L1016.7 1269.7 L1020 1280.3 L1023.3 1276.3 L1026.7 1290.3 L1030 1283 L1033.3 1297 L1036.7 1289.7 L1036.7 1327 L1040 1319.7 L1043.3 1340.3 L1046.7 1333 L1050 1343.7 L1053.3 1323 L1056.7 1343.7 L1060 1333 L1063.3 1320.3 L1066.7 1306.3 L1070 1330.3 L1073.3 1309.7 L1076.7 1300.3 L1080 1289.7 L1083.3 1283.7 L1086.7 1246.3 L1090 1247 L1093.3 1249.7 L1096.7 1257 L1100 1249.7 L1103.3 1257 L1106.7 1246.3 L1110 1253.7 L1113.3 1249.7 L1116.7 1253.7 L1120 1246.3 L1123.3 1250.3 L1126.7 1236.3 L1130 1247 L1133.3 1249.7 L1136.7 1263.7 L1140 1263 L1143.3 1307 L1146.7 1313 L1150 1343.7 L1153.3 1313 L1156.7 1353.7 L1160 1346.3 L1163.3 1367 L1166.7 1369.7 L1170 1380.3 L1173.3 1339.7 L1176.7 1327 L1180 1336.3 L1183.3 1370.3 L1186.7 1343 L1190 1370.3 L1193.3 1346.3 L1196.7 1353.7 L1200 1319.7 L1203.3 1307 L1206.7 1299.7 L1210 1353.7 L1213.3 1346.3 L1216.7 1333.7 L1220 1309.7 L1223.3 1287 L1226.7 1279.7 L1230 1267 L1233.3 1256.3 L1236.7 1260.3 L1240 1249.7 L1243.3 1247 L1246.7 1233 L1250 1240.3 L1253.3 1229.7 L1256.7 1240.3 L1260 1239.7 L1263.3 1250.3 L1266.7 1246.3 L1270 1247 L1273.3 1253 M1285 1243 L1288.3 1257 L1291.7 1253 L1295 1267 L1298.3 1266.3 L1301.7 1293.7 L1305 1293 L1308.3 1313.7 L1311.7 1299.7 L1315 1320.3 L1318.3 1299.7 L1321.7 1347 L1325 1346.3 L1328.3 1347 L1331.7 1326.3 L1335 1353.7 L1338.3 1349.7 L1341.7 1377 L1345 1349.7 L1348.3 1380.3 L1351.7 1346.3 L1355 1373.7 L1358.3 1343 L1361.7 1380.3 L1365 1359.7 L1368.3 1370.3 L1371.7 1339.7 L1375 1333.7 L1378.3 1319.7 L1381.7 1330.3 L1385 1309.7 L1388.3 1297 L1391.7 1263 L1395 1263.7 L1398.3 1256.3 L1401.7 1260.3 L1405 1253 L1408.3 1260.3 L1411.7 1253 L1415 1257 L1418.3 1253 L1421.7 1253.7 L1425 1249.7 L1428.3 1247 L1431.7 1223 L1435 1237 L1438.3 1229.7 L1441.7 1233.7 L1445 1223 L1448.3 1237 L1451.7 1239.7 L1455 1263.7 L1458.3 1279.7 L1461.7 1327 L1465 1339.7 L1468.3 1373.7 L1471.7 1356.3 L1475 1370.3 L1478.3 1339.7 L1481.7 1353.7 L1485 1339.7 L1488.3 1360.3 L1491.7 1333 L1495 1340.3 L1498.3 1343 L1501.7 1367 L1505 1349.7 L1508.3 1363.7 L1511.7 1339.7 L1515 1367 L1518.3 1353 L1521.7 1380.3 L1525 1319.7 L1528.3 1363.7 L1531.7 1346.3 L1535 1367 L1538.3 1343 L1541.7 1353.7 L1545 1313 L1548.3 1307 L1551.7 1276.3 L1555 1270.3 L1558.3 1263 L1561.7 1273.7 L1565 1269.7 L1568.3 1267 L1571.7 1239.7 L1575 1243.7 L1578.3 1236.3 L1581.7 1240.3 L1585 1236.3 L1588.3 1240.3 L1591.7 1236.3 L1595 1237 L1598.3 1233 L1601.7 1243.7 L1605 1236.3 L1608.3 1247 L1611.7 1233 L1615 1247 L1618.3 1279.7 L1621.7 1287 L1625 1306.3 L1628.3 1353.7 L1631.7 1346.3 L1635 1360.3 L1638.3 1353 L1641.7 1327 L1645 1309.7 L1648.3 1337 L1651.7 1339.7 L1655 1360.3 M1726.7 1236.3 L1730 1247 L1733.3 1239.7 L1736.7 1237 L1740 1219.7 L1743.3 1223.7 L1746.7 1223 L1750 1240.3 L1753.3 1216.3 L1756.7 1223.7 L1760 1223 L1763.3 1233.7 L1766.7 1229.7 L1770 1243.7 L1773.3 1229.7 L1776.7 1257 L1780 1249.7 L1783.3 1260.3 L1786.7 1259.7 L1790 1297 L1793.3 1266.3 L1796.7 1293.7 L1800 1319.7 L1803.3 1347 L1806.7 1333 L1810 1433.7 L1813.3 1323 L1816.7 1353.7 L1820 1329.7 L1823.3 1340.3 L1826.7 1326.3 L1830 1333.7 L1833.3 1313 L1836.7 1317 L1840 1323 L1843.3 1327 L1846.7 1316.3 L1850 1330.3 L1853.3 1333 L1856.7 1290.3 L1860 1273 L1863.3 1267 L1866.7 1266.3 L1870 1267 L1873.3 1249.7 L1876.7 1247 L1880 1233 L1883.3 1240.3 L1886.7 1243 L1890 1250.3 L1893.3 1253 L1896.7 1257 L1900 1253 L1903.3 1263.7 L1906.7 1263 L1910 1263.7 L1913.3 1263 L1916.7 1277 L1920 1286.3 M1993.3 1293 L1996.7 1293.7 L2000 1286.3 L2003.3 1297 L2006.7 1279.7 L2010 1277 L2013.3 1273 L2016.7 1290.3 L2020 1293 L2023.3 1300.3 L2026.7 1293 L2030 1277 L2033.3 1259.7 L2036.7 1267 L2040 1253 L2043.3 1253.7 L2046.7 1243 L2050 1243.7 L2053.3 1239.7 L2056.7 1247 L2060 1239.7 L2063.3 1237 L2066.7 1239.7 L2070 1243.7 L2073.3 1229.7 L2076.7 1247 L2080 1249.7 L2083.3 1260.3 L2086.7 1259.7 L2090 1273.7 L2093.3 1269.7 L2096.7 1280.3 L2100 1279.7 L2103.3 1303.7 L2106.7 1303 L2110 1313.7 L2113.3 1316.3 L2116.7 1327 L2120 1336.3 L2123.3 1373.7 L2126.7 1376.3 L2130 1377 L2133.3 1343 L2136.7 1353.7 L2140 1339.7 L2143.3 1337 L2146.7 1299.7 L2150 1327 L2153.3 1326.3 L2156.7 1347 L2160 1293 L2163.3 1273.7 L2166.7 1256.3 L2170 1260.3 L2173.3 1256.3 L2176.7 1260.3 L2180 1253 L2183.3 1250.3 L2186.7 1243 L2190 1253.7 L2193.3 1249.7 L2196.7 1257 L2200 1253 L2203.3 1263.7 L2206.7 1246.3 L2210 1253.7 L2213.3 1253 L2216.7 1257 L2220 1259.7 L2223.3 1260.3 L2226.7 1249.7 L2230 1250.3 L2233.3 1253 L2236.7 1270.3 L2240 1273 L2243.3 1287 L2246.7 1296.3 L2250 1317 L2253.3 1333 L2256.7 1373.7 L2260 1379.7 L2263.3 1403.7 L2266.7 1396.3 L2270 1400.3 L2273.3 1363 L2276.7 1420.3 L2280 1399.7 L2283.3 1437 L2286.7 1386.3 L2290 1393.7 L2293.3 1359.7 L2296.7 1360.3 L2300 1316.3 L2303.3 1313.7 L2306.7 1306.3 L2310 1333.7 L2313.3 1319.7 L2316.7 1333.7 L2320 1293 L2323.3 1300.3 L2326.7 1306.3 L2330 1320.3 L2333.3 1316.3 L2336.7 1333.7 L2340 1323 L2343.3 1313.7 L2346.7 1296.3 L2350 1293.7 L2353.3 1286.3 L2356.7 1280.3 L2360 1266.3 L2363.3 1270.3 L2366.7 1266.3 L2370 1267 L2373.3 1243 L2376.7 1247 L2380 1236.3 L2383.3 1243.7 L2386.7 1239.7 L2390 1243.7 M2398.3 1239.7 L2401.7 1250.3 L2405 1243 L2408.3 1247 L2411.7 1246.3 L2414 1257 M2416.7 1274.2 L2420 1274.2 M2448.3 1353 L2451.7 1357 L2455 1333 L2458.3 1327 L2461.7 1273 L2465 1297 L2468.3 1309.7 L2471.7 1330.3 L2475 1319.7 L2478.3 1333.7 L2481.7 1339.7 L2485 1367 L2488.3 1339.7 L2491.7 1323.7 L2495 1303 L2498.3 1300.3 L2501.7 1263 L2505 1257 L2508.3 1239.7 L2511.7 1240.3 L2515 1226.3 L2518.3 1227 L2521.7 1226.3 L2525 1233.7 L2528.3 1236.3 L2531.7 1243.7 L2535 1243 L2538.3 1263.7 L2541.7 1229.7 L2545 1240.3 L2548.3 1236.3 L2551.7 1247 L2555 1253 L2558.3 1263.7 L2561.7 1279.7 L2565 1303.7 L2568.3 1293 L2571.7 1310.3 L2575 1306.3 L2578.3 1307 L2581.7 1299.7 L2585 1320.3 L2588.3 1319.7 L2591.7 1343.7 L2595 1343 L2598.3 1347 L2601.7 1333 L2605 1353.7 L2608.3 1353 L2611.7 1377 L2615 1366.3 L2618.3 1370.3 L2621.7 1339.7 L2625 1393.7 L2628.3 1356.3 L2631.7 1363.7 L2635 1336.3 L2638.3 1333.7 L2641.7 1283 L2645 1293.7 L2648.3 1273 L2651.7 1270.3 L2655 1256.3 L2658.3 1253.7 L2661.7 1236.3 L2665 1247 L2668.3 1239.7 L2671.7 1243.7 L2675 1243 L2678.3 1250.3 M2718.3 1226.3 L2721.7 1243.7 L2725 1249.7 L2728.3 1263.7 L2731.7 1263 L2735 1293.7 L2738.3 1299.7 L2741.7 1327 L2745 1326.3 L2748.3 1347 L2751.7 1346.3 L2755 1377 L2758.3 1349.7 L2761.7 1323.7 L2765 1293 L2768.3 1293.7 L2771.7 1293 L2775 1307 L2778.3 1316.3 L2781.7 1347 L2785 1346.3 L2788.3 1353.7 L2791.7 1353 L2795 1357 L2798.3 1333 M2801.7 1283 L2805 1267 L2808.3 1249.7 L2811.7 1253.7 L2815 1243 L2818.3 1247 L2821.7 1246.3 L2825 1233.7 L2828.3 1226.3 L2831.7 1227 L2835 1229.7 L2838.3 1233.7 L2841.7 1233 L2845 1233.7 L2848.3 1233 L2851.7 1240.3 L2855 1229.7 L2858.3 1230.3 L2861.7 1226.3 L2865 1240.3 L2868.3 1243 L2871.7 1257 L2875 1249.7 L2878.3 1257 L2881.7 1273 L2885 1303.7 L2888.3 1299.7 L2891.7 1313.7 L2895 1306.3 L2898.3 1317 L2901.7 1299.7" fill="none" stroke="#1a8c00" stroke-width="4.2" stroke-linejoin="round" stroke-linecap="round" marker-start="url(#m1a8c00)" marker-mid="url(#m1a8c00)" marker-end="url(#m1a8c00)"/>
<path d="M353.9 2022.8V2060.2M355.9 2006.8V2043.1M360.6 1994.9V2032.4M362.5 1946.8V2019.3M367.6 1890V1961M377.1 1908.7V1965.8M379.1 1905.2V2029.8M387 1922.7V2013.6M390.3 1940V2004.5M394.5 1946.1V2001.3M395.8 1940.7V1977.5M401 1952.4V1972M404.1 1952.1V1977.8M406.6 1925.1V1974.6M410 1930.9V1958.8M413.3 1920.6V1962M418.9 1937.8V1971.8M423.9 1921.2V1973.3M426.9 1915.3V1965.2M429.1 1930.1V1963.8M433 1959.6V1978.9M444.6 2022.2V2038.4M445.6 2017.8V2061.6M452.6 2004.1V2038.3M457.5 2018.7V2054.9M476.3 2077.8V2134.7M484.6 2103.8V2135M489.5 2107V2130.7M493.9 2105.2V2128.5M496.8 2095.2V2125.9M499.6 2074.5V2097.5M502.3 2043.7V2091M510.4 2022.6V2059.3M523.1 1970.2V2003.8M533.9 1906.1V2014.7M537.8 1947.8V2007M550.9 1996.4V2024.2M553.6 2003.3V2023.6M560.1 2016.5V2071.3M563.9 2013V2066.7M571.5 2013.6V2087.2M576.5 2022.4V2066.5M578.9 1992V2056.5M597.9 2055.9V2086.8M607.2 2062.3V2109.9M608.6 2080.2V2113.9M613.4 2095.4V2111.5M615.9 2080.4V2111.7M621.1 2091.8V2110.2M635.8 2083V2112.6M643 2084.9V2112.9M650.8 2089.1V2110.8M655.7 2083.2V2104.2M686.2 1992.4V2017.7M693.7 1978.7V2039.2M697.6 1993.1V2037.6M698.9 2014.5V2094.1M703 2003.5V2055.6M706.2 2007.5V2054.9M711 1990V2046.7M712.7 2010.5V2071.1M717.5 2062.1V2084.7M719.7 2061V2084M727.5 2068.9V2100.5M736.9 2077.7V2098M743.4 2065.3V2088.6M754.1 2049.1V2078.2M757.9 2042.2V2060.5M759.7 2056V2076.6M771.2 2092.5V2111.9M784.8 2084.9V2112.7M786.5 2096.5V2110.4M789.2 2092.2V2107.6M802.4 2076.9V2133.3M807.6 2095.2V2138.3M818 2095.5V2120.5M819.2 2099.8V2117.8M825.9 2056.6V2111.4M829.3 2037.3V2063.4M841.2 1948.5V2011.5M847.6 1843V1940M853.3 1857.5V1916.9M855.3 1861.7V1910.3M882.2 2076.5V2110.2M889.8 2076.6V2112.3M899.5 2107.2V2135.8M903.2 2075.6V2119.6M906.4 2110.6V2130.6M910 2114.9V2148.7M918 2097.5V2150M922.9 2090.3V2133.9M929.6 2116.5V2144.5M933.3 2107.1V2144M944.6 2116.1V2136.5M958.6 2109.8V2142.6M962.8 2089.6V2118M968.8 2033.3V2090.1M973.1 2045.4V2095.8M990.1 2066.5V2101.5M992.1 2061.1V2092.5M997.1 2062.2V2085.7M1000.7 2032.2V2082.1M1002.6 2013.8V2086.8M1011.1 2065.4V2105.9M1019.3 2096.8V2116.9M1025.7 2070.9V2104.5M1031.3 2055.6V2100M1036.2 2020V2081M1041.9 2086V2093.8M1059.6 2068.6V2079.7M1064.3 2065.6V2082.8M1071.1 2064V2089.3M1094.6 2078.5V2116.1M1097.8 2091.9V2109.1M1103.8 2087.4V2112.2M1105.5 2073.3V2107M1112.7 2073.2V2098.1M1116.8 2056.2V2097M1119.9 2075.7V2093.8M1127.1 2047.9V2095.3M1130.5 2065V2085.2M1139.1 1993.2V2032.1M1143.9 1969.1V1998.6M1147.6 1895.6V1954.8M1148.8 1811.3V1867.8M1151.9 1768.3V1859.8M1164.2 1805.6V1857.5M1167.4 1778.2V1842.6M1170.9 1758V1831.1M1173.1 1725.2V1789.9M1181.3 1779.6V1813.9M1182.2 1854.2V1930.7M1187.3 1848V1890.8M1194.6 1851.8V1880.8M1197.3 1848.1V1883.7M1199.9 1832.7V1889.7M1208.8 1899V1938.2M1216.6 1975.8V1994.2M1220 1955.1V2005.7M1222.7 2010.6V2025.9M1232.4 2071.6V2095M1235.2 2078.6V2096.8M1248.2 2090.1V2134.1M1248.7 2094.6V2121.2M1257.3 2076.5V2114.1M1265.3 2059.7V2086.8M1268.9 2049.4V2090.7M1272.6 2045V2058.6M1285.9 1967.6V2023.5M1288.7 1980.8V2023M1295.1 1966.4V2003.4M1299.7 1940V1988.7M1305.3 1914.2V1968.8M1309.3 1911.4V1950.4M1310.6 1894.9V1957.1M1323 1846.7V1911.6M1327.2 1859.2V1889.7M1330.8 1864.7V1878.7M1337.4 1896.1V1934M1342.6 1871.8V1925.3M1345.9 1880V1915.6M1356 1902.9V1933.8M1359.8 1896.4V1918.1M1361.7 1881.8V1914.2M1364.2 1882.3V1914.2M1371.1 1886.9V1903.6M1375.4 1890.9V1910.3M1384.9 1949.5V1983.8M1390.5 2039.9V2061.8M1394.9 2031.1V2060.6M1404.7 2051.6V2086.7M1408.8 2057.5V2083.4M1415.4 2057.5V2090M1422.6 2062.8V2105M1428.4 2075.5V2100.9M1431.9 2085.6V2122.9M1434.9 2086.6V2111.6M1439.5 2072.7V2105.1M1441.8 2085.6V2101M1448.3 2059.8V2103.1M1455.5 2032.8V2051.2M1459.5 1954.3V2010.3M1469 1786.8V1843.5M1471.6 1735.3V1811.7M1476.4 1717.3V1787.3M1484.3 1823.2V1841.3M1487.5 1881.2V1929.6M1490.6 1919.3V1977.3M1505.2 1977.2V2026M1509.8 1998.6V2018.9M1530.3 1971.1V2008.1M1535.8 1938.2V1987.5M1541.7 1950.5V1990.2M1546.2 1948.1V1990.4M1554.7 2035.6V2055.9M1557.3 2037.1V2064.1M1563.9 2022.1V2060.1M1568.5 2051.2V2070.5M1571.6 2064.2V2087.6M1575.6 2038.1V2081.4M1577.7 2062.5V2092M1580.3 2059V2080.4M1585.6 2068.3V2107.3M1588.4 2065.3V2077.3M1607.4 2037.5V2051.9M1611.7 2040.2V2052.6M1621.9 2008.9V2029.3M1629.4 1937.2V2013.7M1630.6 1915V1975M1634.8 1888.1V1957.1M1641.2 1899.9V1967.3M1737.7 2045.4V2094M1740.7 2060.6V2092.6M1742.8 2040.9V2091.9M1747.7 2069.1V2088M1756.2 2049V2070.1M1759.1 2040.7V2060.3M1769.8 1989V2050.9M1783.7 1955.1V2012.7M1787.1 1970.8V2010.6M1789.3 1948.7V1997.7M1795.4 1942.7V2014.3M1807.8 1888.8V1925.5M1812.4 1906.6V1931.5M1822.3 1924.5V1985M1827.6 1926.7V2015.9M1832 1938.8V1972.2M1836.7 1950.9V1990.2M1846.7 2012.9V2034.7M1849 1967.9V2003.4M1852.1 1993.2V2019M1872.5 2028.6V2077.3M1876.4 2048.6V2081.8M1882.6 2058.7V2088.1M1896.1 2049.3V2060.8M1904.5 2043.1V2060.3M1910.6 2019.7V2059.8M1913.2 2018.6V2047.9M1918 2020.4V2040.5M1920.4 1999.2V2039.9M2011.9 2057.8V2106.1M2016.1 2071.8V2092.3M2020.7 2058.4V2077M2023 2050.3V2068M2025.8 2039V2074M2034.1 2062.8V2075.6M2046.5 2079.5V2096.5M2052.3 2083.7V2113.1M2057 2075.4V2115M2060.6 2081V2098.6M2066.7 2075.1V2106.9M2070.9 2074.1V2127.4M2074.4 2081.6V2114.8M2076.3 2067.9V2090.1M2082.1 2034.7V2073.9M2086.5 2035V2055.9M2089.3 2022.5V2047M2095.7 2010.5V2035.4M2099 1993V2049.8M2103.8 1980.8V2030.4M2108.2 2008.9V2027.7M2119.6 2002.2V2024.3M2126.9 1967.1V1989.4M2129.5 1955V1976.8M2134.3 1936.8V1973.2M2135.7 1967V2003.9M2143.8 1986.4V2014.5M2145.7 2007.2V2041.5M2156.8 2035.5V2076.3M2160.2 2067.6V2096M2172 2108.8V2137.9M2176.6 2100.7V2120.4M2186.6 2091.1V2123.7M2189.4 2094.7V2116.3M2193.6 2082.6V2098.4M2197.6 2071.1V2096.2M2207.1 2093.5V2106M2210 2086.4V2108.4M2212.6 2081.8V2118.8M2226.1 2061.2V2119.5M2232 2073.2V2093.8M2239.3 2042.2V2069M2242.3 2018.9V2040.8M2247.9 2008V2025M2250.7 1986.3V2017.6M2253.4 1912.3V2014.8M2257.4 1891.7V1917M2259.3 1803.4V1885M2262.2 1823.4V1890.4M2267.5 1839V1894.8M2276.4 1902.7V1927.1M2278.8 1903.9V2005M2282.7 1960.4V2017.2M2286.3 1969.6V2010.5M2311.1 2074.9V2091.2M2316.3 2082.1V2108.5M2322.7 2089.5V2103.3M2326.9 2081.9V2106.7M2331.4 2078.8V2100.6M2337.8 2078.5V2097.2M2360.7 2083.2V2100.5M2364.6 2086.6V2101.5M2374.7 2080.6V2106.9M2376.5 2075.1V2100.8M2382.9 2084.6V2098M2394.1 2046.6V2084.8M2408.9 2017.8V2053.7M2412.5 2007.9V2053M2421 2003.2V2019.8M2433.3 1987.5V2028.1M2436.5 1977.7V2016.4M2446.8 1951.3V2005.3M2455.4 1993.6V2021.5M2466.9 2025.7V2065.5M2474.8 2031.5V2114M2476.4 2075.7V2117.7M2491.1 2023.2V2069M2494.7 2042.2V2077.3M2505.2 2068.8V2088.4M2511.2 2071.9V2088.6M2516.5 2083V2094.2M2521.1 2066.6V2099.1M2524.7 2049V2083.4M2529.5 2040.4V2071M2537.9 2023.2V2062.2M2550.8 2013.3V2043.6M2552.7 2007.7V2039.7M2560.5 1966.8V1988.7M2566.5 1919.2V1957.9M2573.2 1888.6V1928.7M2579.5 1886.1V1944.7M2583 1881.6V1934.2M2589.8 1873.6V1893M2596.1 1854.6V1878.1M2602.5 1863.4V1941.2M2613 1911.8V1942.5M2616.7 1895.6V1932M2620.6 1893.8V1934.3M2623.5 1921.7V1949.1M2629 1920.3V1979.8M2631.9 1898.2V1946.9M2646.8 2008.6V2049.2M2654 2052.4V2077.6M2660 2082.1V2114.8M2662.8 2085.2V2108.1M2665.5 2079.3V2105.3M2669 2084.4V2119.8M2691.9 2066.1V2100.6M2704.1 2058.2V2094.1M2708.9 2053.2V2075.8M2722 2018.6V2072.5M2726.1 2025.4V2042.4M2729.3 2002.1V2036.4M2732.9 1979.4V2015.7M2744.4 1900.5V1931.2M2759.4 1867.3V1895.8M2783.6 1972.7V2031.1M2790.2 2006.6V2027.7M2798 1975.2V2017.4M2799.1 1989.8V2025.2M2807 2026.9V2085.9M2815.3 2092V2113.9M2820.2 2085.6V2108.1M2824.4 2091.9V2106.5M2829.9 2106V2125M2833.2 2106.3V2122.1M2839.3 2093.1V2109.8M2842.2 2078.7V2112.5M2846.5 2081.6V2096.3M2855.7 2044.2V2060.5M2864.7 2041.8V2062.4M2866.4 2039.2V2056.1M2868.6 2031.9V2048.2M2872.8 1997V2033M2881.9 1926.5V1954.9M2885.6 1889.9V1923.1M2893.9 1868.5V1902.3" stroke="#c9eac9" stroke-width="1.6" fill="none"/>
<path d="M353.3 2026.3 L356.7 2013 L360 1993 L363.3 1963 L366.7 1893 L370 1889.7 L373.3 1869.7 L376.7 1903 L380 1936.3 L383.3 1906.3 L386.7 1936.3 L390 1943 L393.3 1946.3 L396.7 1949.7 L400 1946.3 L403.3 1946.3 L406.7 1929.7 L410 1929.7 L413.3 1916.3 L416.7 1933 L420 1943 L423.3 1943 L426.7 1936.3 L430 1933 L433.3 1953 L436.7 1963 L440 1993 L443.3 2019.7 L446.7 2013 L450 2009.7 L453.3 2006.3 L456.7 2016.3 L460 2053 L463.3 2073 L466.7 2076.3 L470 2096.3 L473.3 2099.7 L476.7 2103 L480 2103 L483.3 2106.3 L486.7 2109.7 L490 2103 L493.3 2099.7 L496.7 2093 L500 2073 L503.3 2049.7 L506.7 2046.3 L510 2026.3 L513.3 2003 L516.7 1989.7 L520 1966.3 L523.3 1966.3 L526.7 1956.3 L530 1949.7 L533.3 1926.3 L536.7 1946.3 L540 1943 L543.3 1939.7 L546.7 1949.7 L550 1993 L553.3 1996.3 L556.7 1986.3 L560 2013 L563.3 2016.3 L566.7 2019.7 L570 2033 L573.3 2029.7 L576.7 2019.7 L580 2016.3 L583.3 2013 L586.7 2013 L590 2019.7 L593.3 2033 L596.7 2049.7 L600 2079.7 L603.3 2089.7 L606.7 2089.7 L610 2093 L613.3 2089.7 L616.7 2093 L620 2093 L623.3 2093 L626.7 2089.7 L630 2089.7 L633.3 2089.7 L636.7 2089.7 L640 2086.3 L643.3 2089.7 L646.7 2086.3 L650 2086.3 L653.3 2086.3 L656.7 2086.3 L656.7 2107.3 L653.3 2110.7 L650 2110.7 L646.7 2124 L643.3 2114 L640 2110.7 L636.7 2110.7 L633.3 2120.7 L630 2107.3 L626.7 2114 L623.3 2114 L620 2114 L616.7 2114 L613.3 2114 L610 2114 L606.7 2110.7 L603.3 2114 L600 2100.7 L596.7 2087.3 L593.3 2057.3 L590 2077.3 L586.7 2040.7 L583.3 2047.3 L580 2050.7 L576.7 2054 L573.3 2077.3 L570 2077.3 L566.7 2054 L563.3 2070.7 L560 2054 L556.7 2017.3 L553.3 2024 L550 2027.3 L546.7 2004 L543.3 1967.3 L540 1980.7 L536.7 1987.3 L533.3 2014 L530 2007.3 L526.7 2004 L523.3 2004 L520 2007.3 L516.7 2020.7 L513.3 2044 L510 2060.7 L506.7 2074 L503.3 2094 L500 2100.7 L496.7 2120.7 L493.3 2130.7 L490 2134 L486.7 2144 L483.3 2137.3 L480 2134 L476.7 2134 L473.3 2130.7 L470 2127.3 L466.7 2100.7 L463.3 2094 L460 2080.7 L456.7 2054 L453.3 2027.3 L450 2040.7 L446.7 2064 L443.3 2040.7 L440 2044 L436.7 1987.3 L433.3 1980.7 L430 1964 L426.7 1967.3 L423.3 1974 L420 1970.7 L416.7 1987.3 L413.3 1954 L410 1957.3 L406.7 1974 L403.3 1977.3 L400 1974 L396.7 1977.3 L393.3 2004 L390 2007.3 L386.7 2010.7 L383.3 1987.3 L380 2030.7 L376.7 1967.3 L373.3 1964 L370 1970.7 L366.7 1964 L363.3 2020.7 L360 2027.3 L356.7 2040.7 L353.3 2047.3 Z M682.7 2016.3 L685 1993 L687.3 1939.7 L690 1959.7 L693.3 1976.3 L696.7 1986.3 L700 2016.3 L703.3 2003 L706.7 2019.7 L710 2023 L713.3 2026.3 L716.7 2056.3 L720 2063 L723.3 2069.7 L726.7 2076.3 L730 2083 L733.3 2069.7 L736.7 2073 L740 2063 L743.3 2059.7 L746.7 2059.7 L750 2059.7 L753.3 2043 L756.7 2036.3 L760 2049.7 L760 2074 L756.7 2060.7 L753.3 2077.3 L750 2080.7 L746.7 2080.7 L743.3 2080.7 L740 2087.3 L736.7 2097.3 L733.3 2100.7 L730 2124 L726.7 2104 L723.3 2097.3 L720 2087.3 L716.7 2077.3 L713.3 2074 L710 2047.3 L706.7 2054 L703.3 2054 L700 2084 L696.7 2037.3 L693.3 2024 L690 2014 L687.3 2007.3 L685 2020.7 L682.7 2037.3 Z M766.7 2086.3 L770 2089.7 L770 2114 L766.7 2107.3 Z M783.3 2093 L786.7 2089.7 L790 2086.3 L793.3 2099.7 L796.7 2089.7 L800 2103 L803.3 2103 L806.7 2096.3 L810 2096.3 L813.3 2099.7 L816.7 2096.3 L820 2096.3 L823.3 2093 L826.7 2059.7 L830 2033 L833.3 2023 L836.7 2013 L840 1949.7 L843.3 1956.3 L846.7 1853 L850 1873 L853.3 1879.7 L856.7 1876.3 L860 1886.3 L863.3 1903 L866.7 1949.7 L870 1963 L873.3 2009.7 L876.7 2033 L880 2049.7 L883.3 2079.7 L886.7 2089.7 L890 2073 L893.3 2103 L896.7 2096.3 L900 2103 L903.3 2096.3 L906.7 2106.3 L910 2116.3 L913.3 2123 L916.7 2119.7 L920 2116.3 L923.3 2103 L926.7 2096.3 L930 2109.7 L933.3 2113 L936.7 2086.3 L940 2106.3 L943.3 2109.7 L946.7 2113 L950 2116.3 L953.3 2116.3 L956.7 2119.7 L960 2106.3 L963.3 2089.7 L966.7 2076.3 L970 2066.3 L973.3 2059.7 L976.7 2043 L980 2013 L983.3 2046.3 L986.7 2049.7 L990 2059.7 L993.3 2059.7 L996.7 2056.3 L1000 2043 L1003.3 2039.7 L1006.7 2059.7 L1010 2069.7 L1013.3 2093 L1016.7 2099.7 L1020 2096.3 L1023.3 2079.7 L1026.7 2079.7 L1030 2076.3 L1033.3 2059.7 L1036.7 2053 L1040 2076.3 L1043.3 2079.7 L1046.7 2076.3 L1050 2053 L1053.3 2053 L1056.7 2059.7 L1060 2063 L1063.3 2066.3 L1066.7 2066.3 L1070 2069.7 L1073.3 2066.3 L1076.7 2063 L1080 2066.3 L1083.3 2073 L1086.7 2086.3 L1090 2089.7 L1093.3 2093 L1096.7 2089.7 L1100 2086.3 L1103.3 2083 L1106.7 2073 L1110 2076.3 L1113.3 2069.7 L1116.7 2066.3 L1120 2069.7 L1123.3 2069.7 L1126.7 2066.3 L1130 2059.7 L1133.3 2043 L1136.7 2003 L1140 1993 L1143.3 1969.7 L1146.7 1889.7 L1150 1809.7 L1153.3 1769.7 L1156.7 1789.7 L1160 1803 L1163.3 1803 L1166.7 1776.3 L1170 1753 L1173.3 1723 L1176.7 1736.3 L1180 1773 L1183.3 1849.7 L1186.7 1849.7 L1190 1856.3 L1193.3 1846.3 L1196.7 1849.7 L1200 1829.7 L1203.3 1863 L1206.7 1869.7 L1210 1893 L1213.3 1943 L1216.7 1973 L1220 1973 L1223.3 2006.3 L1226.7 2023 L1230 2043 L1233.3 2069.7 L1236.7 2079.7 L1240 2083 L1243.3 2086.3 L1246.7 2089.7 L1250 2093 L1253.3 2083 L1256.7 2073 L1260 2046.3 L1263.3 2049.7 L1266.7 2053 L1270 2043 L1273.3 2039.7 L1273.3 2060.7 L1270 2070.7 L1266.7 2087.3 L1263.3 2080.7 L1260 2080.7 L1256.7 2100.7 L1253.3 2120.7 L1250 2120.7 L1246.7 2120.7 L1243.3 2110.7 L1240 2104 L1236.7 2100.7 L1233.3 2094 L1230 2077.3 L1226.7 2047.3 L1223.3 2027.3 L1220 2000.7 L1216.7 1997.3 L1213.3 1977.3 L1210 1940.7 L1206.7 1907.3 L1203.3 1907.3 L1200 1874 L1196.7 1880.7 L1193.3 1884 L1190 1887.3 L1186.7 1884 L1183.3 1917.3 L1180 1814 L1176.7 1800.7 L1173.3 1787.3 L1170 1827.3 L1166.7 1827.3 L1163.3 1854 L1160 1874 L1156.7 1854 L1153.3 1854 L1150 1870.7 L1146.7 1954 L1143.3 2000.7 L1140 2024 L1136.7 2047.3 L1133.3 2074 L1130 2087.3 L1126.7 2097.3 L1123.3 2090.7 L1120 2094 L1116.7 2094 L1113.3 2097.3 L1110 2100.7 L1106.7 2107.3 L1103.3 2104 L1100 2107.3 L1096.7 2110.7 L1093.3 2114 L1090 2117.3 L1086.7 2110.7 L1083.3 2094 L1080 2087.3 L1076.7 2084 L1073.3 2087.3 L1070 2087.3 L1066.7 2084 L1063.3 2084 L1060 2080.7 L1056.7 2080.7 L1053.3 2074 L1050 2097.3 L1046.7 2100.7 L1043.3 2097.3 L1040 2097.3 L1036.7 2080.7 L1033.3 2090.7 L1030 2100.7 L1026.7 2104 L1023.3 2110.7 L1020 2120.7 L1016.7 2124 L1013.3 2117.3 L1010 2100.7 L1006.7 2094 L1003.3 2080.7 L1000 2077.3 L996.7 2087.3 L993.3 2090.7 L990 2094 L986.7 2087.3 L983.3 2070.7 L980 2067.3 L976.7 2087.3 L973.3 2097.3 L970 2094 L966.7 2104 L963.3 2120.7 L960 2130.7 L956.7 2140.7 L953.3 2144 L950 2140.7 L946.7 2134 L943.3 2137.3 L940 2130.7 L936.7 2117.3 L933.3 2137.3 L930 2140.7 L926.7 2127.3 L923.3 2134 L920 2137.3 L916.7 2137.3 L913.3 2147.3 L910 2144 L906.7 2127.3 L903.3 2120.7 L900 2120.7 L896.7 2124 L893.3 2124 L890 2114 L886.7 2114 L883.3 2114 L880 2074 L876.7 2057.3 L873.3 2044 L870 1997.3 L866.7 1967.3 L863.3 1950.7 L860 1914 L856.7 1910.7 L853.3 1917.3 L850 1914 L846.7 1944 L843.3 1990.7 L840 2014 L836.7 2037.3 L833.3 2060.7 L830 2067.3 L826.7 2114 L823.3 2124 L820 2120.7 L816.7 2117.3 L813.3 2120.7 L810 2120.7 L806.7 2124 L803.3 2134 L800 2137.3 L796.7 2117.3 L793.3 2120.7 L790 2107.3 L786.7 2114 L783.3 2110.7 Z M1285 1986.3 L1288.3 1993 L1291.7 1976.3 L1295 1973 L1298.3 1949.7 L1301.7 1966.3 L1305 1919.7 L1308.3 1909.7 L1311.7 1903 L1315 1906.3 L1318.3 1899.7 L1321.7 1879.7 L1325 1846.3 L1328.3 1853 L1331.7 1859.7 L1335 1873 L1338.3 1889.7 L1341.7 1893 L1345 1879.7 L1348.3 1889.7 L1351.7 1893 L1355 1896.3 L1358.3 1889.7 L1361.7 1889.7 L1365 1876.3 L1368.3 1876.3 L1371.7 1883 L1375 1886.3 L1378.3 1923 L1381.7 1959.7 L1385 1959.7 L1388.3 1976.3 L1391.7 2033 L1395 2033 L1398.3 2049.7 L1401.7 2053 L1405 2046.3 L1408.3 2056.3 L1411.7 2056.3 L1415 2059.7 L1418.3 2056.3 L1421.7 2059.7 L1425 2059.7 L1428.3 2076.3 L1431.7 2086.3 L1435 2079.7 L1438.3 2073 L1441.7 2079.7 L1445 2076.3 L1448.3 2059.7 L1451.7 2043 L1455 2029.7 L1458.3 1963 L1461.7 1896.3 L1465 1856.3 L1468.3 1799.7 L1471.7 1729.7 L1475 1723 L1478.3 1749.7 L1481.7 1756.3 L1485 1823 L1488.3 1883 L1491.7 1926.3 L1495 1936.3 L1498.3 1949.7 L1501.7 1969.7 L1505 1976.3 L1508.3 1993 L1511.7 1979.7 L1515 1996.3 L1518.3 1993 L1521.7 2003 L1525 1973 L1528.3 1973 L1531.7 1973 L1535 1969.7 L1538.3 1966.3 L1541.7 1959.7 L1545 1943 L1548.3 1983 L1551.7 2003 L1555 2029.7 L1558.3 2036.3 L1561.7 2039.7 L1565 2016.3 L1568.3 2046.3 L1571.7 2063 L1575 2063 L1578.3 2059.7 L1581.7 2059.7 L1585 2066.3 L1588.3 2059.7 L1591.7 2056.3 L1595 2059.7 L1598.3 2053 L1601.7 2043 L1605 2036.3 L1608.3 2033 L1611.7 2036.3 L1615 2026.3 L1618.3 2016.3 L1621.7 2003 L1625 1993 L1628.3 1939.7 L1631.7 1923 L1635 1883 L1638.3 1839.7 L1641.7 1913 L1645 1933 L1648.3 1956.3 L1651.7 1949.7 L1655 1949.7 L1655 1980.7 L1651.7 2007.3 L1648.3 2007.3 L1645 1974 L1641.7 1947.3 L1638.3 1927.3 L1635 1957.3 L1631.7 1970.7 L1628.3 1997.3 L1625 2014 L1621.7 2027.3 L1618.3 2037.3 L1615 2044 L1611.7 2054 L1608.3 2054 L1605 2057.3 L1601.7 2064 L1598.3 2074 L1595 2080.7 L1591.7 2077.3 L1588.3 2080.7 L1585 2090.7 L1581.7 2080.7 L1578.3 2084 L1575 2084 L1571.7 2087.3 L1568.3 2067.3 L1565 2054 L1561.7 2060.7 L1558.3 2057.3 L1555 2057.3 L1551.7 2037.3 L1548.3 2000.7 L1545 1984 L1541.7 1987.3 L1538.3 1990.7 L1535 1990.7 L1531.7 2010.7 L1528.3 1997.3 L1525 2004 L1521.7 2034 L1518.3 2014 L1515 2017.3 L1511.7 2010.7 L1508.3 2020.7 L1505 2007.3 L1501.7 1997.3 L1498.3 1987.3 L1495 1974 L1491.7 1957.3 L1488.3 1927.3 L1485 1840.7 L1481.7 1774 L1478.3 1784 L1475 1787.3 L1471.7 1814 L1468.3 1840.7 L1465 1894 L1461.7 1947.3 L1458.3 2010.7 L1455 2054 L1451.7 2074 L1448.3 2084 L1445 2100.7 L1441.7 2104 L1438.3 2104 L1435 2107.3 L1431.7 2117.3 L1428.3 2100.7 L1425 2084 L1421.7 2087.3 L1418.3 2084 L1415 2084 L1411.7 2084 L1408.3 2084 L1405 2077.3 L1401.7 2077.3 L1398.3 2074 L1395 2060.7 L1391.7 2054 L1388.3 2034 L1385 1987.3 L1381.7 1984 L1378.3 1984 L1375 1907.3 L1371.7 1904 L1368.3 1897.3 L1365 1900.7 L1361.7 1917.3 L1358.3 1920.7 L1355 1927.3 L1351.7 1930.7 L1348.3 1937.3 L1345 1917.3 L1341.7 1927.3 L1338.3 1930.7 L1335 1927.3 L1331.7 1880.7 L1328.3 1880.7 L1325 1870.7 L1321.7 1914 L1318.3 1927.3 L1315 1940.7 L1311.7 1960.7 L1308.3 1954 L1305 1967.3 L1301.7 1990.7 L1298.3 1990.7 L1295 2004 L1291.7 2017.3 L1288.3 2024 L1285 2017.3 Z M1726.7 2053 L1730 2049.7 L1733.3 2049.7 L1736.7 2049.7 L1740 2069.7 L1743.3 2069.7 L1746.7 2063 L1750 2046.3 L1753.3 2053 L1756.7 2046.3 L1760 2039.7 L1763.3 2036.3 L1766.7 2026.3 L1770 2016.3 L1773.3 2006.3 L1776.7 1996.3 L1780 1966.3 L1783.3 1969.7 L1786.7 1976.3 L1790 1956.3 L1793.3 1956.3 L1796.7 1943 L1800 1916.3 L1803.3 1909.7 L1806.7 1903 L1810 1909.7 L1813.3 1906.3 L1816.7 1906.3 L1820 1903 L1823.3 1919.7 L1826.7 1959.7 L1830 1939.7 L1833.3 1943 L1836.7 1959.7 L1840 1979.7 L1843.3 1996.3 L1846.7 2006.3 L1850 1986.3 L1853.3 1986.3 L1856.7 2009.7 L1860 2023 L1863.3 2043 L1866.7 2043 L1870 2043 L1873.3 2033 L1876.7 2053 L1880 2069.7 L1883.3 2063 L1886.7 2049.7 L1890 2049.7 L1893.3 2043 L1896.7 2043 L1900 2039.7 L1903.3 2036.3 L1906.7 2033 L1910 2033 L1913.3 2026.3 L1916.7 2016.3 L1920 2006.3 L1920 2030.7 L1916.7 2037.3 L1913.3 2047.3 L1910 2054 L1906.7 2057.3 L1903.3 2060.7 L1900 2064 L1896.7 2064 L1893.3 2067.3 L1890 2070.7 L1886.7 2077.3 L1883.3 2084 L1880 2097.3 L1876.7 2080.7 L1873.3 2057.3 L1870 2067.3 L1866.7 2064 L1863.3 2064 L1860 2054 L1856.7 2034 L1853.3 2007.3 L1850 2007.3 L1846.7 2037.3 L1843.3 2027.3 L1840 2007.3 L1836.7 1990.7 L1833.3 1974 L1830 1967.3 L1826.7 2017.3 L1823.3 1974 L1820 1930.7 L1816.7 1940.7 L1813.3 1934 L1810 1934 L1806.7 1927.3 L1803.3 1934 L1800 1947.3 L1796.7 2004 L1793.3 2000.7 L1790 1994 L1786.7 2007.3 L1783.3 2014 L1780 2007.3 L1776.7 2030.7 L1773.3 2044 L1770 2044 L1766.7 2054 L1763.3 2057.3 L1760 2064 L1756.7 2070.7 L1753.3 2077.3 L1750 2074 L1746.7 2084 L1743.3 2087.3 L1740 2094 L1736.7 2074 L1733.3 2070.7 L1730 2074 L1726.7 2080.7 Z M1993.3 2029.7 L1996.7 2056.3 L2000 2059.7 L2003.3 2056.3 L2006.7 2073 L2010 2083 L2013.3 2083 L2016.7 2066.3 L2020 2053 L2023.3 2046.3 L2026.7 2036.3 L2030 2046.3 L2033.3 2056.3 L2036.7 2053 L2040 2053 L2043.3 2063 L2046.7 2073 L2050 2076.3 L2053.3 2079.7 L2056.7 2083 L2060 2076.3 L2063.3 2083 L2066.7 2079.7 L2070 2083 L2073.3 2083 L2076.7 2063 L2080 2053 L2083.3 2043 L2086.7 2029.7 L2090 2019.7 L2093.3 2019.7 L2096.7 2009.7 L2100 2003 L2103.3 1979.7 L2106.7 2003 L2110 2006.3 L2113.3 2009.7 L2116.7 2003 L2120 1996.3 L2123.3 1969.7 L2126.7 1963 L2130 1949.7 L2133.3 1939.7 L2136.7 1963 L2140 1969.7 L2143.3 1979.7 L2146.7 2006.3 L2150 2029.7 L2153.3 2033 L2156.7 2043 L2160 2066.3 L2163.3 2086.3 L2166.7 2099.7 L2170 2106.3 L2173.3 2103 L2176.7 2099.7 L2180 2096.3 L2183.3 2106.3 L2186.7 2103 L2190 2093 L2193.3 2076.3 L2196.7 2069.7 L2200 2073 L2203.3 2079.7 L2206.7 2089.7 L2210 2089.7 L2213.3 2086.3 L2216.7 2083 L2220 2073 L2223.3 2063 L2226.7 2076.3 L2230 2083 L2233.3 2076.3 L2236.7 2063 L2240 2036.3 L2243.3 2016.3 L2246.7 2006.3 L2250 1979.7 L2253.3 1909.7 L2256.7 1886.3 L2260 1803 L2263.3 1833 L2266.7 1843 L2270 1893 L2273.3 1903 L2276.7 1903 L2280 1909.7 L2283.3 1963 L2286.7 1963 L2290 1973 L2293.3 2009.7 L2296.7 2019.7 L2300 2029.7 L2303.3 2056.3 L2306.7 2063 L2310 2069.7 L2313.3 2039.7 L2316.7 2076.3 L2320 2086.3 L2323.3 2083 L2326.7 2086.3 L2330 2083 L2333.3 2083 L2336.7 2073 L2340 2073 L2343.3 2079.7 L2346.7 2079.7 L2350 2076.3 L2353.3 2076.3 L2356.7 2076.3 L2360 2083 L2363.3 2079.7 L2366.7 2079.7 L2370 2079.7 L2373.3 2083 L2376.7 2076.3 L2380 2083 L2383.3 2079.7 L2386.7 2073 L2390 2066.3 L2393.3 2059.7 L2396.7 2053 L2400 2046.3 L2403.3 2043 L2406.7 2036.3 L2410 2016.3 L2413.3 2006.3 L2416.7 2003 L2420 1999.7 L2423.3 1996.3 L2426.7 1989.7 L2430 1993 L2433.3 1983 L2436.7 1983 L2440 1983 L2443.3 1989.7 L2446.7 1946.3 L2450 1949.7 L2453.3 1969.7 L2456.7 1993 L2460 2019.7 L2463.3 2033 L2466.7 2029.7 L2470 2053 L2473.3 2056.3 L2476.7 2069.7 L2480 2056.3 L2483.3 2046.3 L2486.7 2046.3 L2490 2046.3 L2493.3 2043 L2496.7 2056.3 L2500 2059.7 L2503.3 2059.7 L2506.7 2063 L2510 2066.3 L2513.3 2069.7 L2516.7 2076.3 L2520 2069.7 L2523.3 2059.7 L2526.7 2053 L2530 2046.3 L2533.3 2026.3 L2536.7 2026.3 L2540 2026.3 L2543.3 2039.7 L2546.7 2029.7 L2550 2023 L2553.3 2009.7 L2556.7 1989.7 L2560 1963 L2563.3 1916.3 L2566.7 1923 L2570 1909.7 L2573.3 1883 L2576.7 1879.7 L2580 1889.7 L2583.3 1883 L2586.7 1876.3 L2590 1869.7 L2593.3 1866.3 L2596.7 1849.7 L2600 1849.7 L2603.3 1876.3 L2606.7 1886.3 L2610 1893 L2613.3 1906.3 L2616.7 1906.3 L2620 1906.3 L2623.3 1916.3 L2626.7 1926.3 L2630 1929.7 L2633.3 1926.3 L2636.7 1923 L2640 1933 L2643.3 1976.3 L2646.7 2009.7 L2650 2026.3 L2653.3 2046.3 L2656.7 2059.7 L2660 2079.7 L2663.3 2079.7 L2666.7 2073 L2670 2086.3 L2673.3 2086.3 L2676.7 2086.3 L2680 2086.3 L2683.3 2096.3 L2686.7 2086.3 L2690 2083 L2693.3 2076.3 L2696.7 2069.7 L2700 2049.7 L2703.3 2053 L2706.7 2056.3 L2710 2056.3 L2713.3 2056.3 L2716.7 2056.3 L2720 2053 L2723.3 2033 L2726.7 2019.7 L2730 2003 L2733.3 1993 L2736.7 1959.7 L2740 1936.3 L2743.3 1896.3 L2746.7 1886.3 L2750 1889.7 L2753.3 1886.3 L2756.7 1889.7 L2760 1869.7 L2763.3 1879.7 L2766.7 1899.7 L2770 1939.7 L2773.3 1969.7 L2776.7 1943 L2780 1996.3 L2783.3 1976.3 L2786.7 2009.7 L2790 2003 L2793.3 1996.3 L2796.7 1989.7 L2800 1983 L2803.3 2009.7 L2806.7 2036.3 L2810 2093 L2813.3 2093 L2816.7 2086.3 L2820 2093 L2823.3 2086.3 L2826.7 2096.3 L2830 2099.7 L2833.3 2099.7 L2836.7 2099.7 L2840 2093 L2843.3 2076.3 L2846.7 2076.3 L2850 2066.3 L2853.3 2053 L2856.7 2039.7 L2860 2046.3 L2863.3 2036.3 L2866.7 2033 L2870 2029.7 L2873.3 1993 L2876.7 1959.7 L2880 1949.7 L2883.3 1926.3 L2886.7 1883 L2890 1886.3 L2893.3 1883 L2896.7 1883 L2900 1869.7 L2900 1910.7 L2896.7 1910.7 L2893.3 1904 L2890 1914 L2886.7 1920.7 L2883.3 1954 L2880 1974 L2876.7 1990.7 L2873.3 2024 L2870 2050.7 L2866.7 2057.3 L2863.3 2064 L2860 2074 L2856.7 2064 L2853.3 2074 L2850 2087.3 L2846.7 2094 L2843.3 2097.3 L2840 2110.7 L2836.7 2124 L2833.3 2120.7 L2830 2124 L2826.7 2117.3 L2823.3 2107.3 L2820 2110.7 L2816.7 2114 L2813.3 2117.3 L2810 2114 L2806.7 2080.7 L2803.3 2040.7 L2800 2007.3 L2796.7 2014 L2793.3 2024 L2790 2030.7 L2786.7 2074 L2783.3 2027.3 L2780 2037.3 L2776.7 1987.3 L2773.3 1994 L2770 1970.7 L2766.7 1937.3 L2763.3 1904 L2760 1894 L2756.7 1917.3 L2753.3 1910.7 L2750 1914 L2746.7 1924 L2743.3 1930.7 L2740 1974 L2736.7 1987.3 L2733.3 2014 L2730 2034 L2726.7 2040.7 L2723.3 2070.7 L2720 2077.3 L2716.7 2080.7 L2713.3 2087.3 L2710 2077.3 L2706.7 2077.3 L2703.3 2077.3 L2700 2080.7 L2696.7 2090.7 L2693.3 2100.7 L2690 2107.3 L2686.7 2110.7 L2683.3 2134 L2680 2114 L2676.7 2117.3 L2673.3 2110.7 L2670 2114 L2666.7 2104 L2663.3 2104 L2660 2114 L2656.7 2084 L2653.3 2067.3 L2650 2057.3 L2646.7 2040.7 L2643.3 2037.3 L2640 1974 L2636.7 1950.7 L2633.3 1950.7 L2630 1967.3 L2626.7 1954 L2623.3 1944 L2620 1934 L2616.7 1930.7 L2613.3 1937.3 L2610 1927.3 L2606.7 1987.3 L2603.3 1944 L2600 1884 L2596.7 1880.7 L2593.3 1887.3 L2590 1894 L2586.7 1900.7 L2583.3 1920.7 L2580 1937.3 L2576.7 1917.3 L2573.3 1930.7 L2570 1944 L2566.7 1950.7 L2563.3 1987.3 L2560 1990.7 L2556.7 2020.7 L2553.3 2037.3 L2550 2044 L2546.7 2054 L2543.3 2060.7 L2540 2067.3 L2536.7 2054 L2533.3 2054 L2530 2074 L2526.7 2077.3 L2523.3 2084 L2520 2094 L2516.7 2097.3 L2513.3 2094 L2510 2090.7 L2506.7 2090.7 L2503.3 2084 L2500 2080.7 L2496.7 2077.3 L2493.3 2067.3 L2490 2067.3 L2486.7 2067.3 L2483.3 2070.7 L2480 2087.3 L2476.7 2114 L2473.3 2094 L2470 2087.3 L2466.7 2067.3 L2463.3 2064 L2460 2047.3 L2456.7 2020.7 L2453.3 2010.7 L2450 1987.3 L2446.7 2007.3 L2443.3 2020.7 L2440 2020.7 L2436.7 2014 L2433.3 2024 L2430 2017.3 L2426.7 2014 L2423.3 2020.7 L2420 2020.7 L2416.7 2024 L2413.3 2037.3 L2410 2054 L2406.7 2060.7 L2403.3 2067.3 L2400 2074 L2396.7 2077.3 L2393.3 2084 L2390 2090.7 L2386.7 2097.3 L2383.3 2100.7 L2380 2107.3 L2376.7 2104 L2373.3 2107.3 L2370 2104 L2366.7 2104 L2363.3 2104 L2360 2104 L2356.7 2100.7 L2353.3 2104 L2350 2100.7 L2346.7 2107.3 L2343.3 2100.7 L2340 2097.3 L2336.7 2097.3 L2333.3 2104 L2330 2104 L2326.7 2107.3 L2323.3 2104 L2320 2110.7 L2316.7 2107.3 L2313.3 2084 L2310 2094 L2306.7 2094 L2303.3 2094 L2300 2070.7 L2296.7 2044 L2293.3 2037.3 L2290 2007.3 L2286.7 2010.7 L2283.3 2014 L2280 2007.3 L2276.7 1930.7 L2273.3 1970.7 L2270 1930.7 L2266.7 1887.3 L2263.3 1880.7 L2260 1887.3 L2256.7 1920.7 L2253.3 2004 L2250 2017.3 L2246.7 2027.3 L2243.3 2044 L2240 2064 L2236.7 2087.3 L2233.3 2097.3 L2230 2104 L2226.7 2100.7 L2223.3 2087.3 L2220 2094 L2216.7 2104 L2213.3 2107.3 L2210 2110.7 L2206.7 2107.3 L2203.3 2107.3 L2200 2094 L2196.7 2097.3 L2193.3 2100.7 L2190 2117.3 L2186.7 2124 L2183.3 2130.7 L2180 2117.3 L2176.7 2120.7 L2173.3 2124 L2170 2127.3 L2166.7 2120.7 L2163.3 2107.3 L2160 2094 L2156.7 2074 L2153.3 2090.7 L2150 2067.3 L2146.7 2044 L2143.3 2010.7 L2140 2000.7 L2136.7 2007.3 L2133.3 1970.7 L2130 1980.7 L2126.7 1990.7 L2123.3 2014 L2120 2020.7 L2116.7 2027.3 L2113.3 2037.3 L2110 2034 L2106.7 2027.3 L2103.3 2034 L2100 2044 L2096.7 2037.3 L2093.3 2044 L2090 2047.3 L2086.7 2057.3 L2083.3 2067.3 L2080 2077.3 L2076.7 2094 L2073.3 2114 L2070 2110.7 L2066.7 2110.7 L2063.3 2117.3 L2060 2100.7 L2056.7 2110.7 L2053.3 2107.3 L2050 2097.3 L2046.7 2094 L2043.3 2087.3 L2040 2077.3 L2036.7 2074 L2033.3 2077.3 L2030 2067.3 L2026.7 2060.7 L2023.3 2067.3 L2020 2077.3 L2016.7 2094 L2013.3 2104 L2010 2104 L2006.7 2094 L2003.3 2080.7 L2000 2084 L1996.7 2084 L1993.3 2054 Z" fill="#e4f4e4" stroke="none"/>
<path d="M353.3 2030.8 L356.7 2017.5 L360 1997.5 L363.3 1967.5 L366.7 1897.5 L370 1894.2 L373.3 1874.2 L376.7 1907.5 L380 1940.8 L383.3 1910.8 L386.7 1940.8 L390 1947.5 L393.3 1950.8 L396.7 1954.2 L400 1950.8 L403.3 1950.8 L406.7 1934.2 L410 1934.2 L413.3 1920.8 L416.7 1937.5 L420 1947.5 L423.3 1947.5 L426.7 1940.8 L430 1937.5 L433.3 1957.5 L436.7 1967.5 L440 1997.5 L443.3 2024.2 L446.7 2017.5 L450 2014.2 L453.3 2010.8 L456.7 2020.8 L460 2057.5 L463.3 2077.5 L466.7 2080.8 L470 2100.8 L473.3 2104.2 L476.7 2107.5 L480 2107.5 L483.3 2110.8 L486.7 2114.2 L490 2107.5 L493.3 2104.2 L496.7 2097.5 L500 2077.5 L503.3 2054.2 L506.7 2050.8 L510 2030.8 L513.3 2007.5 L516.7 1994.2 L520 1970.8 L523.3 1970.8 L526.7 1960.8 L530 1954.2 L533.3 1930.8 L536.7 1950.8 L540 1947.5 L543.3 1944.2 L546.7 1954.2 L550 1997.5 L553.3 2000.8 L556.7 1990.8 L560 2017.5 L563.3 2020.8 L566.7 2024.2 L570 2037.5 L573.3 2034.2 L576.7 2024.2 L580 2020.8 L583.3 2017.5 L586.7 2017.5 L590 2024.2 L593.3 2037.5 L596.7 2054.2 L600 2084.2 L603.3 2094.2 L606.7 2094.2 L610 2097.5 L613.3 2094.2 L616.7 2097.5 L620 2097.5 L623.3 2097.5 L626.7 2094.2 L630 2094.2 L633.3 2094.2 L636.7 2094.2 L640 2090.8 L643.3 2094.2 L646.7 2090.8 L650 2090.8 L653.3 2090.8 L656.7 2090.8 L656.7 2105.8 L653.3 2109.2 L650 2109.2 L646.7 2122.5 L643.3 2112.5 L640 2109.2 L636.7 2109.2 L633.3 2119.2 L630 2105.8 L626.7 2112.5 L623.3 2112.5 L620 2112.5 L616.7 2112.5 L613.3 2112.5 L610 2112.5 L606.7 2109.2 L603.3 2112.5 L600 2099.2 L596.7 2085.8 L593.3 2055.8 L590 2075.8 L586.7 2039.2 L583.3 2045.8 L580 2049.2 L576.7 2052.5 L573.3 2075.8 L570 2075.8 L566.7 2052.5 L563.3 2069.2 L560 2052.5 L556.7 2015.8 L553.3 2022.5 L550 2025.8 L546.7 2002.5 L543.3 1965.8 L540 1979.2 L536.7 1985.8 L533.3 2012.5 L530 2005.8 L526.7 2002.5 L523.3 2002.5 L520 2005.8 L516.7 2019.2 L513.3 2042.5 L510 2059.2 L506.7 2072.5 L503.3 2092.5 L500 2099.2 L496.7 2119.2 L493.3 2129.2 L490 2132.5 L486.7 2142.5 L483.3 2135.8 L480 2132.5 L476.7 2132.5 L473.3 2129.2 L470 2125.8 L466.7 2099.2 L463.3 2092.5 L460 2079.2 L456.7 2052.5 L453.3 2025.8 L450 2039.2 L446.7 2062.5 L443.3 2039.2 L440 2042.5 L436.7 1985.8 L433.3 1979.2 L430 1962.5 L426.7 1965.8 L423.3 1972.5 L420 1969.2 L416.7 1985.8 L413.3 1952.5 L410 1955.8 L406.7 1972.5 L403.3 1975.8 L400 1972.5 L396.7 1975.8 L393.3 2002.5 L390 2005.8 L386.7 2009.2 L383.3 1985.8 L380 2029.2 L376.7 1965.8 L373.3 1962.5 L370 1969.2 L366.7 1962.5 L363.3 2019.2 L360 2025.8 L356.7 2039.2 L353.3 2045.8 Z M682.7 2020.8 L685 1997.5 L687.3 1944.2 L690 1964.2 L693.3 1980.8 L696.7 1990.8 L700 2020.8 L703.3 2007.5 L706.7 2024.2 L710 2027.5 L713.3 2030.8 L716.7 2060.8 L720 2067.5 L723.3 2074.2 L726.7 2080.8 L730 2087.5 L733.3 2074.2 L736.7 2077.5 L740 2067.5 L743.3 2064.2 L746.7 2064.2 L750 2064.2 L753.3 2047.5 L756.7 2040.8 L760 2054.2 L760 2072.5 L756.7 2059.2 L753.3 2075.8 L750 2079.2 L746.7 2079.2 L743.3 2079.2 L740 2085.8 L736.7 2095.8 L733.3 2099.2 L730 2122.5 L726.7 2102.5 L723.3 2095.8 L720 2085.8 L716.7 2075.8 L713.3 2072.5 L710 2045.8 L706.7 2052.5 L703.3 2052.5 L700 2082.5 L696.7 2035.8 L693.3 2022.5 L690 2012.5 L687.3 2005.8 L685 2019.2 L682.7 2035.8 Z M766.7 2090.8 L770 2094.2 L770 2112.5 L766.7 2105.8 Z M783.3 2097.5 L786.7 2094.2 L790 2090.8 L793.3 2104.2 L796.7 2094.2 L800 2107.5 L803.3 2107.5 L806.7 2100.8 L810 2100.8 L813.3 2104.2 L816.7 2100.8 L820 2100.8 L823.3 2097.5 L826.7 2064.2 L830 2037.5 L833.3 2027.5 L836.7 2017.5 L840 1954.2 L843.3 1960.8 L846.7 1857.5 L850 1877.5 L853.3 1884.2 L856.7 1880.8 L860 1890.8 L863.3 1907.5 L866.7 1954.2 L870 1967.5 L873.3 2014.2 L876.7 2037.5 L880 2054.2 L883.3 2084.2 L886.7 2094.2 L890 2077.5 L893.3 2107.5 L896.7 2100.8 L900 2107.5 L903.3 2100.8 L906.7 2110.8 L910 2120.8 L913.3 2127.5 L916.7 2124.2 L920 2120.8 L923.3 2107.5 L926.7 2100.8 L930 2114.2 L933.3 2117.5 L936.7 2090.8 L940 2110.8 L943.3 2114.2 L946.7 2117.5 L950 2120.8 L953.3 2120.8 L956.7 2124.2 L960 2110.8 L963.3 2094.2 L966.7 2080.8 L970 2070.8 L973.3 2064.2 L976.7 2047.5 L980 2017.5 L983.3 2050.8 L986.7 2054.2 L990 2064.2 L993.3 2064.2 L996.7 2060.8 L1000 2047.5 L1003.3 2044.2 L1006.7 2064.2 L1010 2074.2 L1013.3 2097.5 L1016.7 2104.2 L1020 2100.8 L1023.3 2084.2 L1026.7 2084.2 L1030 2080.8 L1033.3 2064.2 L1036.7 2057.5 L1040 2080.8 L1043.3 2084.2 L1046.7 2080.8 L1050 2057.5 L1053.3 2057.5 L1056.7 2064.2 L1060 2067.5 L1063.3 2070.8 L1066.7 2070.8 L1070 2074.2 L1073.3 2070.8 L1076.7 2067.5 L1080 2070.8 L1083.3 2077.5 L1086.7 2090.8 L1090 2094.2 L1093.3 2097.5 L1096.7 2094.2 L1100 2090.8 L1103.3 2087.5 L1106.7 2077.5 L1110 2080.8 L1113.3 2074.2 L1116.7 2070.8 L1120 2074.2 L1123.3 2074.2 L1126.7 2070.8 L1130 2064.2 L1133.3 2047.5 L1136.7 2007.5 L1140 1997.5 L1143.3 1974.2 L1146.7 1894.2 L1150 1814.2 L1153.3 1774.2 L1156.7 1794.2 L1160 1807.5 L1163.3 1807.5 L1166.7 1780.8 L1170 1757.5 L1173.3 1727.5 L1176.7 1740.8 L1180 1777.5 L1183.3 1854.2 L1186.7 1854.2 L1190 1860.8 L1193.3 1850.8 L1196.7 1854.2 L1200 1834.2 L1203.3 1867.5 L1206.7 1874.2 L1210 1897.5 L1213.3 1947.5 L1216.7 1977.5 L1220 1977.5 L1223.3 2010.8 L1226.7 2027.5 L1230 2047.5 L1233.3 2074.2 L1236.7 2084.2 L1240 2087.5 L1243.3 2090.8 L1246.7 2094.2 L1250 2097.5 L1253.3 2087.5 L1256.7 2077.5 L1260 2050.8 L1263.3 2054.2 L1266.7 2057.5 L1270 2047.5 L1273.3 2044.2 L1273.3 2059.2 L1270 2069.2 L1266.7 2085.8 L1263.3 2079.2 L1260 2079.2 L1256.7 2099.2 L1253.3 2119.2 L1250 2119.2 L1246.7 2119.2 L1243.3 2109.2 L1240 2102.5 L1236.7 2099.2 L1233.3 2092.5 L1230 2075.8 L1226.7 2045.8 L1223.3 2025.8 L1220 1999.2 L1216.7 1995.8 L1213.3 1975.8 L1210 1939.2 L1206.7 1905.8 L1203.3 1905.8 L1200 1872.5 L1196.7 1879.2 L1193.3 1882.5 L1190 1885.8 L1186.7 1882.5 L1183.3 1915.8 L1180 1812.5 L1176.7 1799.2 L1173.3 1785.8 L1170 1825.8 L1166.7 1825.8 L1163.3 1852.5 L1160 1872.5 L1156.7 1852.5 L1153.3 1852.5 L1150 1869.2 L1146.7 1952.5 L1143.3 1999.2 L1140 2022.5 L1136.7 2045.8 L1133.3 2072.5 L1130 2085.8 L1126.7 2095.8 L1123.3 2089.2 L1120 2092.5 L1116.7 2092.5 L1113.3 2095.8 L1110 2099.2 L1106.7 2105.8 L1103.3 2102.5 L1100 2105.8 L1096.7 2109.2 L1093.3 2112.5 L1090 2115.8 L1086.7 2109.2 L1083.3 2092.5 L1080 2085.8 L1076.7 2082.5 L1073.3 2085.8 L1070 2085.8 L1066.7 2082.5 L1063.3 2082.5 L1060 2079.2 L1056.7 2079.2 L1053.3 2072.5 L1050 2095.8 L1046.7 2099.2 L1043.3 2095.8 L1040 2095.8 L1036.7 2079.2 L1033.3 2089.2 L1030 2099.2 L1026.7 2102.5 L1023.3 2109.2 L1020 2119.2 L1016.7 2122.5 L1013.3 2115.8 L1010 2099.2 L1006.7 2092.5 L1003.3 2079.2 L1000 2075.8 L996.7 2085.8 L993.3 2089.2 L990 2092.5 L986.7 2085.8 L983.3 2069.2 L980 2065.8 L976.7 2085.8 L973.3 2095.8 L970 2092.5 L966.7 2102.5 L963.3 2119.2 L960 2129.2 L956.7 2139.2 L953.3 2142.5 L950 2139.2 L946.7 2132.5 L943.3 2135.8 L940 2129.2 L936.7 2115.8 L933.3 2135.8 L930 2139.2 L926.7 2125.8 L923.3 2132.5 L920 2135.8 L916.7 2135.8 L913.3 2145.8 L910 2142.5 L906.7 2125.8 L903.3 2119.2 L900 2119.2 L896.7 2122.5 L893.3 2122.5 L890 2112.5 L886.7 2112.5 L883.3 2112.5 L880 2072.5 L876.7 2055.8 L873.3 2042.5 L870 1995.8 L866.7 1965.8 L863.3 1949.2 L860 1912.5 L856.7 1909.2 L853.3 1915.8 L850 1912.5 L846.7 1942.5 L843.3 1989.2 L840 2012.5 L836.7 2035.8 L833.3 2059.2 L830 2065.8 L826.7 2112.5 L823.3 2122.5 L820 2119.2 L816.7 2115.8 L813.3 2119.2 L810 2119.2 L806.7 2122.5 L803.3 2132.5 L800 2135.8 L796.7 2115.8 L793.3 2119.2 L790 2105.8 L786.7 2112.5 L783.3 2109.2 Z M1285 1990.8 L1288.3 1997.5 L1291.7 1980.8 L1295 1977.5 L1298.3 1954.2 L1301.7 1970.8 L1305 1924.2 L1308.3 1914.2 L1311.7 1907.5 L1315 1910.8 L1318.3 1904.2 L1321.7 1884.2 L1325 1850.8 L1328.3 1857.5 L1331.7 1864.2 L1335 1877.5 L1338.3 1894.2 L1341.7 1897.5 L1345 1884.2 L1348.3 1894.2 L1351.7 1897.5 L1355 1900.8 L1358.3 1894.2 L1361.7 1894.2 L1365 1880.8 L1368.3 1880.8 L1371.7 1887.5 L1375 1890.8 L1378.3 1927.5 L1381.7 1964.2 L1385 1964.2 L1388.3 1980.8 L1391.7 2037.5 L1395 2037.5 L1398.3 2054.2 L1401.7 2057.5 L1405 2050.8 L1408.3 2060.8 L1411.7 2060.8 L1415 2064.2 L1418.3 2060.8 L1421.7 2064.2 L1425 2064.2 L1428.3 2080.8 L1431.7 2090.8 L1435 2084.2 L1438.3 2077.5 L1441.7 2084.2 L1445 2080.8 L1448.3 2064.2 L1451.7 2047.5 L1455 2034.2 L1458.3 1967.5 L1461.7 1900.8 L1465 1860.8 L1468.3 1804.2 L1471.7 1734.2 L1475 1727.5 L1478.3 1754.2 L1481.7 1760.8 L1485 1827.5 L1488.3 1887.5 L1491.7 1930.8 L1495 1940.8 L1498.3 1954.2 L1501.7 1974.2 L1505 1980.8 L1508.3 1997.5 L1511.7 1984.2 L1515 2000.8 L1518.3 1997.5 L1521.7 2007.5 L1525 1977.5 L1528.3 1977.5 L1531.7 1977.5 L1535 1974.2 L1538.3 1970.8 L1541.7 1964.2 L1545 1947.5 L1548.3 1987.5 L1551.7 2007.5 L1555 2034.2 L1558.3 2040.8 L1561.7 2044.2 L1565 2020.8 L1568.3 2050.8 L1571.7 2067.5 L1575 2067.5 L1578.3 2064.2 L1581.7 2064.2 L1585 2070.8 L1588.3 2064.2 L1591.7 2060.8 L1595 2064.2 L1598.3 2057.5 L1601.7 2047.5 L1605 2040.8 L1608.3 2037.5 L1611.7 2040.8 L1615 2030.8 L1618.3 2020.8 L1621.7 2007.5 L1625 1997.5 L1628.3 1944.2 L1631.7 1927.5 L1635 1887.5 L1638.3 1844.2 L1641.7 1917.5 L1645 1937.5 L1648.3 1960.8 L1651.7 1954.2 L1655 1954.2 L1655 1979.2 L1651.7 2005.8 L1648.3 2005.8 L1645 1972.5 L1641.7 1945.8 L1638.3 1925.8 L1635 1955.8 L1631.7 1969.2 L1628.3 1995.8 L1625 2012.5 L1621.7 2025.8 L1618.3 2035.8 L1615 2042.5 L1611.7 2052.5 L1608.3 2052.5 L1605 2055.8 L1601.7 2062.5 L1598.3 2072.5 L1595 2079.2 L1591.7 2075.8 L1588.3 2079.2 L1585 2089.2 L1581.7 2079.2 L1578.3 2082.5 L1575 2082.5 L1571.7 2085.8 L1568.3 2065.8 L1565 2052.5 L1561.7 2059.2 L1558.3 2055.8 L1555 2055.8 L1551.7 2035.8 L1548.3 1999.2 L1545 1982.5 L1541.7 1985.8 L1538.3 1989.2 L1535 1989.2 L1531.7 2009.2 L1528.3 1995.8 L1525 2002.5 L1521.7 2032.5 L1518.3 2012.5 L1515 2015.8 L1511.7 2009.2 L1508.3 2019.2 L1505 2005.8 L1501.7 1995.8 L1498.3 1985.8 L1495 1972.5 L1491.7 1955.8 L1488.3 1925.8 L1485 1839.2 L1481.7 1772.5 L1478.3 1782.5 L1475 1785.8 L1471.7 1812.5 L1468.3 1839.2 L1465 1892.5 L1461.7 1945.8 L1458.3 2009.2 L1455 2052.5 L1451.7 2072.5 L1448.3 2082.5 L1445 2099.2 L1441.7 2102.5 L1438.3 2102.5 L1435 2105.8 L1431.7 2115.8 L1428.3 2099.2 L1425 2082.5 L1421.7 2085.8 L1418.3 2082.5 L1415 2082.5 L1411.7 2082.5 L1408.3 2082.5 L1405 2075.8 L1401.7 2075.8 L1398.3 2072.5 L1395 2059.2 L1391.7 2052.5 L1388.3 2032.5 L1385 1985.8 L1381.7 1982.5 L1378.3 1982.5 L1375 1905.8 L1371.7 1902.5 L1368.3 1895.8 L1365 1899.2 L1361.7 1915.8 L1358.3 1919.2 L1355 1925.8 L1351.7 1929.2 L1348.3 1935.8 L1345 1915.8 L1341.7 1925.8 L1338.3 1929.2 L1335 1925.8 L1331.7 1879.2 L1328.3 1879.2 L1325 1869.2 L1321.7 1912.5 L1318.3 1925.8 L1315 1939.2 L1311.7 1959.2 L1308.3 1952.5 L1305 1965.8 L1301.7 1989.2 L1298.3 1989.2 L1295 2002.5 L1291.7 2015.8 L1288.3 2022.5 L1285 2015.8 Z M1726.7 2057.5 L1730 2054.2 L1733.3 2054.2 L1736.7 2054.2 L1740 2074.2 L1743.3 2074.2 L1746.7 2067.5 L1750 2050.8 L1753.3 2057.5 L1756.7 2050.8 L1760 2044.2 L1763.3 2040.8 L1766.7 2030.8 L1770 2020.8 L1773.3 2010.8 L1776.7 2000.8 L1780 1970.8 L1783.3 1974.2 L1786.7 1980.8 L1790 1960.8 L1793.3 1960.8 L1796.7 1947.5 L1800 1920.8 L1803.3 1914.2 L1806.7 1907.5 L1810 1914.2 L1813.3 1910.8 L1816.7 1910.8 L1820 1907.5 L1823.3 1924.2 L1826.7 1964.2 L1830 1944.2 L1833.3 1947.5 L1836.7 1964.2 L1840 1984.2 L1843.3 2000.8 L1846.7 2010.8 L1850 1990.8 L1853.3 1990.8 L1856.7 2014.2 L1860 2027.5 L1863.3 2047.5 L1866.7 2047.5 L1870 2047.5 L1873.3 2037.5 L1876.7 2057.5 L1880 2074.2 L1883.3 2067.5 L1886.7 2054.2 L1890 2054.2 L1893.3 2047.5 L1896.7 2047.5 L1900 2044.2 L1903.3 2040.8 L1906.7 2037.5 L1910 2037.5 L1913.3 2030.8 L1916.7 2020.8 L1920 2010.8 L1920 2029.2 L1916.7 2035.8 L1913.3 2045.8 L1910 2052.5 L1906.7 2055.8 L1903.3 2059.2 L1900 2062.5 L1896.7 2062.5 L1893.3 2065.8 L1890 2069.2 L1886.7 2075.8 L1883.3 2082.5 L1880 2095.8 L1876.7 2079.2 L1873.3 2055.8 L1870 2065.8 L1866.7 2062.5 L1863.3 2062.5 L1860 2052.5 L1856.7 2032.5 L1853.3 2005.8 L1850 2005.8 L1846.7 2035.8 L1843.3 2025.8 L1840 2005.8 L1836.7 1989.2 L1833.3 1972.5 L1830 1965.8 L1826.7 2015.8 L1823.3 1972.5 L1820 1929.2 L1816.7 1939.2 L1813.3 1932.5 L1810 1932.5 L1806.7 1925.8 L1803.3 1932.5 L1800 1945.8 L1796.7 2002.5 L1793.3 1999.2 L1790 1992.5 L1786.7 2005.8 L1783.3 2012.5 L1780 2005.8 L1776.7 2029.2 L1773.3 2042.5 L1770 2042.5 L1766.7 2052.5 L1763.3 2055.8 L1760 2062.5 L1756.7 2069.2 L1753.3 2075.8 L1750 2072.5 L1746.7 2082.5 L1743.3 2085.8 L1740 2092.5 L1736.7 2072.5 L1733.3 2069.2 L1730 2072.5 L1726.7 2079.2 Z M1993.3 2034.2 L1996.7 2060.8 L2000 2064.2 L2003.3 2060.8 L2006.7 2077.5 L2010 2087.5 L2013.3 2087.5 L2016.7 2070.8 L2020 2057.5 L2023.3 2050.8 L2026.7 2040.8 L2030 2050.8 L2033.3 2060.8 L2036.7 2057.5 L2040 2057.5 L2043.3 2067.5 L2046.7 2077.5 L2050 2080.8 L2053.3 2084.2 L2056.7 2087.5 L2060 2080.8 L2063.3 2087.5 L2066.7 2084.2 L2070 2087.5 L2073.3 2087.5 L2076.7 2067.5 L2080 2057.5 L2083.3 2047.5 L2086.7 2034.2 L2090 2024.2 L2093.3 2024.2 L2096.7 2014.2 L2100 2007.5 L2103.3 1984.2 L2106.7 2007.5 L2110 2010.8 L2113.3 2014.2 L2116.7 2007.5 L2120 2000.8 L2123.3 1974.2 L2126.7 1967.5 L2130 1954.2 L2133.3 1944.2 L2136.7 1967.5 L2140 1974.2 L2143.3 1984.2 L2146.7 2010.8 L2150 2034.2 L2153.3 2037.5 L2156.7 2047.5 L2160 2070.8 L2163.3 2090.8 L2166.7 2104.2 L2170 2110.8 L2173.3 2107.5 L2176.7 2104.2 L2180 2100.8 L2183.3 2110.8 L2186.7 2107.5 L2190 2097.5 L2193.3 2080.8 L2196.7 2074.2 L2200 2077.5 L2203.3 2084.2 L2206.7 2094.2 L2210 2094.2 L2213.3 2090.8 L2216.7 2087.5 L2220 2077.5 L2223.3 2067.5 L2226.7 2080.8 L2230 2087.5 L2233.3 2080.8 L2236.7 2067.5 L2240 2040.8 L2243.3 2020.8 L2246.7 2010.8 L2250 1984.2 L2253.3 1914.2 L2256.7 1890.8 L2260 1807.5 L2263.3 1837.5 L2266.7 1847.5 L2270 1897.5 L2273.3 1907.5 L2276.7 1907.5 L2280 1914.2 L2283.3 1967.5 L2286.7 1967.5 L2290 1977.5 L2293.3 2014.2 L2296.7 2024.2 L2300 2034.2 L2303.3 2060.8 L2306.7 2067.5 L2310 2074.2 L2313.3 2044.2 L2316.7 2080.8 L2320 2090.8 L2323.3 2087.5 L2326.7 2090.8 L2330 2087.5 L2333.3 2087.5 L2336.7 2077.5 L2340 2077.5 L2343.3 2084.2 L2346.7 2084.2 L2350 2080.8 L2353.3 2080.8 L2356.7 2080.8 L2360 2087.5 L2363.3 2084.2 L2366.7 2084.2 L2370 2084.2 L2373.3 2087.5 L2376.7 2080.8 L2380 2087.5 L2383.3 2084.2 L2386.7 2077.5 L2390 2070.8 L2393.3 2064.2 L2396.7 2057.5 L2400 2050.8 L2403.3 2047.5 L2406.7 2040.8 L2410 2020.8 L2413.3 2010.8 L2416.7 2007.5 L2420 2004.2 L2423.3 2000.8 L2426.7 1994.2 L2430 1997.5 L2433.3 1987.5 L2436.7 1987.5 L2440 1987.5 L2443.3 1994.2 L2446.7 1950.8 L2450 1954.2 L2453.3 1974.2 L2456.7 1997.5 L2460 2024.2 L2463.3 2037.5 L2466.7 2034.2 L2470 2057.5 L2473.3 2060.8 L2476.7 2074.2 L2480 2060.8 L2483.3 2050.8 L2486.7 2050.8 L2490 2050.8 L2493.3 2047.5 L2496.7 2060.8 L2500 2064.2 L2503.3 2064.2 L2506.7 2067.5 L2510 2070.8 L2513.3 2074.2 L2516.7 2080.8 L2520 2074.2 L2523.3 2064.2 L2526.7 2057.5 L2530 2050.8 L2533.3 2030.8 L2536.7 2030.8 L2540 2030.8 L2543.3 2044.2 L2546.7 2034.2 L2550 2027.5 L2553.3 2014.2 L2556.7 1994.2 L2560 1967.5 L2563.3 1920.8 L2566.7 1927.5 L2570 1914.2 L2573.3 1887.5 L2576.7 1884.2 L2580 1894.2 L2583.3 1887.5 L2586.7 1880.8 L2590 1874.2 L2593.3 1870.8 L2596.7 1854.2 L2600 1854.2 L2603.3 1880.8 L2606.7 1890.8 L2610 1897.5 L2613.3 1910.8 L2616.7 1910.8 L2620 1910.8 L2623.3 1920.8 L2626.7 1930.8 L2630 1934.2 L2633.3 1930.8 L2636.7 1927.5 L2640 1937.5 L2643.3 1980.8 L2646.7 2014.2 L2650 2030.8 L2653.3 2050.8 L2656.7 2064.2 L2660 2084.2 L2663.3 2084.2 L2666.7 2077.5 L2670 2090.8 L2673.3 2090.8 L2676.7 2090.8 L2680 2090.8 L2683.3 2100.8 L2686.7 2090.8 L2690 2087.5 L2693.3 2080.8 L2696.7 2074.2 L2700 2054.2 L2703.3 2057.5 L2706.7 2060.8 L2710 2060.8 L2713.3 2060.8 L2716.7 2060.8 L2720 2057.5 L2723.3 2037.5 L2726.7 2024.2 L2730 2007.5 L2733.3 1997.5 L2736.7 1964.2 L2740 1940.8 L2743.3 1900.8 L2746.7 1890.8 L2750 1894.2 L2753.3 1890.8 L2756.7 1894.2 L2760 1874.2 L2763.3 1884.2 L2766.7 1904.2 L2770 1944.2 L2773.3 1974.2 L2776.7 1947.5 L2780 2000.8 L2783.3 1980.8 L2786.7 2014.2 L2790 2007.5 L2793.3 2000.8 L2796.7 1994.2 L2800 1987.5 L2803.3 2014.2 L2806.7 2040.8 L2810 2097.5 L2813.3 2097.5 L2816.7 2090.8 L2820 2097.5 L2823.3 2090.8 L2826.7 2100.8 L2830 2104.2 L2833.3 2104.2 L2836.7 2104.2 L2840 2097.5 L2843.3 2080.8 L2846.7 2080.8 L2850 2070.8 L2853.3 2057.5 L2856.7 2044.2 L2860 2050.8 L2863.3 2040.8 L2866.7 2037.5 L2870 2034.2 L2873.3 1997.5 L2876.7 1964.2 L2880 1954.2 L2883.3 1930.8 L2886.7 1887.5 L2890 1890.8 L2893.3 1887.5 L2896.7 1887.5 L2900 1874.2 L2900 1909.2 L2896.7 1909.2 L2893.3 1902.5 L2890 1912.5 L2886.7 1919.2 L2883.3 1952.5 L2880 1972.5 L2876.7 1989.2 L2873.3 2022.5 L2870 2049.2 L2866.7 2055.8 L2863.3 2062.5 L2860 2072.5 L2856.7 2062.5 L2853.3 2072.5 L2850 2085.8 L2846.7 2092.5 L2843.3 2095.8 L2840 2109.2 L2836.7 2122.5 L2833.3 2119.2 L2830 2122.5 L2826.7 2115.8 L2823.3 2105.8 L2820 2109.2 L2816.7 2112.5 L2813.3 2115.8 L2810 2112.5 L2806.7 2079.2 L2803.3 2039.2 L2800 2005.8 L2796.7 2012.5 L2793.3 2022.5 L2790 2029.2 L2786.7 2072.5 L2783.3 2025.8 L2780 2035.8 L2776.7 1985.8 L2773.3 1992.5 L2770 1969.2 L2766.7 1935.8 L2763.3 1902.5 L2760 1892.5 L2756.7 1915.8 L2753.3 1909.2 L2750 1912.5 L2746.7 1922.5 L2743.3 1929.2 L2740 1972.5 L2736.7 1985.8 L2733.3 2012.5 L2730 2032.5 L2726.7 2039.2 L2723.3 2069.2 L2720 2075.8 L2716.7 2079.2 L2713.3 2085.8 L2710 2075.8 L2706.7 2075.8 L2703.3 2075.8 L2700 2079.2 L2696.7 2089.2 L2693.3 2099.2 L2690 2105.8 L2686.7 2109.2 L2683.3 2132.5 L2680 2112.5 L2676.7 2115.8 L2673.3 2109.2 L2670 2112.5 L2666.7 2102.5 L2663.3 2102.5 L2660 2112.5 L2656.7 2082.5 L2653.3 2065.8 L2650 2055.8 L2646.7 2039.2 L2643.3 2035.8 L2640 1972.5 L2636.7 1949.2 L2633.3 1949.2 L2630 1965.8 L2626.7 1952.5 L2623.3 1942.5 L2620 1932.5 L2616.7 1929.2 L2613.3 1935.8 L2610 1925.8 L2606.7 1985.8 L2603.3 1942.5 L2600 1882.5 L2596.7 1879.2 L2593.3 1885.8 L2590 1892.5 L2586.7 1899.2 L2583.3 1919.2 L2580 1935.8 L2576.7 1915.8 L2573.3 1929.2 L2570 1942.5 L2566.7 1949.2 L2563.3 1985.8 L2560 1989.2 L2556.7 2019.2 L2553.3 2035.8 L2550 2042.5 L2546.7 2052.5 L2543.3 2059.2 L2540 2065.8 L2536.7 2052.5 L2533.3 2052.5 L2530 2072.5 L2526.7 2075.8 L2523.3 2082.5 L2520 2092.5 L2516.7 2095.8 L2513.3 2092.5 L2510 2089.2 L2506.7 2089.2 L2503.3 2082.5 L2500 2079.2 L2496.7 2075.8 L2493.3 2065.8 L2490 2065.8 L2486.7 2065.8 L2483.3 2069.2 L2480 2085.8 L2476.7 2112.5 L2473.3 2092.5 L2470 2085.8 L2466.7 2065.8 L2463.3 2062.5 L2460 2045.8 L2456.7 2019.2 L2453.3 2009.2 L2450 1985.8 L2446.7 2005.8 L2443.3 2019.2 L2440 2019.2 L2436.7 2012.5 L2433.3 2022.5 L2430 2015.8 L2426.7 2012.5 L2423.3 2019.2 L2420 2019.2 L2416.7 2022.5 L2413.3 2035.8 L2410 2052.5 L2406.7 2059.2 L2403.3 2065.8 L2400 2072.5 L2396.7 2075.8 L2393.3 2082.5 L2390 2089.2 L2386.7 2095.8 L2383.3 2099.2 L2380 2105.8 L2376.7 2102.5 L2373.3 2105.8 L2370 2102.5 L2366.7 2102.5 L2363.3 2102.5 L2360 2102.5 L2356.7 2099.2 L2353.3 2102.5 L2350 2099.2 L2346.7 2105.8 L2343.3 2099.2 L2340 2095.8 L2336.7 2095.8 L2333.3 2102.5 L2330 2102.5 L2326.7 2105.8 L2323.3 2102.5 L2320 2109.2 L2316.7 2105.8 L2313.3 2082.5 L2310 2092.5 L2306.7 2092.5 L2303.3 2092.5 L2300 2069.2 L2296.7 2042.5 L2293.3 2035.8 L2290 2005.8 L2286.7 2009.2 L2283.3 2012.5 L2280 2005.8 L2276.7 1929.2 L2273.3 1969.2 L2270 1929.2 L2266.7 1885.8 L2263.3 1879.2 L2260 1885.8 L2256.7 1919.2 L2253.3 2002.5 L2250 2015.8 L2246.7 2025.8 L2243.3 2042.5 L2240 2062.5 L2236.7 2085.8 L2233.3 2095.8 L2230 2102.5 L2226.7 2099.2 L2223.3 2085.8 L2220 2092.5 L2216.7 2102.5 L2213.3 2105.8 L2210 2109.2 L2206.7 2105.8 L2203.3 2105.8 L2200 2092.5 L2196.7 2095.8 L2193.3 2099.2 L2190 2115.8 L2186.7 2122.5 L2183.3 2129.2 L2180 2115.8 L2176.7 2119.2 L2173.3 2122.5 L2170 2125.8 L2166.7 2119.2 L2163.3 2105.8 L2160 2092.5 L2156.7 2072.5 L2153.3 2089.2 L2150 2065.8 L2146.7 2042.5 L2143.3 2009.2 L2140 1999.2 L2136.7 2005.8 L2133.3 1969.2 L2130 1979.2 L2126.7 1989.2 L2123.3 2012.5 L2120 2019.2 L2116.7 2025.8 L2113.3 2035.8 L2110 2032.5 L2106.7 2025.8 L2103.3 2032.5 L2100 2042.5 L2096.7 2035.8 L2093.3 2042.5 L2090 2045.8 L2086.7 2055.8 L2083.3 2065.8 L2080 2075.8 L2076.7 2092.5 L2073.3 2112.5 L2070 2109.2 L2066.7 2109.2 L2063.3 2115.8 L2060 2099.2 L2056.7 2109.2 L2053.3 2105.8 L2050 2095.8 L2046.7 2092.5 L2043.3 2085.8 L2040 2075.8 L2036.7 2072.5 L2033.3 2075.8 L2030 2065.8 L2026.7 2059.2 L2023.3 2065.8 L2020 2075.8 L2016.7 2092.5 L2013.3 2102.5 L2010 2102.5 L2006.7 2092.5 L2003.3 2079.2 L2000 2082.5 L1996.7 2082.5 L1993.3 2052.5 Z" fill="#cdeccd" stroke="#cdeccd" stroke-width="2" stroke-linejoin="round"/>
<path d="M353.3 2037 L356.7 2025.2 L360 2006.6 L363.3 1981.8 L366.7 1914.7 L370 1913.6 L373.3 1896.5 L376.7 1923.2 L380 1963.2 L383.3 1930.2 L386.7 1958.8 L390 1963.2 L393.3 1965.1 L396.7 1961.8 L400 1958.5 L403.3 1959.2 L406.7 1945.5 L410 1941.8 L413.3 1930.7 L416.7 1951 L420 1955.2 L423.3 1955.9 L426.7 1949.2 L430 1945.9 L433.3 1965.2 L436.7 1974.4 L440 2010.3 L443.3 2030.4 L446.7 2030.3 L450 2022.6 L453.3 2017 L456.7 2030.7 L460 2065.2 L463.3 2083.7 L466.7 2087.8 L470 2109.2 L473.3 2112.6 L476.7 2115.9 L480 2115.9 L483.3 2119.2 L486.7 2123.3 L490 2115.9 L493.3 2112.6 L496.7 2105.2 L500 2085.2 L503.3 2065.5 L506.7 2058.5 L510 2040 L513.3 2018.1 L516.7 2002.6 L520 1981.4 L523.3 1980.7 L526.7 1972.9 L530 1968.4 L533.3 1951.7 L536.7 1961.4 L540 1957.4 L543.3 1951.8 L546.7 1967.7 L550 2006.6 L553.3 2008.5 L556.7 1999.2 L560 2028.1 L563.3 2034.4 L566.7 2033.3 L570 2048.8 L573.3 2046.2 L576.7 2033.3 L580 2030 L583.3 2026.6 L586.7 2025.2 L590 2038.4 L593.3 2044.4 L596.7 2064 L600 2090.4 L603.3 2101.1 L606.7 2100.4 L610 2103.7 L613.3 2101.1 L616.7 2103.7 L620 2103.7 L623.3 2103.7 L626.7 2101.1 L630 2099.6 L633.3 2102.6 L636.7 2100.4 L640 2097.8 L643.3 2101.1 L646.7 2100.7 L650 2097.8 L653.3 2097.8 L656.7 2097 L656.7 2099.6 L653.3 2102.2 L650 2102.2 L646.7 2112.6 L643.3 2105.6 L640 2102.2 L636.7 2103 L633.3 2110.8 L630 2100.4 L626.7 2105.6 L623.3 2106.3 L620 2106.3 L616.7 2106.3 L613.3 2105.6 L610 2106.3 L606.7 2103 L603.3 2105.6 L600 2093 L596.7 2076 L593.3 2048.9 L590 2061.6 L586.7 2031.5 L583.3 2036.7 L580 2040 L576.7 2043.4 L573.3 2063.8 L570 2064.5 L566.7 2043.4 L563.3 2055.6 L560 2041.9 L556.7 2007.4 L553.3 2014.8 L550 2016.7 L546.7 1989 L543.3 1958.2 L540 1969.3 L536.7 1975.2 L533.3 1991.6 L530 1991.6 L526.7 1990.4 L523.3 1992.6 L520 1995.2 L516.7 2010.8 L513.3 2031.9 L510 2050 L506.7 2064.8 L503.3 2081.2 L500 2091.5 L496.7 2111.5 L493.3 2120.8 L490 2124.1 L486.7 2133.4 L483.3 2127.4 L480 2124.1 L476.7 2124.1 L473.3 2120.8 L470 2117.4 L466.7 2092.2 L463.3 2086.3 L460 2071.5 L456.7 2042.6 L453.3 2019.6 L450 2030.8 L446.7 2049.7 L443.3 2033 L440 2029.7 L436.7 1978.9 L433.3 1971.5 L430 1954.1 L426.7 1957.4 L423.3 1964.1 L420 1961.5 L416.7 1972.3 L413.3 1942.6 L410 1948.2 L406.7 1961.2 L403.3 1967.4 L400 1964.8 L396.7 1968.2 L393.3 1988.2 L390 1990.1 L386.7 1991.2 L383.3 1966.4 L380 2006.8 L376.7 1950.1 L373.3 1940.2 L370 1949.8 L366.7 1945.3 L363.3 2004.9 L360 2016.7 L356.7 2031.5 L353.3 2039.6 Z M682.7 2027 L685 2005.2 L687.3 1960.6 L690 1977.7 L693.3 1992.9 L696.7 2003.6 L700 2037.3 L703.3 2020.3 L706.7 2033.3 L710 2034.4 L713.3 2042.9 L716.7 2067 L720 2074.4 L723.3 2081.8 L726.7 2088.5 L730 2098.1 L733.3 2082.6 L736.7 2084.4 L740 2074.4 L743.3 2070.4 L746.7 2070.4 L750 2070.4 L753.3 2056.6 L756.7 2047.8 L760 2061.1 L760 2065.6 L756.7 2052.2 L753.3 2066.7 L750 2073 L746.7 2073 L743.3 2073 L740 2078.9 L736.7 2088.9 L733.3 2090.8 L730 2111.9 L726.7 2094.8 L723.3 2088.2 L720 2078.9 L716.7 2069.6 L713.3 2060.4 L710 2038.9 L706.7 2043.4 L703.3 2039.7 L700 2066 L696.7 2023 L693.3 2010.4 L690 1999 L687.3 1989.4 L685 2011.5 L682.7 2029.6 Z M766.7 2097 L770 2101.1 L770 2105.6 L766.7 2099.6 Z M783.3 2103 L786.7 2101.1 L790 2097 L793.3 2110.4 L796.7 2101.8 L800 2116.6 L803.3 2115.9 L806.7 2108.5 L810 2107.8 L813.3 2110.4 L816.7 2107 L820 2107.8 L823.3 2105.9 L826.7 2077.7 L830 2046.6 L833.3 2037.4 L836.7 2024.4 L840 1969.9 L843.3 1970 L846.7 1879.1 L850 1888.1 L853.3 1894 L856.7 1890 L860 1898.5 L863.3 1919.6 L866.7 1959.6 L870 1976.6 L873.3 2023.3 L876.7 2044.4 L880 2061.1 L883.3 2093.3 L886.7 2101.1 L890 2088.1 L893.3 2113.7 L896.7 2108.5 L900 2113 L903.3 2107.8 L906.7 2117 L910 2128.5 L913.3 2134.4 L916.7 2129.6 L920 2127 L923.3 2115.9 L926.7 2109.2 L930 2122.6 L933.3 2124.4 L936.7 2099.2 L940 2117.8 L943.3 2121.8 L946.7 2123.7 L950 2127.8 L953.3 2128.5 L956.7 2130.4 L960 2117.8 L963.3 2102.6 L966.7 2088.5 L970 2078.5 L973.3 2074 L976.7 2058.8 L980 2031 L983.3 2057.8 L986.7 2064 L990 2073.3 L993.3 2072.6 L996.7 2069.2 L1000 2056.6 L1003.3 2054.8 L1006.7 2073.3 L1010 2082.6 L1013.3 2104.4 L1016.7 2111.1 L1020 2107.8 L1023.3 2092.6 L1026.7 2091.1 L1030 2087.8 L1033.3 2072.6 L1036.7 2065.2 L1040 2087 L1043.3 2089.6 L1046.7 2087.8 L1050 2068.8 L1053.3 2063.7 L1056.7 2070.4 L1060 2073 L1063.3 2076.3 L1066.7 2076.3 L1070 2079.6 L1073.3 2077 L1076.7 2073.7 L1080 2077 L1083.3 2083.7 L1086.7 2097.8 L1090 2101.8 L1093.3 2103.7 L1096.7 2100.4 L1100 2097 L1103.3 2093.7 L1106.7 2086.6 L1110 2087.8 L1113.3 2081.8 L1116.7 2078.5 L1120 2081.1 L1123.3 2080.4 L1126.7 2079.2 L1130 2071.8 L1133.3 2055.9 L1136.7 2018.8 L1140 2005.9 L1143.3 1982.6 L1146.7 1909.9 L1150 1829.2 L1153.3 1794.3 L1156.7 1809.9 L1160 1824.7 L1163.3 1820.3 L1166.7 1793.6 L1170 1775.4 L1173.3 1743.2 L1176.7 1756.6 L1180 1788.1 L1183.3 1870.6 L1186.7 1863.3 L1190 1869.2 L1193.3 1860.7 L1196.7 1862.6 L1200 1845.5 L1203.3 1878.8 L1206.7 1884 L1210 1909.6 L1213.3 1956.6 L1216.7 1984.4 L1220 1985.2 L1223.3 2017 L1226.7 2034.4 L1230 2056.6 L1233.3 2081.1 L1236.7 2090.4 L1240 2093.7 L1243.3 2097.8 L1246.7 2102.6 L1250 2105.2 L1253.3 2097.4 L1256.7 2085.2 L1260 2060 L1263.3 2062.6 L1266.7 2066.6 L1270 2055.2 L1273.3 2050.4 L1273.3 2053 L1270 2061.5 L1266.7 2076.7 L1263.3 2070.8 L1260 2070 L1256.7 2091.5 L1253.3 2109.3 L1250 2111.5 L1246.7 2110.8 L1243.3 2102.2 L1240 2096.3 L1236.7 2093 L1233.3 2085.6 L1230 2066.7 L1226.7 2038.9 L1223.3 2019.6 L1220 1991.5 L1216.7 1988.9 L1213.3 1966.7 L1210 1927.1 L1206.7 1896 L1203.3 1894.5 L1200 1861.2 L1196.7 1870.8 L1193.3 1872.6 L1190 1877.4 L1186.7 1873.4 L1183.3 1899.4 L1180 1801.9 L1176.7 1783.4 L1173.3 1770.1 L1170 1807.9 L1166.7 1813 L1163.3 1839.7 L1160 1855.3 L1156.7 1836.8 L1153.3 1832.4 L1150 1854.2 L1146.7 1936.8 L1143.3 1990.8 L1140 2014.1 L1136.7 2034.5 L1133.3 2064.1 L1130 2078.2 L1126.7 2087.4 L1123.3 2083 L1120 2085.6 L1116.7 2084.8 L1113.3 2088.2 L1110 2092.2 L1106.7 2096.7 L1103.3 2096.3 L1100 2099.6 L1096.7 2103 L1093.3 2106.3 L1090 2108.2 L1086.7 2102.2 L1083.3 2086.3 L1080 2079.6 L1076.7 2076.3 L1073.3 2079.6 L1070 2080.4 L1066.7 2077 L1063.3 2077 L1060 2073.7 L1056.7 2073 L1053.3 2066.3 L1050 2084.5 L1046.7 2092.2 L1043.3 2090.4 L1040 2089.6 L1036.7 2071.5 L1033.3 2080.8 L1030 2092.2 L1026.7 2095.6 L1023.3 2100.8 L1020 2112.2 L1016.7 2115.6 L1013.3 2108.9 L1010 2090.8 L1006.7 2083.4 L1003.3 2068.6 L1000 2066.7 L996.7 2077.4 L993.3 2080.8 L990 2083.4 L986.7 2076 L983.3 2062.2 L980 2052.3 L976.7 2074.5 L973.3 2086 L970 2084.8 L966.7 2094.8 L963.3 2110.8 L960 2122.2 L956.7 2133 L953.3 2134.8 L950 2132.2 L946.7 2126.3 L943.3 2128.2 L940 2122.2 L936.7 2107.4 L933.3 2128.9 L930 2130.8 L926.7 2117.4 L923.3 2124.1 L920 2129.6 L916.7 2130.4 L913.3 2138.9 L910 2134.8 L906.7 2119.6 L903.3 2112.2 L900 2113.7 L896.7 2114.8 L893.3 2116.3 L890 2101.9 L886.7 2105.6 L883.3 2103.4 L880 2065.6 L876.7 2048.9 L873.3 2033.4 L870 1986.7 L866.7 1960.4 L863.3 1937.1 L860 1904.8 L856.7 1900 L853.3 1906 L850 1901.9 L846.7 1920.9 L843.3 1980 L840 1996.8 L836.7 2028.9 L833.3 2049.3 L830 2056.7 L826.7 2099 L823.3 2114.1 L820 2112.2 L816.7 2109.6 L813.3 2113 L810 2112.2 L806.7 2114.8 L803.3 2124.1 L800 2126.7 L796.7 2108.2 L793.3 2113 L790 2099.6 L786.7 2105.6 L783.3 2103.7 Z M1285 1999.2 L1288.3 2005.9 L1291.7 1991.4 L1295 1985.9 L1298.3 1964.8 L1301.7 1977.8 L1305 1936.2 L1308.3 1925.5 L1311.7 1921.8 L1315 1920 L1318.3 1911.8 L1321.7 1893.3 L1325 1857.8 L1328.3 1865.2 L1331.7 1870.4 L1335 1891 L1338.3 1904.8 L1341.7 1906.6 L1345 1894 L1348.3 1906.2 L1351.7 1907.4 L1355 1909.2 L1358.3 1902.6 L1361.7 1901.8 L1365 1887.8 L1368.3 1887 L1371.7 1893.7 L1375 1897 L1378.3 1942.5 L1381.7 1971.1 L1385 1971.8 L1388.3 1995.1 L1391.7 2043.7 L1395 2045.2 L1398.3 2061.1 L1401.7 2064.4 L1405 2059.2 L1408.3 2068.5 L1411.7 2068.5 L1415 2071.1 L1418.3 2068.5 L1421.7 2071.8 L1425 2071.1 L1428.3 2087.8 L1431.7 2099.2 L1435 2091.8 L1438.3 2085.9 L1441.7 2091.1 L1445 2087.8 L1448.3 2071.1 L1451.7 2055.9 L1455 2041.1 L1458.3 1979.6 L1461.7 1913.6 L1465 1870.7 L1468.3 1814.8 L1471.7 1754.3 L1475 1743.2 L1478.3 1763.3 L1481.7 1766.3 L1485 1833 L1488.3 1898.8 L1491.7 1939.2 L1495 1950.7 L1498.3 1964 L1501.7 1981.8 L1505 1989.2 L1508.3 2005.2 L1511.7 1992.6 L1515 2007 L1518.3 2003.7 L1521.7 2015.9 L1525 1985.9 L1528.3 1984.4 L1531.7 1987.4 L1535 1980.4 L1538.3 1977.8 L1541.7 1971.8 L1545 1958.1 L1548.3 1993 L1551.7 2016.6 L1555 2041.8 L1558.3 2047 L1561.7 2050.4 L1565 2030.7 L1568.3 2057 L1571.7 2074.4 L1575 2073.7 L1578.3 2071.1 L1581.7 2070.4 L1585 2077.8 L1588.3 2070.4 L1591.7 2067 L1595 2070.4 L1598.3 2063.7 L1601.7 2053.7 L1605 2047 L1608.3 2043.7 L1611.7 2046.3 L1615 2036.3 L1618.3 2027 L1621.7 2014.4 L1625 2003.7 L1628.3 1958.4 L1631.7 1939.6 L1635 1905.4 L1638.3 1865 L1641.7 1926.6 L1645 1948.1 L1648.3 1973.6 L1651.7 1968.4 L1655 1962.6 L1655 1970.8 L1651.7 1991.6 L1648.3 1993 L1645 1961.9 L1641.7 1936.7 L1638.3 1905 L1635 1937.9 L1631.7 1957.1 L1628.3 1981.6 L1625 2006.3 L1621.7 2018.9 L1618.3 2029.6 L1615 2037 L1611.7 2047 L1608.3 2046.3 L1605 2049.6 L1601.7 2056.3 L1598.3 2066.3 L1595 2073 L1591.7 2069.6 L1588.3 2073 L1585 2082.2 L1581.7 2073 L1578.3 2075.6 L1575 2076.3 L1571.7 2078.9 L1568.3 2059.6 L1565 2042.6 L1561.7 2053 L1558.3 2049.6 L1555 2048.2 L1551.7 2026.7 L1548.3 1993.7 L1545 1971.9 L1541.7 1978.2 L1538.3 1982.2 L1535 1983 L1531.7 1999.3 L1528.3 1988.9 L1525 1994.1 L1521.7 2024.1 L1518.3 2006.3 L1515 2009.6 L1511.7 2000.8 L1508.3 2011.5 L1505 1997.4 L1501.7 1988.2 L1498.3 1976 L1495 1962.6 L1491.7 1947.4 L1488.3 1914.5 L1485 1833.7 L1481.7 1767 L1478.3 1773.4 L1475 1770.1 L1471.7 1792.4 L1468.3 1828.6 L1465 1882.6 L1461.7 1933 L1458.3 1997.1 L1455 2045.6 L1451.7 2064.1 L1448.3 2075.6 L1445 2092.2 L1441.7 2095.6 L1438.3 2094.1 L1435 2098.2 L1431.7 2107.4 L1428.3 2092.2 L1425 2075.6 L1421.7 2078.2 L1418.3 2074.8 L1415 2075.6 L1411.7 2074.8 L1408.3 2074.8 L1405 2067.4 L1401.7 2068.9 L1398.3 2065.6 L1395 2051.5 L1391.7 2046.3 L1388.3 2018.2 L1385 1978.2 L1381.7 1975.6 L1378.3 1967.5 L1375 1899.6 L1371.7 1896.3 L1368.3 1889.6 L1365 1892.2 L1361.7 1908.2 L1358.3 1910.8 L1355 1917.4 L1351.7 1919.3 L1348.3 1923.8 L1345 1906 L1341.7 1916.7 L1338.3 1918.6 L1335 1912.3 L1331.7 1873 L1328.3 1871.5 L1325 1862.2 L1321.7 1903.4 L1318.3 1918.2 L1315 1930 L1311.7 1944.9 L1308.3 1941.2 L1305 1953.8 L1301.7 1982.2 L1298.3 1978.6 L1295 1994.1 L1291.7 2005.2 L1288.3 2014.1 L1285 2007.4 Z M1726.7 2065.2 L1730 2061.1 L1733.3 2060.4 L1736.7 2061.1 L1740 2081.1 L1743.3 2079.6 L1746.7 2073.7 L1750 2058.5 L1753.3 2064.4 L1756.7 2057.8 L1760 2051.1 L1763.3 2047 L1766.7 2038.5 L1770 2028.5 L1773.3 2020.7 L1776.7 2010 L1780 1981.4 L1783.3 1985.5 L1786.7 1989.2 L1790 1970.7 L1793.3 1972.2 L1796.7 1962.5 L1800 1929.2 L1803.3 1921.1 L1806.7 1914.4 L1810 1921.1 L1813.3 1918.5 L1816.7 1920 L1820 1915.2 L1823.3 1937.7 L1826.7 1978.4 L1830 1951.8 L1833.3 1955.9 L1836.7 1972.6 L1840 1991.8 L1843.3 2009.2 L1846.7 2019.2 L1850 1997 L1853.3 1997 L1856.7 2021.1 L1860 2035.9 L1863.3 2053.7 L1866.7 2053.7 L1870 2054.4 L1873.3 2044.4 L1876.7 2065.2 L1880 2081.8 L1883.3 2073.7 L1886.7 2061.8 L1890 2060.4 L1893.3 2054.4 L1896.7 2053.7 L1900 2051.1 L1903.3 2047.8 L1906.7 2044.4 L1910 2043.7 L1913.3 2037 L1916.7 2027 L1920 2017.8 L1920 2022.2 L1916.7 2029.6 L1913.3 2039.6 L1910 2046.3 L1906.7 2048.9 L1903.3 2052.2 L1900 2055.6 L1896.7 2056.3 L1893.3 2058.9 L1890 2063 L1886.7 2068.2 L1883.3 2076.3 L1880 2088.2 L1876.7 2071.5 L1873.3 2048.9 L1870 2058.9 L1866.7 2056.3 L1863.3 2056.3 L1860 2044.1 L1856.7 2025.6 L1853.3 1999.6 L1850 1999.6 L1846.7 2027.4 L1843.3 2017.4 L1840 1998.2 L1836.7 1980.8 L1833.3 1964.1 L1830 1958.2 L1826.7 2001.6 L1823.3 1959 L1820 1921.5 L1816.7 1930 L1813.3 1924.8 L1810 1925.6 L1806.7 1918.9 L1803.3 1925.6 L1800 1937.4 L1796.7 1987.5 L1793.3 1987.8 L1790 1982.6 L1786.7 1997.4 L1783.3 2001.2 L1780 1995.2 L1776.7 2020 L1773.3 2032.6 L1770 2034.8 L1766.7 2044.8 L1763.3 2049.6 L1760 2055.6 L1756.7 2062.2 L1753.3 2068.9 L1750 2064.8 L1746.7 2076.3 L1743.3 2080.4 L1740 2085.6 L1736.7 2065.6 L1733.3 2063 L1730 2065.6 L1726.7 2071.5 Z M1993.3 2041.1 L1996.7 2068.5 L2000 2071.1 L2003.3 2067.8 L2006.7 2083.7 L2010 2093.7 L2013.3 2093.7 L2016.7 2078.5 L2020 2064.4 L2023.3 2057 L2026.7 2047.8 L2030 2057 L2033.3 2067 L2036.7 2063.7 L2040 2064.4 L2043.3 2074.4 L2046.7 2083.7 L2050 2087 L2053.3 2091.8 L2056.7 2095.2 L2060 2087.8 L2063.3 2096.6 L2066.7 2092.6 L2070 2095.2 L2073.3 2095.9 L2076.7 2075.9 L2080 2064.4 L2083.3 2054.4 L2086.7 2041.8 L2090 2031.8 L2093.3 2031.1 L2096.7 2021.8 L2100 2018.1 L2103.3 1997.7 L2106.7 2014.4 L2110 2018.5 L2113.3 2021.8 L2116.7 2014.4 L2120 2007.8 L2123.3 1985.5 L2126.7 1975.2 L2130 1962.6 L2133.3 1952.6 L2136.7 1978.8 L2140 1982.6 L2143.3 1992.6 L2146.7 2020.7 L2150 2044 L2153.3 2051.8 L2156.7 2055.9 L2160 2078.5 L2163.3 2097 L2166.7 2110.4 L2170 2117 L2173.3 2113.7 L2176.7 2110.4 L2180 2107 L2183.3 2117.8 L2186.7 2113.7 L2190 2104.4 L2193.3 2087.8 L2196.7 2081.8 L2200 2083.7 L2203.3 2091.8 L2206.7 2099.6 L2210 2100.4 L2213.3 2097 L2216.7 2093.7 L2220 2083.7 L2223.3 2074.4 L2226.7 2087.8 L2230 2093.7 L2233.3 2087 L2236.7 2074.4 L2240 2048.5 L2243.3 2028.5 L2246.7 2017 L2250 1994 L2253.3 1936.5 L2256.7 1900 L2260 1827.6 L2263.3 1849.6 L2266.7 1858.8 L2270 1907.4 L2273.3 1924 L2276.7 1915.2 L2280 1937.2 L2283.3 1980.3 L2286.7 1979.6 L2290 1986.6 L2293.3 2021.8 L2296.7 2031.1 L2300 2044.8 L2303.3 2070.7 L2306.7 2075.9 L2310 2081.1 L2313.3 2055.5 L2316.7 2089.2 L2320 2097.8 L2323.3 2093.7 L2326.7 2097 L2330 2093.7 L2333.3 2093.7 L2336.7 2084.4 L2340 2084.4 L2343.3 2090.4 L2346.7 2091.8 L2350 2087.8 L2353.3 2088.5 L2356.7 2087.8 L2360 2093.7 L2363.3 2091.1 L2366.7 2091.1 L2370 2091.1 L2373.3 2094.4 L2376.7 2088.5 L2380 2094.4 L2383.3 2090.4 L2386.7 2084.4 L2390 2077.8 L2393.3 2071.1 L2396.7 2064.4 L2400 2058.5 L2403.3 2054.4 L2406.7 2047.8 L2410 2030.7 L2413.3 2019.2 L2416.7 2013.7 L2420 2010.4 L2423.3 2007.8 L2426.7 2001.1 L2430 2004.4 L2433.3 1998.1 L2436.7 1995.9 L2440 1997.4 L2443.3 2002.6 L2446.7 1965.8 L2450 1964 L2453.3 1984.8 L2456.7 2005.2 L2460 2031.8 L2463.3 2045.9 L2466.7 2044 L2470 2066.6 L2473.3 2070.7 L2476.7 2085.5 L2480 2069.2 L2483.3 2057.8 L2486.7 2057 L2490 2057 L2493.3 2054.4 L2496.7 2067 L2500 2070.4 L2503.3 2071.1 L2506.7 2075.2 L2510 2077.8 L2513.3 2081.1 L2516.7 2087 L2520 2081.1 L2523.3 2071.1 L2526.7 2064.4 L2530 2058.5 L2533.3 2038.5 L2536.7 2038.5 L2540 2041.4 L2543.3 2050.4 L2546.7 2041.1 L2550 2033.7 L2553.3 2021.8 L2556.7 2002.6 L2560 1975.2 L2563.3 1938 L2566.7 1935.2 L2570 1923.3 L2573.3 1899.6 L2576.7 1894 L2580 1906.2 L2583.3 1897.4 L2586.7 1887.8 L2590 1881.1 L2593.3 1877 L2596.7 1862.6 L2600 1863.3 L2603.3 1897.3 L2606.7 1914.6 L2610 1906.6 L2613.3 1919.2 L2616.7 1917.8 L2620 1918.5 L2623.3 1928.5 L2626.7 1938.5 L2630 1944 L2633.3 1937.8 L2636.7 1935.2 L2640 1948.1 L2643.3 1995.8 L2646.7 2022.6 L2650 2039.2 L2653.3 2057 L2656.7 2071.1 L2660 2093.3 L2663.3 2091.1 L2666.7 2085.9 L2670 2098.5 L2673.3 2097.8 L2676.7 2099.2 L2680 2098.5 L2683.3 2110.7 L2686.7 2097.8 L2690 2094.4 L2693.3 2087.8 L2696.7 2080.4 L2700 2062.6 L2703.3 2064.4 L2706.7 2067 L2710 2067 L2713.3 2069.2 L2716.7 2067.8 L2720 2064.4 L2723.3 2047.4 L2726.7 2030.4 L2730 2015.9 L2733.3 2003.7 L2736.7 1971.8 L2740 1950.7 L2743.3 1910 L2746.7 1900.7 L2750 1901.1 L2753.3 1897.8 L2756.7 1901.8 L2760 1881.1 L2763.3 1891.1 L2766.7 1914 L2770 1952.6 L2773.3 1981.1 L2776.7 1958.8 L2780 2011.4 L2783.3 1993.6 L2786.7 2029.9 L2790 2015.2 L2793.3 2008.5 L2796.7 2001.1 L2800 1994.4 L2803.3 2022.6 L2806.7 2052.2 L2810 2103.7 L2813.3 2104.4 L2816.7 2098.5 L2820 2103 L2823.3 2097 L2826.7 2107 L2830 2111.1 L2833.3 2110.4 L2836.7 2111.1 L2840 2103 L2843.3 2087 L2846.7 2086.3 L2850 2077 L2853.3 2063.7 L2856.7 2051.1 L2860 2058.5 L2863.3 2048.5 L2866.7 2044.4 L2870 2040.4 L2873.3 2005.9 L2876.7 1972.6 L2880 1961.1 L2883.3 1938.5 L2886.7 1897.4 L2890 1898.5 L2893.3 1893.7 L2896.7 1895.2 L2900 1884.8 L2900 1898.6 L2896.7 1901.5 L2893.3 1896.3 L2890 1904.8 L2886.7 1909.3 L2883.3 1944.8 L2880 1965.6 L2876.7 1980.8 L2873.3 2014.1 L2870 2043 L2866.7 2048.9 L2863.3 2054.8 L2860 2064.8 L2856.7 2055.6 L2853.3 2066.3 L2850 2079.6 L2846.7 2087 L2843.3 2089.6 L2840 2103.7 L2836.7 2115.6 L2833.3 2113 L2830 2115.6 L2826.7 2109.6 L2823.3 2099.6 L2820 2103.7 L2816.7 2104.8 L2813.3 2108.9 L2810 2106.3 L2806.7 2067.8 L2803.3 2030.8 L2800 1998.9 L2796.7 2005.6 L2793.3 2014.8 L2790 2021.5 L2786.7 2056.8 L2783.3 2013 L2780 2025.2 L2776.7 1974.5 L2773.3 1985.6 L2770 1960.8 L2766.7 1926 L2763.3 1895.6 L2760 1885.6 L2756.7 1908.2 L2753.3 1902.2 L2750 1905.6 L2746.7 1912.6 L2743.3 1920 L2740 1962.6 L2736.7 1978.2 L2733.3 2006.3 L2730 2024.1 L2726.7 2033 L2723.3 2059.3 L2720 2068.9 L2716.7 2072.2 L2713.3 2077.4 L2710 2069.6 L2706.7 2069.6 L2703.3 2068.9 L2700 2070.8 L2696.7 2083 L2693.3 2092.2 L2690 2098.9 L2686.7 2102.2 L2683.3 2122.6 L2680 2104.8 L2676.7 2107.4 L2673.3 2102.2 L2670 2104.8 L2666.7 2094.1 L2663.3 2095.6 L2660 2103.4 L2656.7 2075.6 L2653.3 2059.6 L2650 2047.4 L2646.7 2030.8 L2643.3 2020.8 L2640 1961.9 L2636.7 1941.5 L2633.3 1942.2 L2630 1956 L2626.7 1944.8 L2623.3 1934.8 L2620 1924.8 L2616.7 1922.2 L2613.3 1927.4 L2610 1916.7 L2606.7 1962 L2603.3 1926 L2600 1873.4 L2596.7 1870.8 L2593.3 1879.6 L2590 1885.6 L2586.7 1892.2 L2583.3 1909.3 L2580 1923.8 L2576.7 1906 L2573.3 1917.1 L2570 1933.4 L2566.7 1941.5 L2563.3 1968.6 L2560 1981.5 L2556.7 2010.8 L2553.3 2028.2 L2550 2036.3 L2546.7 2045.6 L2543.3 2053 L2540 2055.2 L2536.7 2044.8 L2533.3 2044.8 L2530 2064.8 L2526.7 2068.9 L2523.3 2075.6 L2520 2085.6 L2516.7 2089.6 L2513.3 2085.6 L2510 2082.2 L2506.7 2081.5 L2503.3 2075.6 L2500 2073 L2496.7 2069.6 L2493.3 2058.9 L2490 2059.6 L2486.7 2059.6 L2483.3 2062.2 L2480 2077.4 L2476.7 2101.2 L2473.3 2082.6 L2470 2076.7 L2466.7 2056 L2463.3 2054.1 L2460 2038.2 L2456.7 2011.5 L2453.3 1998.6 L2450 1976 L2446.7 1990.8 L2443.3 2010.8 L2440 2009.3 L2436.7 2004.1 L2433.3 2011.9 L2430 2008.9 L2426.7 2005.6 L2423.3 2012.2 L2420 2013 L2416.7 2016.3 L2413.3 2027.4 L2410 2042.6 L2406.7 2052.2 L2403.3 2058.9 L2400 2064.8 L2396.7 2068.9 L2393.3 2075.6 L2390 2082.2 L2386.7 2088.9 L2383.3 2093 L2380 2098.9 L2376.7 2094.8 L2373.3 2098.9 L2370 2095.6 L2366.7 2095.6 L2363.3 2095.6 L2360 2096.3 L2356.7 2092.2 L2353.3 2094.8 L2350 2092.2 L2346.7 2098.2 L2343.3 2093 L2340 2088.9 L2336.7 2088.9 L2333.3 2096.3 L2330 2096.3 L2326.7 2099.6 L2323.3 2096.3 L2320 2102.2 L2316.7 2097.4 L2313.3 2071.2 L2310 2085.6 L2306.7 2084.1 L2303.3 2082.6 L2300 2058.6 L2296.7 2035.6 L2293.3 2028.2 L2290 1996.7 L2286.7 1997.1 L2283.3 1999.7 L2280 1982.8 L2276.7 1921.5 L2273.3 1952.7 L2270 1919.3 L2266.7 1874.5 L2263.3 1867.1 L2260 1865.7 L2256.7 1910 L2253.3 1980.2 L2250 2006 L2246.7 2019.6 L2243.3 2034.8 L2240 2054.8 L2236.7 2078.9 L2233.3 2089.6 L2230 2096.3 L2226.7 2092.2 L2223.3 2078.9 L2220 2086.3 L2216.7 2096.3 L2213.3 2099.6 L2210 2103 L2206.7 2100.4 L2203.3 2098.2 L2200 2086.3 L2196.7 2088.2 L2193.3 2092.2 L2190 2108.9 L2186.7 2116.3 L2183.3 2122.2 L2180 2109.6 L2176.7 2113 L2173.3 2116.3 L2170 2119.6 L2166.7 2113 L2163.3 2099.6 L2160 2084.8 L2156.7 2064.1 L2153.3 2074.9 L2150 2056 L2146.7 2032.6 L2143.3 2000.8 L2140 1990.8 L2136.7 1994.5 L2133.3 1960.8 L2130 1970.8 L2126.7 1981.5 L2123.3 2001.2 L2120 2012.2 L2116.7 2018.9 L2113.3 2028.2 L2110 2024.8 L2106.7 2018.9 L2103.3 2019 L2100 2031.9 L2096.7 2028.2 L2093.3 2035.6 L2090 2038.2 L2086.7 2048.2 L2083.3 2058.9 L2080 2068.9 L2076.7 2084.1 L2073.3 2104.1 L2070 2101.5 L2066.7 2100.8 L2063.3 2106.7 L2060 2092.2 L2056.7 2101.5 L2053.3 2098.2 L2050 2089.6 L2046.7 2086.3 L2043.3 2078.9 L2040 2068.9 L2036.7 2066.3 L2033.3 2069.6 L2030 2059.6 L2026.7 2052.2 L2023.3 2059.6 L2020 2068.9 L2016.7 2084.8 L2013.3 2096.3 L2010 2096.3 L2006.7 2086.3 L2003.3 2072.2 L2000 2075.6 L1996.7 2074.8 L1993.3 2045.6 Z" fill="#aa0000" stroke="#aa0000" stroke-width="3" stroke-linejoin="round"/>
<marker id="maa0000" markerUnits="userSpaceOnUse" markerWidth="6.6" markerHeight="6.6" refX="3.3" refY="3.3" overflow="visible"><circle cx="3.3" cy="3.3" r="3.3" fill="#aa0000"/></marker>
<path d="M353.3 2036.3 L356.7 2033.7 L360 2003 L363.3 2013.7 L366.7 1903 L370 1963.7 L373.3 1879.7 L376.7 1960.3 L380 1946.3 L383.3 1980.3 L386.7 1946.3 L390 2000.3 L393.3 1956.3 L396.7 1970.3 L400 1956.3 L403.3 1970.3 L406.7 1939.7 L410 1950.3 L413.3 1926.3 L416.7 1980.3 L420 1953 L423.3 1967 L426.7 1946.3 L430 1957 L433.3 1963 L436.7 1980.3 L440 2003 L443.3 2033.7 L446.7 2023 L450 2033.7 L453.3 2016.3 L456.7 2047 L460 2063 L463.3 2087 L466.7 2086.3 L470 2120.3 L473.3 2109.7 L476.7 2127 L480 2113 L483.3 2130.3 L486.7 2119.7 L490 2127 L493.3 2109.7 L496.7 2113.7 L500 2083 L503.3 2087 L506.7 2056.3 L510 2053.7 L513.3 2013 L516.7 2013.7 L520 1976.3 L523.3 1997 L526.7 1966.3 L530 2000.3 L533.3 1936.3 L536.7 1980.3 L540 1953 L543.3 1960.3 L546.7 1959.7 L550 2020.3 L553.3 2006.3 L556.7 2010.3 L560 2023 L563.3 2063.7 L566.7 2029.7 L570 2070.3 L573.3 2039.7 L576.7 2047 L580 2026.3 L583.3 2040.3 L586.7 2023 L590 2070.3 L593.3 2043 L596.7 2080.3 L600 2089.7 L603.3 2107 L606.7 2099.7 L610 2107 L613.3 2099.7 L616.7 2107 L620 2103 L623.3 2107 L626.7 2099.7 L630 2100.3 L633.3 2099.7 L636.7 2103.7 L640 2096.3 L643.3 2107 L646.7 2096.3 L650 2103.7 L653.3 2096.3 L656.7 2100.3 M682.7 2026.3 L685 2013.7 L687.3 1949.7 L690 2007 L693.3 1986.3 L696.7 2030.3 L700 2026.3 L703.3 2047 L706.7 2029.7 L710 2040.3 L713.3 2036.3 L716.7 2070.3 L720 2073 L723.3 2090.3 L726.7 2086.3 L730 2117 L733.3 2079.7 L736.7 2090.3 L740 2073 L743.3 2073.7 L746.7 2069.7 L750 2073.7 L753.3 2053 L756.7 2053.7 L760 2059.7 M766.7 2096.3 L770 2107 M783.3 2103 L786.7 2107 L790 2096.3 L793.3 2113.7 L796.7 2099.7 L800 2130.3 L803.3 2113 L806.7 2117 L810 2106.3 L813.3 2113.7 L816.7 2106.3 L820 2113.7 L823.3 2103 L826.7 2107 L830 2043 L833.3 2053.7 L836.7 2023 L840 2007 L843.3 1966.3 L846.7 1937 L850 1883 L853.3 1910.3 L856.7 1886.3 L860 1907 L863.3 1913 L866.7 1960.3 L870 1973 L873.3 2037 L876.7 2043 L880 2067 L883.3 2089.7 L886.7 2107 L890 2083 L893.3 2117 L896.7 2106.3 L900 2113.7 L903.3 2106.3 L906.7 2120.3 L910 2126.3 L913.3 2140.3 L916.7 2129.7 L920 2130.3 L923.3 2113 L926.7 2120.3 L930 2119.7 L933.3 2130.3 L936.7 2096.3 L940 2123.7 L943.3 2119.7 L946.7 2127 L950 2126.3 L953.3 2137 L956.7 2129.7 L960 2123.7 L963.3 2099.7 L966.7 2097 L970 2076.3 L973.3 2090.3 L976.7 2053 L980 2060.3 L983.3 2056.3 L986.7 2080.3 L990 2069.7 L993.3 2083.7 L996.7 2066.3 L1000 2070.3 L1003.3 2049.7 L1006.7 2087 L1010 2079.7 L1013.3 2110.3 L1016.7 2109.7 L1020 2113.7 L1023.3 2089.7 L1026.7 2097 L1030 2086.3 L1033.3 2083.7 L1036.7 2063 L1040 2090.3 L1043.3 2089.7 L1046.7 2093.7 L1050 2063 L1053.3 2067 L1056.7 2069.7 L1060 2073.7 L1063.3 2076.3 L1066.7 2077 L1070 2079.7 L1073.3 2080.3 L1076.7 2073 L1080 2080.3 L1083.3 2083 L1086.7 2103.7 L1090 2099.7 L1093.3 2107 L1096.7 2099.7 L1100 2100.3 L1103.3 2093 L1106.7 2100.3 L1110 2086.3 L1113.3 2090.3 L1116.7 2076.3 L1120 2087 L1123.3 2079.7 L1126.7 2090.3 L1130 2069.7 L1133.3 2067 L1136.7 2013 L1140 2017 L1143.3 1979.7 L1146.7 1947 L1150 1819.7 L1153.3 1847 L1156.7 1799.7 L1160 1867 L1163.3 1813 L1166.7 1820.3 L1170 1763 L1173.3 1780.3 L1176.7 1746.3 L1180 1807 L1183.3 1859.7 L1186.7 1877 L1190 1866.3 L1193.3 1877 L1196.7 1859.7 L1200 1867 L1203.3 1873 L1206.7 1900.3 L1210 1903 L1213.3 1970.3 L1216.7 1983 L1220 1993.7 L1223.3 2016.3 L1226.7 2040.3 L1230 2053 L1233.3 2087 L1236.7 2089.7 L1240 2097 L1243.3 2096.3 L1246.7 2113.7 L1250 2103 L1253.3 2113.7 L1256.7 2083 L1260 2073.7 L1263.3 2059.7 L1266.7 2080.3 L1270 2053 L1273.3 2053.7 M1285 1996.3 L1288.3 2017 L1291.7 1986.3 L1295 1997 L1298.3 1959.7 L1301.7 1983.7 L1305 1929.7 L1308.3 1947 L1311.7 1913 L1315 1933.7 L1318.3 1909.7 L1321.7 1907 L1325 1856.3 L1328.3 1873.7 L1331.7 1869.7 L1335 1920.3 L1338.3 1899.7 L1341.7 1920.3 L1345 1889.7 L1348.3 1930.3 L1351.7 1903 L1355 1920.3 L1358.3 1899.7 L1361.7 1910.3 L1365 1886.3 L1368.3 1890.3 L1371.7 1893 L1375 1900.3 L1378.3 1933 L1381.7 1977 L1385 1969.7 L1388.3 2027 L1391.7 2043 L1395 2053.7 L1398.3 2059.7 L1401.7 2070.3 L1405 2056.3 L1408.3 2077 L1411.7 2066.3 L1415 2077 L1418.3 2066.3 L1421.7 2080.3 L1425 2069.7 L1428.3 2093.7 L1431.7 2096.3 L1435 2100.3 L1438.3 2083 L1441.7 2097 L1445 2086.3 L1448.3 2077 L1451.7 2053 L1455 2047 L1458.3 1973 L1461.7 1940.3 L1465 1866.3 L1468.3 1833.7 L1471.7 1739.7 L1475 1780.3 L1478.3 1759.7 L1481.7 1767 L1485 1833 L1488.3 1920.3 L1491.7 1936.3 L1495 1967 L1498.3 1959.7 L1501.7 1990.3 L1505 1986.3 L1508.3 2013.7 L1511.7 1989.7 L1515 2010.3 L1518.3 2003 L1521.7 2027 L1525 1983 L1528.3 1990.3 L1531.7 1983 L1535 1983.7 L1538.3 1976.3 L1541.7 1980.3 L1545 1953 L1548.3 1993.7 L1551.7 2013 L1555 2050.3 L1558.3 2046.3 L1561.7 2053.7 L1565 2026.3 L1568.3 2060.3 L1571.7 2073 L1575 2077 L1578.3 2069.7 L1581.7 2073.7 L1585 2076.3 L1588.3 2073.7 L1591.7 2066.3 L1595 2073.7 L1598.3 2063 L1601.7 2057 L1605 2046.3 L1608.3 2047 L1611.7 2046.3 L1615 2037 L1618.3 2026.3 L1621.7 2020.3 L1625 2003 L1628.3 1990.3 L1631.7 1933 L1635 1950.3 L1638.3 1849.7 L1641.7 1940.3 L1645 1943 L1648.3 2000.3 L1651.7 1959.7 L1655 1973.7 M1726.7 2063 L1730 2067 L1733.3 2059.7 L1736.7 2067 L1740 2079.7 L1743.3 2080.3 L1746.7 2073 L1750 2067 L1753.3 2063 L1756.7 2063.7 L1760 2049.7 L1763.3 2050.3 L1766.7 2036.3 L1770 2037 L1773.3 2016.3 L1776.7 2023.7 L1780 1976.3 L1783.3 2007 L1786.7 1986.3 L1790 1987 L1793.3 1966.3 L1796.7 1997 L1800 1926.3 L1803.3 1927 L1806.7 1913 L1810 1927 L1813.3 1916.3 L1816.7 1933.7 L1820 1913 L1823.3 1967 L1826.7 1969.7 L1830 1960.3 L1833.3 1953 L1836.7 1983.7 L1840 1989.7 L1843.3 2020.3 L1846.7 2016.3 L1850 2000.3 L1853.3 1996.3 L1856.7 2027 L1860 2033 L1863.3 2057 L1866.7 2053 L1870 2060.3 L1873.3 2043 L1876.7 2073.7 L1880 2079.7 L1883.3 2077 L1886.7 2059.7 L1890 2063.7 L1893.3 2053 L1896.7 2057 L1900 2049.7 L1903.3 2053.7 L1906.7 2043 L1910 2047 L1913.3 2036.3 L1916.7 2030.3 L1920 2016.3 M1993.3 2039.7 L1996.7 2077 L2000 2069.7 L2003.3 2073.7 L2006.7 2083 L2010 2097 L2013.3 2093 L2016.7 2087 L2020 2063 L2023.3 2060.3 L2026.7 2046.3 L2030 2060.3 L2033.3 2066.3 L2036.7 2067 L2040 2063 L2043.3 2080.3 L2046.7 2083 L2050 2090.3 L2053.3 2089.7 L2056.7 2103.7 L2060 2086.3 L2063.3 2110.3 L2066.7 2089.7 L2070 2103.7 L2073.3 2093 L2076.7 2087 L2080 2063 L2083.3 2060.3 L2086.7 2039.7 L2090 2040.3 L2093.3 2029.7 L2096.7 2030.3 L2100 2013 L2103.3 2027 L2106.7 2013 L2110 2027 L2113.3 2019.7 L2116.7 2020.3 L2120 2006.3 L2123.3 2007 L2126.7 1973 L2130 1973.7 L2133.3 1949.7 L2136.7 2000.3 L2140 1979.7 L2143.3 2003.7 L2146.7 2016.3 L2150 2060.3 L2153.3 2043 L2156.7 2067 L2160 2076.3 L2163.3 2100.3 L2166.7 2109.7 L2170 2120.3 L2173.3 2113 L2176.7 2113.7 L2180 2106.3 L2183.3 2123.7 L2186.7 2113 L2190 2110.3 L2193.3 2086.3 L2196.7 2090.3 L2200 2083 L2203.3 2100.3 L2206.7 2099.7 L2210 2103.7 L2213.3 2096.3 L2216.7 2097 L2220 2083 L2223.3 2080.3 L2226.7 2086.3 L2230 2097 L2233.3 2086.3 L2236.7 2080.3 L2240 2046.3 L2243.3 2037 L2246.7 2016.3 L2250 2010.3 L2253.3 1919.7 L2256.7 1913.7 L2260 1813 L2263.3 1873.7 L2266.7 1853 L2270 1923.7 L2273.3 1913 L2276.7 1923.7 L2280 1919.7 L2283.3 2007 L2286.7 1973 L2290 2000.3 L2293.3 2019.7 L2296.7 2037 L2300 2039.7 L2303.3 2087 L2306.7 2073 L2310 2087 L2313.3 2049.7 L2316.7 2100.3 L2320 2096.3 L2323.3 2097 L2326.7 2096.3 L2330 2097 L2333.3 2093 L2336.7 2090.3 L2340 2083 L2343.3 2093.7 L2346.7 2089.7 L2350 2093.7 L2353.3 2086.3 L2356.7 2093.7 L2360 2093 L2363.3 2097 L2366.7 2089.7 L2370 2097 L2373.3 2093 L2376.7 2097 L2380 2093 L2383.3 2093.7 L2386.7 2083 L2390 2083.7 L2393.3 2069.7 L2396.7 2070.3 L2400 2056.3 L2403.3 2060.3 L2406.7 2046.3 L2410 2047 L2413.3 2016.3 L2416.7 2017 L2420 2009.7 L2423.3 2013.7 L2426.7 1999.7 L2430 2010.3 L2433.3 1993 L2436.7 2007 L2440 1993 L2443.3 2013.7 L2446.7 1956.3 L2450 1980.3 L2453.3 1979.7 L2456.7 2013.7 L2460 2029.7 L2463.3 2057 L2466.7 2039.7 L2470 2080.3 L2473.3 2066.3 L2476.7 2107 L2480 2066.3 L2483.3 2063.7 L2486.7 2056.3 L2490 2060.3 L2493.3 2053 L2496.7 2070.3 L2500 2069.7 L2503.3 2077 L2506.7 2073 L2510 2083.7 L2513.3 2079.7 L2516.7 2090.3 L2520 2079.7 L2523.3 2077 L2526.7 2063 L2530 2067 L2533.3 2036.3 L2536.7 2047 L2540 2036.3 L2543.3 2053.7 L2546.7 2039.7 L2550 2037 L2553.3 2019.7 L2556.7 2013.7 L2560 1973 L2563.3 1980.3 L2566.7 1933 L2570 1937 L2573.3 1893 L2576.7 1910.3 L2580 1899.7 L2583.3 1913.7 L2586.7 1886.3 L2590 1887 L2593.3 1876.3 L2596.7 1873.7 L2600 1859.7 L2603.3 1937 L2606.7 1896.3 L2610 1920.3 L2613.3 1916.3 L2616.7 1923.7 L2620 1916.3 L2623.3 1937 L2626.7 1936.3 L2630 1960.3 L2633.3 1936.3 L2636.7 1943.7 L2640 1943 L2643.3 2030.3 L2646.7 2019.7 L2650 2050.3 L2653.3 2056.3 L2656.7 2077 L2660 2089.7 L2663.3 2097 L2666.7 2083 L2670 2107 L2673.3 2096.3 L2676.7 2110.3 L2680 2096.3 L2683.3 2127 L2686.7 2096.3 L2690 2100.3 L2693.3 2086.3 L2696.7 2083.7 L2700 2059.7 L2703.3 2070.3 L2706.7 2066.3 L2710 2070.3 L2713.3 2066.3 L2716.7 2073.7 L2720 2063 L2723.3 2063.7 L2726.7 2029.7 L2730 2027 L2733.3 2003 L2736.7 1980.3 L2740 1946.3 L2743.3 1923.7 L2746.7 1896.3 L2750 1907 L2753.3 1896.3 L2756.7 1910.3 L2760 1879.7 L2763.3 1897 L2766.7 1909.7 L2770 1963.7 L2773.3 1979.7 L2776.7 1980.3 L2780 2006.3 L2783.3 2020.3 L2786.7 2019.7 L2790 2023.7 L2793.3 2006.3 L2796.7 2007 L2800 1993 L2803.3 2033.7 L2806.7 2046.3 L2810 2107 L2813.3 2103 L2816.7 2107 L2820 2103 L2823.3 2100.3 L2826.7 2106.3 L2830 2117 L2833.3 2109.7 L2836.7 2117 L2840 2103 L2843.3 2090.3 L2846.7 2086.3 L2850 2080.3 L2853.3 2063 L2856.7 2057 L2860 2056.3 L2863.3 2057 L2866.7 2043 L2870 2043.7 L2873.3 2003 L2876.7 1983.7 L2880 1959.7 L2883.3 1947 L2886.7 1893 L2890 1907 L2893.3 1893 L2896.7 1903.7 L2900 1879.7" fill="none" stroke="#aa0000" stroke-width="4.2" stroke-linejoin="round" stroke-linecap="round" marker-start="url(#maa0000)" marker-mid="url(#maa0000)" marker-end="url(#maa0000)"/>
</g>
<g stroke="#262626" stroke-width="3" fill="none">
<line x1="291.0" y1="232.5" x2="2942.5" y2="232.5"/>
<line x1="291.0" y1="2165.5" x2="2942.5" y2="2165.5"/>
<line x1="385.6" y1="232.5" x2="385.6" y2="259.5"/>
<line x1="385.6" y1="2165.5" x2="385.6" y2="2138.5"/>
<line x1="543.4" y1="232.5" x2="543.4" y2="259.5"/>
<line x1="543.4" y1="2165.5" x2="543.4" y2="2138.5"/>
<line x1="701.2" y1="232.5" x2="701.2" y2="259.5"/>
<line x1="701.2" y1="2165.5" x2="701.2" y2="2138.5"/>
<line x1="859.4" y1="232.5" x2="859.4" y2="259.5"/>
<line x1="859.4" y1="2165.5" x2="859.4" y2="2138.5"/>
<line x1="1017.2" y1="232.5" x2="1017.2" y2="259.5"/>
<line x1="1017.2" y1="2165.5" x2="1017.2" y2="2138.5"/>
<line x1="1175" y1="232.5" x2="1175" y2="259.5"/>
<line x1="1175" y1="2165.5" x2="1175" y2="2138.5"/>
<line x1="1332.8" y1="232.5" x2="1332.8" y2="259.5"/>
<line x1="1332.8" y1="2165.5" x2="1332.8" y2="2138.5"/>
<line x1="1491" y1="232.5" x2="1491" y2="259.5"/>
<line x1="1491" y1="2165.5" x2="1491" y2="2138.5"/>
<line x1="1648.8" y1="232.5" x2="1648.8" y2="259.5"/>
<line x1="1648.8" y1="2165.5" x2="1648.8" y2="2138.5"/>
<line x1="1806.6" y1="232.5" x2="1806.6" y2="259.5"/>
<line x1="1806.6" y1="2165.5" x2="1806.6" y2="2138.5"/>
<line x1="1964.4" y1="232.5" x2="1964.4" y2="259.5"/>
<line x1="1964.4" y1="2165.5" x2="1964.4" y2="2138.5"/>
<line x1="2122.6" y1="232.5" x2="2122.6" y2="259.5"/>
<line x1="2122.6" y1="2165.5" x2="2122.6" y2="2138.5"/>
<line x1="2280.4" y1="232.5" x2="2280.4" y2="259.5"/>
<line x1="2280.4" y1="2165.5" x2="2280.4" y2="2138.5"/>
<line x1="2438.2" y1="232.5" x2="2438.2" y2="259.5"/>
<line x1="2438.2" y1="2165.5" x2="2438.2" y2="2138.5"/>
<line x1="2595.9" y1="232.5" x2="2595.9" y2="259.5"/>
<line x1="2595.9" y1="2165.5" x2="2595.9" y2="2138.5"/>
<line x1="2754.2" y1="232.5" x2="2754.2" y2="259.5"/>
<line x1="2754.2" y1="2165.5" x2="2754.2" y2="2138.5"/>
</g>
<g stroke="#660066" stroke-width="3" fill="none">
<line x1="292.5" y1="231.0" x2="292.5" y2="712.5"/>
<line x1="2941" y1="231.0" x2="2941" y2="712.5"/>
<line x1="292.5" y1="711.4" x2="321.0" y2="711.4"/>
<line x1="2941" y1="711.4" x2="2912.5" y2="711.4"/>
<line x1="292.5" y1="559.7" x2="321.0" y2="559.7"/>
<line x1="2941" y1="559.7" x2="2912.5" y2="559.7"/>
<line x1="292.5" y1="408" x2="321.0" y2="408"/>
<line x1="2941" y1="408" x2="2912.5" y2="408"/>
<line x1="292.5" y1="256.3" x2="321.0" y2="256.3"/>
<line x1="2941" y1="256.3" x2="2912.5" y2="256.3"/>
</g>
<g stroke="#00668c" stroke-width="3" fill="none">
<line x1="292.5" y1="712.5" x2="292.5" y2="1196"/>
<line x1="2941" y1="712.5" x2="2941" y2="1196"/>
<line x1="292.5" y1="1102" x2="321.0" y2="1102"/>
<line x1="2941" y1="1102" x2="2912.5" y2="1102"/>
<line x1="292.5" y1="982.7" x2="321.0" y2="982.7"/>
<line x1="2941" y1="982.7" x2="2912.5" y2="982.7"/>
<line x1="292.5" y1="863.4" x2="321.0" y2="863.4"/>
<line x1="2941" y1="863.4" x2="2912.5" y2="863.4"/>
<line x1="292.5" y1="744" x2="321.0" y2="744"/>
<line x1="2941" y1="744" x2="2912.5" y2="744"/>
</g>
<g stroke="#1a8c00" stroke-width="3" fill="none">
<line x1="292.5" y1="1196" x2="292.5" y2="1682"/>
<line x1="2941" y1="1196" x2="2941" y2="1682"/>
<line x1="292.5" y1="1653" x2="321.0" y2="1653"/>
<line x1="2941" y1="1653" x2="2912.5" y2="1653"/>
<line x1="292.5" y1="1556.8" x2="321.0" y2="1556.8"/>
<line x1="2941" y1="1556.8" x2="2912.5" y2="1556.8"/>
<line x1="292.5" y1="1460.6" x2="321.0" y2="1460.6"/>
<line x1="2941" y1="1460.6" x2="2912.5" y2="1460.6"/>
<line x1="292.5" y1="1364.4" x2="321.0" y2="1364.4"/>
<line x1="2941" y1="1364.4" x2="2912.5" y2="1364.4"/>
<line x1="292.5" y1="1268.2" x2="321.0" y2="1268.2"/>
<line x1="2941" y1="1268.2" x2="2912.5" y2="1268.2"/>
</g>
<g stroke="#aa0000" stroke-width="3" fill="none">
<line x1="292.5" y1="1682" x2="292.5" y2="2164.0"/>
<line x1="2941" y1="1682" x2="2941" y2="2164.0"/>
<line x1="292.5" y1="2089.2" x2="321.0" y2="2089.2"/>
<line x1="2941" y1="2089.2" x2="2912.5" y2="2089.2"/>
<line x1="292.5" y1="2007.4" x2="321.0" y2="2007.4"/>
<line x1="2941" y1="2007.4" x2="2912.5" y2="2007.4"/>
<line x1="292.5" y1="1925.6" x2="321.0" y2="1925.6"/>
<line x1="2941" y1="1925.6" x2="2912.5" y2="1925.6"/>
<line x1="292.5" y1="1843.8" x2="321.0" y2="1843.8"/>
<line x1="2941" y1="1843.8" x2="2912.5" y2="1843.8"/>
<line x1="292.5" y1="1762" x2="321.0" y2="1762"/>
<line x1="2941" y1="1762" x2="2912.5" y2="1762"/>
</g>
<text x="276" y="723.1" fill="#660066" color="#660066" text-anchor="end" font-size="43.5" font-family="Liberation Serif, serif" stroke="currentColor" stroke-width="1.0">0</text>
<text x="276" y="571.4" fill="#660066" color="#660066" text-anchor="end" font-size="43.5" font-family="Liberation Serif, serif" stroke="currentColor" stroke-width="1.0">2</text>
<text x="276" y="419.7" fill="#660066" color="#660066" text-anchor="end" font-size="43.5" font-family="Liberation Serif, serif" stroke="currentColor" stroke-width="1.0">4</text>
<text x="276" y="268" fill="#660066" color="#660066" text-anchor="end" font-size="43.5" font-family="Liberation Serif, serif" stroke="currentColor" stroke-width="1.0">6</text>
<text x="276" y="1664.7" fill="#1a8c00" color="#1a8c00" text-anchor="end" font-size="43.5" font-family="Liberation Serif, serif" stroke="currentColor" stroke-width="1.0">29</text>
<text x="276" y="1568.5" fill="#1a8c00" color="#1a8c00" text-anchor="end" font-size="43.5" font-family="Liberation Serif, serif" stroke="currentColor" stroke-width="1.0">30</text>
<text x="276" y="1472.3" fill="#1a8c00" color="#1a8c00" text-anchor="end" font-size="43.5" font-family="Liberation Serif, serif" stroke="currentColor" stroke-width="1.0">31</text>
<text x="276" y="1376.1" fill="#1a8c00" color="#1a8c00" text-anchor="end" font-size="43.5" font-family="Liberation Serif, serif" stroke="currentColor" stroke-width="1.0">32</text>
<text x="276" y="1279.9" fill="#1a8c00" color="#1a8c00" text-anchor="end" font-size="43.5" font-family="Liberation Serif, serif" stroke="currentColor" stroke-width="1.0">33</text>
<text x="2957" y="1113.8" fill="#00668c" color="#00668c" text-anchor="start" font-size="43.5" font-family="Liberation Serif, serif" stroke="currentColor" stroke-width="1.0">23</text>
<text x="2957" y="994.4" fill="#00668c" color="#00668c" text-anchor="start" font-size="43.5" font-family="Liberation Serif, serif" stroke="currentColor" stroke-width="1.0">24</text>
<text x="2957" y="875.1" fill="#00668c" color="#00668c" text-anchor="start" font-size="43.5" font-family="Liberation Serif, serif" stroke="currentColor" stroke-width="1.0">25</text>
<text x="2957" y="755.7" fill="#00668c" color="#00668c" text-anchor="start" font-size="43.5" font-family="Liberation Serif, serif" stroke="currentColor" stroke-width="1.0">26</text>
<text x="2957" y="2100.9" fill="#aa0000" color="#aa0000" text-anchor="start" font-size="43.5" font-family="Liberation Serif, serif" stroke="currentColor" stroke-width="1.0">8</text>
<text x="2957" y="2019.1" fill="#aa0000" color="#aa0000" text-anchor="start" font-size="43.5" font-family="Liberation Serif, serif" stroke="currentColor" stroke-width="1.0">9</text>
<text x="2957" y="1937.3" fill="#aa0000" color="#aa0000" text-anchor="start" font-size="43.5" font-family="Liberation Serif, serif" stroke="currentColor" stroke-width="1.0">10</text>
<text x="2957" y="1855.5" fill="#aa0000" color="#aa0000" text-anchor="start" font-size="43.5" font-family="Liberation Serif, serif" stroke="currentColor" stroke-width="1.0">11</text>
<text x="2957" y="1773.7" fill="#aa0000" color="#aa0000" text-anchor="start" font-size="43.5" font-family="Liberation Serif, serif" stroke="currentColor" stroke-width="1.0">12</text>
<text x="385.6" y="2219" fill="#262626" color="#262626" text-anchor="middle" font-size="43.5" font-family="Liberation Serif, serif" stroke="currentColor" stroke-width="1.0" textLength="86.2" lengthAdjust="spacingAndGlyphs">2010</text>
<text x="543.4" y="2219" fill="#262626" color="#262626" text-anchor="middle" font-size="43.5" font-family="Liberation Serif, serif" stroke="currentColor" stroke-width="1.0" textLength="86.2" lengthAdjust="spacingAndGlyphs">2011</text>
<text x="701.2" y="2219" fill="#262626" color="#262626" text-anchor="middle" font-size="43.5" font-family="Liberation Serif, serif" stroke="currentColor" stroke-width="1.0" textLength="86.2" lengthAdjust="spacingAndGlyphs">2012</text>
<text x="859.4" y="2219" fill="#262626" color="#262626" text-anchor="middle" font-size="43.5" font-family="Liberation Serif, serif" stroke="currentColor" stroke-width="1.0" textLength="86.2" lengthAdjust="spacingAndGlyphs">2013</text>
<text x="1017.2" y="2219" fill="#262626" color="#262626" text-anchor="middle" font-size="43.5" font-family="Liberation Serif, serif" stroke="currentColor" stroke-width="1.0" textLength="86.2" lengthAdjust="spacingAndGlyphs">2014</text>
<text x="1175" y="2219" fill="#262626" color="#262626" text-anchor="middle" font-size="43.5" font-family="Liberation Serif, serif" stroke="currentColor" stroke-width="1.0" textLength="86.2" lengthAdjust="spacingAndGlyphs">2015</text>
<text x="1332.8" y="2219" fill="#262626" color="#262626" text-anchor="middle" font-size="43.5" font-family="Liberation Serif, serif" stroke="currentColor" stroke-width="1.0" textLength="86.2" lengthAdjust="spacingAndGlyphs">2016</text>
<text x="1491" y="2219" fill="#262626" color="#262626" text-anchor="middle" font-size="43.5" font-family="Liberation Serif, serif" stroke="currentColor" stroke-width="1.0" textLength="86.2" lengthAdjust="spacingAndGlyphs">2017</text>
<text x="1648.8" y="2219" fill="#262626" color="#262626" text-anchor="middle" font-size="43.5" font-family="Liberation Serif, serif" stroke="currentColor" stroke-width="1.0" textLength="86.2" lengthAdjust="spacingAndGlyphs">2018</text>
<text x="1806.6" y="2219" fill="#262626" color="#262626" text-anchor="middle" font-size="43.5" font-family="Liberation Serif, serif" stroke="currentColor" stroke-width="1.0" textLength="86.2" lengthAdjust="spacingAndGlyphs">2019</text>
<text x="1964.4" y="2219" fill="#262626" color="#262626" text-anchor="middle" font-size="43.5" font-family="Liberation Serif, serif" stroke="currentColor" stroke-width="1.0" textLength="86.2" lengthAdjust="spacingAndGlyphs">2020</text>
<text x="2122.6" y="2219" fill="#262626" color="#262626" text-anchor="middle" font-size="43.5" font-family="Liberation Serif, serif" stroke="currentColor" stroke-width="1.0" textLength="86.2" lengthAdjust="spacingAndGlyphs">2021</text>
<text x="2280.4" y="2219" fill="#262626" color="#262626" text-anchor="middle" font-size="43.5" font-family="Liberation Serif, serif" stroke="currentColor" stroke-width="1.0" textLength="86.2" lengthAdjust="spacingAndGlyphs">2022</text>
<text x="2438.2" y="2219" fill="#262626" color="#262626" text-anchor="middle" font-size="43.5" font-family="Liberation Serif, serif" stroke="currentColor" stroke-width="1.0" textLength="86.2" lengthAdjust="spacingAndGlyphs">2023</text>
<text x="2595.9" y="2219" fill="#262626" color="#262626" text-anchor="middle" font-size="43.5" font-family="Liberation Serif, serif" stroke="currentColor" stroke-width="1.0" textLength="86.2" lengthAdjust="spacingAndGlyphs">2024</text>
<text x="2754.2" y="2219" fill="#262626" color="#262626" text-anchor="middle" font-size="43.5" font-family="Liberation Serif, serif" stroke="currentColor" stroke-width="1.0" textLength="86.2" lengthAdjust="spacingAndGlyphs">2025</text>
<text transform="translate(171 474.2) rotate(-90)" fill="#660066" color="#660066" text-anchor="middle" font-size="50" font-family="Liberation Serif, serif" stroke="currentColor" stroke-width="1.0" textLength="673" lengthAdjust="spacingAndGlyphs">Oxygen Concentration Corrected</text>
<text transform="translate(225.8 474.2) rotate(-90)" fill="#660066" color="#660066" text-anchor="middle" font-size="50" font-family="Liberation Serif, serif" stroke="currentColor" stroke-width="1.0" textLength="119.4" lengthAdjust="spacingAndGlyphs">(ml/l)</text>
<text transform="translate(206.4 1440.9) rotate(-90)" fill="#1a8c00" color="#1a8c00" text-anchor="middle" font-size="50" font-family="Liberation Serif, serif" stroke="currentColor" stroke-width="1.0" textLength="490.9" lengthAdjust="spacingAndGlyphs">Absolute Salinity (g/kg)</text>
<text transform="translate(3050.2 956.6) rotate(-90)" fill="#00668c" color="#00668c" text-anchor="middle" font-size="50" font-family="Liberation Serif, serif" stroke="currentColor" stroke-width="1.0" textLength="603.6" lengthAdjust="spacingAndGlyphs">Sigma-theta (0 dbar) (kg/m<tspan font-size="35" dy="-19">3</tspan><tspan dy="19">)</tspan></text>
<text transform="translate(3052.2 1925) rotate(-90)" fill="#aa0000" color="#aa0000" text-anchor="middle" font-size="50" font-family="Liberation Serif, serif" stroke="currentColor" stroke-width="1.0" textLength="340.5" lengthAdjust="spacingAndGlyphs">Temperature (C)</text>
<text x="1616" y="2276" text-anchor="middle" font-size="50" fill="#000" color="#000" font-family="Liberation Serif, serif" stroke="currentColor" stroke-width="1.0" textLength="386.9" lengthAdjust="spacingAndGlyphs">Time (years, UTC)</text>
<text x="2941" y="94" text-anchor="end" font-size="49.5" fill="#000" color="#000" font-family="Liberation Serif, serif" stroke="currentColor" stroke-width="1.0" textLength="1196" lengthAdjust="spacingAndGlyphs">Oxygen, Sigma-theta, Salinity and Sea Water Temperature</text>
<text x="2942" y="149" text-anchor="end" font-size="49.5" fill="#000" color="#000" font-family="Liberation Serif, serif" stroke="currentColor" stroke-width="1.0" textLength="1334.8" lengthAdjust="spacingAndGlyphs">Folger Passage <tspan font-size="76" dy="12.9">&#8226;</tspan><tspan dy="-12.9"> </tspan>Folger Deep <tspan font-size="76" dy="12.9">&#8226;</tspan><tspan dy="-12.9"> </tspan>48.8138&#176;N <tspan font-size="76" dy="12.9">&#8226;</tspan><tspan dy="-12.9"> </tspan>125.2808&#176;W <tspan font-size="76" dy="12.9">&#8226;</tspan><tspan dy="-12.9"> </tspan>95.7 m</text>
<text x="2940" y="205" text-anchor="end" font-size="49.5" fill="#000" color="#000" font-family="Liberation Serif, serif" stroke="currentColor" stroke-width="1.0" textLength="1576.3" lengthAdjust="spacingAndGlyphs">State of Ocean Plot <tspan font-size="76" dy="12.9">&#8226;</tspan><tspan dy="-12.9"> </tspan>1 Day Clean Min/Max (Bars) + Clean Average (Lines)</text>
<text x="303.8" y="95" font-size="46" font-weight="bold" fill="#149fc6" font-family="Liberation Sans, sans-serif" textLength="153.8" lengthAdjust="spacingAndGlyphs">OCEAN</text>
<text x="476" y="95" font-size="46" font-weight="bold" fill="#149fc6" font-family="Liberation Sans, sans-serif" textLength="255" lengthAdjust="spacingAndGlyphs">NETWORKS</text>
<text x="748.1" y="95" font-size="46" font-weight="bold" fill="#149fc6" font-family="Liberation Sans, sans-serif" textLength="192.1" lengthAdjust="spacingAndGlyphs">CANADA</text>
<text x="161" y="2356" font-size="34" fill="#000" color="#000" font-family="Liberation Serif, serif" stroke="currentColor" stroke-width="1.0" textLength="2302.7" lengthAdjust="spacingAndGlyphs">Sample period: 2.8 minutes (average). Comments: Clean Data (major quality failures (QAQC 3,4,6) excluded): all data plotted pass QAQC. QAQC testing complete,</text>
<text x="161" y="2394" font-size="34" fill="#000" color="#000" font-family="Liberation Serif, serif" stroke="currentColor" stroke-width="1.0" textLength="1211.7" lengthAdjust="spacingAndGlyphs">manual QAQC screening may be needed for recent data. See documentation for details.</text>
<text x="3151" y="2377" text-anchor="end" font-size="34" font-style="italic" fill="#000" color="#000" font-family="Liberation Serif, serif" stroke="currentColor" stroke-width="1.0" textLength="582.3" lengthAdjust="spacingAndGlyphs">Plot generated 09-Dec-2025 04:16:40 UTC</text>
</svg>
</body></html>
